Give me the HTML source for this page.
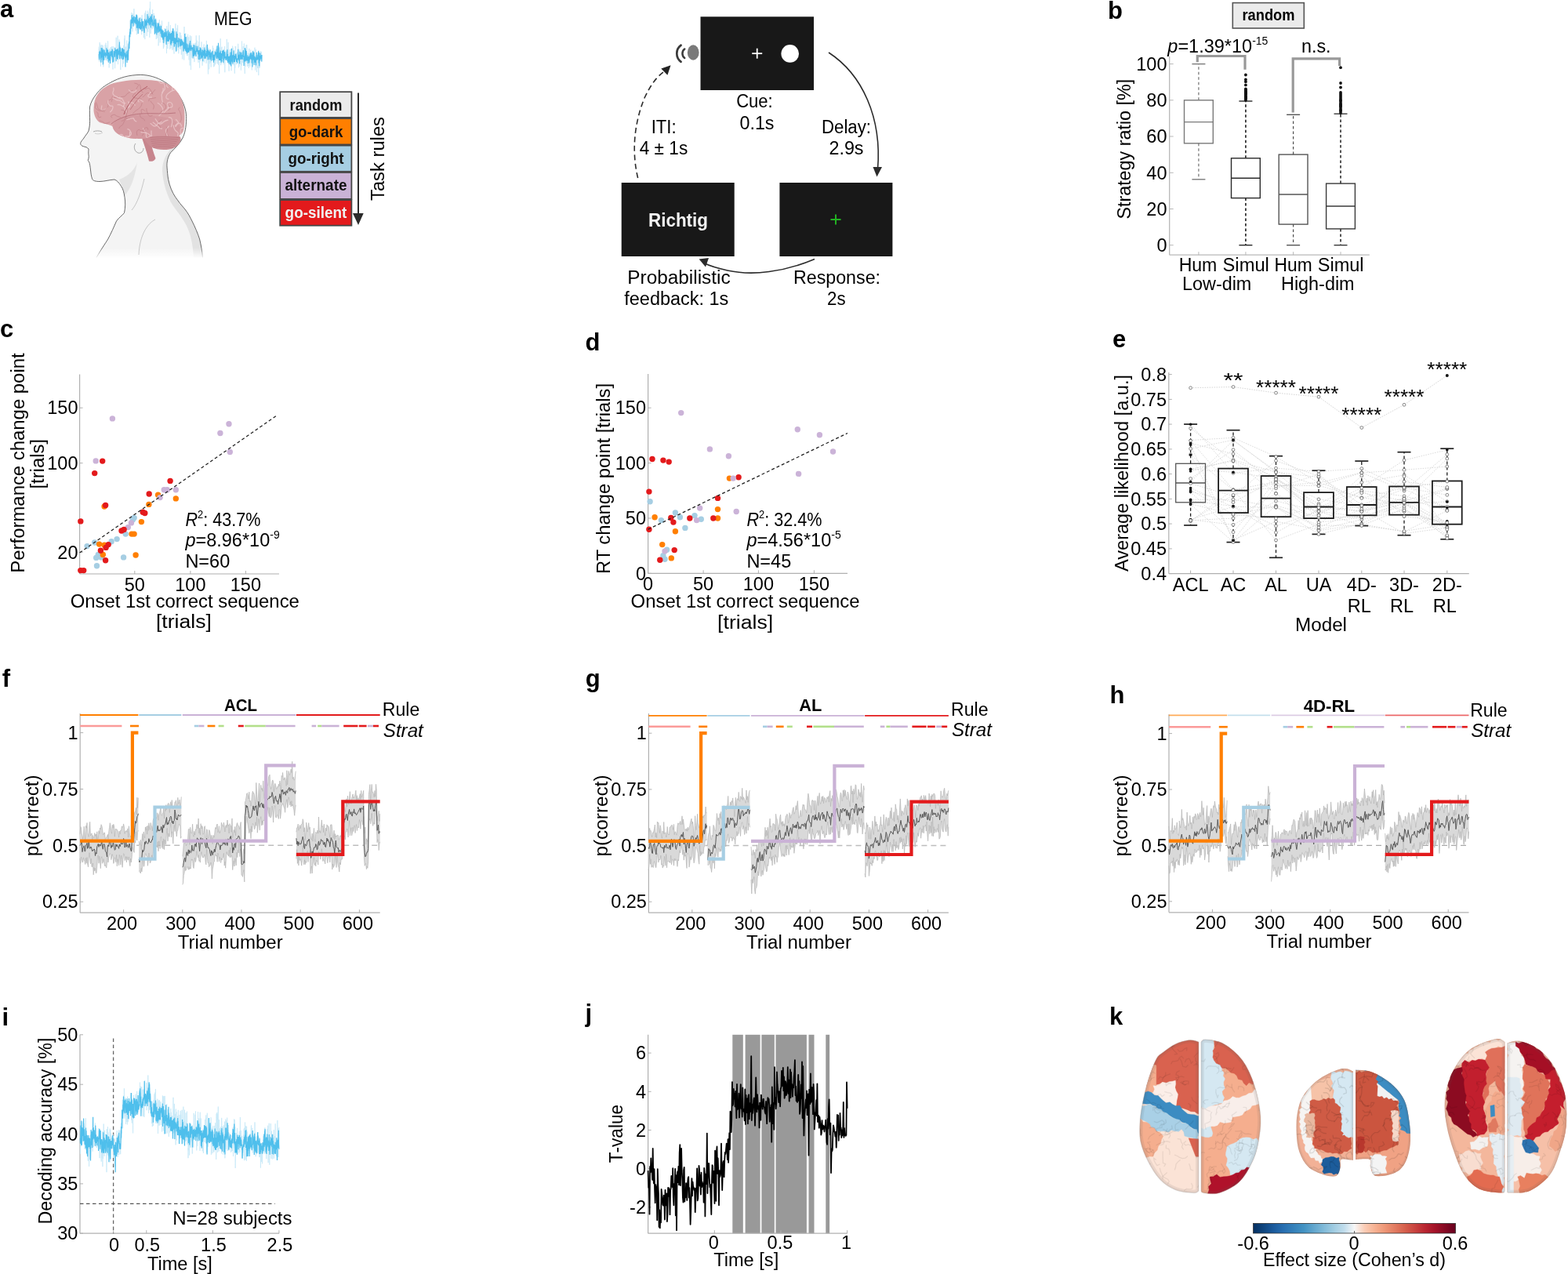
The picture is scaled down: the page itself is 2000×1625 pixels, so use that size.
<!DOCTYPE html>
<html><head><meta charset="utf-8"><title>Figure</title>
<style>html,body{margin:0;padding:0;background:#fff;overflow:hidden;} svg{display:block;} text{font-family:"Liberation Sans", Arial, sans-serif;}</style>
</head><body>
<svg width="2000" height="1625" viewBox="0 0 2000 1625" font-family='"Liberation Sans", Arial, sans-serif'>
<rect width="2000" height="1625" fill="#fff"/>
<polyline points="126.0,59.6 126.2,74.4 126.5,62.0 126.7,76.4 126.9,78.8 127.2,54.0 127.4,68.2 127.6,56.0 127.9,68.9 128.1,77.1 128.3,57.7 128.5,84.6 128.8,66.6 129.0,59.3 129.2,68.6 129.5,76.0 129.7,57.3 129.9,69.1 130.2,57.3 130.4,79.2 130.6,70.3 130.9,65.7 131.1,77.9 131.3,58.2 131.6,66.1 131.8,85.3 132.0,68.6 132.2,81.2 132.5,71.2 132.7,63.7 132.9,67.6 133.2,70.3 133.4,66.1 133.6,62.5 133.9,62.6 134.1,57.0 134.3,70.8 134.6,73.3 134.8,76.3 135.0,54.7 135.3,77.0 135.5,69.8 135.7,57.9 135.9,71.0 136.2,76.8 136.4,74.4 136.6,76.0 136.9,78.0 137.1,77.9 137.3,69.8 137.6,52.4 137.8,63.8 138.0,73.5 138.3,66.4 138.5,76.2 138.7,77.2 139.0,70.8 139.2,86.4 139.4,62.4 139.7,78.3 139.9,66.4 140.1,63.8 140.3,75.5 140.6,64.9 140.8,77.6 141.0,60.2 141.3,70.6 141.5,62.9 141.7,67.8 142.0,66.7 142.2,60.2 142.4,75.3 142.7,59.1 142.9,61.2 143.1,77.0 143.4,77.7 143.6,75.2 143.8,72.2 144.0,88.5 144.3,59.1 144.5,63.0 144.7,60.7 145.0,76.8 145.2,71.6 145.4,78.4 145.7,77.3 145.9,66.6 146.1,61.5 146.4,60.2 146.6,87.2 146.8,76.6 147.1,73.2 147.3,65.3 147.5,66.6 147.7,65.5 148.0,65.6 148.2,47.8 148.4,67.6 148.7,64.6 148.9,70.4 149.1,69.6 149.4,74.8 149.6,67.4 149.8,74.2 150.1,45.7 150.3,57.9 150.5,82.1 150.8,56.9 151.0,64.9 151.2,73.3 151.5,59.7 151.7,73.5 151.9,54.9 152.1,50.5 152.4,55.6 152.6,53.1 152.8,67.0 153.1,64.5 153.3,70.4 153.5,58.5 153.8,89.0 154.0,66.8 154.2,67.4 154.5,71.7 154.7,65.8 154.9,62.6 155.2,68.7 155.4,75.9 155.6,73.7 155.8,76.3 156.1,63.4 156.3,61.4 156.5,85.5 156.8,66.9 157.0,73.0 157.2,75.1 157.5,81.1 157.7,57.8 157.9,65.3 158.2,65.9 158.4,67.1 158.6,49.4 158.9,69.1 159.1,45.3 159.3,72.4 159.5,74.5 159.8,75.5 160.0,60.2 160.2,78.5 160.5,62.7 160.7,59.6 160.9,61.8 161.2,62.6 161.4,71.1 161.6,76.5 161.9,51.5 162.1,64.8 162.3,77.2 162.6,71.1 162.8,73.5 163.0,56.4 163.3,77.0 163.5,55.6 163.7,68.0 163.9,75.2 164.2,76.6 164.4,62.0 164.6,62.4 164.9,46.7 165.1,45.2 165.3,56.5 165.6,43.7 165.8,39.8 166.0,26.1 166.3,38.2 166.5,41.0 166.7,27.0 167.0,27.6 167.2,43.8 167.4,30.3 167.6,24.8 167.9,16.1 168.1,19.8 168.3,23.2 168.6,36.6 168.8,20.1 169.0,40.3 169.3,17.4 169.5,22.5 169.7,32.8 170.0,23.3 170.2,18.5 170.4,24.8 170.7,29.8 170.9,11.1 171.1,23.5 171.3,24.9 171.6,22.4 171.8,32.3 172.0,21.4 172.3,23.1 172.5,26.7 172.7,32.4 173.0,24.3 173.2,39.4 173.4,18.8 173.7,37.6 173.9,19.2 174.1,25.2 174.4,29.6 174.6,44.2 174.8,34.1 175.1,23.0 175.3,37.9 175.5,25.2 175.7,20.6 176.0,31.3 176.2,28.6 176.4,36.0 176.7,23.4 176.9,31.5 177.1,33.9 177.4,31.3 177.6,28.9 177.8,23.3 178.1,37.3 178.3,31.2 178.5,34.4 178.8,27.6 179.0,30.9 179.2,22.1 179.4,31.9 179.7,37.9 179.9,32.5 180.1,39.1 180.4,35.0 180.6,44.2 180.8,31.2 181.1,19.2 181.3,37.2 181.5,32.5 181.8,25.8 182.0,39.8 182.2,36.4 182.5,37.8 182.7,31.0 182.9,35.2 183.1,35.5 183.4,48.1 183.6,27.2 183.8,32.8 184.1,35.6 184.3,17.7 184.5,18.3 184.8,50.1 185.0,16.3 185.2,35.8 185.5,23.7 185.7,24.1 185.9,13.7 186.2,22.5 186.4,36.5 186.6,17.9 186.8,34.2 187.1,32.0 187.3,46.1 187.5,24.7 187.8,39.4 188.0,36.0 188.2,25.6 188.5,13.8 188.7,40.8 188.9,16.1 189.2,23.6 189.4,35.2 189.6,36.9 189.9,20.3 190.1,27.0 190.3,24.8 190.6,36.6 190.8,47.8 191.0,10.7 191.2,34.0 191.5,2.1 191.7,26.0 191.9,16.4 192.2,42.7 192.4,26.8 192.6,19.0 192.9,21.3 193.1,20.4 193.3,26.5 193.6,23.4 193.8,30.2 194.0,37.4 194.3,30.9 194.5,14.8 194.7,12.1 194.9,20.0 195.2,36.0 195.4,24.8 195.6,22.5 195.9,29.8 196.1,17.0 196.3,19.6 196.6,34.0 196.8,27.4 197.0,26.5 197.3,33.4 197.5,25.8 197.7,25.6 198.0,28.0 198.2,37.4 198.4,33.2 198.6,23.0 198.9,31.0 199.1,39.4 199.3,50.0 199.6,24.8 199.8,37.7 200.0,33.0 200.3,42.7 200.5,39.6 200.7,48.6 201.0,40.7 201.2,32.1 201.4,32.4 201.7,40.9 201.9,41.2 202.1,58.4 202.4,52.4 202.6,28.3 202.8,41.7 203.0,27.6 203.3,25.1 203.5,45.8 203.7,44.6 204.0,31.5 204.2,54.4 204.4,32.4 204.7,31.0 204.9,46.6 205.1,43.0 205.4,40.0 205.6,41.3 205.8,44.0 206.1,41.2 206.3,41.2 206.5,26.5 206.7,31.8 207.0,48.5 207.2,37.7 207.4,48.5 207.7,54.5 207.9,41.2 208.1,46.7 208.4,62.1 208.6,50.6 208.8,60.4 209.1,58.0 209.3,51.5 209.5,44.5 209.8,38.4 210.0,36.1 210.2,49.9 210.4,49.6 210.7,44.1 210.9,52.9 211.1,40.9 211.4,55.4 211.6,46.6 211.8,46.0 212.1,46.5 212.3,45.8 212.5,68.1 212.8,33.2 213.0,48.3 213.2,57.4 213.5,53.4 213.7,44.8 213.9,62.1 214.2,38.2 214.4,36.6 214.6,52.7 214.8,35.4 215.1,27.8 215.3,55.6 215.5,54.6 215.8,54.4 216.0,44.1 216.2,49.9 216.5,40.1 216.7,62.9 216.9,54.9 217.2,54.8 217.4,31.9 217.6,55.6 217.9,61.6 218.1,59.3 218.3,55.9 218.5,49.2 218.8,46.1 219.0,54.2 219.2,52.3 219.5,51.2 219.7,46.5 219.9,63.9 220.2,39.9 220.4,49.6 220.6,45.1 220.9,58.9 221.1,62.5 221.3,61.1 221.6,57.0 221.8,38.6 222.0,68.6 222.2,55.2 222.5,50.0 222.7,51.1 222.9,48.0 223.2,54.7 223.4,54.3 223.6,48.6 223.9,30.2 224.1,51.9 224.3,56.5 224.6,56.8 224.8,51.1 225.0,56.4 225.3,61.1 225.5,48.3 225.7,64.8 226.0,35.8 226.2,41.9 226.4,45.1 226.6,32.2 226.9,44.6 227.1,63.7 227.3,63.8 227.6,54.2 227.8,68.3 228.0,55.7 228.3,49.6 228.5,55.8 228.7,52.5 229.0,60.0 229.2,41.1 229.4,62.4 229.7,50.3 229.9,61.7 230.1,41.8 230.3,51.7 230.6,56.1 230.8,63.2 231.0,45.2 231.3,69.7 231.5,59.7 231.7,51.3 232.0,66.1 232.2,56.6 232.4,65.4 232.7,75.4 232.9,62.2 233.1,51.3 233.4,52.2 233.6,61.0 233.8,58.8 234.0,49.4 234.3,50.8 234.5,62.3 234.7,76.5 235.0,34.1 235.2,62.9 235.4,55.0 235.7,63.5 235.9,64.8 236.1,58.0 236.4,49.2 236.6,46.3 236.8,42.4 237.1,68.8 237.3,56.6 237.5,54.1 237.8,56.6 238.0,47.9 238.2,62.1 238.4,70.7 238.7,69.4 238.9,46.3 239.1,71.3 239.4,53.4 239.6,43.7 239.8,49.9 240.1,52.0 240.3,60.1 240.5,51.1 240.8,47.3 241.0,57.8 241.2,76.5 241.5,54.5 241.7,64.7 241.9,61.6 242.1,83.5 242.4,45.0 242.6,70.4 242.8,50.3 243.1,56.3 243.3,60.7 243.5,89.1 243.8,55.7 244.0,46.2 244.2,73.7 244.5,55.5 244.7,60.7 244.9,63.1 245.2,64.7 245.4,62.4 245.6,66.4 245.8,67.6 246.1,71.5 246.3,60.4 246.5,57.8 246.8,55.2 247.0,69.1 247.2,64.0 247.5,69.4 247.7,69.2 247.9,79.1 248.2,66.8 248.4,71.6 248.6,55.3 248.9,56.4 249.1,63.1 249.3,55.6 249.6,71.8 249.8,54.4 250.0,66.6 250.2,45.3 250.5,56.6 250.7,63.4 250.9,64.6 251.2,51.7 251.4,68.0 251.6,75.4 251.9,72.5 252.1,61.6 252.3,62.6 252.6,57.7 252.8,73.0 253.0,79.9 253.3,63.1 253.5,53.2 253.7,69.4 253.9,74.1 254.2,45.1 254.4,69.4 254.6,86.6 254.9,75.2 255.1,73.4 255.3,72.3 255.6,77.6 255.8,60.9 256.0,62.1 256.3,73.0 256.5,64.1 256.7,72.2 257.0,53.4 257.2,75.9 257.4,76.5 257.6,69.8 257.9,71.0 258.1,83.6 258.3,60.6 258.6,62.1 258.8,60.6 259.0,66.3 259.3,61.4 259.5,70.3 259.7,63.9 260.0,57.0 260.2,56.4 260.4,79.4 260.7,68.3 260.9,66.8 261.1,68.7 261.4,67.6 261.6,74.9 261.8,73.5 262.0,64.0 262.3,62.1 262.5,59.6 262.7,58.1 263.0,80.8 263.2,61.2 263.4,51.9 263.7,62.0 263.9,62.7 264.1,72.3 264.4,62.3 264.6,74.3 264.8,73.0 265.1,81.2 265.3,88.7 265.5,94.5 265.7,81.8 266.0,60.7 266.2,67.3 266.4,72.9 266.7,88.3 266.9,76.6 267.1,81.3 267.4,69.9 267.6,76.5 267.8,77.3 268.1,67.2 268.3,77.6 268.5,79.9 268.8,69.4 269.0,79.8 269.2,85.6 269.4,72.2 269.7,71.4 269.9,69.1 270.1,66.3 270.4,73.0 270.6,68.3 270.8,68.9 271.1,65.0 271.3,58.4 271.5,63.5 271.8,74.2 272.0,61.2 272.2,65.8 272.5,85.3 272.7,81.2 272.9,65.7 273.2,76.5 273.4,65.7 273.6,84.5 273.8,65.4 274.1,71.3 274.3,82.4 274.5,63.4 274.8,81.6 275.0,63.6 275.2,72.4 275.5,67.9 275.7,69.6 275.9,71.7 276.2,69.8 276.4,61.5 276.6,77.4 276.9,75.9 277.1,80.7 277.3,81.3 277.5,58.0 277.8,80.5 278.0,81.1 278.2,65.8 278.5,79.4 278.7,82.9 278.9,65.6 279.2,58.6 279.4,67.3 279.6,94.0 279.9,72.5 280.1,60.3 280.3,68.6 280.6,62.4 280.8,67.3 281.0,71.8 281.2,49.2 281.5,74.4 281.7,83.2 281.9,69.8 282.2,68.5 282.4,81.2 282.6,60.9 282.9,61.0 283.1,59.7 283.3,69.9 283.6,74.7 283.8,70.7 284.0,76.3 284.3,79.0 284.5,76.0 284.7,65.0 284.9,69.6 285.2,82.2 285.4,62.6 285.6,69.2 285.9,67.9 286.1,69.8 286.3,61.8 286.6,59.1 286.8,92.2 287.0,78.4 287.3,64.4 287.5,69.9 287.7,75.7 288.0,67.7 288.2,75.9 288.4,65.5 288.7,67.8 288.9,70.1 289.1,66.9 289.3,49.9 289.6,70.9 289.8,73.1 290.0,75.2 290.3,62.8 290.5,74.4 290.7,73.6 291.0,57.2 291.2,53.9 291.4,76.7 291.7,64.4 291.9,81.0 292.1,90.7 292.4,68.0 292.6,66.9 292.8,73.0 293.0,78.6 293.3,63.1 293.5,83.2 293.7,81.0 294.0,78.3 294.2,68.3 294.4,80.5 294.7,80.1 294.9,62.3 295.1,90.2 295.4,69.6 295.6,75.2 295.8,67.4 296.1,75.4 296.3,82.2 296.5,65.7 296.7,58.6 297.0,68.6 297.2,61.2 297.4,65.5 297.7,71.0 297.9,71.6 298.1,83.3 298.4,63.8 298.6,75.3 298.8,68.0 299.1,83.9 299.3,93.7 299.5,75.1 299.8,86.7 300.0,68.0 300.2,59.0 300.5,61.9 300.7,59.0 300.9,64.4 301.1,70.3 301.4,82.4 301.6,78.6 301.8,76.4 302.1,69.1 302.3,66.7 302.5,72.9 302.8,73.6 303.0,74.6 303.2,75.5 303.5,71.3 303.7,55.8 303.9,62.7 304.2,64.8 304.4,86.3 304.6,68.5 304.8,77.9 305.1,84.8 305.3,75.2 305.5,68.8 305.8,69.5 306.0,63.2 306.2,74.6 306.5,82.1 306.7,77.1 306.9,78.7 307.2,78.3 307.4,89.6 307.6,67.4 307.9,74.3 308.1,78.9 308.3,83.6 308.5,52.5 308.8,69.0 309.0,71.6 309.2,64.5 309.5,80.1 309.7,74.5 309.9,69.5 310.2,59.1 310.4,62.0 310.6,64.6 310.9,76.9 311.1,62.7 311.3,55.5 311.6,60.8 311.8,68.0 312.0,87.2 312.3,94.0 312.5,68.7 312.7,80.8 312.9,84.9 313.2,83.7 313.4,71.8 313.6,61.8 313.9,68.8 314.1,57.4 314.3,75.4 314.6,80.0 314.8,57.2 315.0,72.9 315.3,76.0 315.5,84.1 315.7,85.0 316.0,80.3 316.2,67.5 316.4,70.3 316.6,83.8 316.9,68.5 317.1,73.1 317.3,86.9 317.6,74.6 317.8,61.9 318.0,71.1 318.3,78.9 318.5,71.9 318.7,83.5 319.0,84.7 319.2,68.2 319.4,69.7 319.7,73.2 319.9,63.6 320.1,77.0 320.3,72.0 320.6,80.1 320.8,68.6 321.0,66.3 321.3,89.4 321.5,66.2 321.7,68.9 322.0,67.7 322.2,71.6 322.4,66.6 322.7,74.0 322.9,69.0 323.1,71.3 323.4,77.9 323.6,80.7 323.8,78.8 324.1,68.4 324.3,77.9 324.5,73.8 324.7,74.0 325.0,60.7 325.2,81.3 325.4,74.1 325.7,89.6 325.9,80.2 326.1,65.4 326.4,63.2 326.6,84.7 326.8,67.2 327.1,80.3 327.3,72.2 327.5,92.0 327.8,74.8 328.0,87.0 328.2,85.4 328.4,70.0 328.7,71.4 328.9,87.0 329.1,74.4 329.4,66.9 329.6,84.6 329.8,96.1 330.1,74.1 330.3,86.4 330.5,73.2 330.8,86.4 331.0,72.9 331.2,86.3 331.5,79.4 331.7,73.3 331.9,76.6 332.1,70.2 332.4,65.3 332.6,65.8 332.8,74.4 333.1,65.9 333.3,78.5 333.5,79.1 333.8,78.5 334.0,70.4" fill="none" stroke="#c8e9f8" stroke-width="0.8"/>
<polyline points="126.0,69.9 126.2,69.5 126.5,76.4 126.7,65.7 126.9,67.8 127.2,68.5 127.4,69.1 127.6,66.1 127.9,66.7 128.1,74.8 128.3,66.6 128.5,74.4 128.8,79.8 129.0,76.2 129.2,61.1 129.5,73.6 129.7,71.9 129.9,72.3 130.2,61.3 130.4,73.3 130.6,64.0 130.9,76.2 131.1,75.0 131.3,82.4 131.6,68.0 131.8,62.5 132.0,75.4 132.2,74.5 132.5,68.1 132.7,77.0 132.9,73.7 133.2,63.7 133.4,68.3 133.6,67.7 133.9,69.2 134.1,71.1 134.3,66.9 134.6,69.4 134.8,73.4 135.0,70.2 135.3,69.3 135.5,68.9 135.7,70.0 135.9,61.1 136.2,71.2 136.4,65.3 136.6,70.8 136.9,63.1 137.1,75.3 137.3,71.8 137.6,63.8 137.8,72.0 138.0,67.1 138.3,79.8 138.5,73.3 138.7,66.9 139.0,72.0 139.2,70.8 139.4,77.1 139.7,72.7 139.9,73.4 140.1,65.4 140.3,74.9 140.6,81.1 140.8,73.9 141.0,70.4 141.3,71.6 141.5,65.8 141.7,71.2 142.0,64.9 142.2,70.5 142.4,68.3 142.7,66.0 142.9,72.9 143.1,62.5 143.4,69.7 143.6,63.4 143.8,79.0 144.0,79.5 144.3,74.1 144.5,79.3 144.7,72.6 145.0,72.4 145.2,67.5 145.4,65.0 145.7,70.1 145.9,66.3 146.1,66.8 146.4,72.7 146.6,68.2 146.8,61.1 147.1,67.5 147.3,64.8 147.5,67.2 147.7,63.4 148.0,74.8 148.2,78.2 148.4,63.0 148.7,71.6 148.9,71.4 149.1,62.9 149.4,68.5 149.6,75.0 149.8,72.1 150.1,76.0 150.3,61.8 150.5,64.1 150.8,69.2 151.0,69.5 151.2,67.8 151.5,65.7 151.7,65.8 151.9,64.4 152.1,69.4 152.4,53.5 152.6,75.6 152.8,64.9 153.1,60.4 153.3,70.7 153.5,60.7 153.8,69.7 154.0,65.9 154.2,71.0 154.5,72.1 154.7,74.7 154.9,65.8 155.2,66.8 155.4,68.4 155.6,61.3 155.8,71.6 156.1,69.2 156.3,61.6 156.5,74.9 156.8,76.0 157.0,62.7 157.2,72.0 157.5,75.5 157.7,73.7 157.9,64.7 158.2,62.9 158.4,69.3 158.6,67.7 158.9,70.1 159.1,69.7 159.3,72.8 159.5,67.4 159.8,69.8 160.0,85.5 160.2,70.0 160.5,73.9 160.7,71.7 160.9,71.5 161.2,65.5 161.4,72.4 161.6,69.4 161.9,73.7 162.1,79.9 162.3,70.7 162.6,73.4 162.8,64.2 163.0,69.9 163.3,76.8 163.5,68.7 163.7,63.3 163.9,64.8 164.2,59.8 164.4,56.6 164.6,53.1 164.9,61.9 165.1,45.1 165.3,44.7 165.6,40.9 165.8,47.2 166.0,36.8 166.3,43.6 166.5,36.4 166.7,33.7 167.0,24.7 167.2,36.5 167.4,31.6 167.6,29.4 167.9,25.2 168.1,23.1 168.3,19.1 168.6,29.8 168.8,26.7 169.0,23.3 169.3,22.3 169.5,26.2 169.7,25.3 170.0,33.7 170.2,29.6 170.4,23.0 170.7,20.5 170.9,24.6 171.1,21.1 171.3,26.3 171.6,27.9 171.8,29.4 172.0,28.4 172.3,25.4 172.5,29.5 172.7,21.9 173.0,25.9 173.2,30.7 173.4,28.1 173.7,20.4 173.9,20.9 174.1,18.6 174.4,35.7 174.6,19.1 174.8,26.0 175.1,35.8 175.3,32.4 175.5,33.8 175.7,24.9 176.0,31.3 176.2,43.1 176.4,27.8 176.7,30.3 176.9,26.9 177.1,28.6 177.4,31.0 177.6,36.3 177.8,24.9 178.1,22.6 178.3,30.3 178.5,31.4 178.8,37.8 179.0,34.6 179.2,28.0 179.4,34.2 179.7,37.1 179.9,33.3 180.1,30.3 180.4,35.9 180.6,31.0 180.8,23.7 181.1,39.9 181.3,27.2 181.5,32.4 181.8,32.6 182.0,32.8 182.2,32.9 182.5,27.0 182.7,36.6 182.9,33.8 183.1,33.7 183.4,38.6 183.6,38.6 183.8,39.7 184.1,41.9 184.3,34.8 184.5,24.3 184.8,32.9 185.0,31.5 185.2,31.4 185.5,28.1 185.7,26.3 185.9,34.6 186.2,35.1 186.4,24.4 186.6,32.5 186.8,28.4 187.1,27.6 187.3,32.5 187.5,28.6 187.8,26.0 188.0,28.9 188.2,18.1 188.5,25.1 188.7,25.9 188.9,20.8 189.2,28.7 189.4,29.1 189.6,24.5 189.9,26.7 190.1,30.7 190.3,32.4 190.6,22.9 190.8,28.3 191.0,31.5 191.2,26.1 191.5,22.5 191.7,22.1 191.9,24.3 192.2,20.6 192.4,35.5 192.6,22.5 192.9,27.5 193.1,26.2 193.3,28.1 193.6,22.9 193.8,18.1 194.0,32.5 194.3,24.5 194.5,25.8 194.7,26.9 194.9,32.7 195.2,30.9 195.4,33.5 195.6,32.3 195.9,29.4 196.1,30.3 196.3,25.5 196.6,19.9 196.8,28.8 197.0,25.0 197.3,43.7 197.5,38.6 197.7,37.3 198.0,29.2 198.2,42.6 198.4,24.2 198.6,27.1 198.9,29.7 199.1,29.1 199.3,34.7 199.6,35.5 199.8,44.4 200.0,40.2 200.3,41.8 200.5,37.8 200.7,35.4 201.0,32.9 201.2,29.2 201.4,32.6 201.7,35.5 201.9,41.7 202.1,29.6 202.4,31.4 202.6,39.4 202.8,33.5 203.0,40.6 203.3,37.1 203.5,35.7 203.7,33.2 204.0,39.8 204.2,36.8 204.4,37.6 204.7,37.8 204.9,42.0 205.1,41.8 205.4,32.8 205.6,41.1 205.8,44.1 206.1,47.6 206.3,46.6 206.5,43.6 206.7,37.5 207.0,39.5 207.2,48.3 207.4,40.3 207.7,49.2 207.9,50.6 208.1,39.0 208.4,46.7 208.6,44.1 208.8,54.9 209.1,49.2 209.3,42.5 209.5,47.5 209.8,41.0 210.0,44.8 210.2,46.8 210.4,46.3 210.7,47.1 210.9,41.1 211.1,36.8 211.4,44.2 211.6,41.8 211.8,42.8 212.1,57.1 212.3,52.5 212.5,46.0 212.8,39.7 213.0,40.4 213.2,48.7 213.5,52.6 213.7,45.9 213.9,48.0 214.2,48.5 214.4,53.0 214.6,38.4 214.8,48.5 215.1,50.0 215.3,52.8 215.5,50.1 215.8,42.7 216.0,45.3 216.2,40.8 216.5,49.3 216.7,49.1 216.9,50.8 217.2,43.6 217.4,42.8 217.6,56.3 217.9,49.8 218.1,57.7 218.3,51.3 218.5,41.9 218.8,53.0 219.0,55.3 219.2,46.8 219.5,39.5 219.7,52.5 219.9,48.9 220.2,51.2 220.4,36.3 220.6,52.4 220.9,36.3 221.1,46.0 221.3,54.9 221.6,41.5 221.8,41.2 222.0,48.6 222.2,59.1 222.5,59.0 222.7,47.9 222.9,55.9 223.2,54.0 223.4,53.0 223.6,53.4 223.9,48.5 224.1,56.2 224.3,57.8 224.6,65.8 224.8,57.0 225.0,40.3 225.3,46.4 225.5,54.0 225.7,52.7 226.0,43.1 226.2,51.9 226.4,51.0 226.6,52.7 226.9,52.5 227.1,57.6 227.3,60.5 227.6,56.8 227.8,48.1 228.0,49.4 228.3,50.5 228.5,53.4 228.7,51.6 229.0,52.0 229.2,49.2 229.4,58.6 229.7,58.5 229.9,59.2 230.1,54.4 230.3,57.5 230.6,50.8 230.8,50.5 231.0,52.8 231.3,58.4 231.5,54.8 231.7,50.0 232.0,56.2 232.2,57.8 232.4,56.4 232.7,52.3 232.9,55.9 233.1,53.6 233.4,54.1 233.6,55.6 233.8,60.1 234.0,65.6 234.3,64.2 234.5,59.8 234.7,54.6 235.0,54.9 235.2,55.4 235.4,62.5 235.7,43.1 235.9,58.7 236.1,47.6 236.4,57.8 236.6,64.8 236.8,53.8 237.1,47.0 237.3,64.8 237.5,66.2 237.8,61.4 238.0,65.6 238.2,55.5 238.4,65.4 238.7,68.2 238.9,62.8 239.1,61.1 239.4,66.4 239.6,65.6 239.8,56.6 240.1,67.0 240.3,63.9 240.5,60.7 240.8,66.7 241.0,64.7 241.2,63.9 241.5,57.9 241.7,64.9 241.9,55.3 242.1,60.3 242.4,52.7 242.6,52.6 242.8,63.4 243.1,60.9 243.3,62.0 243.5,65.0 243.8,64.0 244.0,57.8 244.2,63.1 244.5,62.3 244.7,60.2 244.9,62.7 245.2,62.0 245.4,60.6 245.6,62.4 245.8,65.5 246.1,74.5 246.3,60.0 246.5,66.8 246.8,57.0 247.0,72.0 247.2,62.8 247.5,65.4 247.7,71.0 247.9,69.7 248.2,57.6 248.4,68.0 248.6,64.4 248.9,68.6 249.1,66.5 249.3,69.6 249.6,67.4 249.8,65.0 250.0,71.9 250.2,58.5 250.5,63.8 250.7,61.5 250.9,66.1 251.2,64.8 251.4,66.3 251.6,64.7 251.9,64.6 252.1,59.0 252.3,67.4 252.6,69.3 252.8,64.7 253.0,64.3 253.3,64.4 253.5,76.0 253.7,68.7 253.9,70.0 254.2,66.7 254.4,65.8 254.6,63.8 254.9,76.0 255.1,60.2 255.3,70.3 255.6,68.4 255.8,67.6 256.0,61.4 256.3,63.4 256.5,74.9 256.7,66.5 257.0,74.0 257.2,72.8 257.4,72.2 257.6,73.3 257.9,63.5 258.1,67.5 258.3,73.2 258.6,63.6 258.8,78.2 259.0,67.1 259.3,69.7 259.5,64.8 259.7,71.2 260.0,65.6 260.2,68.3 260.4,63.4 260.7,74.8 260.9,60.6 261.1,70.7 261.4,69.5 261.6,70.7 261.8,63.6 262.0,74.2 262.3,73.9 262.5,69.7 262.7,70.3 263.0,68.1 263.2,72.2 263.4,65.0 263.7,72.0 263.9,71.4 264.1,62.4 264.4,56.7 264.6,69.2 264.8,68.9 265.1,76.5 265.3,70.6 265.5,67.8 265.7,63.6 266.0,70.1 266.2,67.8 266.4,65.3 266.7,70.2 266.9,76.1 267.1,71.6 267.4,66.2 267.6,73.1 267.8,65.7 268.1,63.2 268.3,73.4 268.5,68.0 268.8,76.3 269.0,72.7 269.2,67.6 269.4,72.7 269.7,77.8 269.9,70.8 270.1,66.2 270.4,68.4 270.6,67.7 270.8,65.7 271.1,65.1 271.3,73.6 271.5,77.0 271.8,69.6 272.0,75.2 272.2,75.8 272.5,79.8 272.7,70.7 272.9,69.9 273.2,73.5 273.4,71.7 273.6,72.2 273.8,76.9 274.1,68.4 274.3,71.8 274.5,65.5 274.8,69.7 275.0,67.2 275.2,66.6 275.5,69.3 275.7,68.1 275.9,72.2 276.2,74.4 276.4,62.7 276.6,75.1 276.9,58.6 277.1,71.0 277.3,73.1 277.5,66.1 277.8,68.5 278.0,66.2 278.2,74.8 278.5,54.7 278.7,65.6 278.9,60.5 279.2,71.2 279.4,76.9 279.6,76.2 279.9,73.8 280.1,71.8 280.3,66.9 280.6,77.0 280.8,73.8 281.0,66.8 281.2,64.6 281.5,68.2 281.7,76.6 281.9,77.7 282.2,79.8 282.4,68.1 282.6,69.8 282.9,78.5 283.1,72.7 283.3,75.1 283.6,64.8 283.8,69.6 284.0,71.5 284.3,70.1 284.5,69.7 284.7,63.7 284.9,80.0 285.2,72.3 285.4,64.2 285.6,76.8 285.9,71.8 286.1,74.9 286.3,70.1 286.6,66.7 286.8,66.8 287.0,72.1 287.3,74.3 287.5,72.9 287.7,73.3 288.0,76.7 288.2,72.1 288.4,75.8 288.7,76.5 288.9,72.4 289.1,70.5 289.3,68.7 289.6,64.8 289.8,63.3 290.0,77.9 290.3,71.4 290.5,68.9 290.7,79.9 291.0,77.3 291.2,73.1 291.4,77.8 291.7,71.7 291.9,74.5 292.1,81.8 292.4,78.4 292.6,71.7 292.8,76.8 293.0,79.1 293.3,72.4 293.5,70.9 293.7,82.3 294.0,71.5 294.2,66.6 294.4,73.8 294.7,84.6 294.9,76.1 295.1,77.6 295.4,61.7 295.6,69.8 295.8,78.4 296.1,70.6 296.3,79.5 296.5,75.5 296.7,75.3 297.0,81.4 297.2,70.4 297.4,70.3 297.7,73.2 297.9,73.9 298.1,64.5 298.4,79.2 298.6,74.1 298.8,72.2 299.1,76.1 299.3,70.9 299.5,79.2 299.8,73.5 300.0,76.8 300.2,68.9 300.5,71.9 300.7,75.0 300.9,68.4 301.1,69.7 301.4,73.0 301.6,78.9 301.8,76.9 302.1,77.9 302.3,75.0 302.5,77.7 302.8,80.7 303.0,73.9 303.2,75.1 303.5,75.8 303.7,62.8 303.9,72.3 304.2,74.6 304.4,76.3 304.6,71.2 304.8,77.6 305.1,69.7 305.3,72.1 305.5,81.2 305.8,65.8 306.0,72.1 306.2,71.9 306.5,72.6 306.7,70.1 306.9,75.9 307.2,67.4 307.4,66.5 307.6,75.7 307.9,67.5 308.1,75.2 308.3,73.5 308.5,70.2 308.8,72.2 309.0,73.3 309.2,75.9 309.5,70.2 309.7,72.0 309.9,66.1 310.2,72.0 310.4,64.0 310.6,73.1 310.9,71.1 311.1,83.9 311.3,79.8 311.6,72.7 311.8,78.1 312.0,74.6 312.3,67.2 312.5,60.9 312.7,78.6 312.9,75.2 313.2,63.2 313.4,76.2 313.6,77.6 313.9,69.7 314.1,77.4 314.3,65.0 314.6,72.5 314.8,73.7 315.0,77.4 315.3,75.7 315.5,74.8 315.7,76.2 316.0,70.4 316.2,80.9 316.4,71.9 316.6,77.7 316.9,73.8 317.1,72.4 317.3,76.7 317.6,75.9 317.8,80.4 318.0,79.1 318.3,70.8 318.5,76.2 318.7,74.3 319.0,69.9 319.2,68.4 319.4,75.3 319.7,71.6 319.9,67.0 320.1,73.5 320.3,74.8 320.6,74.1 320.8,67.8 321.0,71.0 321.3,80.7 321.5,69.9 321.7,72.4 322.0,85.5 322.2,76.0 322.4,72.0 322.7,64.7 322.9,76.6 323.1,68.0 323.4,74.7 323.6,70.5 323.8,66.5 324.1,83.0 324.3,74.0 324.5,79.5 324.7,78.6 325.0,71.7 325.2,76.1 325.4,73.6 325.7,79.9 325.9,77.0 326.1,73.2 326.4,83.2 326.6,77.5 326.8,77.0 327.1,70.6 327.3,76.8 327.5,66.8 327.8,76.4 328.0,69.5 328.2,75.0 328.4,72.6 328.7,75.3 328.9,76.2 329.1,74.0 329.4,73.9 329.6,66.9 329.8,64.7 330.1,80.6 330.3,77.2 330.5,67.0 330.8,84.2 331.0,71.1 331.2,77.2 331.5,76.6 331.7,75.1 331.9,77.3 332.1,67.6 332.4,74.3 332.6,73.2 332.8,74.9 333.1,73.1 333.3,71.1 333.5,70.5 333.8,78.4 334.0,69.9" fill="none" stroke="#4dbdec" stroke-width="1.1"/>
<text x="273.0" y="32.0" font-size="23.5" textLength="48.5" lengthAdjust="spacingAndGlyphs">MEG</text>
<path d="M123,328.5 C129,318 134,311 137.7,305 C142,297 145,290 148.5,282 C152,277 156,275 158.5,271.5 C160,265 160,257 159,251.5 C158,245 157,241 154.6,237.7 C152,233 149,230 146,229 C139,229.5 133,231.5 127,231.5 C122,231.5 118.5,230.5 117.7,228.5 C116,224 116,220 115.4,216 C115,212 114.5,209 113.8,207 C113,205.5 112,205 112.3,204 C113,202 113.5,200 113,197.7 C112.5,195 113,192 113,190 C112,189 111,188.3 110,187.7 C107,187 105,186.5 103.8,185.4 C102.5,184.3 102.5,183 103,181.5 C104.5,179 106,177.5 107,176 C109.5,172 112,169.5 113,167 C114,163 114.6,159 114.6,154.6 C114.6,148 114,142 114.6,136 C116,130 119,125 122.3,120.8 C128,113 134,109 140.8,105.4 C152,99 165,95.5 179.2,95.4 C200,95.5 222,108 232,128 C236,136 238,144 237.7,151.5 C237.5,162 236,170 233,176 C229,184 223,189 217.7,194.6 C214,200 212.5,207 213,213 C213.5,219 213.8,224 214.6,228.5 C216.5,238 219.5,245 223.8,251.5 C227.5,257 231.5,262 236,267 C240,272 242.5,277 245,282 C249,290 252,297 254.6,305 C256.5,313 257.8,320 258.5,328.5 Z" fill="#f4f4f4"/>
<path d="M233,176 C229,184 223,189 217.7,194.6 C214,200 212.5,207 213,213 C213.5,219 213.8,224 214.6,228.5 C216.5,238 219.5,245 223.8,251.5 C227.5,257 231.5,262 236,267 C240,272 242.5,277 245,282 C249,290 252,297 254.6,305 C256.5,313 257.8,320 258.5,328.5 L247,328.5 C246,312 243,298 238,288 C232,276 224,268 218,258 C212,246 208,232 207,218 C207,205 212,196 220,188 Z" fill="#e2e2e2"/>
<path d="M175,207 C172,216 165,224 152,229 C155,236 157,242 159,250 C168,238 172,226 175,207 Z" fill="#e4e4e4"/>
<path d="M123,328.5 C129,318 134,311 137.7,305 C142,297 145,290 148.5,282 C152,277 156,275 158.5,271.5 C160,265 160,257 159,251.5 C158,245 157,241 154.6,237.7 C152,233 149,230 146,229 C139,229.5 133,231.5 127,231.5 C122,231.5 118.5,230.5 117.7,228.5 C116,224 116,220 115.4,216 C115,212 114.5,209 113.8,207 C113,205.5 112,205 112.3,204 C113,202 113.5,200 113,197.7 C112.5,195 113,192 113,190 C112,189 111,188.3 110,187.7 C107,187 105,186.5 103.8,185.4 C102.5,184.3 102.5,183 103,181.5 C104.5,179 106,177.5 107,176 C109.5,172 112,169.5 113,167 C114,163 114.6,159 114.6,154.6 C114.6,148 114,142 114.6,136 C116,130 119,125 122.3,120.8 C128,113 134,109 140.8,105.4 C152,99 165,95.5 179.2,95.4 C200,95.5 222,108 232,128 C236,136 238,144 237.7,151.5 C237.5,162 236,170 233,176 C229,184 223,189 217.7,194.6 C214,200 212.5,207 213,213 C213.5,219 213.8,224 214.6,228.5 C216.5,238 219.5,245 223.8,251.5 C227.5,257 231.5,262 236,267 C240,272 242.5,277 245,282 C249,290 252,297 254.6,305 C256.5,313 257.8,320 258.5,328.5" fill="none" stroke="#5a5a5a" stroke-width="0.9"/>
<defs><linearGradient id="fadeb" x1="0" x2="0" y1="0" y2="1"><stop offset="0" stop-color="#fff" stop-opacity="0"/><stop offset="1" stop-color="#fff" stop-opacity="1"/></linearGradient></defs>
<rect x="115.0" y="316.0" width="150.0" height="14.0" fill="url(#fadeb)"/>
<path d="M173,183 C170,186 171,193 176,195 C180,196 183,193 183,189" fill="none" stroke="#777" stroke-width="0.6"/>
<path d="M119,168 C122,166.5 127,166.5 130,168" fill="none" stroke="#888" stroke-width="0.7"/>
<path d="M121,170 C124,171.5 128,171 131,169" fill="none" stroke="#aaa" stroke-width="0.5"/>
<path d="M184,228 C180,245 175,260 168,268" fill="none" stroke="#999" stroke-width="0.5"/>
<path d="M198,280 C188,285 178,300 177,325" fill="none" stroke="#999" stroke-width="0.5"/>
<path d="M181,176 L191,176 C193,186 196,195 198.5,202 C197,205.5 193,206.5 190,205.5 C188,197 185,188 181,176 Z" fill="#c7858d"/>
<path d="M183,175 C188,170 205,169 218,170.5 C226,171.5 231,173 230.5,178 C229.5,184 224,189 216,190.5 C207,192 199,190.5 194,188 C189,185 185,180 183,175 Z" fill="#cb8c93"/>
<path d="M191.0,175.5 C201,174.3 214,174.0 229.0,175.8" fill="none" stroke="#b57079" stroke-width="0.55"/>
<path d="M191.8,178.0 C201,176.8 214,176.5 227.4,178.3" fill="none" stroke="#b57079" stroke-width="0.55"/>
<path d="M192.6,180.5 C201,179.3 214,179.0 225.8,180.8" fill="none" stroke="#b57079" stroke-width="0.55"/>
<path d="M193.4,183.0 C201,181.8 214,181.5 224.2,183.3" fill="none" stroke="#b57079" stroke-width="0.55"/>
<path d="M194.2,185.5 C201,184.3 214,184.0 222.6,185.8" fill="none" stroke="#b57079" stroke-width="0.55"/>
<path d="M195.0,188.0 C201,186.8 214,186.5 221.0,188.3" fill="none" stroke="#b57079" stroke-width="0.55"/>
<path d="M122,125 C128,112 140,106 155,104 C170,101 190,101 205,104 C218,107 228,116 232,128 C236,138 236,150 235,160 C234.5,168 232,172 226,174 C215,174 200,172 190,175 C184,177 180,177 176,177 C170,177 162,176 156,173.5 C149,171 145,167 143.5,161 C140,159 134,158 128,156.5 C123,154 120,148 119.5,141 C119.5,135 120,130 122,125 Z" fill="#d9a2a6"/>
<path d="M143.5,161 C146,152 156,148 170,147 C185,146 200,148 212,150 C222,152 229,158 231,166 C231,170 229,173 226,174 C215,174 200,172 190,175 C184,177 180,177 176,177 C170,177 162,176 156,173.5 C149,171 145,167 143.5,161 Z" fill="#d49aa0"/>
<defs><clipPath id="brainclip"><path d="M122,125 C128,112 140,106 155,104 C170,101 190,101 205,104 C218,107 228,116 232,128 C236,138 236,150 235,160 C234.5,168 232,172 226,174 C215,174 200,172 190,175 C184,177 180,177 176,177 C170,177 162,176 156,173.5 C149,171 145,167 143.5,161 C140,159 134,158 128,156.5 C123,154 120,148 119.5,141 C119.5,135 120,130 122,125 Z"/></clipPath></defs>
<g clip-path="url(#brainclip)">
<path d="M191.8,180.9 Q191.2,177.9 189.9,177.1 Q188.6,176.3 187.4,175.4 Q186.2,174.5 186.4,173.0 Q186.6,171.6 186.2,170.1 Q185.8,168.7 184.7,167.6 Q183.7,166.5 183.2,165.1 L182.6,163.7" fill="none" stroke="#ebc8cb" stroke-width="1.3" stroke-linecap="round" opacity="0.75"/>
<path d="M150.9,123.7 Q148.1,124.8 146.6,124.5 Q145.1,124.2 144.2,125.4 Q143.2,126.5 142.7,128.0 L142.3,129.4" fill="none" stroke="#bf7a82" stroke-width="0.7" stroke-linecap="round" opacity="0.8"/>
<path d="M191.4,189.0 Q194.2,190.0 195.5,190.8 Q196.8,191.6 198.0,192.5 Q199.1,193.5 200.4,194.2 Q201.7,195.0 201.8,193.5 Q202.0,192.0 201.5,190.6 Q201.0,189.2 200.4,187.8 L199.9,186.4" fill="none" stroke="#ebc8cb" stroke-width="1.3" stroke-linecap="round" opacity="0.75"/>
<path d="M178.7,145.2 Q178.4,148.2 179.3,149.4 Q180.2,150.5 181.7,150.9 Q183.2,151.3 183.9,152.6 L184.5,153.9" fill="none" stroke="#bf7a82" stroke-width="0.7" stroke-linecap="round" opacity="0.8"/>
<path d="M161.6,101.3 Q162.8,98.6 163.5,97.3 Q164.3,96.0 165.0,94.7 Q165.8,93.4 165.2,92.0 Q164.6,90.7 164.1,89.3 Q163.5,87.9 164.5,86.7 L165.5,85.6" fill="none" stroke="#ebc8cb" stroke-width="1.3" stroke-linecap="round" opacity="0.75"/>
<path d="M128.8,149.2 Q126.1,150.5 125.5,149.1 Q124.9,147.8 125.1,146.3 Q125.4,144.8 124.3,143.8 L123.3,142.7" fill="none" stroke="#bf7a82" stroke-width="0.7" stroke-linecap="round" opacity="0.8"/>
<path d="M163.7,129.8 Q165.6,132.1 165.8,133.6 Q166.1,135.1 164.8,135.9 Q163.5,136.7 162.9,138.0 Q162.2,139.3 161.3,140.6 L160.4,141.8" fill="none" stroke="#ebc8cb" stroke-width="1.3" stroke-linecap="round" opacity="0.75"/>
<path d="M197.8,114.4 Q195.8,116.7 195.0,117.9 Q194.2,119.2 192.7,119.6 Q191.3,120.0 190.1,119.1 Q188.9,118.2 187.5,118.8 Q186.1,119.4 185.4,120.7 Q184.7,122.0 183.4,122.8 L182.1,123.6" fill="none" stroke="#bf7a82" stroke-width="0.7" stroke-linecap="round" opacity="0.8"/>
<path d="M221.1,159.9 Q221.7,162.9 222.4,164.2 Q223.0,165.6 224.1,166.7 Q225.1,167.8 226.3,168.6 Q227.5,169.5 227.1,171.0 Q226.7,172.4 226.8,173.9 Q226.9,175.4 227.4,176.8 L227.9,178.3" fill="none" stroke="#ebc8cb" stroke-width="1.3" stroke-linecap="round" opacity="0.75"/>
<path d="M139.3,179.7 Q136.3,179.7 134.8,179.7 Q133.3,179.7 131.9,180.3 Q130.5,180.8 129.2,180.0 Q128.0,179.2 127.3,177.9 Q126.6,176.5 125.9,175.2 Q125.1,173.9 125.2,172.4 L125.2,170.9" fill="none" stroke="#bf7a82" stroke-width="0.7" stroke-linecap="round" opacity="0.8"/>
<path d="M182.6,129.7 Q180.1,128.1 179.0,127.0 Q178.0,125.9 176.7,126.7 Q175.4,127.4 176.3,128.7 L177.1,129.9" fill="none" stroke="#ebc8cb" stroke-width="1.3" stroke-linecap="round" opacity="0.75"/>
<path d="M195.6,139.1 Q196.7,136.3 196.3,134.9 Q195.9,133.4 194.8,132.4 Q193.7,131.3 192.8,130.1 L192.0,128.9" fill="none" stroke="#bf7a82" stroke-width="0.7" stroke-linecap="round" opacity="0.8"/>
<path d="M159.9,147.2 Q161.4,144.6 160.9,143.2 Q160.5,141.7 159.9,140.3 Q159.4,138.9 158.9,137.5 Q158.3,136.1 156.9,135.6 Q155.6,135.0 154.3,134.2 Q153.0,133.4 151.6,133.5 L150.1,133.7" fill="none" stroke="#ebc8cb" stroke-width="1.3" stroke-linecap="round" opacity="0.75"/>
<path d="M214.2,102.3 Q211.4,101.3 209.9,100.9 Q208.5,100.6 208.1,102.0 Q207.8,103.5 208.8,104.7 Q209.7,105.8 210.3,107.2 Q210.9,108.6 212.2,107.8 Q213.5,107.0 215.0,107.3 L216.5,107.5" fill="none" stroke="#bf7a82" stroke-width="0.7" stroke-linecap="round" opacity="0.8"/>
<path d="M158.8,185.4 Q156.3,183.8 155.1,184.7 Q153.9,185.6 152.5,185.1 Q151.1,184.6 151.0,183.1 Q150.9,181.6 150.7,180.2 Q150.5,178.7 149.9,177.3 Q149.4,175.9 148.7,174.5 L148.0,173.2" fill="none" stroke="#ebc8cb" stroke-width="1.3" stroke-linecap="round" opacity="0.75"/>
<path d="M205.6,152.7 Q203.0,154.1 202.4,155.5 Q201.8,156.8 201.9,158.3 Q202.0,159.8 203.3,160.5 Q204.6,161.2 204.7,162.7 L204.9,164.2" fill="none" stroke="#bf7a82" stroke-width="0.7" stroke-linecap="round" opacity="0.8"/>
<path d="M179.3,185.6 Q180.1,188.5 181.0,189.7 Q182.0,190.8 183.0,192.0 Q183.9,193.1 185.2,193.9 Q186.4,194.8 187.9,195.2 Q189.3,195.7 190.4,194.7 Q191.4,193.6 191.7,192.2 L191.9,190.7" fill="none" stroke="#ebc8cb" stroke-width="1.3" stroke-linecap="round" opacity="0.75"/>
<path d="M143.1,182.5 Q145.3,180.5 146.7,181.0 Q148.1,181.6 149.2,180.6 Q150.3,179.5 151.2,178.3 Q152.0,177.1 152.2,175.6 Q152.4,174.1 151.0,173.7 Q149.5,173.3 148.6,172.1 L147.6,171.0" fill="none" stroke="#bf7a82" stroke-width="0.7" stroke-linecap="round" opacity="0.8"/>
<path d="M192.1,157.5 Q194.4,159.5 195.6,160.4 Q196.8,161.2 198.3,160.8 Q199.7,160.4 200.2,159.0 Q200.7,157.6 202.1,157.3 Q203.6,157.0 204.9,156.2 L206.1,155.4" fill="none" stroke="#ebc8cb" stroke-width="1.3" stroke-linecap="round" opacity="0.75"/>
<path d="M212.6,179.1 Q209.7,179.9 208.3,179.5 Q206.8,179.2 205.3,179.2 Q203.8,179.2 202.3,179.3 L200.9,179.5" fill="none" stroke="#bf7a82" stroke-width="0.7" stroke-linecap="round" opacity="0.8"/>
<path d="M147.8,123.1 Q150.1,125.1 151.5,124.6 Q152.9,124.0 154.2,124.6 Q155.6,125.1 156.2,126.5 Q156.9,127.9 157.6,129.2 Q158.4,130.5 158.5,132.0 Q158.7,133.4 157.9,134.7 L157.1,136.0" fill="none" stroke="#ebc8cb" stroke-width="1.3" stroke-linecap="round" opacity="0.75"/>
<path d="M181.5,173.2 Q183.3,170.8 182.8,169.4 Q182.2,168.0 182.7,166.6 Q183.2,165.2 184.2,164.0 Q185.2,162.9 186.7,162.7 Q188.2,162.5 188.5,163.9 L188.8,165.4" fill="none" stroke="#bf7a82" stroke-width="0.7" stroke-linecap="round" opacity="0.8"/>
<path d="M218.8,105.5 Q219.5,108.4 219.9,109.9 Q220.3,111.3 219.7,112.7 Q219.1,114.1 220.3,115.0 Q221.5,115.9 222.3,114.6 Q223.0,113.3 224.1,112.3 Q225.1,111.2 226.2,110.1 L227.2,109.0" fill="none" stroke="#ebc8cb" stroke-width="1.3" stroke-linecap="round" opacity="0.75"/>
<path d="M208.5,179.6 Q211.5,179.6 213.0,179.5 Q214.5,179.3 215.4,178.2 Q216.4,177.0 215.5,175.8 Q214.6,174.6 214.3,173.1 L214.0,171.7" fill="none" stroke="#bf7a82" stroke-width="0.7" stroke-linecap="round" opacity="0.8"/>
<path d="M192.6,174.3 Q191.2,171.6 189.8,171.1 Q188.5,170.5 187.2,169.7 Q185.9,168.9 184.4,169.0 Q182.9,169.1 181.5,168.8 L180.0,168.5" fill="none" stroke="#ebc8cb" stroke-width="1.3" stroke-linecap="round" opacity="0.75"/>
<path d="M194.8,120.1 Q193.5,117.4 192.7,116.1 Q191.9,114.8 191.2,113.5 Q190.4,112.3 188.9,112.5 Q187.4,112.7 186.1,113.4 L184.8,114.1" fill="none" stroke="#bf7a82" stroke-width="0.7" stroke-linecap="round" opacity="0.8"/>
<path d="M129.9,134.9 Q129.4,137.8 129.1,139.3 Q128.8,140.8 130.3,140.7 Q131.8,140.7 133.1,139.9 L134.4,139.1" fill="none" stroke="#ebc8cb" stroke-width="1.3" stroke-linecap="round" opacity="0.75"/>
<path d="M143.4,123.0 Q143.1,126.0 141.8,126.6 Q140.4,127.3 139.0,127.8 Q137.6,128.4 137.3,129.8 Q136.9,131.3 137.6,132.6 Q138.4,133.9 137.8,135.3 L137.2,136.7" fill="none" stroke="#bf7a82" stroke-width="0.7" stroke-linecap="round" opacity="0.8"/>
<path d="M208.1,112.7 Q208.3,115.7 207.8,117.1 Q207.3,118.5 206.5,119.8 Q205.8,121.1 206.2,122.5 Q206.7,123.9 206.5,125.4 Q206.4,126.9 207.0,128.3 Q207.7,129.6 207.1,131.0 L206.5,132.3" fill="none" stroke="#ebc8cb" stroke-width="1.3" stroke-linecap="round" opacity="0.75"/>
<path d="M169.3,179.7 Q170.1,182.6 168.8,183.2 Q167.4,183.9 166.3,182.9 Q165.1,182.0 163.7,181.5 L162.3,181.0" fill="none" stroke="#bf7a82" stroke-width="0.7" stroke-linecap="round" opacity="0.8"/>
<path d="M215.4,161.0 Q213.5,163.3 212.4,164.4 Q211.4,165.4 211.5,166.9 Q211.6,168.4 212.1,169.8 Q212.5,171.3 213.2,172.6 Q213.8,174.0 213.1,175.3 L212.4,176.6" fill="none" stroke="#ebc8cb" stroke-width="1.3" stroke-linecap="round" opacity="0.75"/>
<path d="M223.8,112.2 Q226.1,114.2 227.4,114.7 Q228.8,115.3 229.6,114.0 Q230.3,112.7 231.8,113.0 L233.3,113.3" fill="none" stroke="#bf7a82" stroke-width="0.7" stroke-linecap="round" opacity="0.8"/>
<path d="M228.8,176.0 Q229.8,173.2 230.0,171.7 Q230.3,170.2 230.2,168.7 Q230.2,167.2 230.2,165.7 Q230.3,164.2 231.7,163.7 Q233.1,163.2 234.6,163.4 L236.1,163.5" fill="none" stroke="#ebc8cb" stroke-width="1.3" stroke-linecap="round" opacity="0.75"/>
<path d="M162.6,138.4 Q162.9,141.4 162.4,142.8 Q161.9,144.2 161.3,145.6 Q160.8,147.0 160.6,148.5 Q160.5,150.0 161.5,151.0 L162.6,152.1" fill="none" stroke="#bf7a82" stroke-width="0.7" stroke-linecap="round" opacity="0.8"/>
<path d="M163.0,174.9 Q165.3,173.0 166.6,172.2 Q167.8,171.4 167.4,169.9 Q166.9,168.5 166.2,167.2 Q165.5,165.8 164.2,165.2 L162.8,164.7" fill="none" stroke="#ebc8cb" stroke-width="1.3" stroke-linecap="round" opacity="0.75"/>
<path d="M215.4,182.9 Q218.2,182.0 219.2,183.1 Q220.1,184.3 221.3,185.2 Q222.5,186.1 224.0,186.4 Q225.5,186.6 226.9,187.1 L228.3,187.5" fill="none" stroke="#bf7a82" stroke-width="0.7" stroke-linecap="round" opacity="0.8"/>
<path d="M206.5,118.0 Q208.8,115.9 209.7,114.7 Q210.6,113.6 210.3,112.1 Q210.1,110.6 210.2,109.1 Q210.3,107.6 209.2,106.7 Q208.0,105.8 206.5,106.1 Q205.0,106.5 204.0,105.4 L202.9,104.3" fill="none" stroke="#ebc8cb" stroke-width="1.3" stroke-linecap="round" opacity="0.75"/>
<path d="M171.7,106.1 Q174.6,106.6 175.9,107.5 Q177.1,108.3 176.2,109.6 Q175.4,110.8 174.7,112.1 L174.0,113.5" fill="none" stroke="#bf7a82" stroke-width="0.7" stroke-linecap="round" opacity="0.8"/>
<path d="M144.8,112.1 Q145.3,115.1 144.5,116.3 Q143.7,117.6 143.9,119.0 Q144.2,120.5 145.3,121.5 Q146.4,122.5 147.9,123.0 Q149.3,123.4 150.6,124.2 Q151.8,125.0 153.2,125.6 L154.6,126.1" fill="none" stroke="#ebc8cb" stroke-width="1.3" stroke-linecap="round" opacity="0.75"/>
<path d="M180.2,126.2 Q177.2,126.0 175.7,125.6 Q174.3,125.3 172.8,125.0 Q171.3,124.8 170.0,124.0 Q168.8,123.2 169.5,121.8 Q170.2,120.5 171.5,119.7 L172.7,118.8" fill="none" stroke="#bf7a82" stroke-width="0.7" stroke-linecap="round" opacity="0.8"/>
<path d="M134.1,111.1 Q135.0,108.2 136.3,107.4 Q137.5,106.6 139.0,106.6 Q140.5,106.6 142.0,106.4 Q143.5,106.2 143.6,104.7 Q143.7,103.2 143.4,101.7 Q143.1,100.3 142.0,99.2 L141.0,98.1" fill="none" stroke="#ebc8cb" stroke-width="1.3" stroke-linecap="round" opacity="0.75"/>
<path d="M155.2,154.4 Q158.1,153.8 158.8,152.4 Q159.4,151.1 160.0,149.7 Q160.5,148.3 160.9,146.8 Q161.2,145.4 160.3,144.2 Q159.3,143.0 158.5,141.8 Q157.7,140.5 156.2,140.4 L154.7,140.3" fill="none" stroke="#bf7a82" stroke-width="0.7" stroke-linecap="round" opacity="0.8"/>
<path d="M218.3,161.7 Q219.2,158.8 219.5,157.3 Q219.9,155.9 219.7,154.4 Q219.6,152.9 219.0,151.5 Q218.5,150.1 217.0,149.8 L215.5,149.6" fill="none" stroke="#ebc8cb" stroke-width="1.3" stroke-linecap="round" opacity="0.75"/>
<path d="M156.9,184.4 Q158.1,187.1 157.6,188.5 Q157.0,189.9 158.3,190.7 Q159.5,191.5 161.0,191.4 Q162.5,191.3 164.0,191.4 L165.5,191.5" fill="none" stroke="#bf7a82" stroke-width="0.7" stroke-linecap="round" opacity="0.8"/>
<path d="M151.3,172.4 Q148.4,171.5 147.0,172.1 Q145.7,172.7 144.2,172.4 Q142.8,172.1 141.5,171.3 Q140.2,170.5 139.4,171.7 Q138.5,172.9 137.0,172.7 Q135.5,172.5 134.3,171.7 L133.0,170.8" fill="none" stroke="#ebc8cb" stroke-width="1.3" stroke-linecap="round" opacity="0.75"/>
<path d="M142.7,150.1 Q140.6,148.0 142.0,147.5 Q143.4,147.0 144.7,146.4 Q146.1,145.7 147.1,146.8 Q148.2,147.9 149.6,148.3 Q151.0,148.7 152.4,149.3 L153.8,149.9" fill="none" stroke="#bf7a82" stroke-width="0.7" stroke-linecap="round" opacity="0.8"/>
<path d="M203.0,147.6 Q205.0,145.4 206.3,144.6 Q207.6,143.8 207.8,142.3 Q208.1,140.8 207.7,139.3 Q207.4,137.9 206.6,136.6 Q205.7,135.4 204.8,134.2 Q203.9,133.0 202.6,132.3 L201.3,131.5" fill="none" stroke="#ebc8cb" stroke-width="1.3" stroke-linecap="round" opacity="0.75"/>
<path d="M126.8,153.8 Q129.6,154.9 131.0,155.3 Q132.4,155.8 133.2,157.1 Q133.9,158.4 135.4,158.1 L136.9,157.8" fill="none" stroke="#bf7a82" stroke-width="0.7" stroke-linecap="round" opacity="0.8"/>
<path d="M206.5,164.0 Q203.5,164.2 202.9,162.8 Q202.2,161.5 200.9,160.8 Q199.6,160.1 198.6,159.0 Q197.5,157.9 196.3,157.0 L195.1,156.1" fill="none" stroke="#ebc8cb" stroke-width="1.3" stroke-linecap="round" opacity="0.75"/>
<path d="M165.9,150.7 Q163.0,151.2 161.5,151.5 Q160.0,151.8 159.3,153.1 Q158.6,154.5 158.0,155.8 Q157.4,157.2 156.7,158.6 Q156.1,159.9 154.7,160.4 Q153.3,160.9 152.6,162.3 L151.8,163.6" fill="none" stroke="#bf7a82" stroke-width="0.7" stroke-linecap="round" opacity="0.8"/>
<path d="M163.0,176.2 Q160.1,175.2 158.7,174.7 Q157.3,174.3 156.7,172.9 Q156.1,171.5 154.6,171.5 Q153.1,171.6 152.2,172.8 Q151.3,174.0 151.2,175.5 Q151.1,177.0 152.2,178.0 L153.3,179.0" fill="none" stroke="#ebc8cb" stroke-width="1.3" stroke-linecap="round" opacity="0.75"/>
<path d="M186.9,138.4 Q186.7,141.4 187.5,142.7 Q188.3,144.0 188.6,145.4 Q188.9,146.9 190.2,147.7 Q191.4,148.6 192.8,148.0 L194.2,147.4" fill="none" stroke="#bf7a82" stroke-width="0.7" stroke-linecap="round" opacity="0.8"/>
<path d="M161.9,152.7 Q164.7,151.7 166.1,151.4 Q167.6,151.0 169.1,150.8 Q170.5,150.5 170.9,152.0 Q171.2,153.4 172.5,154.2 L173.8,154.9" fill="none" stroke="#ebc8cb" stroke-width="1.3" stroke-linecap="round" opacity="0.75"/>
<path d="M126.6,178.1 Q127.9,180.9 129.3,181.0 Q130.8,181.1 132.0,182.1 Q133.2,183.0 133.5,184.5 Q133.8,186.0 135.1,186.8 Q136.4,187.6 137.6,186.8 Q138.9,186.1 140.0,185.0 L141.0,183.9" fill="none" stroke="#bf7a82" stroke-width="0.7" stroke-linecap="round" opacity="0.8"/>
<path d="M172.1,134.2 Q170.7,131.5 169.3,131.1 Q167.8,130.8 166.3,130.7 Q164.8,130.7 164.3,132.1 Q163.7,133.4 164.3,134.8 L164.8,136.2" fill="none" stroke="#ebc8cb" stroke-width="1.3" stroke-linecap="round" opacity="0.75"/>
<path d="M214.5,140.6 Q217.3,139.7 217.0,138.3 Q216.6,136.8 215.8,135.5 Q215.0,134.3 214.2,133.0 L213.3,131.8" fill="none" stroke="#bf7a82" stroke-width="0.7" stroke-linecap="round" opacity="0.8"/>
<path d="M193.2,124.0 Q190.2,124.5 189.2,123.4 Q188.3,122.2 189.3,121.2 Q190.4,120.1 191.3,118.9 L192.2,117.7" fill="none" stroke="#ebc8cb" stroke-width="1.3" stroke-linecap="round" opacity="0.75"/>
<path d="M154.1,123.8 Q157.1,123.3 158.5,123.0 Q160.0,122.7 160.7,121.4 Q161.5,120.1 162.8,119.2 Q164.0,118.4 165.2,117.5 Q166.4,116.6 167.8,116.0 L169.1,115.3" fill="none" stroke="#bf7a82" stroke-width="0.7" stroke-linecap="round" opacity="0.8"/>
<path d="M208.7,144.4 Q210.5,142.0 211.6,141.0 Q212.7,140.0 213.8,139.0 Q214.9,138.0 214.5,136.6 Q214.2,135.1 213.8,133.6 L213.5,132.2" fill="none" stroke="#ebc8cb" stroke-width="1.3" stroke-linecap="round" opacity="0.75"/>
<path d="M169.6,144.5 Q171.8,142.5 172.9,141.5 Q174.1,140.5 175.4,139.7 Q176.6,138.9 177.8,137.9 Q178.9,137.0 179.7,135.7 Q180.4,134.4 180.8,132.9 L181.1,131.4" fill="none" stroke="#bf7a82" stroke-width="0.7" stroke-linecap="round" opacity="0.8"/>
<path d="M231.5,103.3 Q234.4,103.9 235.8,104.4 Q237.2,105.0 238.5,105.7 Q239.9,106.4 241.2,107.0 Q242.6,107.5 244.1,107.6 L245.6,107.6" fill="none" stroke="#ebc8cb" stroke-width="1.3" stroke-linecap="round" opacity="0.75"/>
<path d="M139.7,155.9 Q137.0,157.1 135.5,157.3 Q134.0,157.6 132.5,157.4 Q131.0,157.2 129.6,157.7 L128.2,158.3" fill="none" stroke="#bf7a82" stroke-width="0.7" stroke-linecap="round" opacity="0.8"/>
<path d="M223.4,160.5 Q225.3,158.1 226.6,157.4 Q228.0,156.8 229.3,157.4 Q230.7,158.1 231.1,159.5 L231.5,161.0" fill="none" stroke="#ebc8cb" stroke-width="1.3" stroke-linecap="round" opacity="0.75"/>
<path d="M222.6,111.2 Q221.7,114.1 223.2,113.8 Q224.7,113.6 226.2,113.8 Q227.6,114.0 228.4,112.7 Q229.1,111.4 228.4,110.1 Q227.6,108.8 226.3,108.0 L225.1,107.2" fill="none" stroke="#bf7a82" stroke-width="0.7" stroke-linecap="round" opacity="0.8"/>
<path d="M198.1,151.7 Q199.7,154.2 200.7,155.4 Q201.6,156.6 202.8,157.5 Q203.9,158.5 205.3,158.0 Q206.8,157.6 207.7,156.4 Q208.7,155.3 210.0,154.6 Q211.3,153.8 212.8,153.5 L214.2,153.2" fill="none" stroke="#ebc8cb" stroke-width="1.3" stroke-linecap="round" opacity="0.75"/>
<path d="M207.2,131.0 Q209.9,132.2 210.6,133.5 Q211.4,134.8 211.5,136.3 Q211.6,137.8 210.6,138.9 Q209.5,139.9 208.2,140.6 Q206.9,141.3 205.7,142.3 L204.6,143.3" fill="none" stroke="#bf7a82" stroke-width="0.7" stroke-linecap="round" opacity="0.8"/>
<path d="M224.0,161.6 Q225.7,159.1 226.9,158.1 Q228.0,157.1 227.3,155.8 Q226.5,154.5 225.5,153.4 L224.4,152.4" fill="none" stroke="#ebc8cb" stroke-width="1.3" stroke-linecap="round" opacity="0.75"/>
<path d="M212.3,162.1 Q213.8,164.7 213.5,166.2 Q213.2,167.6 212.4,168.9 Q211.7,170.2 211.6,171.7 Q211.6,173.2 211.5,174.7 L211.5,176.2" fill="none" stroke="#bf7a82" stroke-width="0.7" stroke-linecap="round" opacity="0.8"/>
<path d="M214.2,111.5 Q211.8,109.7 212.4,108.3 Q213.0,106.9 214.5,106.6 Q216.0,106.3 217.5,106.3 Q219.0,106.3 220.4,106.7 L221.9,107.1" fill="none" stroke="#ebc8cb" stroke-width="1.3" stroke-linecap="round" opacity="0.75"/>
<path d="M189.8,128.8 Q189.6,125.8 191.1,125.8 Q192.6,125.7 194.1,125.5 Q195.6,125.2 197.1,124.9 L198.5,124.6" fill="none" stroke="#bf7a82" stroke-width="0.7" stroke-linecap="round" opacity="0.8"/>
<path d="M193.0,166.9 Q192.9,169.9 193.1,171.4 Q193.3,172.9 193.7,174.3 Q194.1,175.8 193.6,177.2 Q193.0,178.6 191.6,179.1 L190.2,179.7" fill="none" stroke="#ebc8cb" stroke-width="1.3" stroke-linecap="round" opacity="0.75"/>
<path d="M142.2,166.0 Q143.2,168.9 144.7,168.9 Q146.2,168.9 147.2,170.0 Q148.2,171.1 148.7,172.5 Q149.2,173.9 149.1,175.4 Q149.0,176.9 149.5,178.4 L150.0,179.8" fill="none" stroke="#bf7a82" stroke-width="0.7" stroke-linecap="round" opacity="0.8"/>
<path d="M143.9,125.1 Q146.7,126.3 147.9,127.1 Q149.2,127.9 150.7,127.9 Q152.2,127.9 153.5,128.7 Q154.8,129.5 155.8,130.5 Q156.9,131.5 158.4,131.6 L159.9,131.6" fill="none" stroke="#ebc8cb" stroke-width="1.3" stroke-linecap="round" opacity="0.75"/>
<path d="M177.8,107.7 Q179.5,110.1 179.3,111.6 Q179.2,113.1 179.7,114.5 Q180.3,115.9 181.3,117.0 L182.3,118.1" fill="none" stroke="#bf7a82" stroke-width="0.7" stroke-linecap="round" opacity="0.8"/>
<path d="M188.2,178.0 Q190.6,176.2 191.8,177.0 Q193.1,177.8 194.4,178.5 Q195.8,179.1 197.2,178.7 L198.6,178.2" fill="none" stroke="#ebc8cb" stroke-width="1.3" stroke-linecap="round" opacity="0.75"/>
<path d="M149.3,173.3 Q149.1,176.3 150.4,177.0 Q151.7,177.7 152.5,179.0 Q153.3,180.3 154.7,180.9 L156.1,181.5" fill="none" stroke="#bf7a82" stroke-width="0.7" stroke-linecap="round" opacity="0.8"/>
<path d="M164.3,114.7 Q166.1,117.0 167.6,117.3 Q169.1,117.6 170.5,117.5 Q172.0,117.4 173.0,116.2 L173.9,115.0" fill="none" stroke="#ebc8cb" stroke-width="1.3" stroke-linecap="round" opacity="0.75"/>
<path d="M185.4,167.9 Q182.5,167.1 181.0,167.0 Q179.5,166.8 178.3,165.9 Q177.2,165.0 175.9,165.8 Q174.7,166.7 174.5,168.2 Q174.3,169.7 174.6,171.2 L174.9,172.6" fill="none" stroke="#bf7a82" stroke-width="0.7" stroke-linecap="round" opacity="0.8"/>
<path d="M191.1,173.7 Q188.7,175.5 187.7,176.6 Q186.7,177.7 186.0,179.1 Q185.4,180.4 183.9,180.7 Q182.4,180.9 180.9,180.6 Q179.5,180.2 178.4,179.2 Q177.3,178.1 175.9,177.6 L174.5,177.0" fill="none" stroke="#ebc8cb" stroke-width="1.3" stroke-linecap="round" opacity="0.75"/>
<path d="M130.6,173.8 Q133.6,174.0 133.6,172.5 Q133.7,171.0 134.4,169.7 Q135.2,168.4 135.7,167.0 Q136.3,165.6 137.3,164.5 Q138.3,163.4 139.7,162.9 L141.1,162.5" fill="none" stroke="#bf7a82" stroke-width="0.7" stroke-linecap="round" opacity="0.8"/>
<path d="M140.7,142.8 Q142.9,140.7 143.4,139.3 Q143.9,137.9 144.0,136.4 Q144.0,134.9 142.6,135.2 Q141.1,135.5 140.0,134.5 Q138.9,133.5 138.1,132.3 Q137.2,131.0 137.6,129.6 L138.0,128.2" fill="none" stroke="#ebc8cb" stroke-width="1.3" stroke-linecap="round" opacity="0.75"/>
<path d="M233.9,167.8 Q236.9,167.9 237.8,166.6 Q238.6,165.4 239.0,164.0 Q239.3,162.5 239.7,161.1 L240.1,159.6" fill="none" stroke="#bf7a82" stroke-width="0.7" stroke-linecap="round" opacity="0.8"/>
<path d="M220.8,115.4 Q218.0,116.5 216.8,117.4 Q215.6,118.3 214.4,119.2 Q213.2,120.1 212.5,121.5 Q211.9,122.8 211.9,124.3 Q212.0,125.8 213.4,126.1 L214.9,126.4" fill="none" stroke="#ebc8cb" stroke-width="1.3" stroke-linecap="round" opacity="0.75"/>
<path d="M133.4,142.4 Q130.4,141.9 129.3,140.9 Q128.1,139.9 126.7,139.7 Q125.2,139.4 124.8,137.9 Q124.5,136.5 124.1,135.0 Q123.6,133.6 123.1,132.2 L122.6,130.8" fill="none" stroke="#bf7a82" stroke-width="0.7" stroke-linecap="round" opacity="0.8"/>
<path d="M165.7,168.2 Q165.4,171.2 165.7,172.6 Q165.9,174.1 164.4,174.0 Q162.9,173.9 161.4,173.9 L159.9,173.9" fill="none" stroke="#ebc8cb" stroke-width="1.3" stroke-linecap="round" opacity="0.75"/>
<path d="M134.5,140.0 Q131.6,140.7 130.2,141.3 Q128.8,141.9 127.4,141.4 Q126.0,141.0 124.7,140.2 Q123.4,139.4 122.2,138.5 Q121.0,137.6 121.4,136.2 Q121.9,134.8 121.5,133.3 L121.2,131.9" fill="none" stroke="#bf7a82" stroke-width="0.7" stroke-linecap="round" opacity="0.8"/>
<path d="M133.2,181.6 Q136.2,181.9 137.6,181.5 Q139.0,181.0 140.5,181.4 Q142.0,181.7 143.1,182.6 Q144.3,183.6 143.9,185.1 Q143.5,186.5 144.8,187.3 L146.1,188.1" fill="none" stroke="#ebc8cb" stroke-width="1.3" stroke-linecap="round" opacity="0.75"/>
<path d="M185.1,141.8 Q183.1,139.6 181.6,139.5 Q180.1,139.3 180.1,140.8 Q180.1,142.3 180.5,143.8 L180.9,145.2" fill="none" stroke="#bf7a82" stroke-width="0.7" stroke-linecap="round" opacity="0.8"/>
<path d="M213.9,137.6 Q216.9,137.3 218.4,136.9 Q219.8,136.6 219.9,135.1 Q220.1,133.6 219.4,132.3 Q218.6,131.0 217.2,130.5 Q215.8,130.0 214.6,130.9 L213.4,131.8" fill="none" stroke="#ebc8cb" stroke-width="1.3" stroke-linecap="round" opacity="0.75"/>
<path d="M228.9,137.1 Q226.9,139.3 228.0,140.3 Q229.1,141.3 229.6,142.8 Q230.0,144.2 230.5,145.6 Q231.1,147.0 231.2,148.5 Q231.3,150.0 231.3,151.5 Q231.3,153.0 230.6,154.3 L229.9,155.6" fill="none" stroke="#bf7a82" stroke-width="0.7" stroke-linecap="round" opacity="0.8"/>
</g>
<path d="M142,158 C150,151 165,146 180,145 C195,144 210,146 224,144" fill="none" stroke="#b8707a" stroke-width="0.9"/>
<path d="M158,146 C162,135 170,124 178,117 C183,113 186,112 188,110" fill="none" stroke="#a8505a" stroke-width="0.9"/>
<path d="M166,140 C171,132 177,125 182,120" fill="none" stroke="#b06068" stroke-width="0.6"/>
<rect x="357.2" y="117.2" width="91.2" height="32.7" fill="#ebebeb" stroke="#454545" stroke-width="1.8"/>
<rect x="357.2" y="151.1" width="91.2" height="33.3" fill="#ff7f00" stroke="#454545" stroke-width="1.8"/>
<rect x="357.2" y="185.6" width="91.2" height="33.2" fill="#a6cee3" stroke="#454545" stroke-width="1.8"/>
<rect x="357.2" y="220.0" width="91.2" height="33.9" fill="#cab2d6" stroke="#454545" stroke-width="1.8"/>
<rect x="357.2" y="255.1" width="91.2" height="32.6" fill="#e31a1c" stroke="#454545" stroke-width="1.8"/>
<text x="403.0" y="141.0" font-size="20" text-anchor="middle" font-weight="bold" fill="#111" textLength="66.8" lengthAdjust="spacingAndGlyphs">random</text>
<text x="403.0" y="174.5" font-size="20" text-anchor="middle" font-weight="bold" fill="#111" textLength="68.7" lengthAdjust="spacingAndGlyphs">go-dark</text>
<text x="403.0" y="208.8" font-size="20" text-anchor="middle" font-weight="bold" fill="#111" textLength="71.1" lengthAdjust="spacingAndGlyphs">go-right</text>
<text x="403.0" y="243.0" font-size="20" text-anchor="middle" font-weight="bold" fill="#111" textLength="79" lengthAdjust="spacingAndGlyphs">alternate</text>
<text x="403.0" y="277.5" font-size="20" text-anchor="middle" font-weight="bold" fill="#f0f0f0" textLength="78.8" lengthAdjust="spacingAndGlyphs">go-silent</text>
<line x1="457.0" y1="118.5" x2="457.0" y2="275.0" stroke="#2b2b2b" stroke-width="2"/>
<path d="M450,272 L463.7,272 L457,287 Z" fill="#2b2b2b"/>
<text x="490.0" y="202.5" font-size="23.5" text-anchor="middle" transform="rotate(-90 490.0 202.5)" textLength="107" lengthAdjust="spacingAndGlyphs">Task rules</text>
<rect x="893.5" y="21.3" width="144.5" height="93.7" fill="#181818"/>
<rect x="792.7" y="233.0" width="144.0" height="94.0" fill="#181818"/>
<rect x="994.4" y="233.0" width="144.0" height="94.0" fill="#181818"/>
<line x1="959.2" y1="68.2" x2="972.2" y2="68.2" stroke="#fff" stroke-width="1.8"/>
<line x1="965.7" y1="61.7" x2="965.7" y2="74.7" stroke="#fff" stroke-width="1.8"/>
<circle cx="1007.7" cy="68.4" r="11.3" fill="#fff"/>
<line x1="1059.5" y1="280.0" x2="1072.5" y2="280.0" stroke="#22b022" stroke-width="2"/>
<line x1="1066.0" y1="273.5" x2="1066.0" y2="286.5" stroke="#22b022" stroke-width="2"/>
<text x="865.0" y="288.5" font-size="23" text-anchor="middle" font-weight="bold" fill="#f2f2f2" textLength="76" lengthAdjust="spacingAndGlyphs">Richtig</text>
<ellipse cx="884.2" cy="67" rx="7.4" ry="9.7" fill="#7a7a7a"/>
<path d="M873.2,62.5 C869.5,65 869.5,71.5 873.2,74" fill="none" stroke="#3a3a3a" stroke-width="2.5" stroke-linecap="round"/>
<path d="M868.6,57.7 C861.5,63 861.5,73.5 868.6,78.8" fill="none" stroke="#3a3a3a" stroke-width="2.7" stroke-linecap="round"/>
<path d="M1057,67 C1100,95 1125,150 1119.5,216" fill="none" stroke="#2b2b2b" stroke-width="1.6"/>
<path d="M1113.5,213 L1125,213 L1118.5,225.5 Z" fill="#2b2b2b"/>
<path d="M1039,330.5 C1000,347 960,352 928,345 C915,342 905,339 899,336" fill="none" stroke="#2b2b2b" stroke-width="1.6"/>
<path d="M891.6,330.5 L904,329 L900,340.5 Z" fill="#2b2b2b"/>
<path d="M813.6,227 C806,195 808,160 822,125 C830,108 837,99 846,92" fill="none" stroke="#2b2b2b" stroke-width="1.6" stroke-dasharray="7,4.5"/>
<path d="M855.5,83.2 L843.3,87.6 L851.4,95.8 Z" fill="#222"/>
<text x="962.4" y="137.0" font-size="23.5" text-anchor="middle" textLength="46.5" lengthAdjust="spacingAndGlyphs">Cue:</text>
<text x="965.5" y="164.8" font-size="23.5" text-anchor="middle" textLength="44" lengthAdjust="spacingAndGlyphs">0.1s</text>
<text x="846.7" y="169.6" font-size="23.5" text-anchor="middle" textLength="32" lengthAdjust="spacingAndGlyphs">ITI:</text>
<text x="846.5" y="196.7" font-size="23.5" text-anchor="middle" textLength="61.5" lengthAdjust="spacingAndGlyphs">4 ± 1s</text>
<text x="1079.5" y="169.6" font-size="23.5" text-anchor="middle" textLength="63" lengthAdjust="spacingAndGlyphs">Delay:</text>
<text x="1079.5" y="196.7" font-size="23.5" text-anchor="middle" textLength="44" lengthAdjust="spacingAndGlyphs">2.9s</text>
<text x="866.0" y="362.4" font-size="23.5" text-anchor="middle" textLength="131.3" lengthAdjust="spacingAndGlyphs">Probabilistic</text>
<text x="862.8" y="389.3" font-size="23.5" text-anchor="middle" textLength="133" lengthAdjust="spacingAndGlyphs">feedback: 1s</text>
<text x="1067.5" y="362.4" font-size="23.5" text-anchor="middle" textLength="111" lengthAdjust="spacingAndGlyphs">Response:</text>
<text x="1066.8" y="389.3" font-size="23.5" text-anchor="middle" textLength="23.5" lengthAdjust="spacingAndGlyphs">2s</text>
<line x1="1491.7" y1="72.0" x2="1491.7" y2="325.2" stroke="#b8b8b8" stroke-width="1.3"/>
<line x1="1491.7" y1="325.2" x2="1746.8" y2="325.2" stroke="#b8b8b8" stroke-width="1.3"/>
<line x1="1491.7" y1="312.7" x2="1496.7" y2="312.7" stroke="#b8b8b8" stroke-width="1"/>
<text x="1488.5" y="320.9" font-size="23.5" text-anchor="end">0</text>
<line x1="1491.7" y1="266.5" x2="1496.7" y2="266.5" stroke="#b8b8b8" stroke-width="1"/>
<text x="1488.5" y="274.7" font-size="23.5" text-anchor="end">20</text>
<line x1="1491.7" y1="220.3" x2="1496.7" y2="220.3" stroke="#b8b8b8" stroke-width="1"/>
<text x="1488.5" y="228.5" font-size="23.5" text-anchor="end">40</text>
<line x1="1491.7" y1="174.0" x2="1496.7" y2="174.0" stroke="#b8b8b8" stroke-width="1"/>
<text x="1488.5" y="182.2" font-size="23.5" text-anchor="end">60</text>
<line x1="1491.7" y1="127.8" x2="1496.7" y2="127.8" stroke="#b8b8b8" stroke-width="1"/>
<text x="1488.5" y="136.0" font-size="23.5" text-anchor="end">80</text>
<line x1="1491.7" y1="81.6" x2="1496.7" y2="81.6" stroke="#b8b8b8" stroke-width="1"/>
<text x="1488.5" y="89.8" font-size="23.5" text-anchor="end">100</text>
<line x1="1528.9" y1="325.2" x2="1528.9" y2="321.2" stroke="#b8b8b8" stroke-width="1"/>
<line x1="1588.9" y1="325.2" x2="1588.9" y2="321.2" stroke="#b8b8b8" stroke-width="1"/>
<line x1="1649.6" y1="325.2" x2="1649.6" y2="321.2" stroke="#b8b8b8" stroke-width="1"/>
<line x1="1710.0" y1="325.2" x2="1710.0" y2="321.2" stroke="#b8b8b8" stroke-width="1"/>
<rect x="1510.5" y="127.8" width="36.8" height="55.0" fill="none" stroke="#7a7a7a" stroke-width="1.4"/>
<line x1="1510.5" y1="155.6" x2="1547.3" y2="155.6" stroke="#7a7a7a" stroke-width="1.4"/>
<line x1="1528.9" y1="127.8" x2="1528.9" y2="81.6" stroke="#7a7a7a" stroke-width="1.3" stroke-dasharray="3.5,3"/>
<line x1="1528.9" y1="182.8" x2="1528.9" y2="228.8" stroke="#7a7a7a" stroke-width="1.3" stroke-dasharray="3.5,3"/>
<line x1="1520.4" y1="81.6" x2="1537.4" y2="81.6" stroke="#7a7a7a" stroke-width="1.4"/>
<line x1="1520.4" y1="228.8" x2="1537.4" y2="228.8" stroke="#7a7a7a" stroke-width="1.4"/>
<rect x="1570.5" y="201.8" width="36.8" height="50.8" fill="none" stroke="#2a2a2a" stroke-width="1.4"/>
<line x1="1570.5" y1="227.2" x2="1607.3" y2="227.2" stroke="#2a2a2a" stroke-width="1.4"/>
<line x1="1588.9" y1="201.8" x2="1588.9" y2="129.0" stroke="#2a2a2a" stroke-width="1.7" stroke-dasharray="3.5,3"/>
<line x1="1588.9" y1="252.6" x2="1588.9" y2="312.7" stroke="#2a2a2a" stroke-width="1.7" stroke-dasharray="3.5,3"/>
<line x1="1580.4" y1="129.0" x2="1597.4" y2="129.0" stroke="#2a2a2a" stroke-width="1.4"/>
<line x1="1580.4" y1="312.7" x2="1597.4" y2="312.7" stroke="#2a2a2a" stroke-width="1.4"/>
<circle cx="1588.9" cy="127.8" r="1.9" fill="#111"/>
<circle cx="1588.9" cy="126.7" r="1.9" fill="#111"/>
<circle cx="1588.9" cy="125.6" r="1.9" fill="#111"/>
<circle cx="1588.9" cy="124.5" r="1.9" fill="#111"/>
<circle cx="1588.9" cy="123.3" r="1.9" fill="#111"/>
<circle cx="1588.9" cy="122.2" r="1.9" fill="#111"/>
<circle cx="1588.9" cy="121.1" r="1.9" fill="#111"/>
<circle cx="1588.9" cy="120.0" r="1.9" fill="#111"/>
<circle cx="1588.9" cy="118.9" r="1.9" fill="#111"/>
<circle cx="1588.9" cy="117.7" r="1.9" fill="#111"/>
<circle cx="1588.9" cy="116.6" r="1.9" fill="#111"/>
<circle cx="1588.9" cy="115.5" r="1.9" fill="#111"/>
<circle cx="1588.9" cy="114.4" r="1.9" fill="#111"/>
<circle cx="1588.9" cy="113.3" r="1.9" fill="#111"/>
<circle cx="1588.9" cy="119.4" r="1.9" fill="#111"/>
<circle cx="1588.9" cy="118.2" r="1.9" fill="#111"/>
<circle cx="1588.9" cy="101.5" r="1.9" fill="#111"/>
<circle cx="1588.9" cy="124.8" r="1.9" fill="#111"/>
<circle cx="1588.9" cy="108.4" r="1.9" fill="#111"/>
<circle cx="1588.9" cy="104.2" r="1.9" fill="#111"/>
<circle cx="1588.9" cy="95.5" r="1.9" fill="#111"/>
<rect x="1631.2" y="197.1" width="36.8" height="89.0" fill="none" stroke="#555555" stroke-width="1.4"/>
<line x1="1631.2" y1="248.0" x2="1668.0" y2="248.0" stroke="#555555" stroke-width="1.4"/>
<line x1="1649.6" y1="197.1" x2="1649.6" y2="146.3" stroke="#555555" stroke-width="1.3" stroke-dasharray="3.5,3"/>
<line x1="1649.6" y1="286.1" x2="1649.6" y2="312.7" stroke="#555555" stroke-width="1.3" stroke-dasharray="3.5,3"/>
<line x1="1641.1" y1="146.3" x2="1658.1" y2="146.3" stroke="#555555" stroke-width="1.4"/>
<line x1="1641.1" y1="312.7" x2="1658.1" y2="312.7" stroke="#555555" stroke-width="1.4"/>
<rect x="1691.6" y="234.1" width="36.8" height="57.8" fill="none" stroke="#3a3a3a" stroke-width="1.4"/>
<line x1="1691.6" y1="263.0" x2="1728.4" y2="263.0" stroke="#3a3a3a" stroke-width="1.4"/>
<line x1="1710.0" y1="234.1" x2="1710.0" y2="145.2" stroke="#3a3a3a" stroke-width="1.7" stroke-dasharray="3.5,3"/>
<line x1="1710.0" y1="291.9" x2="1710.0" y2="312.7" stroke="#3a3a3a" stroke-width="1.7" stroke-dasharray="3.5,3"/>
<line x1="1701.5" y1="145.2" x2="1718.5" y2="145.2" stroke="#3a3a3a" stroke-width="1.4"/>
<line x1="1701.5" y1="312.7" x2="1718.5" y2="312.7" stroke="#3a3a3a" stroke-width="1.4"/>
<circle cx="1710.0" cy="144.0" r="1.9" fill="#111"/>
<circle cx="1710.0" cy="142.0" r="1.9" fill="#111"/>
<circle cx="1710.0" cy="140.0" r="1.9" fill="#111"/>
<circle cx="1710.0" cy="138.0" r="1.9" fill="#111"/>
<circle cx="1710.0" cy="136.0" r="1.9" fill="#111"/>
<circle cx="1710.0" cy="134.0" r="1.9" fill="#111"/>
<circle cx="1710.0" cy="132.0" r="1.9" fill="#111"/>
<circle cx="1710.0" cy="130.0" r="1.9" fill="#111"/>
<circle cx="1710.0" cy="128.0" r="1.9" fill="#111"/>
<circle cx="1710.0" cy="126.0" r="1.9" fill="#111"/>
<circle cx="1710.0" cy="124.0" r="1.9" fill="#111"/>
<circle cx="1710.0" cy="122.0" r="1.9" fill="#111"/>
<circle cx="1710.0" cy="120.0" r="1.9" fill="#111"/>
<circle cx="1710.0" cy="118.0" r="1.9" fill="#111"/>
<circle cx="1710.0" cy="133.1" r="1.9" fill="#111"/>
<circle cx="1710.0" cy="140.8" r="1.9" fill="#111"/>
<circle cx="1710.0" cy="128.1" r="1.9" fill="#111"/>
<circle cx="1710.0" cy="106.0" r="1.9" fill="#111"/>
<circle cx="1710.0" cy="111.5" r="1.9" fill="#111"/>
<circle cx="1710.0" cy="135.3" r="1.9" fill="#111"/>
<circle cx="1710.0" cy="86.2" r="1.9" fill="#111"/>
<path d="M1527.3,79.2 L1527.3,71.5 L1588,71.5 L1588,88.8" fill="none" stroke="#999" stroke-width="3.2"/>
<path d="M1649.2,143.5 L1649.2,74.9 L1708.6,74.9 L1708.6,84" fill="none" stroke="#999" stroke-width="3.2"/>
<text x="1489.3" y="66.8" font-size="23.5"><tspan font-style="italic">p</tspan>=1.39*10<tspan font-size="14" dy="-10">-15</tspan></text>
<text x="1678.8" y="66.8" font-size="23.5" text-anchor="middle" textLength="37.6" lengthAdjust="spacingAndGlyphs">n.s.</text>
<rect x="1572.3" y="3.6" width="91.0" height="32.4" fill="#ebebeb" stroke="#555" stroke-width="1.6"/>
<text x="1618.0" y="26.4" font-size="19.5" text-anchor="middle" font-weight="bold" textLength="67" lengthAdjust="spacingAndGlyphs">random</text>
<text x="1528.0" y="345.6" font-size="23.5" text-anchor="middle" textLength="48.7" lengthAdjust="spacingAndGlyphs">Hum</text>
<text x="1589.2" y="345.6" font-size="23.5" text-anchor="middle" textLength="59.3" lengthAdjust="spacingAndGlyphs">Simul</text>
<text x="1649.6" y="345.6" font-size="23.5" text-anchor="middle" textLength="48" lengthAdjust="spacingAndGlyphs">Hum</text>
<text x="1710.2" y="345.6" font-size="23.5" text-anchor="middle" textLength="58.8" lengthAdjust="spacingAndGlyphs">Simul</text>
<text x="1552.2" y="369.6" font-size="23.5" text-anchor="middle" textLength="88.3" lengthAdjust="spacingAndGlyphs">Low-dim</text>
<text x="1680.8" y="369.6" font-size="23.5" text-anchor="middle" textLength="93.6" lengthAdjust="spacingAndGlyphs">High-dim</text>
<text x="1442.0" y="190.2" font-size="23.5" text-anchor="middle" transform="rotate(-90 1442.0 190.2)" textLength="178.8" lengthAdjust="spacingAndGlyphs">Strategy ratio [%]</text>
<line x1="101.6" y1="477.5" x2="101.6" y2="732.0" stroke="#b0b0b0" stroke-width="1.2"/>
<line x1="101.6" y1="732.0" x2="356.0" y2="732.0" stroke="#b0b0b0" stroke-width="1.2"/>
<line x1="101.6" y1="520.2" x2="105.6" y2="520.2" stroke="#b0b0b0" stroke-width="1"/>
<text x="99.5" y="528.4" font-size="23.5" text-anchor="end">150</text>
<line x1="101.6" y1="590.7" x2="105.6" y2="590.7" stroke="#b0b0b0" stroke-width="1"/>
<text x="99.5" y="598.9" font-size="23.5" text-anchor="end">100</text>
<line x1="101.6" y1="704.4" x2="105.6" y2="704.4" stroke="#b0b0b0" stroke-width="1"/>
<text x="99.5" y="712.6" font-size="23.5" text-anchor="end">20</text>
<line x1="171.8" y1="732.0" x2="171.8" y2="728.0" stroke="#b0b0b0" stroke-width="1"/>
<text x="171.8" y="754.0" font-size="23.5" text-anchor="middle">50</text>
<line x1="242.9" y1="732.0" x2="242.9" y2="728.0" stroke="#b0b0b0" stroke-width="1"/>
<text x="242.9" y="754.0" font-size="23.5" text-anchor="middle">100</text>
<line x1="313.4" y1="732.0" x2="313.4" y2="728.0" stroke="#b0b0b0" stroke-width="1"/>
<text x="313.4" y="754.0" font-size="23.5" text-anchor="middle">150</text>
<circle cx="111.1" cy="696.6" r="3.7" fill="#a6cee3"/>
<circle cx="120.7" cy="692.0" r="3.7" fill="#a6cee3"/>
<circle cx="142.1" cy="690.7" r="3.7" fill="#a6cee3"/>
<circle cx="149.1" cy="687.6" r="3.7" fill="#a6cee3"/>
<circle cx="160.2" cy="681.1" r="3.7" fill="#a6cee3"/>
<circle cx="171.1" cy="660.5" r="3.7" fill="#a6cee3"/>
<circle cx="169.3" cy="663.0" r="3.7" fill="#a6cee3"/>
<circle cx="157.6" cy="710.9" r="3.7" fill="#a6cee3"/>
<circle cx="122.7" cy="711.4" r="3.7" fill="#a6cee3"/>
<circle cx="126.6" cy="709.6" r="3.7" fill="#a6cee3"/>
<circle cx="129.2" cy="710.9" r="3.7" fill="#a6cee3"/>
<circle cx="123.5" cy="721.7" r="3.7" fill="#a6cee3"/>
<circle cx="125.3" cy="707.5" r="3.7" fill="#a6cee3"/>
<circle cx="133.1" cy="646.0" r="3.7" fill="#ff7f00"/>
<circle cx="201.6" cy="631.3" r="3.7" fill="#ff7f00"/>
<circle cx="224.3" cy="635.9" r="3.7" fill="#ff7f00"/>
<circle cx="189.9" cy="643.4" r="3.7" fill="#ff7f00"/>
<circle cx="180.4" cy="665.6" r="3.7" fill="#ff7f00"/>
<circle cx="168.0" cy="681.1" r="3.7" fill="#ff7f00"/>
<circle cx="171.1" cy="681.1" r="3.7" fill="#ff7f00"/>
<circle cx="126.6" cy="694.1" r="3.7" fill="#ff7f00"/>
<circle cx="133.1" cy="695.3" r="3.7" fill="#ff7f00"/>
<circle cx="131.3" cy="707.5" r="3.7" fill="#ff7f00"/>
<circle cx="173.1" cy="708.0" r="3.7" fill="#ff7f00"/>
<circle cx="143.4" cy="533.9" r="3.7" fill="#cbb3d8"/>
<circle cx="292.0" cy="540.8" r="3.7" fill="#cbb3d8"/>
<circle cx="280.9" cy="552.5" r="3.7" fill="#cbb3d8"/>
<circle cx="293.3" cy="576.5" r="3.7" fill="#cbb3d8"/>
<circle cx="122.2" cy="587.9" r="3.7" fill="#cbb3d8"/>
<circle cx="209.3" cy="624.8" r="3.7" fill="#cbb3d8"/>
<circle cx="213.2" cy="624.8" r="3.7" fill="#cbb3d8"/>
<circle cx="224.3" cy="624.8" r="3.7" fill="#cbb3d8"/>
<circle cx="204.1" cy="634.6" r="3.7" fill="#cbb3d8"/>
<circle cx="167.4" cy="666.9" r="3.7" fill="#cbb3d8"/>
<circle cx="163.3" cy="672.6" r="3.7" fill="#cbb3d8"/>
<circle cx="130.7" cy="588.1" r="3.7" fill="#e31a1c"/>
<circle cx="120.7" cy="603.6" r="3.7" fill="#e31a1c"/>
<circle cx="217.1" cy="613.4" r="3.7" fill="#e31a1c"/>
<circle cx="190.2" cy="630.0" r="3.7" fill="#e31a1c"/>
<circle cx="134.6" cy="644.4" r="3.7" fill="#e31a1c"/>
<circle cx="102.8" cy="664.9" r="3.7" fill="#e31a1c"/>
<circle cx="182.2" cy="653.2" r="3.7" fill="#e31a1c"/>
<circle cx="184.8" cy="654.5" r="3.7" fill="#e31a1c"/>
<circle cx="155.0" cy="677.0" r="3.7" fill="#e31a1c"/>
<circle cx="158.1" cy="675.5" r="3.7" fill="#e31a1c"/>
<circle cx="138.2" cy="694.6" r="3.7" fill="#e31a1c"/>
<circle cx="135.1" cy="698.4" r="3.7" fill="#e31a1c"/>
<circle cx="128.4" cy="702.3" r="3.7" fill="#e31a1c"/>
<circle cx="134.6" cy="714.7" r="3.7" fill="#e31a1c"/>
<circle cx="102.8" cy="727.6" r="3.7" fill="#e31a1c"/>
<circle cx="106.7" cy="727.6" r="3.7" fill="#e31a1c"/>
<line x1="101.6" y1="705.0" x2="354.0" y2="529.2" stroke="#222" stroke-width="1.3" stroke-dasharray="4,3"/>
<text x="236.4" y="671.3" font-size="23.5" textLength="96" lengthAdjust="spacingAndGlyphs"><tspan font-style="italic">R</tspan><tspan font-size="14" dy="-10">2</tspan><tspan dy="10">: 43.7%</tspan></text>
<text x="236.4" y="697.2" font-size="23.5"><tspan font-style="italic">p</tspan>=8.96*10<tspan font-size="14" dy="-10">-9</tspan></text>
<text x="236.4" y="723.5" font-size="23.5">N=60</text>
<text x="235.8" y="774.8" font-size="23.5" text-anchor="middle" textLength="292.2" lengthAdjust="spacingAndGlyphs">Onset 1st correct sequence</text>
<text x="234.4" y="801.2" font-size="23.5" text-anchor="middle" textLength="71" lengthAdjust="spacingAndGlyphs">[trials]</text>
<text x="31.0" y="590.5" font-size="23.5" text-anchor="middle" transform="rotate(-90 31.0 590.5)" textLength="280.3" lengthAdjust="spacingAndGlyphs">Performance change point</text>
<text x="56.5" y="591.8" font-size="23.5" text-anchor="middle" transform="rotate(-90 56.5 591.8)" textLength="63.5" lengthAdjust="spacingAndGlyphs">[trials]</text>
<line x1="826.6" y1="477.0" x2="826.6" y2="731.3" stroke="#b0b0b0" stroke-width="1.2"/>
<line x1="826.6" y1="731.3" x2="1081.0" y2="731.3" stroke="#b0b0b0" stroke-width="1.2"/>
<line x1="826.6" y1="520.2" x2="830.6" y2="520.2" stroke="#b0b0b0" stroke-width="1"/>
<text x="824.0" y="528.4" font-size="23.5" text-anchor="end">150</text>
<line x1="826.6" y1="590.7" x2="830.6" y2="590.7" stroke="#b0b0b0" stroke-width="1"/>
<text x="824.0" y="598.9" font-size="23.5" text-anchor="end">100</text>
<line x1="826.6" y1="661.0" x2="830.6" y2="661.0" stroke="#b0b0b0" stroke-width="1"/>
<text x="824.0" y="669.2" font-size="23.5" text-anchor="end">50</text>
<line x1="826.6" y1="731.3" x2="830.6" y2="731.3" stroke="#b0b0b0" stroke-width="1"/>
<text x="824.0" y="739.5" font-size="23.5" text-anchor="end">0</text>
<line x1="826.6" y1="731.3" x2="826.6" y2="727.3" stroke="#b0b0b0" stroke-width="1"/>
<text x="826.6" y="752.7" font-size="23.5" text-anchor="middle">0</text>
<line x1="897.1" y1="731.3" x2="897.1" y2="727.3" stroke="#b0b0b0" stroke-width="1"/>
<text x="897.1" y="752.7" font-size="23.5" text-anchor="middle">50</text>
<line x1="967.4" y1="731.3" x2="967.4" y2="727.3" stroke="#b0b0b0" stroke-width="1"/>
<text x="967.4" y="752.7" font-size="23.5" text-anchor="middle">100</text>
<line x1="1038.4" y1="731.3" x2="1038.4" y2="727.3" stroke="#b0b0b0" stroke-width="1"/>
<text x="1038.4" y="752.7" font-size="23.5" text-anchor="middle">150</text>
<circle cx="829.1" cy="639.8" r="3.7" fill="#a6cee3"/>
<circle cx="861.4" cy="654.0" r="3.7" fill="#a6cee3"/>
<circle cx="867.4" cy="659.7" r="3.7" fill="#a6cee3"/>
<circle cx="843.4" cy="663.6" r="3.7" fill="#a6cee3"/>
<circle cx="886.0" cy="657.6" r="3.7" fill="#a6cee3"/>
<circle cx="894.3" cy="662.3" r="3.7" fill="#a6cee3"/>
<circle cx="873.9" cy="673.4" r="3.7" fill="#a6cee3"/>
<circle cx="850.6" cy="701.3" r="3.7" fill="#a6cee3"/>
<circle cx="845.9" cy="708.8" r="3.7" fill="#a6cee3"/>
<circle cx="848.0" cy="713.2" r="3.7" fill="#a6cee3"/>
<circle cx="930.4" cy="610.1" r="3.7" fill="#ff7f00"/>
<circle cx="915.5" cy="649.6" r="3.7" fill="#ff7f00"/>
<circle cx="915.5" cy="661.0" r="3.7" fill="#ff7f00"/>
<circle cx="835.1" cy="659.7" r="3.7" fill="#ff7f00"/>
<circle cx="861.4" cy="677.8" r="3.7" fill="#ff7f00"/>
<circle cx="844.7" cy="694.6" r="3.7" fill="#ff7f00"/>
<circle cx="856.3" cy="711.9" r="3.7" fill="#ff7f00"/>
<circle cx="832.0" cy="585.5" r="3.7" fill="#e31a1c"/>
<circle cx="845.9" cy="587.1" r="3.7" fill="#e31a1c"/>
<circle cx="853.2" cy="589.1" r="3.7" fill="#e31a1c"/>
<circle cx="827.9" cy="627.1" r="3.7" fill="#e31a1c"/>
<circle cx="942.1" cy="608.8" r="3.7" fill="#e31a1c"/>
<circle cx="915.5" cy="635.4" r="3.7" fill="#e31a1c"/>
<circle cx="855.8" cy="660.5" r="3.7" fill="#e31a1c"/>
<circle cx="858.9" cy="666.1" r="3.7" fill="#e31a1c"/>
<circle cx="879.8" cy="661.0" r="3.7" fill="#e31a1c"/>
<circle cx="909.8" cy="661.0" r="3.7" fill="#e31a1c"/>
<circle cx="827.9" cy="675.2" r="3.7" fill="#e31a1c"/>
<circle cx="860.2" cy="701.6" r="3.7" fill="#e31a1c"/>
<circle cx="841.8" cy="714.2" r="3.7" fill="#e31a1c"/>
<circle cx="868.7" cy="526.6" r="3.7" fill="#cbb3d8"/>
<circle cx="1017.3" cy="547.8" r="3.7" fill="#cbb3d8"/>
<circle cx="1045.4" cy="554.8" r="3.7" fill="#cbb3d8"/>
<circle cx="905.4" cy="572.9" r="3.7" fill="#cbb3d8"/>
<circle cx="929.4" cy="581.7" r="3.7" fill="#cbb3d8"/>
<circle cx="1062.5" cy="576.0" r="3.7" fill="#cbb3d8"/>
<circle cx="1018.6" cy="604.4" r="3.7" fill="#cbb3d8"/>
<circle cx="935.1" cy="610.1" r="3.7" fill="#cbb3d8"/>
<circle cx="892.7" cy="648.1" r="3.7" fill="#cbb3d8"/>
<circle cx="939.2" cy="652.5" r="3.7" fill="#cbb3d8"/>
<circle cx="888.6" cy="663.6" r="3.7" fill="#cbb3d8"/>
<circle cx="848.0" cy="703.1" r="3.7" fill="#cbb3d8"/>
<line x1="826.6" y1="675.2" x2="1081.0" y2="552.5" stroke="#222" stroke-width="1.3" stroke-dasharray="4,3"/>
<text x="952.4" y="671.3" font-size="23.5" textLength="96" lengthAdjust="spacingAndGlyphs"><tspan font-style="italic">R</tspan><tspan font-size="14" dy="-10">2</tspan><tspan dy="10">: 32.4%</tspan></text>
<text x="952.4" y="697.2" font-size="23.5"><tspan font-style="italic">p</tspan>=4.56*10<tspan font-size="14" dy="-10">-5</tspan></text>
<text x="952.4" y="724.3" font-size="23.5">N=45</text>
<text x="950.6" y="774.8" font-size="23.5" text-anchor="middle" textLength="292" lengthAdjust="spacingAndGlyphs">Onset 1st correct sequence</text>
<text x="950.6" y="801.8" font-size="23.5" text-anchor="middle" textLength="71" lengthAdjust="spacingAndGlyphs">[trials]</text>
<text x="777.5" y="610.5" font-size="23.5" text-anchor="middle" transform="rotate(-90 777.5 610.5)" textLength="243" lengthAdjust="spacingAndGlyphs">RT change point [trials]</text>
<line x1="1490.8" y1="475.0" x2="1490.8" y2="731.6" stroke="#b0b0b0" stroke-width="1.2"/>
<line x1="1490.8" y1="731.6" x2="1873.8" y2="731.6" stroke="#b0b0b0" stroke-width="1.2"/>
<line x1="1490.8" y1="731.6" x2="1494.8" y2="731.6" stroke="#b0b0b0" stroke-width="1"/>
<text x="1488.0" y="739.8" font-size="23.5" text-anchor="end">0.4</text>
<line x1="1490.8" y1="699.9" x2="1494.8" y2="699.9" stroke="#b0b0b0" stroke-width="1"/>
<text x="1488.0" y="708.1" font-size="23.5" text-anchor="end">0.45</text>
<line x1="1490.8" y1="668.1" x2="1494.8" y2="668.1" stroke="#b0b0b0" stroke-width="1"/>
<text x="1488.0" y="676.3" font-size="23.5" text-anchor="end">0.5</text>
<line x1="1490.8" y1="636.4" x2="1494.8" y2="636.4" stroke="#b0b0b0" stroke-width="1"/>
<text x="1488.0" y="644.6" font-size="23.5" text-anchor="end">0.55</text>
<line x1="1490.8" y1="604.6" x2="1494.8" y2="604.6" stroke="#b0b0b0" stroke-width="1"/>
<text x="1488.0" y="612.8" font-size="23.5" text-anchor="end">0.6</text>
<line x1="1490.8" y1="572.9" x2="1494.8" y2="572.9" stroke="#b0b0b0" stroke-width="1"/>
<text x="1488.0" y="581.1" font-size="23.5" text-anchor="end">0.65</text>
<line x1="1490.8" y1="541.1" x2="1494.8" y2="541.1" stroke="#b0b0b0" stroke-width="1"/>
<text x="1488.0" y="549.3" font-size="23.5" text-anchor="end">0.7</text>
<line x1="1490.8" y1="509.4" x2="1494.8" y2="509.4" stroke="#b0b0b0" stroke-width="1"/>
<text x="1488.0" y="517.6" font-size="23.5" text-anchor="end">0.75</text>
<line x1="1490.8" y1="477.6" x2="1494.8" y2="477.6" stroke="#b0b0b0" stroke-width="1"/>
<text x="1488.0" y="485.8" font-size="23.5" text-anchor="end">0.8</text>
<line x1="1518.6" y1="731.6" x2="1518.6" y2="727.6" stroke="#b0b0b0" stroke-width="1"/>
<text x="1518.6" y="753.6" font-size="23.5" text-anchor="middle">ACL</text>
<line x1="1573.0" y1="731.6" x2="1573.0" y2="727.6" stroke="#b0b0b0" stroke-width="1"/>
<text x="1573.0" y="753.6" font-size="23.5" text-anchor="middle">AC</text>
<line x1="1627.5" y1="731.6" x2="1627.5" y2="727.6" stroke="#b0b0b0" stroke-width="1"/>
<text x="1627.5" y="753.6" font-size="23.5" text-anchor="middle">AL</text>
<line x1="1682.0" y1="731.6" x2="1682.0" y2="727.6" stroke="#b0b0b0" stroke-width="1"/>
<text x="1682.0" y="753.6" font-size="23.5" text-anchor="middle">UA</text>
<line x1="1736.8" y1="731.6" x2="1736.8" y2="727.6" stroke="#b0b0b0" stroke-width="1"/>
<text x="1736.8" y="753.6" font-size="23.5" text-anchor="middle">4D-</text>
<line x1="1791.0" y1="731.6" x2="1791.0" y2="727.6" stroke="#b0b0b0" stroke-width="1"/>
<text x="1791.0" y="753.6" font-size="23.5" text-anchor="middle">3D-</text>
<line x1="1845.8" y1="731.6" x2="1845.8" y2="727.6" stroke="#b0b0b0" stroke-width="1"/>
<text x="1845.8" y="753.6" font-size="23.5" text-anchor="middle">2D-</text>
<text x="1733.8" y="780.8" font-size="23.5" text-anchor="middle">RL</text>
<text x="1788.0" y="780.8" font-size="23.5" text-anchor="middle">RL</text>
<text x="1842.8" y="780.8" font-size="23.5" text-anchor="middle">RL</text>
<text x="1685.0" y="804.8" font-size="23.5" text-anchor="middle" textLength="66" lengthAdjust="spacingAndGlyphs">Model</text>
<polyline points="1518.6,622.5 1573.0,646.5 1627.5,679.4 1682.0,649.6 1736.8,626.5 1791.0,652.5 1845.8,668.9" fill="none" stroke="#cfcfcf" stroke-width="0.8" stroke-dasharray="1.5,1.5"/>
<polyline points="1518.6,561.6 1573.0,558.3 1627.5,582.6 1682.0,616.0 1736.8,602.7 1791.0,626.1 1845.8,579.6" fill="none" stroke="#cfcfcf" stroke-width="0.8" stroke-dasharray="1.5,1.5"/>
<polyline points="1518.6,546.3 1573.0,587.9 1627.5,608.1 1682.0,656.6 1736.8,625.9 1791.0,632.8 1845.8,646.3" fill="none" stroke="#cfcfcf" stroke-width="0.8" stroke-dasharray="1.5,1.5"/>
<polyline points="1518.6,600.9 1573.0,586.6 1627.5,602.2 1682.0,608.7 1736.8,651.1 1791.0,635.7 1845.8,650.7" fill="none" stroke="#cfcfcf" stroke-width="0.8" stroke-dasharray="1.5,1.5"/>
<polyline points="1518.6,565.2 1573.0,579.0 1627.5,611.3 1682.0,642.6 1736.8,615.3 1791.0,605.9 1845.8,639.6" fill="none" stroke="#cfcfcf" stroke-width="0.8" stroke-dasharray="1.5,1.5"/>
<polyline points="1518.6,616.7 1573.0,632.8 1627.5,587.7 1682.0,607.4 1736.8,643.8 1791.0,624.0 1845.8,647.5" fill="none" stroke="#cfcfcf" stroke-width="0.8" stroke-dasharray="1.5,1.5"/>
<polyline points="1518.6,627.6 1573.0,678.7 1627.5,613.7 1682.0,660.6 1736.8,659.1 1791.0,646.1 1845.8,623.7" fill="none" stroke="#cfcfcf" stroke-width="0.8" stroke-dasharray="1.5,1.5"/>
<polyline points="1518.6,662.5 1573.0,646.2 1627.5,647.3 1682.0,670.1 1736.8,670.3 1791.0,648.7 1845.8,684.2" fill="none" stroke="#cfcfcf" stroke-width="0.8" stroke-dasharray="1.5,1.5"/>
<polyline points="1518.6,579.6 1573.0,688.8 1627.5,665.1 1682.0,675.5 1736.8,662.7 1791.0,650.9 1845.8,668.8" fill="none" stroke="#cfcfcf" stroke-width="0.8" stroke-dasharray="1.5,1.5"/>
<polyline points="1518.6,643.4 1573.0,691.4 1627.5,645.0 1682.0,659.4 1736.8,659.8 1791.0,641.3 1845.8,667.7" fill="none" stroke="#cfcfcf" stroke-width="0.8" stroke-dasharray="1.5,1.5"/>
<polyline points="1518.6,567.2 1573.0,689.4 1627.5,619.6 1682.0,619.3 1736.8,634.7 1791.0,642.2 1845.8,640.0" fill="none" stroke="#cfcfcf" stroke-width="0.8" stroke-dasharray="1.5,1.5"/>
<polyline points="1518.6,562.1 1573.0,624.8 1627.5,614.7 1682.0,647.0 1736.8,652.4 1791.0,638.8 1845.8,623.0" fill="none" stroke="#cfcfcf" stroke-width="0.8" stroke-dasharray="1.5,1.5"/>
<polyline points="1518.6,642.6 1573.0,656.3 1627.5,661.3 1682.0,644.5 1736.8,652.0 1791.0,640.4 1845.8,682.8" fill="none" stroke="#cfcfcf" stroke-width="0.8" stroke-dasharray="1.5,1.5"/>
<polyline points="1518.6,541.3 1573.0,603.4 1627.5,597.2 1682.0,601.4 1736.8,597.6 1791.0,622.5 1845.8,614.0" fill="none" stroke="#cfcfcf" stroke-width="0.8" stroke-dasharray="1.5,1.5"/>
<polyline points="1518.6,664.3 1573.0,631.4 1627.5,615.8 1682.0,651.2 1736.8,646.4 1791.0,638.0 1845.8,585.0" fill="none" stroke="#cfcfcf" stroke-width="0.8" stroke-dasharray="1.5,1.5"/>
<polyline points="1518.6,598.5 1573.0,602.4 1627.5,610.1 1682.0,657.2 1736.8,606.7 1791.0,658.7 1845.8,664.8" fill="none" stroke="#cfcfcf" stroke-width="0.8" stroke-dasharray="1.5,1.5"/>
<polyline points="1518.6,625.1 1573.0,656.2 1627.5,646.0 1682.0,672.8 1736.8,649.4 1791.0,680.6 1845.8,673.1" fill="none" stroke="#cfcfcf" stroke-width="0.8" stroke-dasharray="1.5,1.5"/>
<polyline points="1518.6,664.7 1573.0,624.8 1627.5,689.0 1682.0,668.7 1736.8,628.7 1791.0,638.4 1845.8,672.4" fill="none" stroke="#cfcfcf" stroke-width="0.8" stroke-dasharray="1.5,1.5"/>
<polyline points="1518.6,614.5 1573.0,561.8 1627.5,601.2 1682.0,619.9 1736.8,603.1 1791.0,599.3 1845.8,595.1" fill="none" stroke="#cfcfcf" stroke-width="0.8" stroke-dasharray="1.5,1.5"/>
<polyline points="1518.6,598.3 1573.0,588.0 1627.5,629.3 1682.0,666.2 1736.8,660.2 1791.0,607.5 1845.8,673.2" fill="none" stroke="#cfcfcf" stroke-width="0.8" stroke-dasharray="1.5,1.5"/>
<polyline points="1518.6,572.4 1573.0,561.2 1627.5,602.3 1682.0,647.7 1736.8,622.3 1791.0,587.0 1845.8,573.8" fill="none" stroke="#cfcfcf" stroke-width="0.8" stroke-dasharray="1.5,1.5"/>
<polyline points="1518.6,662.9 1573.0,669.3 1627.5,639.1 1682.0,652.2 1736.8,659.2 1791.0,641.4 1845.8,675.3" fill="none" stroke="#cfcfcf" stroke-width="0.8" stroke-dasharray="1.5,1.5"/>
<polyline points="1518.6,637.2 1573.0,637.1 1627.5,646.9 1682.0,681.4 1736.8,668.0 1791.0,641.2 1845.8,686.5" fill="none" stroke="#cfcfcf" stroke-width="0.8" stroke-dasharray="1.5,1.5"/>
<polyline points="1518.6,663.7 1573.0,661.1 1627.5,629.6 1682.0,676.8 1736.8,668.6 1791.0,678.2 1845.8,651.5" fill="none" stroke="#cfcfcf" stroke-width="0.8" stroke-dasharray="1.5,1.5"/>
<polyline points="1518.6,580.2 1573.0,625.2 1627.5,622.9 1682.0,604.8 1736.8,652.6 1791.0,614.3 1845.8,621.5" fill="none" stroke="#cfcfcf" stroke-width="0.8" stroke-dasharray="1.5,1.5"/>
<polyline points="1518.6,638.7 1573.0,645.6 1627.5,670.9 1682.0,652.1 1736.8,670.5 1791.0,677.5 1845.8,669.0" fill="none" stroke="#cfcfcf" stroke-width="0.8" stroke-dasharray="1.5,1.5"/>
<polyline points="1518.6,610.5 1573.0,573.7 1627.5,620.2 1682.0,615.3 1736.8,635.4 1791.0,622.1 1845.8,631.3" fill="none" stroke="#cfcfcf" stroke-width="0.8" stroke-dasharray="1.5,1.5"/>
<polyline points="1518.6,626.7 1573.0,640.7 1627.5,611.4 1682.0,636.8 1736.8,645.0 1791.0,636.2 1845.8,666.6" fill="none" stroke="#cfcfcf" stroke-width="0.8" stroke-dasharray="1.5,1.5"/>
<polyline points="1518.6,494.7 1573.0,493.5 1627.5,501.1 1682.0,506.2 1736.8,545.5 1791.0,516.3 1845.8,478.9" fill="none" stroke="#c8c8c8" stroke-width="0.8" stroke-dasharray="1.5,1.5"/>
<rect x="1499.7" y="591.3" width="37.8" height="49.5" fill="none" stroke="#555" stroke-width="1.3"/>
<line x1="1499.7" y1="616.0" x2="1537.5" y2="616.0" stroke="#555" stroke-width="1.3"/>
<line x1="1518.6" y1="591.3" x2="1518.6" y2="541.1" stroke="#1c1c1c" stroke-width="1.3" stroke-dasharray="4,3"/>
<line x1="1518.6" y1="640.8" x2="1518.6" y2="670.0" stroke="#1c1c1c" stroke-width="1.3" stroke-dasharray="4,3"/>
<line x1="1510.1" y1="541.1" x2="1527.1" y2="541.1" stroke="#222" stroke-width="1.7"/>
<line x1="1510.1" y1="670.0" x2="1527.1" y2="670.0" stroke="#222" stroke-width="1.7"/>
<circle cx="1518.6" cy="622.5" r="1.8" fill="#111"/>
<circle cx="1518.6" cy="561.6" r="1.8" fill="#111"/>
<circle cx="1518.6" cy="546.3" r="1.9" fill="#fff" stroke="#555" stroke-width="0.7"/>
<circle cx="1518.6" cy="600.9" r="1.8" fill="#111"/>
<circle cx="1518.6" cy="565.2" r="1.8" fill="#111"/>
<circle cx="1518.6" cy="616.7" r="1.9" fill="#fff" stroke="#555" stroke-width="0.7"/>
<circle cx="1518.6" cy="627.6" r="1.8" fill="#111"/>
<circle cx="1518.6" cy="662.5" r="1.8" fill="#111"/>
<circle cx="1518.6" cy="579.6" r="1.9" fill="#fff" stroke="#555" stroke-width="0.7"/>
<circle cx="1518.6" cy="643.4" r="1.8" fill="#111"/>
<circle cx="1518.6" cy="567.2" r="1.8" fill="#111"/>
<circle cx="1518.6" cy="562.1" r="1.9" fill="#fff" stroke="#555" stroke-width="0.7"/>
<circle cx="1518.6" cy="642.6" r="1.8" fill="#111"/>
<circle cx="1518.6" cy="541.3" r="1.8" fill="#111"/>
<circle cx="1518.6" cy="664.3" r="1.9" fill="#fff" stroke="#555" stroke-width="0.7"/>
<circle cx="1518.6" cy="598.5" r="1.8" fill="#111"/>
<circle cx="1518.6" cy="625.1" r="1.8" fill="#111"/>
<circle cx="1518.6" cy="664.7" r="1.9" fill="#fff" stroke="#555" stroke-width="0.7"/>
<circle cx="1518.6" cy="614.5" r="1.8" fill="#111"/>
<circle cx="1518.6" cy="598.3" r="1.8" fill="#111"/>
<circle cx="1518.6" cy="572.4" r="1.9" fill="#fff" stroke="#555" stroke-width="0.7"/>
<circle cx="1518.6" cy="662.9" r="1.8" fill="#111"/>
<circle cx="1518.6" cy="637.2" r="1.8" fill="#111"/>
<circle cx="1518.6" cy="663.7" r="1.9" fill="#fff" stroke="#555" stroke-width="0.7"/>
<circle cx="1518.6" cy="580.2" r="1.8" fill="#111"/>
<circle cx="1518.6" cy="638.7" r="1.8" fill="#111"/>
<circle cx="1518.6" cy="610.5" r="1.9" fill="#fff" stroke="#555" stroke-width="0.7"/>
<circle cx="1518.6" cy="626.7" r="1.8" fill="#111"/>
<circle cx="1518.6" cy="494.7" r="1.9" fill="#fff" stroke="#555" stroke-width="0.7"/>
<rect x="1554.1" y="597.6" width="37.8" height="56.5" fill="none" stroke="#1c1c1c" stroke-width="1.8"/>
<line x1="1554.1" y1="625.6" x2="1591.9" y2="625.6" stroke="#1c1c1c" stroke-width="1.8"/>
<line x1="1573.0" y1="597.6" x2="1573.0" y2="548.7" stroke="#1c1c1c" stroke-width="1.3" stroke-dasharray="4,3"/>
<line x1="1573.0" y1="654.1" x2="1573.0" y2="691.6" stroke="#1c1c1c" stroke-width="1.3" stroke-dasharray="4,3"/>
<line x1="1564.5" y1="548.7" x2="1581.5" y2="548.7" stroke="#222" stroke-width="1.7"/>
<line x1="1564.5" y1="691.6" x2="1581.5" y2="691.6" stroke="#222" stroke-width="1.7"/>
<circle cx="1573.0" cy="646.5" r="1.8" fill="#111"/>
<circle cx="1573.0" cy="558.3" r="1.9" fill="#fff" stroke="#555" stroke-width="0.7"/>
<circle cx="1573.0" cy="587.9" r="1.9" fill="#fff" stroke="#555" stroke-width="0.7"/>
<circle cx="1573.0" cy="586.6" r="1.9" fill="#fff" stroke="#555" stroke-width="0.7"/>
<circle cx="1573.0" cy="579.0" r="1.9" fill="#fff" stroke="#555" stroke-width="0.7"/>
<circle cx="1573.0" cy="632.8" r="1.8" fill="#111"/>
<circle cx="1573.0" cy="678.7" r="1.9" fill="#fff" stroke="#555" stroke-width="0.7"/>
<circle cx="1573.0" cy="646.2" r="1.9" fill="#fff" stroke="#555" stroke-width="0.7"/>
<circle cx="1573.0" cy="688.8" r="1.9" fill="#fff" stroke="#555" stroke-width="0.7"/>
<circle cx="1573.0" cy="691.4" r="1.9" fill="#fff" stroke="#555" stroke-width="0.7"/>
<circle cx="1573.0" cy="689.4" r="1.8" fill="#111"/>
<circle cx="1573.0" cy="624.8" r="1.9" fill="#fff" stroke="#555" stroke-width="0.7"/>
<circle cx="1573.0" cy="656.3" r="1.9" fill="#fff" stroke="#555" stroke-width="0.7"/>
<circle cx="1573.0" cy="603.4" r="1.9" fill="#fff" stroke="#555" stroke-width="0.7"/>
<circle cx="1573.0" cy="631.4" r="1.9" fill="#fff" stroke="#555" stroke-width="0.7"/>
<circle cx="1573.0" cy="602.4" r="1.8" fill="#111"/>
<circle cx="1573.0" cy="656.2" r="1.9" fill="#fff" stroke="#555" stroke-width="0.7"/>
<circle cx="1573.0" cy="624.8" r="1.9" fill="#fff" stroke="#555" stroke-width="0.7"/>
<circle cx="1573.0" cy="561.8" r="1.9" fill="#fff" stroke="#555" stroke-width="0.7"/>
<circle cx="1573.0" cy="588.0" r="1.9" fill="#fff" stroke="#555" stroke-width="0.7"/>
<circle cx="1573.0" cy="561.2" r="1.8" fill="#111"/>
<circle cx="1573.0" cy="669.3" r="1.9" fill="#fff" stroke="#555" stroke-width="0.7"/>
<circle cx="1573.0" cy="637.1" r="1.9" fill="#fff" stroke="#555" stroke-width="0.7"/>
<circle cx="1573.0" cy="661.1" r="1.9" fill="#fff" stroke="#555" stroke-width="0.7"/>
<circle cx="1573.0" cy="625.2" r="1.9" fill="#fff" stroke="#555" stroke-width="0.7"/>
<circle cx="1573.0" cy="645.6" r="1.8" fill="#111"/>
<circle cx="1573.0" cy="573.7" r="1.9" fill="#fff" stroke="#555" stroke-width="0.7"/>
<circle cx="1573.0" cy="640.7" r="1.9" fill="#fff" stroke="#555" stroke-width="0.7"/>
<circle cx="1573.0" cy="493.5" r="1.9" fill="#fff" stroke="#555" stroke-width="0.7"/>
<rect x="1608.6" y="607.1" width="37.8" height="52.1" fill="none" stroke="#1c1c1c" stroke-width="1.8"/>
<line x1="1608.6" y1="635.7" x2="1646.4" y2="635.7" stroke="#1c1c1c" stroke-width="1.8"/>
<line x1="1627.5" y1="607.1" x2="1627.5" y2="581.7" stroke="#1c1c1c" stroke-width="1.3" stroke-dasharray="4,3"/>
<line x1="1627.5" y1="659.2" x2="1627.5" y2="711.3" stroke="#1c1c1c" stroke-width="1.3" stroke-dasharray="4,3"/>
<line x1="1619.0" y1="581.7" x2="1636.0" y2="581.7" stroke="#222" stroke-width="1.7"/>
<line x1="1619.0" y1="711.3" x2="1636.0" y2="711.3" stroke="#222" stroke-width="1.7"/>
<circle cx="1627.5" cy="679.4" r="1.9" fill="#fff" stroke="#555" stroke-width="0.7"/>
<circle cx="1627.5" cy="582.6" r="1.9" fill="#fff" stroke="#555" stroke-width="0.7"/>
<circle cx="1627.5" cy="608.1" r="1.9" fill="#fff" stroke="#555" stroke-width="0.7"/>
<circle cx="1627.5" cy="602.2" r="1.9" fill="#fff" stroke="#555" stroke-width="0.7"/>
<circle cx="1627.5" cy="611.3" r="1.9" fill="#fff" stroke="#555" stroke-width="0.7"/>
<circle cx="1627.5" cy="587.7" r="1.9" fill="#fff" stroke="#555" stroke-width="0.7"/>
<circle cx="1627.5" cy="613.7" r="1.9" fill="#fff" stroke="#555" stroke-width="0.7"/>
<circle cx="1627.5" cy="647.3" r="1.9" fill="#fff" stroke="#555" stroke-width="0.7"/>
<circle cx="1627.5" cy="665.1" r="1.9" fill="#fff" stroke="#555" stroke-width="0.7"/>
<circle cx="1627.5" cy="645.0" r="1.9" fill="#fff" stroke="#555" stroke-width="0.7"/>
<circle cx="1627.5" cy="619.6" r="1.9" fill="#fff" stroke="#555" stroke-width="0.7"/>
<circle cx="1627.5" cy="614.7" r="1.9" fill="#fff" stroke="#555" stroke-width="0.7"/>
<circle cx="1627.5" cy="661.3" r="1.9" fill="#fff" stroke="#555" stroke-width="0.7"/>
<circle cx="1627.5" cy="597.2" r="1.9" fill="#fff" stroke="#555" stroke-width="0.7"/>
<circle cx="1627.5" cy="615.8" r="1.9" fill="#fff" stroke="#555" stroke-width="0.7"/>
<circle cx="1627.5" cy="610.1" r="1.9" fill="#fff" stroke="#555" stroke-width="0.7"/>
<circle cx="1627.5" cy="646.0" r="1.9" fill="#fff" stroke="#555" stroke-width="0.7"/>
<circle cx="1627.5" cy="689.0" r="1.9" fill="#fff" stroke="#555" stroke-width="0.7"/>
<circle cx="1627.5" cy="601.2" r="1.9" fill="#fff" stroke="#555" stroke-width="0.7"/>
<circle cx="1627.5" cy="629.3" r="1.9" fill="#fff" stroke="#555" stroke-width="0.7"/>
<circle cx="1627.5" cy="602.3" r="1.9" fill="#fff" stroke="#555" stroke-width="0.7"/>
<circle cx="1627.5" cy="639.1" r="1.9" fill="#fff" stroke="#555" stroke-width="0.7"/>
<circle cx="1627.5" cy="646.9" r="1.9" fill="#fff" stroke="#555" stroke-width="0.7"/>
<circle cx="1627.5" cy="629.6" r="1.9" fill="#fff" stroke="#555" stroke-width="0.7"/>
<circle cx="1627.5" cy="622.9" r="1.9" fill="#fff" stroke="#555" stroke-width="0.7"/>
<circle cx="1627.5" cy="670.9" r="1.9" fill="#fff" stroke="#555" stroke-width="0.7"/>
<circle cx="1627.5" cy="620.2" r="1.9" fill="#fff" stroke="#555" stroke-width="0.7"/>
<circle cx="1627.5" cy="611.4" r="1.9" fill="#fff" stroke="#555" stroke-width="0.7"/>
<circle cx="1627.5" cy="501.1" r="1.9" fill="#fff" stroke="#555" stroke-width="0.7"/>
<rect x="1663.1" y="628.1" width="37.8" height="33.0" fill="none" stroke="#1c1c1c" stroke-width="1.8"/>
<line x1="1663.1" y1="646.5" x2="1700.9" y2="646.5" stroke="#1c1c1c" stroke-width="1.8"/>
<line x1="1682.0" y1="628.1" x2="1682.0" y2="600.2" stroke="#1c1c1c" stroke-width="1.3" stroke-dasharray="4,3"/>
<line x1="1682.0" y1="661.1" x2="1682.0" y2="681.4" stroke="#1c1c1c" stroke-width="1.3" stroke-dasharray="4,3"/>
<line x1="1673.5" y1="600.2" x2="1690.5" y2="600.2" stroke="#222" stroke-width="1.7"/>
<line x1="1673.5" y1="681.4" x2="1690.5" y2="681.4" stroke="#222" stroke-width="1.7"/>
<circle cx="1682.0" cy="649.6" r="1.9" fill="#fff" stroke="#555" stroke-width="0.7"/>
<circle cx="1682.0" cy="616.0" r="1.9" fill="#fff" stroke="#555" stroke-width="0.7"/>
<circle cx="1682.0" cy="656.6" r="1.9" fill="#fff" stroke="#555" stroke-width="0.7"/>
<circle cx="1682.0" cy="608.7" r="1.9" fill="#fff" stroke="#555" stroke-width="0.7"/>
<circle cx="1682.0" cy="642.6" r="1.9" fill="#fff" stroke="#555" stroke-width="0.7"/>
<circle cx="1682.0" cy="607.4" r="1.9" fill="#fff" stroke="#555" stroke-width="0.7"/>
<circle cx="1682.0" cy="660.6" r="1.9" fill="#fff" stroke="#555" stroke-width="0.7"/>
<circle cx="1682.0" cy="670.1" r="1.9" fill="#fff" stroke="#555" stroke-width="0.7"/>
<circle cx="1682.0" cy="675.5" r="1.9" fill="#fff" stroke="#555" stroke-width="0.7"/>
<circle cx="1682.0" cy="659.4" r="1.9" fill="#fff" stroke="#555" stroke-width="0.7"/>
<circle cx="1682.0" cy="619.3" r="1.9" fill="#fff" stroke="#555" stroke-width="0.7"/>
<circle cx="1682.0" cy="647.0" r="1.9" fill="#fff" stroke="#555" stroke-width="0.7"/>
<circle cx="1682.0" cy="644.5" r="1.9" fill="#fff" stroke="#555" stroke-width="0.7"/>
<circle cx="1682.0" cy="601.4" r="1.9" fill="#fff" stroke="#555" stroke-width="0.7"/>
<circle cx="1682.0" cy="651.2" r="1.9" fill="#fff" stroke="#555" stroke-width="0.7"/>
<circle cx="1682.0" cy="657.2" r="1.9" fill="#fff" stroke="#555" stroke-width="0.7"/>
<circle cx="1682.0" cy="672.8" r="1.9" fill="#fff" stroke="#555" stroke-width="0.7"/>
<circle cx="1682.0" cy="668.7" r="1.9" fill="#fff" stroke="#555" stroke-width="0.7"/>
<circle cx="1682.0" cy="619.9" r="1.9" fill="#fff" stroke="#555" stroke-width="0.7"/>
<circle cx="1682.0" cy="666.2" r="1.9" fill="#fff" stroke="#555" stroke-width="0.7"/>
<circle cx="1682.0" cy="647.7" r="1.9" fill="#fff" stroke="#555" stroke-width="0.7"/>
<circle cx="1682.0" cy="652.2" r="1.9" fill="#fff" stroke="#555" stroke-width="0.7"/>
<circle cx="1682.0" cy="681.4" r="1.9" fill="#fff" stroke="#555" stroke-width="0.7"/>
<circle cx="1682.0" cy="676.8" r="1.9" fill="#fff" stroke="#555" stroke-width="0.7"/>
<circle cx="1682.0" cy="604.8" r="1.9" fill="#fff" stroke="#555" stroke-width="0.7"/>
<circle cx="1682.0" cy="652.1" r="1.9" fill="#fff" stroke="#555" stroke-width="0.7"/>
<circle cx="1682.0" cy="615.3" r="1.9" fill="#fff" stroke="#555" stroke-width="0.7"/>
<circle cx="1682.0" cy="636.8" r="1.9" fill="#fff" stroke="#555" stroke-width="0.7"/>
<circle cx="1682.0" cy="506.2" r="1.9" fill="#fff" stroke="#555" stroke-width="0.7"/>
<rect x="1717.9" y="621.1" width="37.8" height="36.2" fill="none" stroke="#1c1c1c" stroke-width="1.8"/>
<line x1="1717.9" y1="644.0" x2="1755.7" y2="644.0" stroke="#1c1c1c" stroke-width="1.8"/>
<line x1="1736.8" y1="621.1" x2="1736.8" y2="588.1" stroke="#1c1c1c" stroke-width="1.3" stroke-dasharray="4,3"/>
<line x1="1736.8" y1="657.3" x2="1736.8" y2="670.6" stroke="#1c1c1c" stroke-width="1.3" stroke-dasharray="4,3"/>
<line x1="1728.3" y1="588.1" x2="1745.3" y2="588.1" stroke="#222" stroke-width="1.7"/>
<line x1="1728.3" y1="670.6" x2="1745.3" y2="670.6" stroke="#222" stroke-width="1.7"/>
<circle cx="1736.8" cy="626.5" r="1.9" fill="#fff" stroke="#555" stroke-width="0.7"/>
<circle cx="1736.8" cy="602.7" r="1.9" fill="#fff" stroke="#555" stroke-width="0.7"/>
<circle cx="1736.8" cy="625.9" r="1.9" fill="#fff" stroke="#555" stroke-width="0.7"/>
<circle cx="1736.8" cy="651.1" r="1.9" fill="#fff" stroke="#555" stroke-width="0.7"/>
<circle cx="1736.8" cy="615.3" r="1.9" fill="#fff" stroke="#555" stroke-width="0.7"/>
<circle cx="1736.8" cy="643.8" r="1.9" fill="#fff" stroke="#555" stroke-width="0.7"/>
<circle cx="1736.8" cy="659.1" r="1.9" fill="#fff" stroke="#555" stroke-width="0.7"/>
<circle cx="1736.8" cy="670.3" r="1.9" fill="#fff" stroke="#555" stroke-width="0.7"/>
<circle cx="1736.8" cy="662.7" r="1.9" fill="#fff" stroke="#555" stroke-width="0.7"/>
<circle cx="1736.8" cy="659.8" r="1.9" fill="#fff" stroke="#555" stroke-width="0.7"/>
<circle cx="1736.8" cy="634.7" r="1.9" fill="#fff" stroke="#555" stroke-width="0.7"/>
<circle cx="1736.8" cy="652.4" r="1.9" fill="#fff" stroke="#555" stroke-width="0.7"/>
<circle cx="1736.8" cy="652.0" r="1.9" fill="#fff" stroke="#555" stroke-width="0.7"/>
<circle cx="1736.8" cy="597.6" r="1.9" fill="#fff" stroke="#555" stroke-width="0.7"/>
<circle cx="1736.8" cy="646.4" r="1.9" fill="#fff" stroke="#555" stroke-width="0.7"/>
<circle cx="1736.8" cy="606.7" r="1.9" fill="#fff" stroke="#555" stroke-width="0.7"/>
<circle cx="1736.8" cy="649.4" r="1.9" fill="#fff" stroke="#555" stroke-width="0.7"/>
<circle cx="1736.8" cy="628.7" r="1.9" fill="#fff" stroke="#555" stroke-width="0.7"/>
<circle cx="1736.8" cy="603.1" r="1.9" fill="#fff" stroke="#555" stroke-width="0.7"/>
<circle cx="1736.8" cy="660.2" r="1.9" fill="#fff" stroke="#555" stroke-width="0.7"/>
<circle cx="1736.8" cy="622.3" r="1.9" fill="#fff" stroke="#555" stroke-width="0.7"/>
<circle cx="1736.8" cy="659.2" r="1.9" fill="#fff" stroke="#555" stroke-width="0.7"/>
<circle cx="1736.8" cy="668.0" r="1.9" fill="#fff" stroke="#555" stroke-width="0.7"/>
<circle cx="1736.8" cy="668.6" r="1.9" fill="#fff" stroke="#555" stroke-width="0.7"/>
<circle cx="1736.8" cy="652.6" r="1.9" fill="#fff" stroke="#555" stroke-width="0.7"/>
<circle cx="1736.8" cy="670.5" r="1.9" fill="#fff" stroke="#555" stroke-width="0.7"/>
<circle cx="1736.8" cy="635.4" r="1.9" fill="#fff" stroke="#555" stroke-width="0.7"/>
<circle cx="1736.8" cy="645.0" r="1.9" fill="#fff" stroke="#555" stroke-width="0.7"/>
<circle cx="1736.8" cy="545.5" r="1.9" fill="#fff" stroke="#555" stroke-width="0.7"/>
<rect x="1772.1" y="620.5" width="37.8" height="36.2" fill="none" stroke="#1c1c1c" stroke-width="1.8"/>
<line x1="1772.1" y1="640.8" x2="1809.9" y2="640.8" stroke="#1c1c1c" stroke-width="1.8"/>
<line x1="1791.0" y1="620.5" x2="1791.0" y2="576.7" stroke="#1c1c1c" stroke-width="1.3" stroke-dasharray="4,3"/>
<line x1="1791.0" y1="656.7" x2="1791.0" y2="682.7" stroke="#1c1c1c" stroke-width="1.3" stroke-dasharray="4,3"/>
<line x1="1782.5" y1="576.7" x2="1799.5" y2="576.7" stroke="#222" stroke-width="1.7"/>
<line x1="1782.5" y1="682.7" x2="1799.5" y2="682.7" stroke="#222" stroke-width="1.7"/>
<circle cx="1791.0" cy="652.5" r="1.9" fill="#fff" stroke="#555" stroke-width="0.7"/>
<circle cx="1791.0" cy="626.1" r="1.9" fill="#fff" stroke="#555" stroke-width="0.7"/>
<circle cx="1791.0" cy="632.8" r="1.9" fill="#fff" stroke="#555" stroke-width="0.7"/>
<circle cx="1791.0" cy="635.7" r="1.9" fill="#fff" stroke="#555" stroke-width="0.7"/>
<circle cx="1791.0" cy="605.9" r="1.9" fill="#fff" stroke="#555" stroke-width="0.7"/>
<circle cx="1791.0" cy="624.0" r="1.9" fill="#fff" stroke="#555" stroke-width="0.7"/>
<circle cx="1791.0" cy="646.1" r="1.9" fill="#fff" stroke="#555" stroke-width="0.7"/>
<circle cx="1791.0" cy="648.7" r="1.9" fill="#fff" stroke="#555" stroke-width="0.7"/>
<circle cx="1791.0" cy="650.9" r="1.9" fill="#fff" stroke="#555" stroke-width="0.7"/>
<circle cx="1791.0" cy="641.3" r="1.9" fill="#fff" stroke="#555" stroke-width="0.7"/>
<circle cx="1791.0" cy="642.2" r="1.9" fill="#fff" stroke="#555" stroke-width="0.7"/>
<circle cx="1791.0" cy="638.8" r="1.9" fill="#fff" stroke="#555" stroke-width="0.7"/>
<circle cx="1791.0" cy="640.4" r="1.9" fill="#fff" stroke="#555" stroke-width="0.7"/>
<circle cx="1791.0" cy="622.5" r="1.9" fill="#fff" stroke="#555" stroke-width="0.7"/>
<circle cx="1791.0" cy="638.0" r="1.9" fill="#fff" stroke="#555" stroke-width="0.7"/>
<circle cx="1791.0" cy="658.7" r="1.9" fill="#fff" stroke="#555" stroke-width="0.7"/>
<circle cx="1791.0" cy="680.6" r="1.9" fill="#fff" stroke="#555" stroke-width="0.7"/>
<circle cx="1791.0" cy="638.4" r="1.9" fill="#fff" stroke="#555" stroke-width="0.7"/>
<circle cx="1791.0" cy="599.3" r="1.9" fill="#fff" stroke="#555" stroke-width="0.7"/>
<circle cx="1791.0" cy="607.5" r="1.9" fill="#fff" stroke="#555" stroke-width="0.7"/>
<circle cx="1791.0" cy="587.0" r="1.9" fill="#fff" stroke="#555" stroke-width="0.7"/>
<circle cx="1791.0" cy="641.4" r="1.9" fill="#fff" stroke="#555" stroke-width="0.7"/>
<circle cx="1791.0" cy="641.2" r="1.9" fill="#fff" stroke="#555" stroke-width="0.7"/>
<circle cx="1791.0" cy="678.2" r="1.9" fill="#fff" stroke="#555" stroke-width="0.7"/>
<circle cx="1791.0" cy="614.3" r="1.9" fill="#fff" stroke="#555" stroke-width="0.7"/>
<circle cx="1791.0" cy="677.5" r="1.9" fill="#fff" stroke="#555" stroke-width="0.7"/>
<circle cx="1791.0" cy="622.1" r="1.9" fill="#fff" stroke="#555" stroke-width="0.7"/>
<circle cx="1791.0" cy="636.2" r="1.9" fill="#fff" stroke="#555" stroke-width="0.7"/>
<circle cx="1791.0" cy="516.3" r="1.9" fill="#fff" stroke="#555" stroke-width="0.7"/>
<rect x="1826.9" y="613.5" width="37.8" height="55.2" fill="none" stroke="#1c1c1c" stroke-width="1.8"/>
<line x1="1826.9" y1="646.5" x2="1864.7" y2="646.5" stroke="#1c1c1c" stroke-width="1.8"/>
<line x1="1845.8" y1="613.5" x2="1845.8" y2="572.2" stroke="#1c1c1c" stroke-width="1.3" stroke-dasharray="4,3"/>
<line x1="1845.8" y1="668.7" x2="1845.8" y2="687.8" stroke="#1c1c1c" stroke-width="1.3" stroke-dasharray="4,3"/>
<line x1="1837.3" y1="572.2" x2="1854.3" y2="572.2" stroke="#222" stroke-width="1.7"/>
<line x1="1837.3" y1="687.8" x2="1854.3" y2="687.8" stroke="#222" stroke-width="1.7"/>
<circle cx="1845.8" cy="668.9" r="1.8" fill="#111"/>
<circle cx="1845.8" cy="579.6" r="1.9" fill="#fff" stroke="#555" stroke-width="0.7"/>
<circle cx="1845.8" cy="646.3" r="1.9" fill="#fff" stroke="#555" stroke-width="0.7"/>
<circle cx="1845.8" cy="650.7" r="1.9" fill="#fff" stroke="#555" stroke-width="0.7"/>
<circle cx="1845.8" cy="639.6" r="1.9" fill="#fff" stroke="#555" stroke-width="0.7"/>
<circle cx="1845.8" cy="647.5" r="1.8" fill="#111"/>
<circle cx="1845.8" cy="623.7" r="1.9" fill="#fff" stroke="#555" stroke-width="0.7"/>
<circle cx="1845.8" cy="684.2" r="1.9" fill="#fff" stroke="#555" stroke-width="0.7"/>
<circle cx="1845.8" cy="668.8" r="1.9" fill="#fff" stroke="#555" stroke-width="0.7"/>
<circle cx="1845.8" cy="667.7" r="1.9" fill="#fff" stroke="#555" stroke-width="0.7"/>
<circle cx="1845.8" cy="640.0" r="1.8" fill="#111"/>
<circle cx="1845.8" cy="623.0" r="1.9" fill="#fff" stroke="#555" stroke-width="0.7"/>
<circle cx="1845.8" cy="682.8" r="1.9" fill="#fff" stroke="#555" stroke-width="0.7"/>
<circle cx="1845.8" cy="614.0" r="1.9" fill="#fff" stroke="#555" stroke-width="0.7"/>
<circle cx="1845.8" cy="585.0" r="1.9" fill="#fff" stroke="#555" stroke-width="0.7"/>
<circle cx="1845.8" cy="664.8" r="1.8" fill="#111"/>
<circle cx="1845.8" cy="673.1" r="1.9" fill="#fff" stroke="#555" stroke-width="0.7"/>
<circle cx="1845.8" cy="672.4" r="1.9" fill="#fff" stroke="#555" stroke-width="0.7"/>
<circle cx="1845.8" cy="595.1" r="1.9" fill="#fff" stroke="#555" stroke-width="0.7"/>
<circle cx="1845.8" cy="673.2" r="1.9" fill="#fff" stroke="#555" stroke-width="0.7"/>
<circle cx="1845.8" cy="573.8" r="1.8" fill="#111"/>
<circle cx="1845.8" cy="675.3" r="1.9" fill="#fff" stroke="#555" stroke-width="0.7"/>
<circle cx="1845.8" cy="686.5" r="1.9" fill="#fff" stroke="#555" stroke-width="0.7"/>
<circle cx="1845.8" cy="651.5" r="1.9" fill="#fff" stroke="#555" stroke-width="0.7"/>
<circle cx="1845.8" cy="621.5" r="1.9" fill="#fff" stroke="#555" stroke-width="0.7"/>
<circle cx="1845.8" cy="669.0" r="1.8" fill="#111"/>
<circle cx="1845.8" cy="631.3" r="1.9" fill="#fff" stroke="#555" stroke-width="0.7"/>
<circle cx="1845.8" cy="666.6" r="1.9" fill="#fff" stroke="#555" stroke-width="0.7"/>
<circle cx="1845.8" cy="478.9" r="2.0" fill="#111"/>
<text x="1573.0" y="493.5" font-size="25" text-anchor="middle" textLength="25" lengthAdjust="spacingAndGlyphs">**</text>
<text x="1627.5" y="502.5" font-size="25" text-anchor="middle" textLength="51" lengthAdjust="spacingAndGlyphs">*****</text>
<text x="1682.0" y="511.0" font-size="25" text-anchor="middle" textLength="51" lengthAdjust="spacingAndGlyphs">*****</text>
<text x="1736.8" y="537.5" font-size="25" text-anchor="middle" textLength="51" lengthAdjust="spacingAndGlyphs">*****</text>
<text x="1791.0" y="514.5" font-size="25" text-anchor="middle" textLength="51" lengthAdjust="spacingAndGlyphs">*****</text>
<text x="1845.8" y="479.5" font-size="25" text-anchor="middle" textLength="51" lengthAdjust="spacingAndGlyphs">*****</text>
<text x="1439.0" y="603.5" font-size="23.5" text-anchor="middle" transform="rotate(-90 1439.0 603.5)" textLength="251" lengthAdjust="spacingAndGlyphs">Average likelihood [a.u.]</text>
<line x1="102.2" y1="910.0" x2="102.2" y2="1164.2" stroke="#b0b0b0" stroke-width="1.2"/>
<line x1="102.2" y1="1164.2" x2="484.7" y2="1164.2" stroke="#b0b0b0" stroke-width="1.2"/>
<line x1="102.2" y1="934.6" x2="106.2" y2="934.6" stroke="#b0b0b0" stroke-width="1"/>
<text x="99.7" y="942.8" font-size="23.5" text-anchor="end">1</text>
<line x1="102.2" y1="1006.5" x2="106.2" y2="1006.5" stroke="#b0b0b0" stroke-width="1"/>
<text x="99.7" y="1014.7" font-size="23.5" text-anchor="end">0.75</text>
<line x1="102.2" y1="1078.3" x2="106.2" y2="1078.3" stroke="#b0b0b0" stroke-width="1"/>
<text x="99.7" y="1086.5" font-size="23.5" text-anchor="end">0.5</text>
<line x1="102.2" y1="1150.2" x2="106.2" y2="1150.2" stroke="#b0b0b0" stroke-width="1"/>
<text x="99.7" y="1158.4" font-size="23.5" text-anchor="end">0.25</text>
<line x1="157.6" y1="1164.2" x2="157.6" y2="1160.2" stroke="#b0b0b0" stroke-width="1"/>
<text x="155.6" y="1185.7" font-size="23.5" text-anchor="middle">200</text>
<line x1="232.8" y1="1164.2" x2="232.8" y2="1160.2" stroke="#b0b0b0" stroke-width="1"/>
<text x="230.8" y="1185.7" font-size="23.5" text-anchor="middle">300</text>
<line x1="308.0" y1="1164.2" x2="308.0" y2="1160.2" stroke="#b0b0b0" stroke-width="1"/>
<text x="306.0" y="1185.7" font-size="23.5" text-anchor="middle">400</text>
<line x1="383.2" y1="1164.2" x2="383.2" y2="1160.2" stroke="#b0b0b0" stroke-width="1"/>
<text x="381.2" y="1185.7" font-size="23.5" text-anchor="middle">500</text>
<line x1="458.4" y1="1164.2" x2="458.4" y2="1160.2" stroke="#b0b0b0" stroke-width="1"/>
<text x="456.4" y="1185.7" font-size="23.5" text-anchor="middle">600</text>
<text x="293.7" y="1209.7" font-size="23.5" text-anchor="middle" textLength="134" lengthAdjust="spacingAndGlyphs">Trial number</text>
<text x="49.5" y="1040.3" font-size="23.5" text-anchor="middle" transform="rotate(-90 49.5 1040.3)" textLength="104" lengthAdjust="spacingAndGlyphs">p(correct)</text>
<line x1="102.2" y1="1078.3" x2="484.7" y2="1078.3" stroke="#bdbdbd" stroke-width="1.4" stroke-dasharray="7,5"/>
<polygon points="102.0,1064.1 102.7,1054.2 103.5,1055.7 104.2,1063.1 105.0,1066.1 105.7,1070.3 106.5,1064.0 107.2,1054.2 108.0,1063.9 108.7,1071.9 109.5,1053.4 110.2,1056.2 111.0,1049.5 111.7,1061.8 112.5,1065.2 113.2,1067.4 114.0,1052.2 114.7,1048.3 115.5,1066.0 116.2,1064.8 117.0,1062.9 117.7,1071.8 118.5,1065.5 119.2,1068.2 120.0,1069.3 120.8,1062.5 121.5,1066.3 122.3,1063.9 123.0,1070.4 123.8,1060.8 124.5,1070.2 125.3,1069.6 126.0,1059.6 126.8,1063.5 127.5,1056.1 128.3,1057.7 129.0,1051.7 129.8,1053.4 130.5,1056.5 131.3,1064.3 132.0,1064.8 132.8,1062.1 133.5,1062.0 134.3,1070.5 135.0,1069.5 135.8,1068.1 136.5,1066.5 137.3,1064.4 138.0,1070.4 138.8,1060.8 139.6,1055.4 140.3,1049.7 141.1,1054.1 141.8,1060.6 142.6,1063.2 143.3,1052.3 144.1,1056.2 144.8,1051.3 145.6,1053.9 146.3,1067.2 147.1,1057.8 147.8,1057.0 148.6,1058.0 149.3,1058.1 150.1,1060.0 150.8,1061.0 151.6,1068.1 152.3,1060.1 153.1,1063.9 153.8,1059.0 154.6,1059.4 155.3,1053.9 156.1,1054.8 156.8,1055.1 157.6,1050.9 158.4,1054.7 159.1,1063.4 159.9,1060.1 160.6,1060.1 161.4,1059.4 162.1,1061.5 162.9,1056.8 163.6,1068.1 164.4,1053.7 165.1,1061.6 165.9,1067.4 166.6,1066.6 167.4,1067.2 168.1,1054.0 168.9,1047.9 169.6,1049.4 170.4,1054.2 171.1,1039.8 171.9,1035.7 172.6,1035.6 173.4,1030.3 174.1,1038.9 174.9,1017.2 175.6,1030.6 176.4,1017.6 176.4,1059.4 175.6,1061.2 174.9,1072.0 174.1,1070.8 173.4,1060.8 172.6,1075.1 171.9,1071.9 171.1,1087.4 170.4,1085.8 169.6,1083.8 168.9,1080.5 168.1,1094.4 167.4,1099.9 166.6,1095.1 165.9,1104.6 165.1,1100.5 164.4,1092.9 163.6,1097.1 162.9,1096.4 162.1,1092.8 161.4,1099.9 160.6,1092.5 159.9,1096.4 159.1,1097.6 158.4,1089.3 157.6,1088.6 156.8,1097.7 156.1,1106.3 155.3,1096.7 154.6,1091.2 153.8,1103.1 153.1,1095.6 152.3,1090.3 151.6,1103.8 150.8,1099.4 150.1,1095.8 149.3,1104.8 148.6,1090.3 147.8,1099.7 147.1,1095.3 146.3,1093.8 145.6,1099.2 144.8,1101.4 144.1,1093.3 143.3,1089.6 142.6,1093.0 141.8,1096.6 141.1,1089.1 140.3,1089.0 139.6,1089.1 138.8,1094.2 138.0,1100.0 137.3,1091.1 136.5,1100.1 135.8,1106.9 135.0,1105.2 134.3,1103.2 133.5,1104.5 132.8,1100.1 132.0,1095.6 131.3,1099.6 130.5,1101.3 129.8,1092.7 129.0,1095.2 128.3,1107.7 127.5,1097.9 126.8,1092.1 126.0,1101.2 125.3,1090.9 124.5,1092.2 123.8,1104.8 123.0,1113.5 122.3,1113.6 121.5,1107.4 120.8,1110.9 120.0,1106.6 119.2,1115.8 118.5,1101.0 117.7,1105.5 117.0,1105.7 116.2,1095.2 115.5,1101.8 114.7,1094.0 114.0,1087.7 113.2,1095.4 112.5,1105.8 111.7,1102.1 111.0,1093.7 110.2,1101.2 109.5,1094.5 108.7,1102.5 108.0,1098.6 107.2,1097.0 106.5,1093.9 105.7,1099.6 105.0,1099.9 104.2,1094.8 103.5,1093.1 102.7,1101.1 102.0,1094.8" fill="#d9d9d9"/>
<polyline points="102.0,1064.1 102.7,1054.2 103.5,1055.7 104.2,1063.1 105.0,1066.1 105.7,1070.3 106.5,1064.0 107.2,1054.2 108.0,1063.9 108.7,1071.9 109.5,1053.4 110.2,1056.2 111.0,1049.5 111.7,1061.8 112.5,1065.2 113.2,1067.4 114.0,1052.2 114.7,1048.3 115.5,1066.0 116.2,1064.8 117.0,1062.9 117.7,1071.8 118.5,1065.5 119.2,1068.2 120.0,1069.3 120.8,1062.5 121.5,1066.3 122.3,1063.9 123.0,1070.4 123.8,1060.8 124.5,1070.2 125.3,1069.6 126.0,1059.6 126.8,1063.5 127.5,1056.1 128.3,1057.7 129.0,1051.7 129.8,1053.4 130.5,1056.5 131.3,1064.3 132.0,1064.8 132.8,1062.1 133.5,1062.0 134.3,1070.5 135.0,1069.5 135.8,1068.1 136.5,1066.5 137.3,1064.4 138.0,1070.4 138.8,1060.8 139.6,1055.4 140.3,1049.7 141.1,1054.1 141.8,1060.6 142.6,1063.2 143.3,1052.3 144.1,1056.2 144.8,1051.3 145.6,1053.9 146.3,1067.2 147.1,1057.8 147.8,1057.0 148.6,1058.0 149.3,1058.1 150.1,1060.0 150.8,1061.0 151.6,1068.1 152.3,1060.1 153.1,1063.9 153.8,1059.0 154.6,1059.4 155.3,1053.9 156.1,1054.8 156.8,1055.1 157.6,1050.9 158.4,1054.7 159.1,1063.4 159.9,1060.1 160.6,1060.1 161.4,1059.4 162.1,1061.5 162.9,1056.8 163.6,1068.1 164.4,1053.7 165.1,1061.6 165.9,1067.4 166.6,1066.6 167.4,1067.2 168.1,1054.0 168.9,1047.9 169.6,1049.4 170.4,1054.2 171.1,1039.8 171.9,1035.7 172.6,1035.6 173.4,1030.3 174.1,1038.9 174.9,1017.2 175.6,1030.6 176.4,1017.6" fill="none" stroke="#b5b5b5" stroke-width="0.7"/>
<polyline points="102.0,1094.8 102.7,1101.1 103.5,1093.1 104.2,1094.8 105.0,1099.9 105.7,1099.6 106.5,1093.9 107.2,1097.0 108.0,1098.6 108.7,1102.5 109.5,1094.5 110.2,1101.2 111.0,1093.7 111.7,1102.1 112.5,1105.8 113.2,1095.4 114.0,1087.7 114.7,1094.0 115.5,1101.8 116.2,1095.2 117.0,1105.7 117.7,1105.5 118.5,1101.0 119.2,1115.8 120.0,1106.6 120.8,1110.9 121.5,1107.4 122.3,1113.6 123.0,1113.5 123.8,1104.8 124.5,1092.2 125.3,1090.9 126.0,1101.2 126.8,1092.1 127.5,1097.9 128.3,1107.7 129.0,1095.2 129.8,1092.7 130.5,1101.3 131.3,1099.6 132.0,1095.6 132.8,1100.1 133.5,1104.5 134.3,1103.2 135.0,1105.2 135.8,1106.9 136.5,1100.1 137.3,1091.1 138.0,1100.0 138.8,1094.2 139.6,1089.1 140.3,1089.0 141.1,1089.1 141.8,1096.6 142.6,1093.0 143.3,1089.6 144.1,1093.3 144.8,1101.4 145.6,1099.2 146.3,1093.8 147.1,1095.3 147.8,1099.7 148.6,1090.3 149.3,1104.8 150.1,1095.8 150.8,1099.4 151.6,1103.8 152.3,1090.3 153.1,1095.6 153.8,1103.1 154.6,1091.2 155.3,1096.7 156.1,1106.3 156.8,1097.7 157.6,1088.6 158.4,1089.3 159.1,1097.6 159.9,1096.4 160.6,1092.5 161.4,1099.9 162.1,1092.8 162.9,1096.4 163.6,1097.1 164.4,1092.9 165.1,1100.5 165.9,1104.6 166.6,1095.1 167.4,1099.9 168.1,1094.4 168.9,1080.5 169.6,1083.8 170.4,1085.8 171.1,1087.4 171.9,1071.9 172.6,1075.1 173.4,1060.8 174.1,1070.8 174.9,1072.0 175.6,1061.2 176.4,1059.4" fill="none" stroke="#b5b5b5" stroke-width="0.7"/>
<polyline points="102.0,1078.6 102.7,1077.5 103.5,1075.0 104.2,1072.9 105.0,1086.6 105.7,1081.5 106.5,1080.9 107.2,1078.7 108.0,1085.8 108.7,1085.8 109.5,1078.0 110.2,1077.7 111.0,1075.3 111.7,1082.4 112.5,1081.1 113.2,1071.9 114.0,1079.5 114.7,1082.4 115.5,1080.5 116.2,1080.2 117.0,1082.8 117.7,1085.8 118.5,1084.5 119.2,1084.6 120.0,1082.9 120.8,1083.9 121.5,1091.5 122.3,1087.6 123.0,1089.0 123.8,1079.8 124.5,1078.2 125.3,1076.4 126.0,1080.3 126.8,1077.0 127.5,1077.4 128.3,1079.2 129.0,1076.5 129.8,1073.3 130.5,1079.2 131.3,1083.2 132.0,1076.9 132.8,1076.5 133.5,1078.3 134.3,1085.2 135.0,1086.7 135.8,1087.8 136.5,1092.9 137.3,1079.0 138.0,1077.8 138.8,1079.6 139.6,1072.9 140.3,1073.0 141.1,1074.9 141.8,1081.6 142.6,1078.6 143.3,1080.1 144.1,1075.1 144.8,1075.3 145.6,1080.3 146.3,1084.3 147.1,1083.5 147.8,1076.8 148.6,1079.5 149.3,1077.4 150.1,1080.0 150.8,1080.1 151.6,1082.4 152.3,1076.9 153.1,1079.7 153.8,1077.6 154.6,1074.6 155.3,1076.1 156.1,1077.0 156.8,1075.4 157.6,1069.5 158.4,1072.7 159.1,1081.0 159.9,1079.3 160.6,1072.2 161.4,1080.3 162.1,1078.0 162.9,1077.6 163.6,1081.3 164.4,1078.7 165.1,1076.0 165.9,1081.7 166.6,1082.9 167.4,1085.9 168.1,1075.6 168.9,1063.8 169.6,1058.9 170.4,1073.9 171.1,1064.3 171.9,1055.8 172.6,1047.3 173.4,1050.1 174.1,1048.6 174.9,1041.5 175.6,1040.6 176.4,1037.8" fill="none" stroke="#595959" stroke-width="1.0"/>
<polygon points="177.2,1072.8 177.9,1077.7 178.7,1076.2 179.4,1071.3 180.2,1083.6 180.9,1072.3 181.7,1063.5 182.4,1072.3 183.2,1060.9 183.9,1066.4 184.7,1068.8 185.4,1055.1 186.2,1059.1 186.9,1053.9 187.7,1064.1 188.4,1053.2 189.2,1059.4 189.9,1049.8 190.7,1056.8 191.4,1058.3 192.2,1049.5 192.9,1053.1 193.7,1054.6 194.4,1059.9 195.2,1046.7 196.0,1044.0 196.7,1049.5 197.5,1047.2 198.2,1045.5 199.0,1042.1 199.7,1044.4 200.5,1036.8 201.2,1038.7 202.0,1046.2 202.7,1038.5 203.5,1036.7 204.2,1033.8 205.0,1028.8 205.7,1039.5 206.5,1040.4 207.2,1038.1 208.0,1036.3 208.7,1029.8 209.5,1044.1 210.2,1028.9 211.0,1034.5 211.7,1026.6 212.5,1032.8 213.2,1027.8 214.0,1025.7 214.8,1024.3 215.5,1025.7 216.3,1036.5 217.0,1026.6 217.8,1022.7 218.5,1029.0 219.3,1020.5 220.0,1027.2 220.8,1031.5 221.5,1028.1 222.3,1030.1 223.0,1022.9 223.8,1023.2 224.5,1020.7 225.3,1026.9 226.0,1028.1 226.8,1017.3 227.5,1025.3 228.3,1024.7 229.0,1019.9 229.8,1028.7 230.5,1027.4 231.3,1016.3 231.3,1067.1 230.5,1069.2 229.8,1054.4 229.0,1051.4 228.3,1051.3 227.5,1054.0 226.8,1059.0 226.0,1060.7 225.3,1066.9 224.5,1060.4 223.8,1047.0 223.0,1060.5 222.3,1052.4 221.5,1059.6 220.8,1076.1 220.0,1063.7 219.3,1060.7 218.5,1067.9 217.8,1049.2 217.0,1056.8 216.3,1067.5 215.5,1066.8 214.8,1062.9 214.0,1072.8 213.2,1056.4 212.5,1061.0 211.7,1076.7 211.0,1077.1 210.2,1071.2 209.5,1083.6 208.7,1069.9 208.0,1082.8 207.2,1072.8 206.5,1081.3 205.7,1067.3 205.0,1067.5 204.2,1082.5 203.5,1075.2 202.7,1072.8 202.0,1085.7 201.2,1073.6 200.5,1081.0 199.7,1078.8 199.0,1080.0 198.2,1076.1 197.5,1079.2 196.7,1085.9 196.0,1076.4 195.2,1088.8 194.4,1096.1 193.7,1090.8 192.9,1096.3 192.2,1099.3 191.4,1101.0 190.7,1095.9 189.9,1088.1 189.2,1097.4 188.4,1104.3 187.7,1092.5 186.9,1092.1 186.2,1088.9 185.4,1088.8 184.7,1095.4 183.9,1104.7 183.2,1105.3 182.4,1096.3 181.7,1104.6 180.9,1112.0 180.2,1107.4 179.4,1113.9 178.7,1113.0 177.9,1110.6 177.2,1111.4" fill="#d9d9d9"/>
<polyline points="177.2,1072.8 177.9,1077.7 178.7,1076.2 179.4,1071.3 180.2,1083.6 180.9,1072.3 181.7,1063.5 182.4,1072.3 183.2,1060.9 183.9,1066.4 184.7,1068.8 185.4,1055.1 186.2,1059.1 186.9,1053.9 187.7,1064.1 188.4,1053.2 189.2,1059.4 189.9,1049.8 190.7,1056.8 191.4,1058.3 192.2,1049.5 192.9,1053.1 193.7,1054.6 194.4,1059.9 195.2,1046.7 196.0,1044.0 196.7,1049.5 197.5,1047.2 198.2,1045.5 199.0,1042.1 199.7,1044.4 200.5,1036.8 201.2,1038.7 202.0,1046.2 202.7,1038.5 203.5,1036.7 204.2,1033.8 205.0,1028.8 205.7,1039.5 206.5,1040.4 207.2,1038.1 208.0,1036.3 208.7,1029.8 209.5,1044.1 210.2,1028.9 211.0,1034.5 211.7,1026.6 212.5,1032.8 213.2,1027.8 214.0,1025.7 214.8,1024.3 215.5,1025.7 216.3,1036.5 217.0,1026.6 217.8,1022.7 218.5,1029.0 219.3,1020.5 220.0,1027.2 220.8,1031.5 221.5,1028.1 222.3,1030.1 223.0,1022.9 223.8,1023.2 224.5,1020.7 225.3,1026.9 226.0,1028.1 226.8,1017.3 227.5,1025.3 228.3,1024.7 229.0,1019.9 229.8,1028.7 230.5,1027.4 231.3,1016.3" fill="none" stroke="#b5b5b5" stroke-width="0.7"/>
<polyline points="177.2,1111.4 177.9,1110.6 178.7,1113.0 179.4,1113.9 180.2,1107.4 180.9,1112.0 181.7,1104.6 182.4,1096.3 183.2,1105.3 183.9,1104.7 184.7,1095.4 185.4,1088.8 186.2,1088.9 186.9,1092.1 187.7,1092.5 188.4,1104.3 189.2,1097.4 189.9,1088.1 190.7,1095.9 191.4,1101.0 192.2,1099.3 192.9,1096.3 193.7,1090.8 194.4,1096.1 195.2,1088.8 196.0,1076.4 196.7,1085.9 197.5,1079.2 198.2,1076.1 199.0,1080.0 199.7,1078.8 200.5,1081.0 201.2,1073.6 202.0,1085.7 202.7,1072.8 203.5,1075.2 204.2,1082.5 205.0,1067.5 205.7,1067.3 206.5,1081.3 207.2,1072.8 208.0,1082.8 208.7,1069.9 209.5,1083.6 210.2,1071.2 211.0,1077.1 211.7,1076.7 212.5,1061.0 213.2,1056.4 214.0,1072.8 214.8,1062.9 215.5,1066.8 216.3,1067.5 217.0,1056.8 217.8,1049.2 218.5,1067.9 219.3,1060.7 220.0,1063.7 220.8,1076.1 221.5,1059.6 222.3,1052.4 223.0,1060.5 223.8,1047.0 224.5,1060.4 225.3,1066.9 226.0,1060.7 226.8,1059.0 227.5,1054.0 228.3,1051.3 229.0,1051.4 229.8,1054.4 230.5,1069.2 231.3,1067.1" fill="none" stroke="#b5b5b5" stroke-width="0.7"/>
<polyline points="177.2,1095.9 177.9,1099.6 178.7,1094.2 179.4,1096.6 180.2,1094.7 180.9,1094.4 181.7,1083.9 182.4,1086.9 183.2,1085.0 183.9,1083.3 184.7,1073.9 185.4,1076.5 186.2,1072.8 186.9,1074.7 187.7,1075.5 188.4,1076.3 189.2,1075.3 189.9,1069.7 190.7,1073.2 191.4,1074.3 192.2,1074.6 192.9,1074.4 193.7,1071.3 194.4,1071.3 195.2,1066.1 196.0,1067.6 196.7,1065.8 197.5,1063.7 198.2,1063.7 199.0,1059.5 199.7,1061.5 200.5,1057.5 201.2,1053.3 202.0,1060.1 202.7,1058.2 203.5,1060.0 204.2,1059.0 205.0,1058.2 205.7,1054.4 206.5,1058.1 207.2,1062.2 208.0,1052.3 208.7,1056.1 209.5,1053.7 210.2,1051.7 211.0,1050.9 211.7,1047.0 212.5,1042.5 213.2,1052.1 214.0,1049.0 214.8,1051.3 215.5,1046.8 216.3,1046.9 217.0,1042.3 217.8,1041.1 218.5,1042.3 219.3,1049.3 220.0,1047.4 220.8,1051.0 221.5,1047.7 222.3,1046.7 223.0,1033.0 223.8,1038.0 224.5,1044.6 225.3,1044.1 226.0,1046.0 226.8,1041.9 227.5,1039.0 228.3,1040.4 229.0,1041.0 229.8,1041.1 230.5,1039.7 231.3,1039.4" fill="none" stroke="#595959" stroke-width="1.0"/>
<polygon points="232.8,1092.3 233.6,1085.5 234.3,1075.5 235.1,1075.7 235.8,1075.7 236.6,1071.4 237.3,1078.6 238.1,1078.0 238.8,1071.4 239.6,1070.6 240.3,1058.4 241.1,1057.0 241.8,1077.5 242.6,1055.2 243.3,1060.3 244.1,1062.8 244.8,1061.7 245.6,1051.2 246.3,1064.8 247.1,1067.2 247.8,1060.3 248.6,1065.0 249.3,1057.8 250.1,1058.7 250.8,1051.6 251.6,1051.9 252.4,1056.9 253.1,1044.0 253.9,1062.8 254.6,1056.3 255.4,1064.8 256.1,1050.6 256.9,1057.0 257.6,1053.3 258.4,1054.7 259.1,1064.3 259.9,1062.6 260.6,1054.9 261.4,1053.6 262.1,1068.8 262.9,1069.6 263.6,1057.7 264.4,1058.5 265.1,1068.5 265.9,1068.8 266.6,1058.5 267.4,1059.5 268.1,1063.8 268.9,1072.9 269.6,1065.3 270.4,1068.3 271.2,1076.6 271.9,1065.2 272.7,1068.2 273.4,1067.8 274.2,1058.8 274.9,1055.4 275.7,1057.1 276.4,1052.2 277.2,1051.0 277.9,1061.7 278.7,1059.2 279.4,1053.6 280.2,1062.8 280.9,1060.2 281.7,1058.6 282.4,1049.2 283.2,1051.6 283.9,1053.6 284.7,1054.3 285.4,1049.1 286.2,1054.0 286.9,1061.0 287.7,1054.0 288.4,1052.4 289.2,1055.6 290.0,1046.0 290.7,1053.3 291.5,1051.9 292.2,1062.9 293.0,1050.6 293.7,1053.1 294.5,1053.4 295.2,1061.3 296.0,1043.9 296.7,1068.5 297.5,1064.6 298.2,1058.4 299.0,1062.0 299.7,1054.4 300.5,1065.7 301.2,1055.4 302.0,1050.9 302.7,1049.5 303.5,1052.9 304.2,1053.2 305.0,1054.8 305.7,1057.7 306.5,1051.9 307.2,1048.5 308.0,1079.0 308.8,1093.5 309.5,1099.6 310.3,1085.3 311.0,1082.8 311.8,1088.8 312.5,1023.1 313.3,1021.4 314.0,1017.2 314.8,1012.1 315.5,1011.5 316.3,1015.0 317.0,1019.0 317.8,1010.2 318.5,1022.4 319.3,1021.3 320.0,1028.3 320.8,1022.1 321.5,1013.6 322.3,1009.3 323.0,1011.5 323.8,1011.4 324.5,1014.7 325.3,1022.4 326.0,1027.2 326.8,998.4 327.6,1013.2 328.3,1022.9 329.1,1022.8 329.8,1010.8 330.6,999.0 331.3,1023.1 332.1,1008.2 332.8,1001.3 333.6,1006.9 334.3,1005.6 335.1,1009.3 335.8,995.9 336.6,1016.4 337.3,1018.7 338.1,1005.3 338.8,994.8 339.6,1002.1 340.3,997.0 341.1,1001.7 341.8,1001.8 342.6,990.9 343.3,989.4 344.1,988.1 344.8,1002.2 345.6,1006.6 346.4,1002.5 347.1,996.2 347.9,994.9 348.6,997.3 349.4,1009.9 350.1,1001.9 350.9,999.3 351.6,1001.6 352.4,1006.1 353.1,1006.5 353.9,1003.4 354.6,1004.0 355.4,1000.2 356.1,1002.8 356.9,996.0 357.6,1000.5 358.4,1008.5 359.1,989.6 359.9,990.6 360.6,985.4 361.4,994.0 362.1,995.0 362.9,991.9 363.6,991.9 364.4,995.7 365.2,1002.4 365.9,982.8 366.7,1000.8 367.4,991.3 368.2,983.5 368.9,988.1 369.7,988.3 370.4,984.8 371.2,981.0 371.9,985.7 372.7,971.3 373.4,993.4 374.2,991.2 374.9,995.0 375.7,994.8 376.4,989.7 377.2,983.6 377.2,1026.8 376.4,1032.9 375.7,1040.3 374.9,1033.0 374.2,1030.4 373.4,1026.3 372.7,1028.0 371.9,1021.6 371.2,1029.0 370.4,1022.5 369.7,1026.9 368.9,1020.1 368.2,1016.8 367.4,1027.2 366.7,1030.3 365.9,1019.5 365.2,1023.3 364.4,1027.7 363.6,1036.3 362.9,1031.0 362.1,1029.2 361.4,1026.4 360.6,1024.9 359.9,1026.7 359.1,1028.1 358.4,1036.9 357.6,1044.2 356.9,1032.3 356.1,1032.8 355.4,1044.5 354.6,1041.9 353.9,1039.3 353.1,1040.2 352.4,1043.0 351.6,1042.4 350.9,1027.5 350.1,1029.6 349.4,1036.0 348.6,1049.0 347.9,1036.1 347.1,1028.1 346.4,1039.6 345.6,1042.7 344.8,1043.1 344.1,1030.3 343.3,1041.6 342.6,1037.1 341.8,1029.5 341.1,1034.6 340.3,1042.1 339.6,1034.7 338.8,1043.3 338.1,1041.9 337.3,1046.5 336.6,1046.7 335.8,1045.9 335.1,1052.3 334.3,1046.9 333.6,1052.9 332.8,1041.6 332.1,1045.3 331.3,1058.8 330.6,1048.9 329.8,1044.4 329.1,1054.6 328.3,1062.2 327.6,1042.1 326.8,1053.3 326.0,1048.8 325.3,1056.0 324.5,1057.8 323.8,1052.7 323.0,1051.4 322.3,1050.4 321.5,1061.2 320.8,1053.8 320.0,1069.6 319.3,1057.3 318.5,1059.9 317.8,1062.7 317.0,1057.8 316.3,1052.2 315.5,1047.7 314.8,1041.0 314.0,1050.5 313.3,1071.8 312.5,1068.8 311.8,1124.9 311.0,1109.5 310.3,1112.2 309.5,1118.4 308.8,1116.3 308.0,1116.2 307.2,1085.3 306.5,1083.1 305.7,1092.6 305.0,1073.8 304.2,1087.9 303.5,1084.4 302.7,1093.6 302.0,1087.2 301.2,1103.9 300.5,1098.0 299.7,1094.9 299.0,1105.0 298.2,1097.8 297.5,1102.2 296.7,1109.6 296.0,1091.6 295.2,1091.2 294.5,1093.6 293.7,1081.1 293.0,1093.6 292.2,1084.3 291.5,1092.1 290.7,1090.0 290.0,1089.9 289.2,1086.5 288.4,1094.9 287.7,1107.2 286.9,1099.1 286.2,1104.1 285.4,1088.4 284.7,1093.0 283.9,1094.5 283.2,1097.1 282.4,1094.8 281.7,1100.5 280.9,1095.7 280.2,1093.2 279.4,1099.0 278.7,1091.5 277.9,1088.2 277.2,1099.3 276.4,1091.0 275.7,1092.0 274.9,1089.5 274.2,1090.7 273.4,1099.0 272.7,1099.5 271.9,1105.4 271.2,1108.0 270.4,1120.9 269.6,1102.8 268.9,1100.2 268.1,1103.8 267.4,1103.6 266.6,1105.8 265.9,1100.4 265.1,1100.6 264.4,1093.4 263.6,1083.3 262.9,1102.9 262.1,1099.4 261.4,1090.0 260.6,1090.2 259.9,1093.7 259.1,1093.7 258.4,1093.5 257.6,1090.8 256.9,1086.6 256.1,1090.9 255.4,1100.1 254.6,1097.4 253.9,1098.4 253.1,1090.5 252.4,1093.9 251.6,1089.7 250.8,1085.7 250.1,1096.5 249.3,1099.5 248.6,1094.1 247.8,1100.0 247.1,1107.5 246.3,1105.8 245.6,1096.3 244.8,1097.4 244.1,1095.8 243.3,1108.0 242.6,1106.7 241.8,1109.0 241.1,1105.5 240.3,1109.3 239.6,1107.5 238.8,1105.5 238.1,1106.3 237.3,1110.0 236.6,1110.7 235.8,1104.6 235.1,1113.3 234.3,1116.5 233.6,1126.3 232.8,1128.4" fill="#d9d9d9"/>
<polyline points="232.8,1092.3 233.6,1085.5 234.3,1075.5 235.1,1075.7 235.8,1075.7 236.6,1071.4 237.3,1078.6 238.1,1078.0 238.8,1071.4 239.6,1070.6 240.3,1058.4 241.1,1057.0 241.8,1077.5 242.6,1055.2 243.3,1060.3 244.1,1062.8 244.8,1061.7 245.6,1051.2 246.3,1064.8 247.1,1067.2 247.8,1060.3 248.6,1065.0 249.3,1057.8 250.1,1058.7 250.8,1051.6 251.6,1051.9 252.4,1056.9 253.1,1044.0 253.9,1062.8 254.6,1056.3 255.4,1064.8 256.1,1050.6 256.9,1057.0 257.6,1053.3 258.4,1054.7 259.1,1064.3 259.9,1062.6 260.6,1054.9 261.4,1053.6 262.1,1068.8 262.9,1069.6 263.6,1057.7 264.4,1058.5 265.1,1068.5 265.9,1068.8 266.6,1058.5 267.4,1059.5 268.1,1063.8 268.9,1072.9 269.6,1065.3 270.4,1068.3 271.2,1076.6 271.9,1065.2 272.7,1068.2 273.4,1067.8 274.2,1058.8 274.9,1055.4 275.7,1057.1 276.4,1052.2 277.2,1051.0 277.9,1061.7 278.7,1059.2 279.4,1053.6 280.2,1062.8 280.9,1060.2 281.7,1058.6 282.4,1049.2 283.2,1051.6 283.9,1053.6 284.7,1054.3 285.4,1049.1 286.2,1054.0 286.9,1061.0 287.7,1054.0 288.4,1052.4 289.2,1055.6 290.0,1046.0 290.7,1053.3 291.5,1051.9 292.2,1062.9 293.0,1050.6 293.7,1053.1 294.5,1053.4 295.2,1061.3 296.0,1043.9 296.7,1068.5 297.5,1064.6 298.2,1058.4 299.0,1062.0 299.7,1054.4 300.5,1065.7 301.2,1055.4 302.0,1050.9 302.7,1049.5 303.5,1052.9 304.2,1053.2 305.0,1054.8 305.7,1057.7 306.5,1051.9 307.2,1048.5 308.0,1079.0 308.8,1093.5 309.5,1099.6 310.3,1085.3 311.0,1082.8 311.8,1088.8 312.5,1023.1 313.3,1021.4 314.0,1017.2 314.8,1012.1 315.5,1011.5 316.3,1015.0 317.0,1019.0 317.8,1010.2 318.5,1022.4 319.3,1021.3 320.0,1028.3 320.8,1022.1 321.5,1013.6 322.3,1009.3 323.0,1011.5 323.8,1011.4 324.5,1014.7 325.3,1022.4 326.0,1027.2 326.8,998.4 327.6,1013.2 328.3,1022.9 329.1,1022.8 329.8,1010.8 330.6,999.0 331.3,1023.1 332.1,1008.2 332.8,1001.3 333.6,1006.9 334.3,1005.6 335.1,1009.3 335.8,995.9 336.6,1016.4 337.3,1018.7 338.1,1005.3 338.8,994.8 339.6,1002.1 340.3,997.0 341.1,1001.7 341.8,1001.8 342.6,990.9 343.3,989.4 344.1,988.1 344.8,1002.2 345.6,1006.6 346.4,1002.5 347.1,996.2 347.9,994.9 348.6,997.3 349.4,1009.9 350.1,1001.9 350.9,999.3 351.6,1001.6 352.4,1006.1 353.1,1006.5 353.9,1003.4 354.6,1004.0 355.4,1000.2 356.1,1002.8 356.9,996.0 357.6,1000.5 358.4,1008.5 359.1,989.6 359.9,990.6 360.6,985.4 361.4,994.0 362.1,995.0 362.9,991.9 363.6,991.9 364.4,995.7 365.2,1002.4 365.9,982.8 366.7,1000.8 367.4,991.3 368.2,983.5 368.9,988.1 369.7,988.3 370.4,984.8 371.2,981.0 371.9,985.7 372.7,971.3 373.4,993.4 374.2,991.2 374.9,995.0 375.7,994.8 376.4,989.7 377.2,983.6" fill="none" stroke="#b5b5b5" stroke-width="0.7"/>
<polyline points="232.8,1128.4 233.6,1126.3 234.3,1116.5 235.1,1113.3 235.8,1104.6 236.6,1110.7 237.3,1110.0 238.1,1106.3 238.8,1105.5 239.6,1107.5 240.3,1109.3 241.1,1105.5 241.8,1109.0 242.6,1106.7 243.3,1108.0 244.1,1095.8 244.8,1097.4 245.6,1096.3 246.3,1105.8 247.1,1107.5 247.8,1100.0 248.6,1094.1 249.3,1099.5 250.1,1096.5 250.8,1085.7 251.6,1089.7 252.4,1093.9 253.1,1090.5 253.9,1098.4 254.6,1097.4 255.4,1100.1 256.1,1090.9 256.9,1086.6 257.6,1090.8 258.4,1093.5 259.1,1093.7 259.9,1093.7 260.6,1090.2 261.4,1090.0 262.1,1099.4 262.9,1102.9 263.6,1083.3 264.4,1093.4 265.1,1100.6 265.9,1100.4 266.6,1105.8 267.4,1103.6 268.1,1103.8 268.9,1100.2 269.6,1102.8 270.4,1120.9 271.2,1108.0 271.9,1105.4 272.7,1099.5 273.4,1099.0 274.2,1090.7 274.9,1089.5 275.7,1092.0 276.4,1091.0 277.2,1099.3 277.9,1088.2 278.7,1091.5 279.4,1099.0 280.2,1093.2 280.9,1095.7 281.7,1100.5 282.4,1094.8 283.2,1097.1 283.9,1094.5 284.7,1093.0 285.4,1088.4 286.2,1104.1 286.9,1099.1 287.7,1107.2 288.4,1094.9 289.2,1086.5 290.0,1089.9 290.7,1090.0 291.5,1092.1 292.2,1084.3 293.0,1093.6 293.7,1081.1 294.5,1093.6 295.2,1091.2 296.0,1091.6 296.7,1109.6 297.5,1102.2 298.2,1097.8 299.0,1105.0 299.7,1094.9 300.5,1098.0 301.2,1103.9 302.0,1087.2 302.7,1093.6 303.5,1084.4 304.2,1087.9 305.0,1073.8 305.7,1092.6 306.5,1083.1 307.2,1085.3 308.0,1116.2 308.8,1116.3 309.5,1118.4 310.3,1112.2 311.0,1109.5 311.8,1124.9 312.5,1068.8 313.3,1071.8 314.0,1050.5 314.8,1041.0 315.5,1047.7 316.3,1052.2 317.0,1057.8 317.8,1062.7 318.5,1059.9 319.3,1057.3 320.0,1069.6 320.8,1053.8 321.5,1061.2 322.3,1050.4 323.0,1051.4 323.8,1052.7 324.5,1057.8 325.3,1056.0 326.0,1048.8 326.8,1053.3 327.6,1042.1 328.3,1062.2 329.1,1054.6 329.8,1044.4 330.6,1048.9 331.3,1058.8 332.1,1045.3 332.8,1041.6 333.6,1052.9 334.3,1046.9 335.1,1052.3 335.8,1045.9 336.6,1046.7 337.3,1046.5 338.1,1041.9 338.8,1043.3 339.6,1034.7 340.3,1042.1 341.1,1034.6 341.8,1029.5 342.6,1037.1 343.3,1041.6 344.1,1030.3 344.8,1043.1 345.6,1042.7 346.4,1039.6 347.1,1028.1 347.9,1036.1 348.6,1049.0 349.4,1036.0 350.1,1029.6 350.9,1027.5 351.6,1042.4 352.4,1043.0 353.1,1040.2 353.9,1039.3 354.6,1041.9 355.4,1044.5 356.1,1032.8 356.9,1032.3 357.6,1044.2 358.4,1036.9 359.1,1028.1 359.9,1026.7 360.6,1024.9 361.4,1026.4 362.1,1029.2 362.9,1031.0 363.6,1036.3 364.4,1027.7 365.2,1023.3 365.9,1019.5 366.7,1030.3 367.4,1027.2 368.2,1016.8 368.9,1020.1 369.7,1026.9 370.4,1022.5 371.2,1029.0 371.9,1021.6 372.7,1028.0 373.4,1026.3 374.2,1030.4 374.9,1033.0 375.7,1040.3 376.4,1032.9 377.2,1026.8" fill="none" stroke="#b5b5b5" stroke-width="0.7"/>
<polyline points="232.8,1106.2 233.6,1104.8 234.3,1100.6 235.1,1095.8 235.8,1094.1 236.6,1099.3 237.3,1092.5 238.1,1086.7 238.8,1090.0 239.6,1091.4 240.3,1083.8 241.1,1088.9 241.8,1084.5 242.6,1087.0 243.3,1087.7 244.1,1086.8 244.8,1078.0 245.6,1084.7 246.3,1084.4 247.1,1085.4 247.8,1080.1 248.6,1076.8 249.3,1076.5 250.1,1080.2 250.8,1072.1 251.6,1068.8 252.4,1071.4 253.1,1070.0 253.9,1078.4 254.6,1085.7 255.4,1075.6 256.1,1068.6 256.9,1072.6 257.6,1076.6 258.4,1069.5 259.1,1071.7 259.9,1073.4 260.6,1071.9 261.4,1076.3 262.1,1079.1 262.9,1081.6 263.6,1069.4 264.4,1075.8 265.1,1081.5 265.9,1080.9 266.6,1082.4 267.4,1083.7 268.1,1088.5 268.9,1091.6 269.6,1084.8 270.4,1085.8 271.2,1090.6 271.9,1087.0 272.7,1087.3 273.4,1083.0 274.2,1086.7 274.9,1082.2 275.7,1078.5 276.4,1075.8 277.2,1073.8 277.9,1074.9 278.7,1076.6 279.4,1077.9 280.2,1078.8 280.9,1083.9 281.7,1077.7 282.4,1078.9 283.2,1077.9 283.9,1077.7 284.7,1071.5 285.4,1076.3 286.2,1072.8 286.9,1077.4 287.7,1078.0 288.4,1070.8 289.2,1072.3 290.0,1078.5 290.7,1070.0 291.5,1070.7 292.2,1071.1 293.0,1070.5 293.7,1067.2 294.5,1066.4 295.2,1074.3 296.0,1075.3 296.7,1087.9 297.5,1081.0 298.2,1084.3 299.0,1076.5 299.7,1075.8 300.5,1081.3 301.2,1070.1 302.0,1069.8 302.7,1069.4 303.5,1068.7 304.2,1066.0 305.0,1066.8 305.7,1068.8 306.5,1074.3 307.2,1072.2 308.0,1102.3 308.8,1102.7 309.5,1102.2 310.3,1101.5 311.0,1098.3 311.8,1100.6 312.5,1040.8 313.3,1036.0 314.0,1027.0 314.8,1030.0 315.5,1028.1 316.3,1033.4 317.0,1037.6 317.8,1043.2 318.5,1043.4 319.3,1043.2 320.0,1041.9 320.8,1041.6 321.5,1036.9 322.3,1032.4 323.0,1027.9 323.8,1032.8 324.5,1034.0 325.3,1028.3 326.0,1029.7 326.8,1027.6 327.6,1038.6 328.3,1040.6 329.1,1032.2 329.8,1022.4 330.6,1025.8 331.3,1029.7 332.1,1025.9 332.8,1025.5 333.6,1024.0 334.3,1026.1 335.1,1030.1 335.8,1025.5 336.6,1030.9 337.3,1029.2 338.1,1026.5 338.8,1024.3 339.6,1018.2 340.3,1020.1 341.1,1020.5 341.8,1018.7 342.6,1018.1 343.3,1018.9 344.1,1015.6 344.8,1017.2 345.6,1016.0 346.4,1016.0 347.1,1010.5 347.9,1013.9 348.6,1019.7 349.4,1024.9 350.1,1019.6 350.9,1016.7 351.6,1015.3 352.4,1021.4 353.1,1022.3 353.9,1021.3 354.6,1025.8 355.4,1019.6 356.1,1018.5 356.9,1012.7 357.6,1017.2 358.4,1023.3 359.1,1007.6 359.9,1010.0 360.6,1007.1 361.4,1012.9 362.1,1012.7 362.9,1010.2 363.6,1010.1 364.4,1014.3 365.2,1008.6 365.9,1010.1 366.7,1011.4 367.4,1006.6 368.2,1006.7 368.9,1004.4 369.7,1009.3 370.4,1006.6 371.2,1005.4 371.9,1008.0 372.7,1007.7 373.4,1006.3 374.2,1010.2 374.9,1008.7 375.7,1009.6 376.4,1012.3 377.2,1008.5" fill="none" stroke="#595959" stroke-width="1.0"/>
<polygon points="377.9,1061.3 378.7,1055.8 379.4,1055.9 380.2,1051.1 380.9,1059.3 381.7,1055.8 382.4,1052.5 383.2,1056.9 384.0,1052.5 384.7,1051.2 385.5,1050.7 386.2,1044.7 387.0,1047.9 387.7,1061.0 388.5,1055.7 389.2,1071.6 390.0,1062.1 390.7,1049.1 391.5,1055.7 392.2,1061.1 393.0,1055.1 393.7,1049.6 394.5,1057.9 395.2,1054.9 396.0,1065.1 396.7,1070.6 397.5,1071.1 398.2,1063.1 399.0,1073.1 399.7,1064.2 400.5,1056.3 401.2,1069.3 402.0,1073.5 402.8,1061.2 403.5,1062.8 404.3,1062.8 405.0,1059.0 405.8,1063.1 406.5,1042.0 407.3,1061.4 408.0,1059.6 408.8,1062.5 409.5,1054.5 410.3,1045.9 411.0,1054.8 411.8,1053.5 412.5,1061.7 413.3,1051.2 414.0,1059.6 414.8,1065.9 415.5,1056.0 416.3,1060.0 417.0,1051.9 417.8,1054.4 418.5,1053.6 419.3,1054.5 420.0,1062.2 420.8,1068.3 421.6,1052.0 422.3,1052.0 423.1,1051.7 423.8,1059.5 424.6,1069.1 425.3,1067.9 426.1,1059.2 426.8,1070.8 427.6,1063.6 428.3,1067.8 429.1,1065.8 429.8,1066.3 430.6,1065.2 431.3,1065.4 432.1,1071.2 432.8,1070.7 433.6,1066.1 434.3,1065.7 435.1,1067.4 435.8,1055.6 436.6,1061.8 437.3,1026.4 438.1,1029.8 438.8,1022.1 439.6,1034.2 440.4,1035.5 441.1,1027.7 441.9,1018.8 442.6,1029.1 443.4,1015.1 444.1,1020.8 444.9,1026.2 445.6,1017.8 446.4,1009.7 447.1,1023.6 447.9,1025.3 448.6,1019.0 449.4,1015.5 450.1,1012.9 450.9,1018.2 451.6,1016.6 452.4,1015.9 453.1,1012.6 453.9,1008.2 454.6,1020.5 455.4,1014.7 456.1,1022.9 456.9,1017.7 457.6,1022.2 458.4,1017.3 459.2,1012.5 459.9,1019.6 460.7,1008.4 461.4,1016.6 462.2,1014.6 462.9,1012.2 463.7,1008.4 464.4,1063.0 465.2,1062.7 465.9,1054.9 466.7,1077.1 467.4,1069.8 468.2,1072.2 468.9,1073.4 469.7,1065.8 470.4,1013.5 471.2,1006.6 471.9,1000.6 472.7,1023.8 473.4,1008.7 474.2,1000.4 474.9,1010.4 475.7,1010.2 476.4,1013.0 477.2,1016.6 478.0,1008.5 478.7,1016.2 479.5,1000.3 480.2,1006.9 481.0,1046.8 481.7,1041.6 482.5,1039.4 483.2,1034.3 484.0,1047.5 484.7,1038.0 484.7,1073.8 484.0,1076.3 483.2,1084.6 482.5,1072.8 481.7,1070.8 481.0,1074.6 480.2,1043.2 479.5,1035.0 478.7,1032.9 478.0,1051.4 477.2,1049.4 476.4,1050.0 475.7,1053.4 474.9,1048.6 474.2,1037.4 473.4,1045.1 472.7,1050.9 471.9,1044.3 471.2,1046.2 470.4,1046.6 469.7,1098.9 468.9,1107.3 468.2,1105.0 467.4,1108.7 466.7,1101.4 465.9,1102.1 465.2,1104.3 464.4,1093.8 463.7,1041.5 462.9,1052.3 462.2,1048.0 461.4,1046.5 460.7,1047.5 459.9,1057.3 459.2,1049.9 458.4,1045.5 457.6,1055.8 456.9,1054.6 456.1,1056.1 455.4,1059.6 454.6,1051.6 453.9,1056.4 453.1,1062.5 452.4,1052.7 451.6,1053.3 450.9,1060.6 450.1,1055.2 449.4,1062.4 448.6,1065.8 447.9,1055.7 447.1,1060.4 446.4,1065.8 445.6,1046.6 444.9,1055.5 444.1,1067.9 443.4,1059.2 442.6,1057.1 441.9,1061.1 441.1,1060.7 440.4,1071.0 439.6,1066.5 438.8,1067.0 438.1,1065.2 437.3,1058.1 436.6,1095.8 435.8,1096.3 435.1,1095.8 434.3,1102.9 433.6,1100.1 432.8,1112.1 432.1,1106.7 431.3,1103.8 430.6,1099.8 429.8,1089.6 429.1,1106.5 428.3,1097.7 427.6,1091.8 426.8,1102.4 426.1,1104.6 425.3,1106.5 424.6,1102.1 423.8,1109.0 423.1,1094.5 422.3,1088.0 421.6,1088.8 420.8,1099.9 420.0,1090.6 419.3,1092.8 418.5,1095.5 417.8,1100.7 417.0,1093.6 416.3,1092.5 415.5,1091.0 414.8,1101.9 414.0,1099.0 413.3,1097.4 412.5,1096.5 411.8,1098.5 411.0,1088.6 410.3,1082.7 409.5,1091.7 408.8,1096.1 408.0,1090.3 407.3,1088.1 406.5,1086.0 405.8,1103.0 405.0,1099.3 404.3,1098.7 403.5,1097.2 402.8,1104.8 402.0,1100.6 401.2,1103.5 400.5,1093.5 399.7,1098.8 399.0,1102.7 398.2,1114.0 397.5,1104.9 396.7,1106.8 396.0,1114.3 395.2,1085.4 394.5,1087.5 393.7,1091.2 393.0,1099.5 392.2,1085.1 391.5,1089.3 390.7,1100.4 390.0,1098.6 389.2,1102.7 388.5,1096.8 387.7,1102.7 387.0,1089.0 386.2,1078.6 385.5,1097.5 384.7,1104.1 384.0,1099.4 383.2,1095.5 382.4,1097.4 381.7,1092.9 380.9,1104.0 380.2,1091.9 379.4,1101.4 378.7,1083.6 377.9,1095.5" fill="#d9d9d9"/>
<polyline points="377.9,1061.3 378.7,1055.8 379.4,1055.9 380.2,1051.1 380.9,1059.3 381.7,1055.8 382.4,1052.5 383.2,1056.9 384.0,1052.5 384.7,1051.2 385.5,1050.7 386.2,1044.7 387.0,1047.9 387.7,1061.0 388.5,1055.7 389.2,1071.6 390.0,1062.1 390.7,1049.1 391.5,1055.7 392.2,1061.1 393.0,1055.1 393.7,1049.6 394.5,1057.9 395.2,1054.9 396.0,1065.1 396.7,1070.6 397.5,1071.1 398.2,1063.1 399.0,1073.1 399.7,1064.2 400.5,1056.3 401.2,1069.3 402.0,1073.5 402.8,1061.2 403.5,1062.8 404.3,1062.8 405.0,1059.0 405.8,1063.1 406.5,1042.0 407.3,1061.4 408.0,1059.6 408.8,1062.5 409.5,1054.5 410.3,1045.9 411.0,1054.8 411.8,1053.5 412.5,1061.7 413.3,1051.2 414.0,1059.6 414.8,1065.9 415.5,1056.0 416.3,1060.0 417.0,1051.9 417.8,1054.4 418.5,1053.6 419.3,1054.5 420.0,1062.2 420.8,1068.3 421.6,1052.0 422.3,1052.0 423.1,1051.7 423.8,1059.5 424.6,1069.1 425.3,1067.9 426.1,1059.2 426.8,1070.8 427.6,1063.6 428.3,1067.8 429.1,1065.8 429.8,1066.3 430.6,1065.2 431.3,1065.4 432.1,1071.2 432.8,1070.7 433.6,1066.1 434.3,1065.7 435.1,1067.4 435.8,1055.6 436.6,1061.8 437.3,1026.4 438.1,1029.8 438.8,1022.1 439.6,1034.2 440.4,1035.5 441.1,1027.7 441.9,1018.8 442.6,1029.1 443.4,1015.1 444.1,1020.8 444.9,1026.2 445.6,1017.8 446.4,1009.7 447.1,1023.6 447.9,1025.3 448.6,1019.0 449.4,1015.5 450.1,1012.9 450.9,1018.2 451.6,1016.6 452.4,1015.9 453.1,1012.6 453.9,1008.2 454.6,1020.5 455.4,1014.7 456.1,1022.9 456.9,1017.7 457.6,1022.2 458.4,1017.3 459.2,1012.5 459.9,1019.6 460.7,1008.4 461.4,1016.6 462.2,1014.6 462.9,1012.2 463.7,1008.4 464.4,1063.0 465.2,1062.7 465.9,1054.9 466.7,1077.1 467.4,1069.8 468.2,1072.2 468.9,1073.4 469.7,1065.8 470.4,1013.5 471.2,1006.6 471.9,1000.6 472.7,1023.8 473.4,1008.7 474.2,1000.4 474.9,1010.4 475.7,1010.2 476.4,1013.0 477.2,1016.6 478.0,1008.5 478.7,1016.2 479.5,1000.3 480.2,1006.9 481.0,1046.8 481.7,1041.6 482.5,1039.4 483.2,1034.3 484.0,1047.5 484.7,1038.0" fill="none" stroke="#b5b5b5" stroke-width="0.7"/>
<polyline points="377.9,1095.5 378.7,1083.6 379.4,1101.4 380.2,1091.9 380.9,1104.0 381.7,1092.9 382.4,1097.4 383.2,1095.5 384.0,1099.4 384.7,1104.1 385.5,1097.5 386.2,1078.6 387.0,1089.0 387.7,1102.7 388.5,1096.8 389.2,1102.7 390.0,1098.6 390.7,1100.4 391.5,1089.3 392.2,1085.1 393.0,1099.5 393.7,1091.2 394.5,1087.5 395.2,1085.4 396.0,1114.3 396.7,1106.8 397.5,1104.9 398.2,1114.0 399.0,1102.7 399.7,1098.8 400.5,1093.5 401.2,1103.5 402.0,1100.6 402.8,1104.8 403.5,1097.2 404.3,1098.7 405.0,1099.3 405.8,1103.0 406.5,1086.0 407.3,1088.1 408.0,1090.3 408.8,1096.1 409.5,1091.7 410.3,1082.7 411.0,1088.6 411.8,1098.5 412.5,1096.5 413.3,1097.4 414.0,1099.0 414.8,1101.9 415.5,1091.0 416.3,1092.5 417.0,1093.6 417.8,1100.7 418.5,1095.5 419.3,1092.8 420.0,1090.6 420.8,1099.9 421.6,1088.8 422.3,1088.0 423.1,1094.5 423.8,1109.0 424.6,1102.1 425.3,1106.5 426.1,1104.6 426.8,1102.4 427.6,1091.8 428.3,1097.7 429.1,1106.5 429.8,1089.6 430.6,1099.8 431.3,1103.8 432.1,1106.7 432.8,1112.1 433.6,1100.1 434.3,1102.9 435.1,1095.8 435.8,1096.3 436.6,1095.8 437.3,1058.1 438.1,1065.2 438.8,1067.0 439.6,1066.5 440.4,1071.0 441.1,1060.7 441.9,1061.1 442.6,1057.1 443.4,1059.2 444.1,1067.9 444.9,1055.5 445.6,1046.6 446.4,1065.8 447.1,1060.4 447.9,1055.7 448.6,1065.8 449.4,1062.4 450.1,1055.2 450.9,1060.6 451.6,1053.3 452.4,1052.7 453.1,1062.5 453.9,1056.4 454.6,1051.6 455.4,1059.6 456.1,1056.1 456.9,1054.6 457.6,1055.8 458.4,1045.5 459.2,1049.9 459.9,1057.3 460.7,1047.5 461.4,1046.5 462.2,1048.0 462.9,1052.3 463.7,1041.5 464.4,1093.8 465.2,1104.3 465.9,1102.1 466.7,1101.4 467.4,1108.7 468.2,1105.0 468.9,1107.3 469.7,1098.9 470.4,1046.6 471.2,1046.2 471.9,1044.3 472.7,1050.9 473.4,1045.1 474.2,1037.4 474.9,1048.6 475.7,1053.4 476.4,1050.0 477.2,1049.4 478.0,1051.4 478.7,1032.9 479.5,1035.0 480.2,1043.2 481.0,1074.6 481.7,1070.8 482.5,1072.8 483.2,1084.6 484.0,1076.3 484.7,1073.8" fill="none" stroke="#b5b5b5" stroke-width="0.7"/>
<polyline points="377.9,1069.2 378.7,1077.0 379.4,1073.0 380.2,1078.7 380.9,1073.7 381.7,1076.3 382.4,1077.2 383.2,1075.8 384.0,1076.5 384.7,1072.5 385.5,1070.6 386.2,1067.2 387.0,1071.4 387.7,1080.3 388.5,1082.6 389.2,1076.5 390.0,1078.3 390.7,1078.8 391.5,1076.3 392.2,1072.2 393.0,1073.0 393.7,1070.5 394.5,1070.5 395.2,1078.9 396.0,1082.5 396.7,1094.4 397.5,1090.5 398.2,1085.8 399.0,1089.2 399.7,1085.3 400.5,1081.0 401.2,1080.8 402.0,1080.9 402.8,1076.5 403.5,1077.8 404.3,1083.8 405.0,1083.4 405.8,1076.0 406.5,1072.9 407.3,1078.3 408.0,1076.8 408.8,1074.5 409.5,1070.5 410.3,1072.5 411.0,1072.0 411.8,1072.4 412.5,1077.3 413.3,1077.1 414.0,1074.1 414.8,1080.0 415.5,1080.6 416.3,1075.1 417.0,1069.0 417.8,1072.9 418.5,1070.7 419.3,1074.2 420.0,1073.6 420.8,1080.2 421.6,1073.7 422.3,1068.5 423.1,1070.5 423.8,1072.1 424.6,1074.3 425.3,1080.8 426.1,1082.5 426.8,1088.8 427.6,1077.5 428.3,1072.0 429.1,1079.9 429.8,1081.3 430.6,1082.0 431.3,1081.2 432.1,1087.1 432.8,1084.3 433.6,1084.7 434.3,1086.5 435.1,1084.5 435.8,1082.8 436.6,1084.9 437.3,1040.5 438.1,1044.1 438.8,1049.3 439.6,1044.5 440.4,1045.3 441.1,1040.2 441.9,1038.4 442.6,1043.3 443.4,1046.6 444.1,1038.9 444.9,1035.8 445.6,1032.4 446.4,1038.7 447.1,1037.8 447.9,1035.6 448.6,1040.4 449.4,1040.9 450.1,1035.6 450.9,1036.9 451.6,1031.9 452.4,1037.7 453.1,1036.6 453.9,1038.1 454.6,1039.6 455.4,1038.3 456.1,1036.8 456.9,1035.4 457.6,1034.0 458.4,1032.4 459.2,1030.7 459.9,1036.3 460.7,1030.9 461.4,1030.6 462.2,1031.7 462.9,1032.5 463.7,1028.1 464.4,1077.9 465.2,1087.5 465.9,1092.8 466.7,1091.9 467.4,1089.4 468.2,1086.6 468.9,1086.8 469.7,1082.6 470.4,1026.5 471.2,1023.2 471.9,1022.8 472.7,1032.3 473.4,1027.4 474.2,1021.7 474.9,1025.0 475.7,1029.5 476.4,1034.8 477.2,1032.7 478.0,1034.7 478.7,1027.7 479.5,1023.0 480.2,1021.3 481.0,1059.3 481.7,1058.6 482.5,1052.0 483.2,1063.3 484.0,1060.5 484.7,1061.5" fill="none" stroke="#595959" stroke-width="1.0"/>
<path d="M102.0,1072.6 L168.9,1072.6 L168.9,934.6 L176.4,934.6" fill="none" stroke="#ff7f00" stroke-width="4.2" stroke-linejoin="miter"/>
<path d="M177.2,1095.6 L197.5,1095.6 L197.5,1029.5 L231.3,1029.5" fill="none" stroke="#a6cee3" stroke-width="4.2" stroke-linejoin="miter"/>
<path d="M232.8,1072.6 L339.2,1072.6 L339.2,976.3 L377.2,976.3" fill="none" stroke="#cab2d6" stroke-width="4.2" stroke-linejoin="miter"/>
<path d="M377.9,1089.8 L437.3,1089.8 L437.3,1022.3 L484.7,1022.3" fill="none" stroke="#e31a1c" stroke-width="4.2" stroke-linejoin="miter"/>
<line x1="102.0" y1="912.0" x2="176.4" y2="912.0" stroke="#ff7f00" stroke-width="1.8"/>
<line x1="177.2" y1="912.0" x2="231.3" y2="912.0" stroke="#a6cee3" stroke-width="1.8"/>
<line x1="232.8" y1="912.0" x2="377.2" y2="912.0" stroke="#cab2d6" stroke-width="1.8"/>
<line x1="377.9" y1="912.0" x2="484.7" y2="912.0" stroke="#e31a1c" stroke-width="1.8"/>
<line x1="102.2" y1="926.0" x2="155.4" y2="926.0" stroke="#fb9a99" stroke-width="2.6"/>
<line x1="166.0" y1="926.0" x2="177.0" y2="926.0" stroke="#ff7f00" stroke-width="2.6"/>
<line x1="247.8" y1="926.0" x2="253.4" y2="926.0" stroke="#a6cee3" stroke-width="2.6"/>
<line x1="253.4" y1="926.0" x2="260.4" y2="926.0" stroke="#cab2d6" stroke-width="2.6"/>
<line x1="264.6" y1="926.0" x2="274.4" y2="926.0" stroke="#ff7f00" stroke-width="2.6"/>
<line x1="278.6" y1="926.0" x2="285.6" y2="926.0" stroke="#b2df8a" stroke-width="2.6"/>
<line x1="303.8" y1="926.0" x2="310.8" y2="926.0" stroke="#e31a1c" stroke-width="2.6"/>
<line x1="312.2" y1="926.0" x2="338.8" y2="926.0" stroke="#b2df8a" stroke-width="2.6"/>
<line x1="338.8" y1="926.0" x2="376.6" y2="926.0" stroke="#cab2d6" stroke-width="2.6"/>
<line x1="397.6" y1="926.0" x2="403.2" y2="926.0" stroke="#cab2d6" stroke-width="2.6"/>
<line x1="405.2" y1="926.0" x2="410.2" y2="926.0" stroke="#b2df8a" stroke-width="2.6"/>
<line x1="410.2" y1="926.0" x2="432.6" y2="926.0" stroke="#cab2d6" stroke-width="2.6"/>
<line x1="438.2" y1="926.0" x2="456.4" y2="926.0" stroke="#e31a1c" stroke-width="2.6"/>
<line x1="457.8" y1="926.0" x2="467.6" y2="926.0" stroke="#e31a1c" stroke-width="2.6"/>
<line x1="469.0" y1="926.0" x2="476.0" y2="926.0" stroke="#cab2d6" stroke-width="2.6"/>
<line x1="476.0" y1="926.0" x2="483.0" y2="926.0" stroke="#e31a1c" stroke-width="2.6"/>
<text x="307.0" y="906.6" font-size="22" text-anchor="middle" font-weight="bold" textLength="42" lengthAdjust="spacingAndGlyphs">ACL</text>
<text x="487.8" y="913.4" font-size="23.5" textLength="47.5" lengthAdjust="spacingAndGlyphs">Rule</text>
<text x="488.8" y="940.0" font-size="23.5" font-style="italic" textLength="51" lengthAdjust="spacingAndGlyphs">Strat</text>
<line x1="827.4" y1="910.0" x2="827.4" y2="1164.2" stroke="#b0b0b0" stroke-width="1.2"/>
<line x1="827.4" y1="1164.2" x2="1209.9" y2="1164.2" stroke="#b0b0b0" stroke-width="1.2"/>
<line x1="827.4" y1="935.2" x2="831.4" y2="935.2" stroke="#b0b0b0" stroke-width="1"/>
<text x="824.9" y="943.4" font-size="23.5" text-anchor="end">1</text>
<line x1="827.4" y1="1006.9" x2="831.4" y2="1006.9" stroke="#b0b0b0" stroke-width="1"/>
<text x="824.9" y="1015.1" font-size="23.5" text-anchor="end">0.75</text>
<line x1="827.4" y1="1078.5" x2="831.4" y2="1078.5" stroke="#b0b0b0" stroke-width="1"/>
<text x="824.9" y="1086.7" font-size="23.5" text-anchor="end">0.5</text>
<line x1="827.4" y1="1150.2" x2="831.4" y2="1150.2" stroke="#b0b0b0" stroke-width="1"/>
<text x="824.9" y="1158.4" font-size="23.5" text-anchor="end">0.25</text>
<line x1="882.8" y1="1164.2" x2="882.8" y2="1160.2" stroke="#b0b0b0" stroke-width="1"/>
<text x="880.8" y="1185.7" font-size="23.5" text-anchor="middle">200</text>
<line x1="958.0" y1="1164.2" x2="958.0" y2="1160.2" stroke="#b0b0b0" stroke-width="1"/>
<text x="956.0" y="1185.7" font-size="23.5" text-anchor="middle">300</text>
<line x1="1033.2" y1="1164.2" x2="1033.2" y2="1160.2" stroke="#b0b0b0" stroke-width="1"/>
<text x="1031.2" y="1185.7" font-size="23.5" text-anchor="middle">400</text>
<line x1="1108.4" y1="1164.2" x2="1108.4" y2="1160.2" stroke="#b0b0b0" stroke-width="1"/>
<text x="1106.4" y="1185.7" font-size="23.5" text-anchor="middle">500</text>
<line x1="1183.6" y1="1164.2" x2="1183.6" y2="1160.2" stroke="#b0b0b0" stroke-width="1"/>
<text x="1181.6" y="1185.7" font-size="23.5" text-anchor="middle">600</text>
<text x="1018.9" y="1209.7" font-size="23.5" text-anchor="middle" textLength="134" lengthAdjust="spacingAndGlyphs">Trial number</text>
<text x="775.0" y="1040.5" font-size="23.5" text-anchor="middle" transform="rotate(-90 775.0 1040.5)" textLength="104" lengthAdjust="spacingAndGlyphs">p(correct)</text>
<line x1="827.4" y1="1078.5" x2="1209.9" y2="1078.5" stroke="#bdbdbd" stroke-width="1.4" stroke-dasharray="7,5"/>
<polygon points="827.2,1072.4 827.9,1061.5 828.7,1056.4 829.4,1060.0 830.2,1059.5 830.9,1065.0 831.7,1067.6 832.4,1061.8 833.2,1062.6 833.9,1059.9 834.7,1056.3 835.4,1052.0 836.2,1067.8 836.9,1062.2 837.7,1068.7 838.4,1048.1 839.2,1050.0 839.9,1049.2 840.7,1058.2 841.4,1062.5 842.2,1052.8 842.9,1056.7 843.7,1066.4 844.4,1069.2 845.2,1060.0 846.0,1063.3 846.7,1048.5 847.5,1063.6 848.2,1062.7 849.0,1061.7 849.7,1068.0 850.5,1064.4 851.2,1054.5 852.0,1064.1 852.7,1064.0 853.5,1065.0 854.2,1055.2 855.0,1055.3 855.7,1053.7 856.5,1052.7 857.2,1052.2 858.0,1054.6 858.7,1058.4 859.5,1051.4 860.2,1064.7 861.0,1060.7 861.7,1061.1 862.5,1063.8 863.2,1065.2 864.0,1053.5 864.8,1049.8 865.5,1050.8 866.3,1051.2 867.0,1049.1 867.8,1047.4 868.5,1052.0 869.3,1048.0 870.0,1040.8 870.8,1051.5 871.5,1044.9 872.3,1052.0 873.0,1057.4 873.8,1058.6 874.5,1057.6 875.3,1059.7 876.0,1056.5 876.8,1060.2 877.5,1055.0 878.3,1058.3 879.0,1056.9 879.8,1053.5 880.5,1049.5 881.3,1046.2 882.0,1044.1 882.8,1051.1 883.6,1048.1 884.3,1055.0 885.1,1068.4 885.8,1065.3 886.6,1040.7 887.3,1053.5 888.1,1058.5 888.8,1049.8 889.6,1038.3 890.3,1049.9 891.1,1053.9 891.8,1056.2 892.6,1049.5 893.3,1043.4 894.1,1047.9 894.8,1049.7 895.6,1043.1 896.3,1041.2 897.1,1043.2 897.8,1039.7 898.6,1040.1 899.3,1040.0 900.1,1029.0 900.8,1037.0 901.6,1036.7 901.6,1071.6 900.8,1070.6 900.1,1072.0 899.3,1071.9 898.6,1079.1 897.8,1081.2 897.1,1088.8 896.3,1087.2 895.6,1087.8 894.8,1090.5 894.1,1086.4 893.3,1091.9 892.6,1078.2 891.8,1102.2 891.1,1098.9 890.3,1088.5 889.6,1085.6 888.8,1082.3 888.1,1081.6 887.3,1080.6 886.6,1091.1 885.8,1098.5 885.1,1100.8 884.3,1094.0 883.6,1074.4 882.8,1091.9 882.0,1094.8 881.3,1096.7 880.5,1092.8 879.8,1101.1 879.0,1106.1 878.3,1090.9 877.5,1088.1 876.8,1088.8 876.0,1107.5 875.3,1099.3 874.5,1090.5 873.8,1092.3 873.0,1087.0 872.3,1097.1 871.5,1084.2 870.8,1090.2 870.0,1084.0 869.3,1079.3 868.5,1075.8 867.8,1087.9 867.0,1084.8 866.3,1089.0 865.5,1098.0 864.8,1096.4 864.0,1105.3 863.2,1098.9 862.5,1096.2 861.7,1095.5 861.0,1098.1 860.2,1095.2 859.5,1104.1 858.7,1098.0 858.0,1095.9 857.2,1096.6 856.5,1102.8 855.7,1091.1 855.0,1100.6 854.2,1099.0 853.5,1099.9 852.7,1098.0 852.0,1098.3 851.2,1098.7 850.5,1106.8 849.7,1089.5 849.0,1104.2 848.2,1098.6 847.5,1092.3 846.7,1105.1 846.0,1104.1 845.2,1107.1 844.4,1101.8 843.7,1103.1 842.9,1091.2 842.2,1095.2 841.4,1097.0 840.7,1096.0 839.9,1100.0 839.2,1090.7 838.4,1088.4 837.7,1097.5 836.9,1106.6 836.2,1106.3 835.4,1102.2 834.7,1098.7 833.9,1100.2 833.2,1106.6 832.4,1104.1 831.7,1105.4 830.9,1106.3 830.2,1095.8 829.4,1102.3 828.7,1089.6 827.9,1104.8 827.2,1109.9" fill="#d9d9d9"/>
<polyline points="827.2,1072.4 827.9,1061.5 828.7,1056.4 829.4,1060.0 830.2,1059.5 830.9,1065.0 831.7,1067.6 832.4,1061.8 833.2,1062.6 833.9,1059.9 834.7,1056.3 835.4,1052.0 836.2,1067.8 836.9,1062.2 837.7,1068.7 838.4,1048.1 839.2,1050.0 839.9,1049.2 840.7,1058.2 841.4,1062.5 842.2,1052.8 842.9,1056.7 843.7,1066.4 844.4,1069.2 845.2,1060.0 846.0,1063.3 846.7,1048.5 847.5,1063.6 848.2,1062.7 849.0,1061.7 849.7,1068.0 850.5,1064.4 851.2,1054.5 852.0,1064.1 852.7,1064.0 853.5,1065.0 854.2,1055.2 855.0,1055.3 855.7,1053.7 856.5,1052.7 857.2,1052.2 858.0,1054.6 858.7,1058.4 859.5,1051.4 860.2,1064.7 861.0,1060.7 861.7,1061.1 862.5,1063.8 863.2,1065.2 864.0,1053.5 864.8,1049.8 865.5,1050.8 866.3,1051.2 867.0,1049.1 867.8,1047.4 868.5,1052.0 869.3,1048.0 870.0,1040.8 870.8,1051.5 871.5,1044.9 872.3,1052.0 873.0,1057.4 873.8,1058.6 874.5,1057.6 875.3,1059.7 876.0,1056.5 876.8,1060.2 877.5,1055.0 878.3,1058.3 879.0,1056.9 879.8,1053.5 880.5,1049.5 881.3,1046.2 882.0,1044.1 882.8,1051.1 883.6,1048.1 884.3,1055.0 885.1,1068.4 885.8,1065.3 886.6,1040.7 887.3,1053.5 888.1,1058.5 888.8,1049.8 889.6,1038.3 890.3,1049.9 891.1,1053.9 891.8,1056.2 892.6,1049.5 893.3,1043.4 894.1,1047.9 894.8,1049.7 895.6,1043.1 896.3,1041.2 897.1,1043.2 897.8,1039.7 898.6,1040.1 899.3,1040.0 900.1,1029.0 900.8,1037.0 901.6,1036.7" fill="none" stroke="#b5b5b5" stroke-width="0.7"/>
<polyline points="827.2,1109.9 827.9,1104.8 828.7,1089.6 829.4,1102.3 830.2,1095.8 830.9,1106.3 831.7,1105.4 832.4,1104.1 833.2,1106.6 833.9,1100.2 834.7,1098.7 835.4,1102.2 836.2,1106.3 836.9,1106.6 837.7,1097.5 838.4,1088.4 839.2,1090.7 839.9,1100.0 840.7,1096.0 841.4,1097.0 842.2,1095.2 842.9,1091.2 843.7,1103.1 844.4,1101.8 845.2,1107.1 846.0,1104.1 846.7,1105.1 847.5,1092.3 848.2,1098.6 849.0,1104.2 849.7,1089.5 850.5,1106.8 851.2,1098.7 852.0,1098.3 852.7,1098.0 853.5,1099.9 854.2,1099.0 855.0,1100.6 855.7,1091.1 856.5,1102.8 857.2,1096.6 858.0,1095.9 858.7,1098.0 859.5,1104.1 860.2,1095.2 861.0,1098.1 861.7,1095.5 862.5,1096.2 863.2,1098.9 864.0,1105.3 864.8,1096.4 865.5,1098.0 866.3,1089.0 867.0,1084.8 867.8,1087.9 868.5,1075.8 869.3,1079.3 870.0,1084.0 870.8,1090.2 871.5,1084.2 872.3,1097.1 873.0,1087.0 873.8,1092.3 874.5,1090.5 875.3,1099.3 876.0,1107.5 876.8,1088.8 877.5,1088.1 878.3,1090.9 879.0,1106.1 879.8,1101.1 880.5,1092.8 881.3,1096.7 882.0,1094.8 882.8,1091.9 883.6,1074.4 884.3,1094.0 885.1,1100.8 885.8,1098.5 886.6,1091.1 887.3,1080.6 888.1,1081.6 888.8,1082.3 889.6,1085.6 890.3,1088.5 891.1,1098.9 891.8,1102.2 892.6,1078.2 893.3,1091.9 894.1,1086.4 894.8,1090.5 895.6,1087.8 896.3,1087.2 897.1,1088.8 897.8,1081.2 898.6,1079.1 899.3,1071.9 900.1,1072.0 900.8,1070.6 901.6,1071.6" fill="none" stroke="#b5b5b5" stroke-width="0.7"/>
<polyline points="827.2,1081.0 827.9,1082.5 828.7,1078.4 829.4,1072.6 830.2,1077.4 830.9,1082.3 831.7,1088.2 832.4,1088.5 833.2,1077.6 833.9,1077.6 834.7,1075.5 835.4,1081.3 836.2,1086.6 836.9,1089.9 837.7,1080.3 838.4,1078.5 839.2,1078.4 839.9,1073.1 840.7,1076.1 841.4,1075.6 842.2,1077.2 842.9,1080.6 843.7,1080.8 844.4,1081.1 845.2,1082.1 846.0,1080.6 846.7,1087.5 847.5,1078.3 848.2,1081.3 849.0,1079.1 849.7,1076.6 850.5,1081.7 851.2,1081.1 852.0,1081.5 852.7,1082.4 853.5,1079.6 854.2,1078.0 855.0,1083.8 855.7,1076.0 856.5,1070.2 857.2,1074.8 858.0,1080.3 858.7,1075.8 859.5,1071.1 860.2,1070.8 861.0,1074.4 861.7,1081.4 862.5,1083.4 863.2,1079.2 864.0,1076.8 864.8,1076.1 865.5,1071.8 866.3,1070.3 867.0,1079.1 867.8,1067.3 868.5,1065.9 869.3,1064.4 870.0,1067.6 870.8,1064.6 871.5,1061.5 872.3,1076.9 873.0,1069.2 873.8,1073.0 874.5,1082.3 875.3,1087.5 876.0,1077.4 876.8,1075.2 877.5,1071.3 878.3,1079.7 879.0,1082.1 879.8,1074.8 880.5,1073.4 881.3,1070.2 882.0,1066.5 882.8,1066.2 883.6,1066.6 884.3,1069.6 885.1,1079.3 885.8,1077.3 886.6,1071.8 887.3,1068.6 888.1,1070.6 888.8,1068.1 889.6,1065.5 890.3,1069.3 891.1,1072.6 891.8,1076.3 892.6,1070.1 893.3,1071.3 894.1,1072.8 894.8,1070.7 895.6,1072.1 896.3,1066.0 897.1,1059.8 897.8,1058.6 898.6,1063.9 899.3,1057.1 900.1,1050.7 900.8,1056.5 901.6,1052.7" fill="none" stroke="#595959" stroke-width="1.0"/>
<polygon points="902.4,1078.8 903.1,1068.6 903.9,1063.4 904.6,1061.9 905.4,1053.8 906.1,1064.4 906.9,1070.7 907.6,1071.0 908.4,1065.3 909.1,1067.0 909.9,1052.4 910.6,1053.4 911.4,1057.4 912.1,1059.4 912.9,1060.2 913.6,1049.9 914.4,1037.5 915.1,1042.5 915.9,1046.6 916.6,1043.2 917.4,1051.7 918.1,1037.6 918.9,1043.9 919.6,1035.4 920.4,1043.3 921.2,1045.8 921.9,1039.4 922.7,1039.2 923.4,1027.7 924.2,1030.6 924.9,1029.9 925.7,1031.1 926.4,1032.8 927.2,1028.1 927.9,1025.9 928.7,1015.4 929.4,1029.3 930.2,1031.1 930.9,1030.0 931.7,1022.9 932.4,1026.6 933.2,1021.4 933.9,1023.5 934.7,1017.9 935.4,1026.3 936.2,1031.0 936.9,1041.6 937.7,1024.6 938.4,1017.3 939.2,1030.1 940.0,1020.1 940.7,1018.6 941.5,1020.5 942.2,1010.4 943.0,1021.0 943.7,1022.3 944.5,1015.6 945.2,1016.6 946.0,1019.3 946.7,1005.3 947.5,1020.5 948.2,1016.6 949.0,1018.0 949.7,1019.7 950.5,1022.3 951.2,1024.3 952.0,1007.9 952.7,1020.0 953.5,1015.7 954.2,1023.5 955.0,1012.9 955.7,1009.5 956.5,1007.8 956.5,1055.3 955.7,1052.0 955.0,1050.3 954.2,1059.2 953.5,1041.5 952.7,1053.4 952.0,1063.1 951.2,1054.7 950.5,1057.3 949.7,1064.6 949.0,1057.3 948.2,1053.3 947.5,1057.8 946.7,1048.7 946.0,1049.9 945.2,1056.2 944.5,1066.5 943.7,1055.2 943.0,1054.6 942.2,1063.3 941.5,1062.7 940.7,1066.2 940.0,1060.5 939.2,1066.7 938.4,1067.4 937.7,1076.8 936.9,1070.0 936.2,1070.5 935.4,1068.2 934.7,1069.3 933.9,1072.8 933.2,1067.7 932.4,1068.6 931.7,1067.7 930.9,1068.7 930.2,1073.8 929.4,1075.4 928.7,1063.8 927.9,1065.8 927.2,1072.3 926.4,1071.6 925.7,1079.9 924.9,1074.4 924.2,1064.7 923.4,1077.7 922.7,1076.5 921.9,1086.9 921.2,1085.5 920.4,1078.7 919.6,1085.7 918.9,1083.0 918.1,1086.5 917.4,1082.1 916.6,1081.2 915.9,1093.1 915.1,1091.0 914.4,1082.8 913.6,1081.0 912.9,1092.5 912.1,1088.8 911.4,1107.9 910.6,1094.0 909.9,1100.9 909.1,1093.6 908.4,1104.2 907.6,1112.5 906.9,1107.9 906.1,1107.0 905.4,1095.8 904.6,1101.5 903.9,1103.1 903.1,1103.6 902.4,1102.8" fill="#d9d9d9"/>
<polyline points="902.4,1078.8 903.1,1068.6 903.9,1063.4 904.6,1061.9 905.4,1053.8 906.1,1064.4 906.9,1070.7 907.6,1071.0 908.4,1065.3 909.1,1067.0 909.9,1052.4 910.6,1053.4 911.4,1057.4 912.1,1059.4 912.9,1060.2 913.6,1049.9 914.4,1037.5 915.1,1042.5 915.9,1046.6 916.6,1043.2 917.4,1051.7 918.1,1037.6 918.9,1043.9 919.6,1035.4 920.4,1043.3 921.2,1045.8 921.9,1039.4 922.7,1039.2 923.4,1027.7 924.2,1030.6 924.9,1029.9 925.7,1031.1 926.4,1032.8 927.2,1028.1 927.9,1025.9 928.7,1015.4 929.4,1029.3 930.2,1031.1 930.9,1030.0 931.7,1022.9 932.4,1026.6 933.2,1021.4 933.9,1023.5 934.7,1017.9 935.4,1026.3 936.2,1031.0 936.9,1041.6 937.7,1024.6 938.4,1017.3 939.2,1030.1 940.0,1020.1 940.7,1018.6 941.5,1020.5 942.2,1010.4 943.0,1021.0 943.7,1022.3 944.5,1015.6 945.2,1016.6 946.0,1019.3 946.7,1005.3 947.5,1020.5 948.2,1016.6 949.0,1018.0 949.7,1019.7 950.5,1022.3 951.2,1024.3 952.0,1007.9 952.7,1020.0 953.5,1015.7 954.2,1023.5 955.0,1012.9 955.7,1009.5 956.5,1007.8" fill="none" stroke="#b5b5b5" stroke-width="0.7"/>
<polyline points="902.4,1102.8 903.1,1103.6 903.9,1103.1 904.6,1101.5 905.4,1095.8 906.1,1107.0 906.9,1107.9 907.6,1112.5 908.4,1104.2 909.1,1093.6 909.9,1100.9 910.6,1094.0 911.4,1107.9 912.1,1088.8 912.9,1092.5 913.6,1081.0 914.4,1082.8 915.1,1091.0 915.9,1093.1 916.6,1081.2 917.4,1082.1 918.1,1086.5 918.9,1083.0 919.6,1085.7 920.4,1078.7 921.2,1085.5 921.9,1086.9 922.7,1076.5 923.4,1077.7 924.2,1064.7 924.9,1074.4 925.7,1079.9 926.4,1071.6 927.2,1072.3 927.9,1065.8 928.7,1063.8 929.4,1075.4 930.2,1073.8 930.9,1068.7 931.7,1067.7 932.4,1068.6 933.2,1067.7 933.9,1072.8 934.7,1069.3 935.4,1068.2 936.2,1070.5 936.9,1070.0 937.7,1076.8 938.4,1067.4 939.2,1066.7 940.0,1060.5 940.7,1066.2 941.5,1062.7 942.2,1063.3 943.0,1054.6 943.7,1055.2 944.5,1066.5 945.2,1056.2 946.0,1049.9 946.7,1048.7 947.5,1057.8 948.2,1053.3 949.0,1057.3 949.7,1064.6 950.5,1057.3 951.2,1054.7 952.0,1063.1 952.7,1053.4 953.5,1041.5 954.2,1059.2 955.0,1050.3 955.7,1052.0 956.5,1055.3" fill="none" stroke="#b5b5b5" stroke-width="0.7"/>
<polyline points="902.4,1096.7 903.1,1092.4 903.9,1082.5 904.6,1084.2 905.4,1084.0 906.1,1091.7 906.9,1088.6 907.6,1087.2 908.4,1089.1 909.1,1086.3 909.9,1080.0 910.6,1077.7 911.4,1078.8 912.1,1082.0 912.9,1074.2 913.6,1064.3 914.4,1065.6 915.1,1066.1 915.9,1065.7 916.6,1064.5 917.4,1062.2 918.1,1061.6 918.9,1065.1 919.6,1057.1 920.4,1056.5 921.2,1063.0 921.9,1056.7 922.7,1058.1 923.4,1055.5 924.2,1049.9 924.9,1054.8 925.7,1056.2 926.4,1050.6 927.2,1055.5 927.9,1043.2 928.7,1043.2 929.4,1049.5 930.2,1051.9 930.9,1050.1 931.7,1043.5 932.4,1043.5 933.2,1046.4 933.9,1044.0 934.7,1043.5 935.4,1046.7 936.2,1046.5 936.9,1055.6 937.7,1051.4 938.4,1049.7 939.2,1053.0 940.0,1051.1 940.7,1045.9 941.5,1035.2 942.2,1030.8 943.0,1036.1 943.7,1045.0 944.5,1043.8 945.2,1038.4 946.0,1034.5 946.7,1034.0 947.5,1034.2 948.2,1040.8 949.0,1038.1 949.7,1039.0 950.5,1036.8 951.2,1035.8 952.0,1038.0 952.7,1036.0 953.5,1033.2 954.2,1031.3 955.0,1034.4 955.7,1038.3 956.5,1032.8" fill="none" stroke="#595959" stroke-width="1.0"/>
<polygon points="958.0,1079.9 958.8,1090.5 959.5,1090.9 960.3,1084.7 961.0,1083.9 961.8,1090.7 962.5,1086.9 963.3,1094.8 964.0,1083.5 964.8,1086.0 965.5,1077.8 966.3,1084.8 967.0,1084.6 967.8,1074.8 968.5,1074.1 969.3,1071.3 970.0,1074.1 970.8,1073.3 971.5,1079.7 972.3,1073.3 973.0,1071.2 973.8,1078.9 974.5,1077.1 975.3,1066.5 976.0,1055.3 976.8,1067.1 977.6,1059.0 978.3,1065.5 979.1,1055.2 979.8,1069.7 980.6,1060.1 981.3,1052.0 982.1,1044.1 982.8,1055.1 983.6,1053.4 984.3,1061.5 985.1,1060.7 985.8,1050.6 986.6,1050.5 987.3,1052.0 988.1,1051.5 988.8,1059.3 989.6,1038.2 990.3,1043.4 991.1,1044.9 991.8,1051.0 992.6,1058.4 993.3,1054.6 994.1,1049.9 994.8,1042.2 995.6,1039.0 996.4,1051.3 997.1,1048.1 997.9,1053.8 998.6,1047.5 999.4,1053.0 1000.1,1050.8 1000.9,1054.2 1001.6,1046.0 1002.4,1040.8 1003.1,1040.9 1003.9,1038.2 1004.6,1039.9 1005.4,1049.7 1006.1,1047.9 1006.9,1036.7 1007.6,1038.4 1008.4,1043.6 1009.1,1039.4 1009.9,1039.4 1010.6,1034.7 1011.4,1031.3 1012.1,1029.6 1012.9,1038.3 1013.6,1037.0 1014.4,1034.3 1015.2,1027.6 1015.9,1032.9 1016.7,1025.5 1017.4,1021.6 1018.2,1034.5 1018.9,1043.3 1019.7,1041.8 1020.4,1039.4 1021.2,1033.5 1021.9,1041.7 1022.7,1040.9 1023.4,1031.1 1024.2,1026.0 1024.9,1027.6 1025.7,1026.6 1026.4,1032.8 1027.2,1032.9 1027.9,1033.4 1028.7,1037.0 1029.4,1030.3 1030.2,1018.1 1030.9,1012.1 1031.7,1016.8 1032.4,1023.4 1033.2,1028.0 1034.0,1027.7 1034.7,1037.2 1035.5,1021.7 1036.2,1020.3 1037.0,1022.1 1037.7,1021.4 1038.5,1033.6 1039.2,1021.2 1040.0,1021.3 1040.7,1039.8 1041.5,1028.2 1042.2,1021.7 1043.0,1015.3 1043.7,1027.4 1044.5,1016.8 1045.2,1011.4 1046.0,1023.0 1046.7,1025.5 1047.5,1021.9 1048.2,1016.0 1049.0,1022.1 1049.7,1015.3 1050.5,1024.7 1051.2,1017.2 1052.0,1018.1 1052.8,1018.8 1053.5,1023.3 1054.3,1021.1 1055.0,1016.7 1055.8,1018.6 1056.5,1015.6 1057.3,1023.1 1058.0,1012.3 1058.8,1008.6 1059.5,1028.6 1060.3,1018.4 1061.0,1021.5 1061.8,1014.6 1062.5,1018.5 1063.3,1021.4 1064.0,1027.3 1064.8,1020.3 1065.5,1007.2 1066.3,1007.0 1067.0,1009.3 1067.8,1015.8 1068.5,1017.6 1069.3,1023.6 1070.0,1029.2 1070.8,1028.8 1071.6,1014.9 1072.3,1010.9 1073.1,1013.0 1073.8,1021.5 1074.6,1021.3 1075.3,1008.1 1076.1,1016.8 1076.8,1007.2 1077.6,1015.2 1078.3,1008.2 1079.1,1014.8 1079.8,1018.1 1080.6,1019.7 1081.3,1010.0 1082.1,1012.7 1082.8,1020.1 1083.6,1023.9 1084.3,1029.0 1085.1,1002.8 1085.8,1002.3 1086.6,1013.0 1087.3,1008.9 1088.1,1023.7 1088.8,1006.3 1089.6,1012.8 1090.4,1010.7 1091.1,1000.8 1091.9,1001.8 1092.6,1014.5 1093.4,1019.6 1094.1,1017.3 1094.9,1006.7 1095.6,1009.0 1096.4,1015.3 1097.1,1010.7 1097.9,1016.9 1098.6,999.4 1099.4,1012.3 1100.1,1023.3 1100.9,1013.0 1101.6,1002.3 1102.4,1007.5 1102.4,1057.7 1101.6,1049.3 1100.9,1053.2 1100.1,1063.9 1099.4,1048.2 1098.6,1044.0 1097.9,1054.9 1097.1,1052.0 1096.4,1050.7 1095.6,1042.4 1094.9,1049.3 1094.1,1062.6 1093.4,1062.1 1092.6,1050.7 1091.9,1045.5 1091.1,1047.4 1090.4,1051.8 1089.6,1049.3 1088.8,1051.2 1088.1,1037.9 1087.3,1051.6 1086.6,1042.2 1085.8,1051.9 1085.1,1058.1 1084.3,1063.4 1083.6,1064.8 1082.8,1050.8 1082.1,1065.6 1081.3,1062.1 1080.6,1051.4 1079.8,1057.5 1079.1,1052.5 1078.3,1047.5 1077.6,1049.9 1076.8,1055.0 1076.1,1058.4 1075.3,1051.1 1074.6,1052.8 1073.8,1055.1 1073.1,1044.4 1072.3,1050.5 1071.6,1056.3 1070.8,1068.9 1070.0,1060.2 1069.3,1068.8 1068.5,1061.2 1067.8,1057.2 1067.0,1052.3 1066.3,1051.9 1065.5,1046.9 1064.8,1072.1 1064.0,1061.6 1063.3,1062.1 1062.5,1053.3 1061.8,1062.0 1061.0,1055.0 1060.3,1057.9 1059.5,1064.2 1058.8,1055.3 1058.0,1064.5 1057.3,1064.1 1056.5,1058.8 1055.8,1048.0 1055.0,1053.4 1054.3,1065.0 1053.5,1063.5 1052.8,1066.3 1052.0,1068.7 1051.2,1065.5 1050.5,1060.2 1049.7,1063.2 1049.0,1063.7 1048.2,1053.5 1047.5,1057.1 1046.7,1060.0 1046.0,1076.3 1045.2,1059.4 1044.5,1062.1 1043.7,1065.6 1043.0,1059.2 1042.2,1061.9 1041.5,1062.6 1040.7,1063.4 1040.0,1067.6 1039.2,1069.8 1038.5,1069.4 1037.7,1063.8 1037.0,1064.2 1036.2,1057.0 1035.5,1072.8 1034.7,1071.7 1034.0,1067.6 1033.2,1052.7 1032.4,1063.4 1031.7,1058.5 1030.9,1060.0 1030.2,1070.1 1029.4,1077.3 1028.7,1071.9 1027.9,1070.0 1027.2,1076.9 1026.4,1069.9 1025.7,1073.0 1024.9,1082.8 1024.2,1074.9 1023.4,1071.0 1022.7,1073.8 1021.9,1069.7 1021.2,1078.8 1020.4,1076.6 1019.7,1073.0 1018.9,1068.2 1018.2,1070.9 1017.4,1057.9 1016.7,1076.8 1015.9,1071.7 1015.2,1076.9 1014.4,1074.6 1013.6,1082.3 1012.9,1088.3 1012.1,1069.8 1011.4,1081.1 1010.6,1080.7 1009.9,1081.0 1009.1,1078.6 1008.4,1083.5 1007.6,1068.5 1006.9,1084.6 1006.1,1090.5 1005.4,1083.6 1004.6,1082.9 1003.9,1078.3 1003.1,1091.0 1002.4,1078.4 1001.6,1086.1 1000.9,1092.8 1000.1,1089.9 999.4,1092.3 998.6,1088.8 997.9,1091.6 997.1,1092.5 996.4,1089.5 995.6,1083.1 994.8,1074.9 994.1,1078.3 993.3,1080.6 992.6,1092.0 991.8,1094.7 991.1,1100.0 990.3,1092.4 989.6,1093.2 988.8,1090.2 988.1,1102.4 987.3,1096.1 986.6,1091.9 985.8,1092.0 985.1,1103.9 984.3,1093.1 983.6,1097.6 982.8,1085.8 982.1,1095.3 981.3,1092.9 980.6,1097.4 979.8,1104.4 979.1,1102.9 978.3,1111.1 977.6,1112.0 976.8,1107.7 976.0,1102.9 975.3,1098.2 974.5,1109.3 973.8,1111.9 973.0,1116.2 972.3,1110.2 971.5,1113.4 970.8,1117.9 970.0,1113.7 969.3,1090.8 968.5,1106.9 967.8,1117.0 967.0,1111.6 966.3,1116.8 965.5,1129.0 964.8,1132.4 964.0,1133.2 963.3,1140.2 962.5,1134.5 961.8,1118.3 961.0,1122.6 960.3,1126.5 959.5,1121.4 958.8,1140.0 958.0,1122.0" fill="#d9d9d9"/>
<polyline points="958.0,1079.9 958.8,1090.5 959.5,1090.9 960.3,1084.7 961.0,1083.9 961.8,1090.7 962.5,1086.9 963.3,1094.8 964.0,1083.5 964.8,1086.0 965.5,1077.8 966.3,1084.8 967.0,1084.6 967.8,1074.8 968.5,1074.1 969.3,1071.3 970.0,1074.1 970.8,1073.3 971.5,1079.7 972.3,1073.3 973.0,1071.2 973.8,1078.9 974.5,1077.1 975.3,1066.5 976.0,1055.3 976.8,1067.1 977.6,1059.0 978.3,1065.5 979.1,1055.2 979.8,1069.7 980.6,1060.1 981.3,1052.0 982.1,1044.1 982.8,1055.1 983.6,1053.4 984.3,1061.5 985.1,1060.7 985.8,1050.6 986.6,1050.5 987.3,1052.0 988.1,1051.5 988.8,1059.3 989.6,1038.2 990.3,1043.4 991.1,1044.9 991.8,1051.0 992.6,1058.4 993.3,1054.6 994.1,1049.9 994.8,1042.2 995.6,1039.0 996.4,1051.3 997.1,1048.1 997.9,1053.8 998.6,1047.5 999.4,1053.0 1000.1,1050.8 1000.9,1054.2 1001.6,1046.0 1002.4,1040.8 1003.1,1040.9 1003.9,1038.2 1004.6,1039.9 1005.4,1049.7 1006.1,1047.9 1006.9,1036.7 1007.6,1038.4 1008.4,1043.6 1009.1,1039.4 1009.9,1039.4 1010.6,1034.7 1011.4,1031.3 1012.1,1029.6 1012.9,1038.3 1013.6,1037.0 1014.4,1034.3 1015.2,1027.6 1015.9,1032.9 1016.7,1025.5 1017.4,1021.6 1018.2,1034.5 1018.9,1043.3 1019.7,1041.8 1020.4,1039.4 1021.2,1033.5 1021.9,1041.7 1022.7,1040.9 1023.4,1031.1 1024.2,1026.0 1024.9,1027.6 1025.7,1026.6 1026.4,1032.8 1027.2,1032.9 1027.9,1033.4 1028.7,1037.0 1029.4,1030.3 1030.2,1018.1 1030.9,1012.1 1031.7,1016.8 1032.4,1023.4 1033.2,1028.0 1034.0,1027.7 1034.7,1037.2 1035.5,1021.7 1036.2,1020.3 1037.0,1022.1 1037.7,1021.4 1038.5,1033.6 1039.2,1021.2 1040.0,1021.3 1040.7,1039.8 1041.5,1028.2 1042.2,1021.7 1043.0,1015.3 1043.7,1027.4 1044.5,1016.8 1045.2,1011.4 1046.0,1023.0 1046.7,1025.5 1047.5,1021.9 1048.2,1016.0 1049.0,1022.1 1049.7,1015.3 1050.5,1024.7 1051.2,1017.2 1052.0,1018.1 1052.8,1018.8 1053.5,1023.3 1054.3,1021.1 1055.0,1016.7 1055.8,1018.6 1056.5,1015.6 1057.3,1023.1 1058.0,1012.3 1058.8,1008.6 1059.5,1028.6 1060.3,1018.4 1061.0,1021.5 1061.8,1014.6 1062.5,1018.5 1063.3,1021.4 1064.0,1027.3 1064.8,1020.3 1065.5,1007.2 1066.3,1007.0 1067.0,1009.3 1067.8,1015.8 1068.5,1017.6 1069.3,1023.6 1070.0,1029.2 1070.8,1028.8 1071.6,1014.9 1072.3,1010.9 1073.1,1013.0 1073.8,1021.5 1074.6,1021.3 1075.3,1008.1 1076.1,1016.8 1076.8,1007.2 1077.6,1015.2 1078.3,1008.2 1079.1,1014.8 1079.8,1018.1 1080.6,1019.7 1081.3,1010.0 1082.1,1012.7 1082.8,1020.1 1083.6,1023.9 1084.3,1029.0 1085.1,1002.8 1085.8,1002.3 1086.6,1013.0 1087.3,1008.9 1088.1,1023.7 1088.8,1006.3 1089.6,1012.8 1090.4,1010.7 1091.1,1000.8 1091.9,1001.8 1092.6,1014.5 1093.4,1019.6 1094.1,1017.3 1094.9,1006.7 1095.6,1009.0 1096.4,1015.3 1097.1,1010.7 1097.9,1016.9 1098.6,999.4 1099.4,1012.3 1100.1,1023.3 1100.9,1013.0 1101.6,1002.3 1102.4,1007.5" fill="none" stroke="#b5b5b5" stroke-width="0.7"/>
<polyline points="958.0,1122.0 958.8,1140.0 959.5,1121.4 960.3,1126.5 961.0,1122.6 961.8,1118.3 962.5,1134.5 963.3,1140.2 964.0,1133.2 964.8,1132.4 965.5,1129.0 966.3,1116.8 967.0,1111.6 967.8,1117.0 968.5,1106.9 969.3,1090.8 970.0,1113.7 970.8,1117.9 971.5,1113.4 972.3,1110.2 973.0,1116.2 973.8,1111.9 974.5,1109.3 975.3,1098.2 976.0,1102.9 976.8,1107.7 977.6,1112.0 978.3,1111.1 979.1,1102.9 979.8,1104.4 980.6,1097.4 981.3,1092.9 982.1,1095.3 982.8,1085.8 983.6,1097.6 984.3,1093.1 985.1,1103.9 985.8,1092.0 986.6,1091.9 987.3,1096.1 988.1,1102.4 988.8,1090.2 989.6,1093.2 990.3,1092.4 991.1,1100.0 991.8,1094.7 992.6,1092.0 993.3,1080.6 994.1,1078.3 994.8,1074.9 995.6,1083.1 996.4,1089.5 997.1,1092.5 997.9,1091.6 998.6,1088.8 999.4,1092.3 1000.1,1089.9 1000.9,1092.8 1001.6,1086.1 1002.4,1078.4 1003.1,1091.0 1003.9,1078.3 1004.6,1082.9 1005.4,1083.6 1006.1,1090.5 1006.9,1084.6 1007.6,1068.5 1008.4,1083.5 1009.1,1078.6 1009.9,1081.0 1010.6,1080.7 1011.4,1081.1 1012.1,1069.8 1012.9,1088.3 1013.6,1082.3 1014.4,1074.6 1015.2,1076.9 1015.9,1071.7 1016.7,1076.8 1017.4,1057.9 1018.2,1070.9 1018.9,1068.2 1019.7,1073.0 1020.4,1076.6 1021.2,1078.8 1021.9,1069.7 1022.7,1073.8 1023.4,1071.0 1024.2,1074.9 1024.9,1082.8 1025.7,1073.0 1026.4,1069.9 1027.2,1076.9 1027.9,1070.0 1028.7,1071.9 1029.4,1077.3 1030.2,1070.1 1030.9,1060.0 1031.7,1058.5 1032.4,1063.4 1033.2,1052.7 1034.0,1067.6 1034.7,1071.7 1035.5,1072.8 1036.2,1057.0 1037.0,1064.2 1037.7,1063.8 1038.5,1069.4 1039.2,1069.8 1040.0,1067.6 1040.7,1063.4 1041.5,1062.6 1042.2,1061.9 1043.0,1059.2 1043.7,1065.6 1044.5,1062.1 1045.2,1059.4 1046.0,1076.3 1046.7,1060.0 1047.5,1057.1 1048.2,1053.5 1049.0,1063.7 1049.7,1063.2 1050.5,1060.2 1051.2,1065.5 1052.0,1068.7 1052.8,1066.3 1053.5,1063.5 1054.3,1065.0 1055.0,1053.4 1055.8,1048.0 1056.5,1058.8 1057.3,1064.1 1058.0,1064.5 1058.8,1055.3 1059.5,1064.2 1060.3,1057.9 1061.0,1055.0 1061.8,1062.0 1062.5,1053.3 1063.3,1062.1 1064.0,1061.6 1064.8,1072.1 1065.5,1046.9 1066.3,1051.9 1067.0,1052.3 1067.8,1057.2 1068.5,1061.2 1069.3,1068.8 1070.0,1060.2 1070.8,1068.9 1071.6,1056.3 1072.3,1050.5 1073.1,1044.4 1073.8,1055.1 1074.6,1052.8 1075.3,1051.1 1076.1,1058.4 1076.8,1055.0 1077.6,1049.9 1078.3,1047.5 1079.1,1052.5 1079.8,1057.5 1080.6,1051.4 1081.3,1062.1 1082.1,1065.6 1082.8,1050.8 1083.6,1064.8 1084.3,1063.4 1085.1,1058.1 1085.8,1051.9 1086.6,1042.2 1087.3,1051.6 1088.1,1037.9 1088.8,1051.2 1089.6,1049.3 1090.4,1051.8 1091.1,1047.4 1091.9,1045.5 1092.6,1050.7 1093.4,1062.1 1094.1,1062.6 1094.9,1049.3 1095.6,1042.4 1096.4,1050.7 1097.1,1052.0 1097.9,1054.9 1098.6,1044.0 1099.4,1048.2 1100.1,1063.9 1100.9,1053.2 1101.6,1049.3 1102.4,1057.7" fill="none" stroke="#b5b5b5" stroke-width="0.7"/>
<polyline points="958.0,1108.6 958.8,1109.6 959.5,1108.6 960.3,1102.8 961.0,1108.1 961.8,1106.2 962.5,1104.9 963.3,1113.2 964.0,1110.2 964.8,1105.7 965.5,1096.8 966.3,1094.3 967.0,1099.7 967.8,1096.0 968.5,1089.4 969.3,1086.5 970.0,1096.3 970.8,1098.0 971.5,1092.6 972.3,1089.7 973.0,1098.1 973.8,1095.7 974.5,1087.3 975.3,1082.9 976.0,1084.2 976.8,1085.2 977.6,1089.8 978.3,1079.1 979.1,1080.2 979.8,1083.1 980.6,1078.5 981.3,1072.6 982.1,1073.8 982.8,1080.3 983.6,1079.8 984.3,1083.3 985.1,1075.4 985.8,1079.8 986.6,1079.6 987.3,1080.2 988.1,1076.1 988.8,1077.1 989.6,1066.1 990.3,1065.4 991.1,1071.2 991.8,1075.1 992.6,1070.2 993.3,1062.2 994.1,1058.9 994.8,1059.0 995.6,1068.1 996.4,1069.3 997.1,1075.1 997.9,1070.1 998.6,1068.6 999.4,1070.7 1000.1,1069.7 1000.9,1065.1 1001.6,1061.6 1002.4,1066.1 1003.1,1060.0 1003.9,1053.2 1004.6,1057.3 1005.4,1063.0 1006.1,1066.7 1006.9,1061.4 1007.6,1058.9 1008.4,1055.7 1009.1,1058.3 1009.9,1063.5 1010.6,1059.2 1011.4,1051.0 1012.1,1053.7 1012.9,1055.8 1013.6,1053.2 1014.4,1055.7 1015.2,1051.9 1015.9,1056.4 1016.7,1051.8 1017.4,1048.0 1018.2,1050.9 1018.9,1057.4 1019.7,1054.4 1020.4,1055.6 1021.2,1057.2 1021.9,1053.8 1022.7,1051.4 1023.4,1052.5 1024.2,1051.2 1024.9,1053.0 1025.7,1054.4 1026.4,1049.9 1027.2,1050.9 1027.9,1057.6 1028.7,1048.8 1029.4,1047.1 1030.2,1046.9 1030.9,1043.5 1031.7,1039.1 1032.4,1048.4 1033.2,1049.5 1034.0,1049.1 1034.7,1054.6 1035.5,1045.8 1036.2,1042.1 1037.0,1040.2 1037.7,1040.7 1038.5,1045.6 1039.2,1045.7 1040.0,1039.1 1040.7,1044.9 1041.5,1042.1 1042.2,1046.4 1043.0,1043.4 1043.7,1042.1 1044.5,1036.2 1045.2,1043.9 1046.0,1046.4 1046.7,1041.0 1047.5,1038.4 1048.2,1038.0 1049.0,1036.0 1049.7,1044.9 1050.5,1038.9 1051.2,1039.4 1052.0,1044.4 1052.8,1047.5 1053.5,1048.0 1054.3,1042.0 1055.0,1034.8 1055.8,1037.5 1056.5,1040.8 1057.3,1041.0 1058.0,1044.2 1058.8,1042.4 1059.5,1052.4 1060.3,1042.2 1061.0,1037.2 1061.8,1039.2 1062.5,1041.6 1063.3,1039.5 1064.0,1043.8 1064.8,1038.9 1065.5,1038.7 1066.3,1033.8 1067.0,1031.6 1067.8,1031.1 1068.5,1037.0 1069.3,1041.4 1070.0,1042.3 1070.8,1047.4 1071.6,1038.4 1072.3,1032.0 1073.1,1035.0 1073.8,1036.6 1074.6,1032.1 1075.3,1031.0 1076.1,1032.1 1076.8,1035.1 1077.6,1032.7 1078.3,1031.8 1079.1,1034.4 1079.8,1040.4 1080.6,1033.3 1081.3,1037.7 1082.1,1040.8 1082.8,1036.5 1083.6,1046.1 1084.3,1041.6 1085.1,1034.4 1085.8,1031.8 1086.6,1032.2 1087.3,1031.4 1088.1,1032.3 1088.8,1031.8 1089.6,1037.2 1090.4,1033.6 1091.1,1027.5 1091.9,1025.1 1092.6,1026.0 1093.4,1040.0 1094.1,1039.6 1094.9,1031.8 1095.6,1030.5 1096.4,1034.4 1097.1,1031.8 1097.9,1033.4 1098.6,1030.3 1099.4,1031.9 1100.1,1037.1 1100.9,1034.7 1101.6,1028.1 1102.4,1030.1" fill="none" stroke="#595959" stroke-width="1.0"/>
<polygon points="1103.1,1061.9 1103.9,1063.3 1104.6,1059.3 1105.4,1049.4 1106.1,1054.8 1106.9,1051.9 1107.6,1063.0 1108.4,1070.1 1109.2,1055.1 1109.9,1056.8 1110.7,1070.4 1111.4,1059.4 1112.2,1056.8 1112.9,1047.3 1113.7,1059.9 1114.4,1064.5 1115.2,1053.5 1115.9,1040.9 1116.7,1053.9 1117.4,1048.1 1118.2,1052.9 1118.9,1051.1 1119.7,1060.8 1120.4,1058.4 1121.2,1060.7 1121.9,1052.7 1122.7,1052.4 1123.4,1041.8 1124.2,1053.1 1124.9,1051.9 1125.7,1061.3 1126.4,1056.7 1127.2,1038.9 1128.0,1051.9 1128.7,1058.0 1129.5,1047.0 1130.2,1042.3 1131.0,1043.7 1131.7,1048.7 1132.5,1053.5 1133.2,1043.0 1134.0,1052.8 1134.7,1044.2 1135.5,1034.5 1136.2,1044.2 1137.0,1030.1 1137.7,1042.2 1138.5,1045.7 1139.2,1046.3 1140.0,1035.6 1140.7,1048.1 1141.5,1038.1 1142.2,1025.8 1143.0,1032.1 1143.7,1032.3 1144.5,1045.6 1145.2,1040.0 1146.0,1049.2 1146.8,1043.0 1147.5,1033.4 1148.3,1018.9 1149.0,1031.2 1149.8,1040.7 1150.5,1034.5 1151.3,1034.9 1152.0,1037.2 1152.8,1038.8 1153.5,1031.1 1154.3,1029.8 1155.0,1026.6 1155.8,1034.1 1156.5,1039.5 1157.3,1018.9 1158.0,1027.9 1158.8,1020.8 1159.5,1025.0 1160.3,1033.9 1161.0,1033.8 1161.8,1032.8 1162.5,1025.6 1163.3,1035.1 1164.0,1034.5 1164.8,1033.0 1165.6,1030.3 1166.3,1026.8 1167.1,1033.8 1167.8,1042.9 1168.6,1026.9 1169.3,1027.4 1170.1,1027.9 1170.8,1033.5 1171.6,1025.6 1172.3,1028.2 1173.1,1021.0 1173.8,1017.1 1174.6,1016.4 1175.3,1014.8 1176.1,1022.2 1176.8,1019.2 1177.6,1022.8 1178.3,1014.3 1179.1,1016.6 1179.8,1022.1 1180.6,1014.6 1181.3,1020.5 1182.1,1022.6 1182.8,1024.9 1183.6,1025.9 1184.4,1025.3 1185.1,1012.0 1185.9,1018.4 1186.6,1029.2 1187.4,1014.9 1188.1,1020.0 1188.9,1013.2 1189.6,1016.1 1190.4,1013.6 1191.1,1012.0 1191.9,1012.4 1192.6,1014.8 1193.4,1031.3 1194.1,1022.6 1194.9,1021.6 1195.6,1022.9 1196.4,1027.2 1197.1,1019.9 1197.9,1022.1 1198.6,1034.8 1199.4,1024.4 1200.1,1008.8 1200.9,1016.0 1201.6,1016.0 1202.4,1017.0 1203.2,1012.6 1203.9,1007.7 1204.7,1005.3 1205.4,1012.8 1206.2,1018.6 1206.9,1019.8 1207.7,1012.2 1208.4,1015.0 1209.2,1010.6 1209.9,1008.2 1209.9,1054.7 1209.2,1066.2 1208.4,1051.8 1207.7,1053.2 1206.9,1061.0 1206.2,1060.4 1205.4,1056.1 1204.7,1044.5 1203.9,1047.6 1203.2,1061.2 1202.4,1060.1 1201.6,1057.1 1200.9,1047.0 1200.1,1049.8 1199.4,1066.9 1198.6,1069.6 1197.9,1070.2 1197.1,1051.3 1196.4,1061.4 1195.6,1056.7 1194.9,1058.2 1194.1,1061.7 1193.4,1059.3 1192.6,1057.6 1191.9,1062.8 1191.1,1054.6 1190.4,1066.8 1189.6,1042.2 1188.9,1066.4 1188.1,1048.3 1187.4,1062.3 1186.6,1053.6 1185.9,1063.5 1185.1,1052.5 1184.4,1060.4 1183.6,1072.7 1182.8,1063.3 1182.1,1048.0 1181.3,1060.1 1180.6,1051.9 1179.8,1054.2 1179.1,1054.2 1178.3,1062.8 1177.6,1053.2 1176.8,1062.1 1176.1,1057.0 1175.3,1062.1 1174.6,1069.2 1173.8,1055.7 1173.1,1056.9 1172.3,1059.5 1171.6,1066.6 1170.8,1062.6 1170.1,1067.4 1169.3,1074.2 1168.6,1072.6 1167.8,1075.8 1167.1,1080.4 1166.3,1071.9 1165.6,1061.9 1164.8,1073.3 1164.0,1074.9 1163.3,1070.7 1162.5,1063.7 1161.8,1074.0 1161.0,1074.0 1160.3,1062.3 1159.5,1079.5 1158.8,1072.7 1158.0,1062.1 1157.3,1064.4 1156.5,1076.7 1155.8,1065.8 1155.0,1079.5 1154.3,1075.5 1153.5,1089.6 1152.8,1069.7 1152.0,1072.5 1151.3,1082.9 1150.5,1069.7 1149.8,1074.0 1149.0,1067.8 1148.3,1075.4 1147.5,1068.6 1146.8,1079.7 1146.0,1083.6 1145.2,1078.1 1144.5,1080.6 1143.7,1081.8 1143.0,1073.5 1142.2,1084.8 1141.5,1077.5 1140.7,1078.9 1140.0,1070.5 1139.2,1086.4 1138.5,1077.2 1137.7,1086.4 1137.0,1081.1 1136.2,1077.9 1135.5,1074.0 1134.7,1085.7 1134.0,1092.7 1133.2,1086.1 1132.5,1087.7 1131.7,1087.5 1131.0,1072.7 1130.2,1081.3 1129.5,1088.7 1128.7,1085.2 1128.0,1097.6 1127.2,1084.6 1126.4,1098.8 1125.7,1088.8 1124.9,1101.7 1124.2,1085.2 1123.4,1088.9 1122.7,1091.3 1121.9,1093.0 1121.2,1090.0 1120.4,1087.5 1119.7,1097.0 1118.9,1097.6 1118.2,1092.8 1117.4,1092.6 1116.7,1085.0 1115.9,1086.6 1115.2,1095.4 1114.4,1093.7 1113.7,1100.7 1112.9,1097.6 1112.2,1104.3 1111.4,1101.1 1110.7,1102.0 1109.9,1099.7 1109.2,1110.5 1108.4,1117.4 1107.6,1096.1 1106.9,1092.3 1106.1,1104.7 1105.4,1101.1 1104.6,1100.5 1103.9,1118.9 1103.1,1114.4" fill="#d9d9d9"/>
<polyline points="1103.1,1061.9 1103.9,1063.3 1104.6,1059.3 1105.4,1049.4 1106.1,1054.8 1106.9,1051.9 1107.6,1063.0 1108.4,1070.1 1109.2,1055.1 1109.9,1056.8 1110.7,1070.4 1111.4,1059.4 1112.2,1056.8 1112.9,1047.3 1113.7,1059.9 1114.4,1064.5 1115.2,1053.5 1115.9,1040.9 1116.7,1053.9 1117.4,1048.1 1118.2,1052.9 1118.9,1051.1 1119.7,1060.8 1120.4,1058.4 1121.2,1060.7 1121.9,1052.7 1122.7,1052.4 1123.4,1041.8 1124.2,1053.1 1124.9,1051.9 1125.7,1061.3 1126.4,1056.7 1127.2,1038.9 1128.0,1051.9 1128.7,1058.0 1129.5,1047.0 1130.2,1042.3 1131.0,1043.7 1131.7,1048.7 1132.5,1053.5 1133.2,1043.0 1134.0,1052.8 1134.7,1044.2 1135.5,1034.5 1136.2,1044.2 1137.0,1030.1 1137.7,1042.2 1138.5,1045.7 1139.2,1046.3 1140.0,1035.6 1140.7,1048.1 1141.5,1038.1 1142.2,1025.8 1143.0,1032.1 1143.7,1032.3 1144.5,1045.6 1145.2,1040.0 1146.0,1049.2 1146.8,1043.0 1147.5,1033.4 1148.3,1018.9 1149.0,1031.2 1149.8,1040.7 1150.5,1034.5 1151.3,1034.9 1152.0,1037.2 1152.8,1038.8 1153.5,1031.1 1154.3,1029.8 1155.0,1026.6 1155.8,1034.1 1156.5,1039.5 1157.3,1018.9 1158.0,1027.9 1158.8,1020.8 1159.5,1025.0 1160.3,1033.9 1161.0,1033.8 1161.8,1032.8 1162.5,1025.6 1163.3,1035.1 1164.0,1034.5 1164.8,1033.0 1165.6,1030.3 1166.3,1026.8 1167.1,1033.8 1167.8,1042.9 1168.6,1026.9 1169.3,1027.4 1170.1,1027.9 1170.8,1033.5 1171.6,1025.6 1172.3,1028.2 1173.1,1021.0 1173.8,1017.1 1174.6,1016.4 1175.3,1014.8 1176.1,1022.2 1176.8,1019.2 1177.6,1022.8 1178.3,1014.3 1179.1,1016.6 1179.8,1022.1 1180.6,1014.6 1181.3,1020.5 1182.1,1022.6 1182.8,1024.9 1183.6,1025.9 1184.4,1025.3 1185.1,1012.0 1185.9,1018.4 1186.6,1029.2 1187.4,1014.9 1188.1,1020.0 1188.9,1013.2 1189.6,1016.1 1190.4,1013.6 1191.1,1012.0 1191.9,1012.4 1192.6,1014.8 1193.4,1031.3 1194.1,1022.6 1194.9,1021.6 1195.6,1022.9 1196.4,1027.2 1197.1,1019.9 1197.9,1022.1 1198.6,1034.8 1199.4,1024.4 1200.1,1008.8 1200.9,1016.0 1201.6,1016.0 1202.4,1017.0 1203.2,1012.6 1203.9,1007.7 1204.7,1005.3 1205.4,1012.8 1206.2,1018.6 1206.9,1019.8 1207.7,1012.2 1208.4,1015.0 1209.2,1010.6 1209.9,1008.2" fill="none" stroke="#b5b5b5" stroke-width="0.7"/>
<polyline points="1103.1,1114.4 1103.9,1118.9 1104.6,1100.5 1105.4,1101.1 1106.1,1104.7 1106.9,1092.3 1107.6,1096.1 1108.4,1117.4 1109.2,1110.5 1109.9,1099.7 1110.7,1102.0 1111.4,1101.1 1112.2,1104.3 1112.9,1097.6 1113.7,1100.7 1114.4,1093.7 1115.2,1095.4 1115.9,1086.6 1116.7,1085.0 1117.4,1092.6 1118.2,1092.8 1118.9,1097.6 1119.7,1097.0 1120.4,1087.5 1121.2,1090.0 1121.9,1093.0 1122.7,1091.3 1123.4,1088.9 1124.2,1085.2 1124.9,1101.7 1125.7,1088.8 1126.4,1098.8 1127.2,1084.6 1128.0,1097.6 1128.7,1085.2 1129.5,1088.7 1130.2,1081.3 1131.0,1072.7 1131.7,1087.5 1132.5,1087.7 1133.2,1086.1 1134.0,1092.7 1134.7,1085.7 1135.5,1074.0 1136.2,1077.9 1137.0,1081.1 1137.7,1086.4 1138.5,1077.2 1139.2,1086.4 1140.0,1070.5 1140.7,1078.9 1141.5,1077.5 1142.2,1084.8 1143.0,1073.5 1143.7,1081.8 1144.5,1080.6 1145.2,1078.1 1146.0,1083.6 1146.8,1079.7 1147.5,1068.6 1148.3,1075.4 1149.0,1067.8 1149.8,1074.0 1150.5,1069.7 1151.3,1082.9 1152.0,1072.5 1152.8,1069.7 1153.5,1089.6 1154.3,1075.5 1155.0,1079.5 1155.8,1065.8 1156.5,1076.7 1157.3,1064.4 1158.0,1062.1 1158.8,1072.7 1159.5,1079.5 1160.3,1062.3 1161.0,1074.0 1161.8,1074.0 1162.5,1063.7 1163.3,1070.7 1164.0,1074.9 1164.8,1073.3 1165.6,1061.9 1166.3,1071.9 1167.1,1080.4 1167.8,1075.8 1168.6,1072.6 1169.3,1074.2 1170.1,1067.4 1170.8,1062.6 1171.6,1066.6 1172.3,1059.5 1173.1,1056.9 1173.8,1055.7 1174.6,1069.2 1175.3,1062.1 1176.1,1057.0 1176.8,1062.1 1177.6,1053.2 1178.3,1062.8 1179.1,1054.2 1179.8,1054.2 1180.6,1051.9 1181.3,1060.1 1182.1,1048.0 1182.8,1063.3 1183.6,1072.7 1184.4,1060.4 1185.1,1052.5 1185.9,1063.5 1186.6,1053.6 1187.4,1062.3 1188.1,1048.3 1188.9,1066.4 1189.6,1042.2 1190.4,1066.8 1191.1,1054.6 1191.9,1062.8 1192.6,1057.6 1193.4,1059.3 1194.1,1061.7 1194.9,1058.2 1195.6,1056.7 1196.4,1061.4 1197.1,1051.3 1197.9,1070.2 1198.6,1069.6 1199.4,1066.9 1200.1,1049.8 1200.9,1047.0 1201.6,1057.1 1202.4,1060.1 1203.2,1061.2 1203.9,1047.6 1204.7,1044.5 1205.4,1056.1 1206.2,1060.4 1206.9,1061.0 1207.7,1053.2 1208.4,1051.8 1209.2,1066.2 1209.9,1054.7" fill="none" stroke="#b5b5b5" stroke-width="0.7"/>
<polyline points="1103.1,1085.1 1103.9,1089.0 1104.6,1079.4 1105.4,1074.8 1106.1,1078.6 1106.9,1078.8 1107.6,1080.5 1108.4,1095.1 1109.2,1087.8 1109.9,1079.7 1110.7,1077.5 1111.4,1079.2 1112.2,1077.0 1112.9,1076.5 1113.7,1081.6 1114.4,1076.0 1115.2,1074.6 1115.9,1071.7 1116.7,1068.3 1117.4,1074.7 1118.2,1075.0 1118.9,1072.7 1119.7,1071.8 1120.4,1079.0 1121.2,1075.1 1121.9,1078.4 1122.7,1071.2 1123.4,1062.8 1124.2,1065.7 1124.9,1071.0 1125.7,1071.8 1126.4,1074.8 1127.2,1074.4 1128.0,1071.1 1128.7,1073.6 1129.5,1067.0 1130.2,1061.4 1131.0,1063.8 1131.7,1070.1 1132.5,1073.6 1133.2,1068.9 1134.0,1066.9 1134.7,1063.8 1135.5,1062.9 1136.2,1060.2 1137.0,1061.7 1137.7,1061.6 1138.5,1063.0 1139.2,1064.2 1140.0,1056.6 1140.7,1054.2 1141.5,1059.9 1142.2,1053.4 1143.0,1051.4 1143.7,1055.5 1144.5,1061.2 1145.2,1063.4 1146.0,1060.3 1146.8,1060.5 1147.5,1055.2 1148.3,1050.1 1149.0,1046.3 1149.8,1052.1 1150.5,1053.0 1151.3,1057.3 1152.0,1060.2 1152.8,1056.1 1153.5,1061.5 1154.3,1055.8 1155.0,1051.5 1155.8,1051.2 1156.5,1055.2 1157.3,1048.9 1158.0,1040.6 1158.8,1048.7 1159.5,1049.3 1160.3,1048.6 1161.0,1052.6 1161.8,1054.1 1162.5,1048.0 1163.3,1050.6 1164.0,1056.4 1164.8,1049.8 1165.6,1045.3 1166.3,1048.3 1167.1,1053.8 1167.8,1051.1 1168.6,1051.8 1169.3,1043.4 1170.1,1048.6 1170.8,1049.2 1171.6,1047.0 1172.3,1048.4 1173.1,1043.7 1173.8,1038.5 1174.6,1039.1 1175.3,1043.2 1176.1,1042.8 1176.8,1038.2 1177.6,1042.7 1178.3,1038.0 1179.1,1035.5 1179.8,1041.9 1180.6,1038.1 1181.3,1036.0 1182.1,1038.4 1182.8,1045.6 1183.6,1045.4 1184.4,1037.7 1185.1,1044.6 1185.9,1046.5 1186.6,1043.6 1187.4,1040.3 1188.1,1036.5 1188.9,1032.5 1189.6,1040.0 1190.4,1037.6 1191.1,1036.7 1191.9,1039.0 1192.6,1037.6 1193.4,1037.3 1194.1,1041.9 1194.9,1041.1 1195.6,1041.5 1196.4,1036.7 1197.1,1039.3 1197.9,1039.6 1198.6,1045.8 1199.4,1038.7 1200.1,1032.5 1200.9,1031.3 1201.6,1034.8 1202.4,1033.2 1203.2,1036.5 1203.9,1033.3 1204.7,1031.8 1205.4,1032.0 1206.2,1037.7 1206.9,1038.9 1207.7,1034.5 1208.4,1035.1 1209.2,1035.8 1209.9,1030.5" fill="none" stroke="#595959" stroke-width="1.0"/>
<path d="M827.2,1072.8 L894.1,1072.8 L894.1,935.2 L901.6,935.2" fill="none" stroke="#ff7f00" stroke-width="4.2" stroke-linejoin="miter"/>
<path d="M902.4,1095.7 L922.7,1095.7 L922.7,1029.8 L956.5,1029.8" fill="none" stroke="#a6cee3" stroke-width="4.2" stroke-linejoin="miter"/>
<path d="M958.0,1072.8 L1064.4,1072.8 L1064.4,976.8 L1102.4,976.8" fill="none" stroke="#cab2d6" stroke-width="4.2" stroke-linejoin="miter"/>
<path d="M1103.1,1090.0 L1162.5,1090.0 L1162.5,1022.6 L1209.9,1022.6" fill="none" stroke="#e31a1c" stroke-width="4.2" stroke-linejoin="miter"/>
<line x1="827.2" y1="912.8" x2="901.6" y2="912.8" stroke="#ff7f00" stroke-width="1.8"/>
<line x1="902.4" y1="912.8" x2="956.5" y2="912.8" stroke="#a6cee3" stroke-width="1.8"/>
<line x1="958.0" y1="912.8" x2="1102.4" y2="912.8" stroke="#cab2d6" stroke-width="1.8"/>
<line x1="1103.1" y1="912.8" x2="1209.9" y2="912.8" stroke="#e31a1c" stroke-width="1.8"/>
<line x1="827.4" y1="926.8" x2="880.6" y2="926.8" stroke="#fb9a99" stroke-width="2.6"/>
<line x1="891.2" y1="926.8" x2="902.2" y2="926.8" stroke="#ff7f00" stroke-width="2.6"/>
<line x1="973.0" y1="926.8" x2="978.6" y2="926.8" stroke="#a6cee3" stroke-width="2.6"/>
<line x1="978.6" y1="926.8" x2="985.6" y2="926.8" stroke="#cab2d6" stroke-width="2.6"/>
<line x1="989.8" y1="926.8" x2="999.6" y2="926.8" stroke="#ff7f00" stroke-width="2.6"/>
<line x1="1003.8" y1="926.8" x2="1010.8" y2="926.8" stroke="#b2df8a" stroke-width="2.6"/>
<line x1="1029.0" y1="926.8" x2="1036.0" y2="926.8" stroke="#e31a1c" stroke-width="2.6"/>
<line x1="1037.4" y1="926.8" x2="1064.0" y2="926.8" stroke="#b2df8a" stroke-width="2.6"/>
<line x1="1064.0" y1="926.8" x2="1101.8" y2="926.8" stroke="#cab2d6" stroke-width="2.6"/>
<line x1="1122.8" y1="926.8" x2="1128.4" y2="926.8" stroke="#cab2d6" stroke-width="2.6"/>
<line x1="1130.4" y1="926.8" x2="1135.4" y2="926.8" stroke="#b2df8a" stroke-width="2.6"/>
<line x1="1135.4" y1="926.8" x2="1157.8" y2="926.8" stroke="#cab2d6" stroke-width="2.6"/>
<line x1="1163.4" y1="926.8" x2="1181.6" y2="926.8" stroke="#e31a1c" stroke-width="2.6"/>
<line x1="1183.0" y1="926.8" x2="1192.8" y2="926.8" stroke="#e31a1c" stroke-width="2.6"/>
<line x1="1194.2" y1="926.8" x2="1201.2" y2="926.8" stroke="#cab2d6" stroke-width="2.6"/>
<line x1="1201.2" y1="926.8" x2="1208.2" y2="926.8" stroke="#e31a1c" stroke-width="2.6"/>
<text x="1033.8" y="907.2" font-size="22" text-anchor="middle" font-weight="bold" textLength="29" lengthAdjust="spacingAndGlyphs">AL</text>
<text x="1213.0" y="912.8" font-size="23.5" textLength="47.5" lengthAdjust="spacingAndGlyphs">Rule</text>
<text x="1214.0" y="939.4" font-size="23.5" font-style="italic" textLength="51" lengthAdjust="spacingAndGlyphs">Strat</text>
<line x1="1491.0" y1="911.2" x2="1491.0" y2="1163.8" stroke="#b0b0b0" stroke-width="1.2"/>
<line x1="1491.0" y1="1163.8" x2="1873.5" y2="1163.8" stroke="#b0b0b0" stroke-width="1.2"/>
<line x1="1491.0" y1="935.6" x2="1495.0" y2="935.6" stroke="#b0b0b0" stroke-width="1"/>
<text x="1488.5" y="943.8" font-size="23.5" text-anchor="end">1</text>
<line x1="1491.0" y1="1007.0" x2="1495.0" y2="1007.0" stroke="#b0b0b0" stroke-width="1"/>
<text x="1488.5" y="1015.2" font-size="23.5" text-anchor="end">0.75</text>
<line x1="1491.0" y1="1078.4" x2="1495.0" y2="1078.4" stroke="#b0b0b0" stroke-width="1"/>
<text x="1488.5" y="1086.6" font-size="23.5" text-anchor="end">0.5</text>
<line x1="1491.0" y1="1149.8" x2="1495.0" y2="1149.8" stroke="#b0b0b0" stroke-width="1"/>
<text x="1488.5" y="1158.0" font-size="23.5" text-anchor="end">0.25</text>
<line x1="1546.4" y1="1163.8" x2="1546.4" y2="1159.8" stroke="#b0b0b0" stroke-width="1"/>
<text x="1544.4" y="1185.3" font-size="23.5" text-anchor="middle">200</text>
<line x1="1621.6" y1="1163.8" x2="1621.6" y2="1159.8" stroke="#b0b0b0" stroke-width="1"/>
<text x="1619.6" y="1185.3" font-size="23.5" text-anchor="middle">300</text>
<line x1="1696.8" y1="1163.8" x2="1696.8" y2="1159.8" stroke="#b0b0b0" stroke-width="1"/>
<text x="1694.8" y="1185.3" font-size="23.5" text-anchor="middle">400</text>
<line x1="1772.0" y1="1163.8" x2="1772.0" y2="1159.8" stroke="#b0b0b0" stroke-width="1"/>
<text x="1770.0" y="1185.3" font-size="23.5" text-anchor="middle">500</text>
<line x1="1847.2" y1="1163.8" x2="1847.2" y2="1159.8" stroke="#b0b0b0" stroke-width="1"/>
<text x="1845.2" y="1185.3" font-size="23.5" text-anchor="middle">600</text>
<text x="1682.5" y="1209.3" font-size="23.5" text-anchor="middle" textLength="134" lengthAdjust="spacingAndGlyphs">Trial number</text>
<text x="1438.5" y="1040.4" font-size="23.5" text-anchor="middle" transform="rotate(-90 1438.5 1040.4)" textLength="104" lengthAdjust="spacingAndGlyphs">p(correct)</text>
<line x1="1491.0" y1="1078.4" x2="1873.5" y2="1078.4" stroke="#aaaaaa" stroke-width="1.4" stroke-dasharray="7,5"/>
<polygon points="1490.8,1053.8 1491.5,1064.1 1492.3,1071.4 1493.0,1059.2 1493.8,1060.9 1494.5,1059.4 1495.3,1043.6 1496.0,1063.4 1496.8,1059.1 1497.5,1061.3 1498.3,1052.8 1499.0,1057.6 1499.8,1057.7 1500.5,1055.2 1501.3,1049.0 1502.0,1062.9 1502.8,1065.2 1503.5,1065.7 1504.3,1047.0 1505.0,1053.0 1505.8,1056.0 1506.5,1050.5 1507.3,1032.4 1508.0,1046.2 1508.8,1043.6 1509.6,1047.3 1510.3,1051.7 1511.1,1056.0 1511.8,1056.0 1512.6,1053.2 1513.3,1058.6 1514.1,1036.0 1514.8,1048.0 1515.6,1053.4 1516.3,1051.7 1517.1,1049.5 1517.8,1040.3 1518.6,1051.2 1519.3,1049.2 1520.1,1057.3 1520.8,1050.1 1521.6,1042.1 1522.3,1050.4 1523.1,1040.9 1523.8,1043.4 1524.6,1037.9 1525.3,1039.4 1526.1,1045.6 1526.8,1044.7 1527.6,1037.6 1528.4,1040.6 1529.1,1045.0 1529.9,1038.6 1530.6,1036.5 1531.4,1041.9 1532.1,1038.3 1532.9,1021.6 1533.6,1032.0 1534.4,1039.5 1535.1,1030.2 1535.9,1044.0 1536.6,1052.5 1537.4,1051.3 1538.1,1048.7 1538.9,1034.3 1539.6,1027.6 1540.4,1049.7 1541.1,1040.8 1541.9,1052.4 1542.6,1042.3 1543.4,1040.2 1544.1,1034.2 1544.9,1031.1 1545.6,1033.7 1546.4,1042.5 1547.2,1032.0 1547.9,1027.6 1548.7,1029.6 1549.4,1022.0 1550.2,1027.9 1550.9,1030.6 1551.7,1031.6 1552.4,1037.1 1553.2,1036.0 1553.9,1039.1 1554.7,1026.1 1555.4,1031.8 1556.2,1029.8 1556.9,1036.0 1557.7,1027.9 1558.4,1014.4 1559.2,1022.0 1559.9,1030.4 1560.7,1028.3 1561.4,1017.3 1562.2,1029.8 1562.9,1042.5 1563.7,1041.5 1564.4,1033.4 1565.2,1020.8 1565.2,1078.0 1564.4,1067.1 1563.7,1075.8 1562.9,1070.0 1562.2,1058.3 1561.4,1062.6 1560.7,1065.6 1559.9,1067.1 1559.2,1065.2 1558.4,1062.5 1557.7,1070.6 1556.9,1081.5 1556.2,1086.2 1555.4,1077.3 1554.7,1076.1 1553.9,1069.8 1553.2,1078.7 1552.4,1082.2 1551.7,1080.7 1550.9,1081.7 1550.2,1077.4 1549.4,1078.2 1548.7,1077.7 1547.9,1083.0 1547.2,1079.2 1546.4,1074.3 1545.6,1079.8 1544.9,1080.3 1544.1,1078.3 1543.4,1086.0 1542.6,1085.1 1541.9,1100.0 1541.1,1078.5 1540.4,1089.6 1539.6,1075.2 1538.9,1070.6 1538.1,1076.0 1537.4,1090.2 1536.6,1096.9 1535.9,1083.0 1535.1,1081.1 1534.4,1083.0 1533.6,1077.8 1532.9,1082.2 1532.1,1090.9 1531.4,1081.8 1530.6,1093.8 1529.9,1077.9 1529.1,1085.0 1528.4,1083.3 1527.6,1083.4 1526.8,1086.3 1526.1,1085.0 1525.3,1088.0 1524.6,1084.6 1523.8,1083.2 1523.1,1092.4 1522.3,1089.5 1521.6,1093.2 1520.8,1099.8 1520.1,1092.4 1519.3,1102.3 1518.6,1092.3 1517.8,1088.5 1517.1,1087.9 1516.3,1090.2 1515.6,1094.5 1514.8,1100.5 1514.1,1087.6 1513.3,1081.3 1512.6,1095.2 1511.8,1103.0 1511.1,1090.3 1510.3,1099.4 1509.6,1104.1 1508.8,1080.6 1508.0,1082.7 1507.3,1080.1 1506.5,1089.2 1505.8,1094.7 1505.0,1089.5 1504.3,1103.8 1503.5,1097.7 1502.8,1103.2 1502.0,1098.2 1501.3,1095.8 1500.5,1098.9 1499.8,1097.6 1499.0,1107.5 1498.3,1099.4 1497.5,1112.6 1496.8,1093.9 1496.0,1104.7 1495.3,1098.1 1494.5,1100.4 1493.8,1100.0 1493.0,1101.2 1492.3,1113.1 1491.5,1114.3 1490.8,1104.2" fill="#d9d9d9"/>
<polyline points="1490.8,1053.8 1491.5,1064.1 1492.3,1071.4 1493.0,1059.2 1493.8,1060.9 1494.5,1059.4 1495.3,1043.6 1496.0,1063.4 1496.8,1059.1 1497.5,1061.3 1498.3,1052.8 1499.0,1057.6 1499.8,1057.7 1500.5,1055.2 1501.3,1049.0 1502.0,1062.9 1502.8,1065.2 1503.5,1065.7 1504.3,1047.0 1505.0,1053.0 1505.8,1056.0 1506.5,1050.5 1507.3,1032.4 1508.0,1046.2 1508.8,1043.6 1509.6,1047.3 1510.3,1051.7 1511.1,1056.0 1511.8,1056.0 1512.6,1053.2 1513.3,1058.6 1514.1,1036.0 1514.8,1048.0 1515.6,1053.4 1516.3,1051.7 1517.1,1049.5 1517.8,1040.3 1518.6,1051.2 1519.3,1049.2 1520.1,1057.3 1520.8,1050.1 1521.6,1042.1 1522.3,1050.4 1523.1,1040.9 1523.8,1043.4 1524.6,1037.9 1525.3,1039.4 1526.1,1045.6 1526.8,1044.7 1527.6,1037.6 1528.4,1040.6 1529.1,1045.0 1529.9,1038.6 1530.6,1036.5 1531.4,1041.9 1532.1,1038.3 1532.9,1021.6 1533.6,1032.0 1534.4,1039.5 1535.1,1030.2 1535.9,1044.0 1536.6,1052.5 1537.4,1051.3 1538.1,1048.7 1538.9,1034.3 1539.6,1027.6 1540.4,1049.7 1541.1,1040.8 1541.9,1052.4 1542.6,1042.3 1543.4,1040.2 1544.1,1034.2 1544.9,1031.1 1545.6,1033.7 1546.4,1042.5 1547.2,1032.0 1547.9,1027.6 1548.7,1029.6 1549.4,1022.0 1550.2,1027.9 1550.9,1030.6 1551.7,1031.6 1552.4,1037.1 1553.2,1036.0 1553.9,1039.1 1554.7,1026.1 1555.4,1031.8 1556.2,1029.8 1556.9,1036.0 1557.7,1027.9 1558.4,1014.4 1559.2,1022.0 1559.9,1030.4 1560.7,1028.3 1561.4,1017.3 1562.2,1029.8 1562.9,1042.5 1563.7,1041.5 1564.4,1033.4 1565.2,1020.8" fill="none" stroke="#b5b5b5" stroke-width="0.7"/>
<polyline points="1490.8,1104.2 1491.5,1114.3 1492.3,1113.1 1493.0,1101.2 1493.8,1100.0 1494.5,1100.4 1495.3,1098.1 1496.0,1104.7 1496.8,1093.9 1497.5,1112.6 1498.3,1099.4 1499.0,1107.5 1499.8,1097.6 1500.5,1098.9 1501.3,1095.8 1502.0,1098.2 1502.8,1103.2 1503.5,1097.7 1504.3,1103.8 1505.0,1089.5 1505.8,1094.7 1506.5,1089.2 1507.3,1080.1 1508.0,1082.7 1508.8,1080.6 1509.6,1104.1 1510.3,1099.4 1511.1,1090.3 1511.8,1103.0 1512.6,1095.2 1513.3,1081.3 1514.1,1087.6 1514.8,1100.5 1515.6,1094.5 1516.3,1090.2 1517.1,1087.9 1517.8,1088.5 1518.6,1092.3 1519.3,1102.3 1520.1,1092.4 1520.8,1099.8 1521.6,1093.2 1522.3,1089.5 1523.1,1092.4 1523.8,1083.2 1524.6,1084.6 1525.3,1088.0 1526.1,1085.0 1526.8,1086.3 1527.6,1083.4 1528.4,1083.3 1529.1,1085.0 1529.9,1077.9 1530.6,1093.8 1531.4,1081.8 1532.1,1090.9 1532.9,1082.2 1533.6,1077.8 1534.4,1083.0 1535.1,1081.1 1535.9,1083.0 1536.6,1096.9 1537.4,1090.2 1538.1,1076.0 1538.9,1070.6 1539.6,1075.2 1540.4,1089.6 1541.1,1078.5 1541.9,1100.0 1542.6,1085.1 1543.4,1086.0 1544.1,1078.3 1544.9,1080.3 1545.6,1079.8 1546.4,1074.3 1547.2,1079.2 1547.9,1083.0 1548.7,1077.7 1549.4,1078.2 1550.2,1077.4 1550.9,1081.7 1551.7,1080.7 1552.4,1082.2 1553.2,1078.7 1553.9,1069.8 1554.7,1076.1 1555.4,1077.3 1556.2,1086.2 1556.9,1081.5 1557.7,1070.6 1558.4,1062.5 1559.2,1065.2 1559.9,1067.1 1560.7,1065.6 1561.4,1062.6 1562.2,1058.3 1562.9,1070.0 1563.7,1075.8 1564.4,1067.1 1565.2,1078.0" fill="none" stroke="#b5b5b5" stroke-width="0.7"/>
<polyline points="1490.8,1083.2 1491.5,1090.1 1492.3,1085.2 1493.0,1078.1 1493.8,1077.7 1494.5,1079.4 1495.3,1076.3 1496.0,1081.2 1496.8,1081.9 1497.5,1078.3 1498.3,1080.9 1499.0,1079.2 1499.8,1076.9 1500.5,1076.9 1501.3,1074.6 1502.0,1082.9 1502.8,1084.1 1503.5,1079.2 1504.3,1079.3 1505.0,1074.1 1505.8,1074.2 1506.5,1067.2 1507.3,1064.1 1508.0,1068.5 1508.8,1069.1 1509.6,1077.1 1510.3,1071.1 1511.1,1073.1 1511.8,1072.7 1512.6,1078.3 1513.3,1067.8 1514.1,1071.5 1514.8,1080.2 1515.6,1077.0 1516.3,1072.2 1517.1,1065.0 1517.8,1066.1 1518.6,1072.8 1519.3,1072.1 1520.1,1071.9 1520.8,1074.9 1521.6,1076.2 1522.3,1070.0 1523.1,1066.1 1523.8,1060.8 1524.6,1066.0 1525.3,1062.7 1526.1,1066.6 1526.8,1060.6 1527.6,1062.6 1528.4,1064.3 1529.1,1064.0 1529.9,1060.4 1530.6,1059.8 1531.4,1057.1 1532.1,1058.4 1532.9,1055.7 1533.6,1057.2 1534.4,1062.6 1535.1,1063.4 1535.9,1062.8 1536.6,1057.2 1537.4,1063.2 1538.1,1062.1 1538.9,1057.7 1539.6,1051.4 1540.4,1057.9 1541.1,1066.5 1541.9,1070.4 1542.6,1068.5 1543.4,1063.4 1544.1,1056.2 1544.9,1049.1 1545.6,1060.1 1546.4,1058.4 1547.2,1058.7 1547.9,1056.3 1548.7,1056.3 1549.4,1054.6 1550.2,1056.1 1550.9,1057.4 1551.7,1062.3 1552.4,1056.8 1553.2,1045.3 1553.9,1052.6 1554.7,1054.7 1555.4,1057.1 1556.2,1052.9 1556.9,1054.7 1557.7,1047.6 1558.4,1047.8 1559.2,1045.1 1559.9,1047.1 1560.7,1050.0 1561.4,1046.2 1562.2,1048.4 1562.9,1045.7 1563.7,1050.2 1564.4,1050.3 1565.2,1047.7" fill="none" stroke="#595959" stroke-width="1.0"/>
<polygon points="1566.0,1062.0 1566.7,1062.2 1567.5,1060.4 1568.2,1056.6 1569.0,1054.4 1569.7,1050.9 1570.5,1077.3 1571.2,1068.6 1572.0,1063.2 1572.7,1064.0 1573.5,1059.8 1574.2,1051.6 1575.0,1059.4 1575.7,1048.2 1576.5,1052.2 1577.2,1054.0 1578.0,1065.2 1578.7,1068.1 1579.5,1055.9 1580.2,1054.2 1581.0,1059.5 1581.7,1061.5 1582.5,1048.7 1583.2,1049.6 1584.0,1045.2 1584.8,1049.7 1585.5,1040.6 1586.3,1038.1 1587.0,1037.2 1587.8,1038.0 1588.5,1039.1 1589.3,1033.0 1590.0,1025.8 1590.8,1041.3 1591.5,1047.5 1592.3,1054.4 1593.0,1026.2 1593.8,1042.3 1594.5,1031.8 1595.3,1034.1 1596.0,1028.6 1596.8,1039.3 1597.5,1041.3 1598.3,1033.0 1599.0,1036.2 1599.8,1033.3 1600.5,1045.4 1601.3,1035.7 1602.0,1033.0 1602.8,1042.5 1603.6,1038.4 1604.3,1026.4 1605.1,1022.0 1605.8,1030.0 1606.6,1027.1 1607.3,1025.3 1608.1,1025.5 1608.8,1025.0 1609.6,1037.2 1610.3,1026.3 1611.1,1026.7 1611.8,1030.7 1612.6,1026.1 1613.3,1028.9 1614.1,1019.2 1614.8,1026.3 1615.6,1030.1 1616.3,1025.2 1617.1,1017.6 1617.8,1002.7 1618.6,1010.2 1619.3,1013.6 1620.1,1010.3 1620.1,1044.0 1619.3,1051.7 1618.6,1050.9 1617.8,1046.7 1617.1,1061.3 1616.3,1078.9 1615.6,1067.5 1614.8,1073.7 1614.1,1071.7 1613.3,1063.1 1612.6,1074.0 1611.8,1073.9 1611.1,1071.0 1610.3,1074.9 1609.6,1069.8 1608.8,1068.2 1608.1,1067.0 1607.3,1071.4 1606.6,1071.6 1605.8,1069.3 1605.1,1065.1 1604.3,1070.2 1603.6,1074.5 1602.8,1082.9 1602.0,1059.4 1601.3,1073.8 1600.5,1082.5 1599.8,1081.2 1599.0,1076.8 1598.3,1078.8 1597.5,1075.7 1596.8,1084.0 1596.0,1079.4 1595.3,1075.4 1594.5,1072.9 1593.8,1070.2 1593.0,1073.1 1592.3,1086.4 1591.5,1092.5 1590.8,1085.4 1590.0,1086.5 1589.3,1083.4 1588.5,1077.3 1587.8,1082.5 1587.0,1090.5 1586.3,1091.2 1585.5,1092.9 1584.8,1086.7 1584.0,1083.9 1583.2,1091.8 1582.5,1094.2 1581.7,1096.5 1581.0,1102.8 1580.2,1094.3 1579.5,1088.8 1578.7,1103.5 1578.0,1105.9 1577.2,1090.8 1576.5,1095.0 1575.7,1099.4 1575.0,1105.4 1574.2,1097.9 1573.5,1096.0 1572.7,1098.2 1572.0,1107.4 1571.2,1111.6 1570.5,1108.4 1569.7,1111.1 1569.0,1104.3 1568.2,1100.8 1567.5,1111.7 1566.7,1103.0 1566.0,1092.2" fill="#d9d9d9"/>
<polyline points="1566.0,1062.0 1566.7,1062.2 1567.5,1060.4 1568.2,1056.6 1569.0,1054.4 1569.7,1050.9 1570.5,1077.3 1571.2,1068.6 1572.0,1063.2 1572.7,1064.0 1573.5,1059.8 1574.2,1051.6 1575.0,1059.4 1575.7,1048.2 1576.5,1052.2 1577.2,1054.0 1578.0,1065.2 1578.7,1068.1 1579.5,1055.9 1580.2,1054.2 1581.0,1059.5 1581.7,1061.5 1582.5,1048.7 1583.2,1049.6 1584.0,1045.2 1584.8,1049.7 1585.5,1040.6 1586.3,1038.1 1587.0,1037.2 1587.8,1038.0 1588.5,1039.1 1589.3,1033.0 1590.0,1025.8 1590.8,1041.3 1591.5,1047.5 1592.3,1054.4 1593.0,1026.2 1593.8,1042.3 1594.5,1031.8 1595.3,1034.1 1596.0,1028.6 1596.8,1039.3 1597.5,1041.3 1598.3,1033.0 1599.0,1036.2 1599.8,1033.3 1600.5,1045.4 1601.3,1035.7 1602.0,1033.0 1602.8,1042.5 1603.6,1038.4 1604.3,1026.4 1605.1,1022.0 1605.8,1030.0 1606.6,1027.1 1607.3,1025.3 1608.1,1025.5 1608.8,1025.0 1609.6,1037.2 1610.3,1026.3 1611.1,1026.7 1611.8,1030.7 1612.6,1026.1 1613.3,1028.9 1614.1,1019.2 1614.8,1026.3 1615.6,1030.1 1616.3,1025.2 1617.1,1017.6 1617.8,1002.7 1618.6,1010.2 1619.3,1013.6 1620.1,1010.3" fill="none" stroke="#b5b5b5" stroke-width="0.7"/>
<polyline points="1566.0,1092.2 1566.7,1103.0 1567.5,1111.7 1568.2,1100.8 1569.0,1104.3 1569.7,1111.1 1570.5,1108.4 1571.2,1111.6 1572.0,1107.4 1572.7,1098.2 1573.5,1096.0 1574.2,1097.9 1575.0,1105.4 1575.7,1099.4 1576.5,1095.0 1577.2,1090.8 1578.0,1105.9 1578.7,1103.5 1579.5,1088.8 1580.2,1094.3 1581.0,1102.8 1581.7,1096.5 1582.5,1094.2 1583.2,1091.8 1584.0,1083.9 1584.8,1086.7 1585.5,1092.9 1586.3,1091.2 1587.0,1090.5 1587.8,1082.5 1588.5,1077.3 1589.3,1083.4 1590.0,1086.5 1590.8,1085.4 1591.5,1092.5 1592.3,1086.4 1593.0,1073.1 1593.8,1070.2 1594.5,1072.9 1595.3,1075.4 1596.0,1079.4 1596.8,1084.0 1597.5,1075.7 1598.3,1078.8 1599.0,1076.8 1599.8,1081.2 1600.5,1082.5 1601.3,1073.8 1602.0,1059.4 1602.8,1082.9 1603.6,1074.5 1604.3,1070.2 1605.1,1065.1 1605.8,1069.3 1606.6,1071.6 1607.3,1071.4 1608.1,1067.0 1608.8,1068.2 1609.6,1069.8 1610.3,1074.9 1611.1,1071.0 1611.8,1073.9 1612.6,1074.0 1613.3,1063.1 1614.1,1071.7 1614.8,1073.7 1615.6,1067.5 1616.3,1078.9 1617.1,1061.3 1617.8,1046.7 1618.6,1050.9 1619.3,1051.7 1620.1,1044.0" fill="none" stroke="#b5b5b5" stroke-width="0.7"/>
<polyline points="1566.0,1079.0 1566.7,1081.8 1567.5,1081.9 1568.2,1081.5 1569.0,1079.2 1569.7,1080.9 1570.5,1083.4 1571.2,1086.9 1572.0,1090.0 1572.7,1079.9 1573.5,1082.8 1574.2,1079.9 1575.0,1079.4 1575.7,1078.9 1576.5,1074.9 1577.2,1076.6 1578.0,1076.7 1578.7,1077.8 1579.5,1075.8 1580.2,1074.6 1581.0,1079.6 1581.7,1080.3 1582.5,1073.0 1583.2,1069.0 1584.0,1064.0 1584.8,1067.3 1585.5,1073.7 1586.3,1064.4 1587.0,1060.6 1587.8,1057.1 1588.5,1059.3 1589.3,1062.4 1590.0,1061.9 1590.8,1064.2 1591.5,1067.7 1592.3,1066.5 1593.0,1063.1 1593.8,1057.2 1594.5,1062.2 1595.3,1060.4 1596.0,1057.0 1596.8,1057.9 1597.5,1055.6 1598.3,1057.8 1599.0,1058.2 1599.8,1057.0 1600.5,1060.5 1601.3,1052.2 1602.0,1056.5 1602.8,1056.6 1603.6,1063.6 1604.3,1050.8 1605.1,1043.3 1605.8,1043.7 1606.6,1047.6 1607.3,1049.9 1608.1,1049.8 1608.8,1052.4 1609.6,1050.0 1610.3,1051.7 1611.1,1052.2 1611.8,1046.8 1612.6,1045.3 1613.3,1045.8 1614.1,1045.6 1614.8,1049.6 1615.6,1046.5 1616.3,1051.6 1617.1,1041.2 1617.8,1026.8 1618.6,1026.6 1619.3,1030.1 1620.1,1033.5" fill="none" stroke="#595959" stroke-width="1.0"/>
<polygon points="1621.6,1072.9 1622.4,1065.6 1623.1,1052.7 1623.9,1065.8 1624.6,1081.4 1625.4,1068.8 1626.1,1072.6 1626.9,1061.5 1627.6,1061.9 1628.4,1068.2 1629.1,1078.2 1629.9,1068.6 1630.6,1060.3 1631.4,1073.4 1632.1,1074.1 1632.9,1068.8 1633.6,1064.0 1634.4,1063.6 1635.1,1061.8 1635.9,1062.8 1636.6,1063.7 1637.4,1059.2 1638.1,1057.8 1638.9,1064.7 1639.6,1059.3 1640.4,1060.7 1641.2,1060.0 1641.9,1062.0 1642.7,1065.6 1643.4,1065.5 1644.2,1060.1 1644.9,1060.4 1645.7,1058.9 1646.4,1062.5 1647.2,1063.7 1647.9,1052.5 1648.7,1052.8 1649.4,1048.7 1650.2,1045.1 1650.9,1046.3 1651.7,1047.5 1652.4,1057.9 1653.2,1068.1 1653.9,1061.7 1654.7,1060.3 1655.4,1056.5 1656.2,1046.5 1656.9,1058.0 1657.7,1042.9 1658.4,1045.0 1659.2,1038.4 1660.0,1041.4 1660.7,1035.9 1661.5,1053.5 1662.2,1054.4 1663.0,1047.2 1663.7,1054.3 1664.5,1033.8 1665.2,1041.2 1666.0,1053.0 1666.7,1036.4 1667.5,1054.2 1668.2,1033.7 1669.0,1053.9 1669.7,1052.9 1670.5,1045.0 1671.2,1043.2 1672.0,1051.2 1672.7,1043.1 1673.5,1045.5 1674.2,1045.8 1675.0,1057.0 1675.7,1053.9 1676.5,1047.5 1677.2,1033.8 1678.0,1034.0 1678.8,1043.9 1679.5,1049.2 1680.3,1033.1 1681.0,1042.2 1681.8,1038.3 1682.5,1049.2 1683.3,1030.9 1684.0,1042.9 1684.8,1053.4 1685.5,1039.0 1686.3,1036.9 1687.0,1036.1 1687.8,1035.0 1688.5,1027.9 1689.3,1032.9 1690.0,1029.8 1690.8,1031.2 1691.5,1031.1 1692.3,1037.8 1693.0,1025.5 1693.8,1036.8 1694.5,1044.6 1695.3,1041.1 1696.0,1039.6 1696.8,1036.0 1697.6,1022.9 1698.3,1031.9 1699.1,1039.0 1699.8,1036.5 1700.6,1034.6 1701.3,1044.2 1702.1,1044.7 1702.8,1037.4 1703.6,1033.0 1704.3,1040.9 1705.1,1035.2 1705.8,1034.2 1706.6,1023.5 1707.3,1037.3 1708.1,1036.2 1708.8,1027.7 1709.6,1021.6 1710.3,1023.6 1711.1,1038.3 1711.8,1039.2 1712.6,1036.0 1713.3,1024.2 1714.1,1029.4 1714.8,1030.2 1715.6,1022.6 1716.4,1028.4 1717.1,1022.0 1717.9,1027.8 1718.6,1026.6 1719.4,1036.4 1720.1,1030.2 1720.9,1023.1 1721.6,1032.2 1722.4,1035.3 1723.1,1022.1 1723.9,1027.7 1724.6,1024.9 1725.4,1027.8 1726.1,1021.4 1726.9,1033.1 1727.6,1032.8 1728.4,1029.7 1729.1,1025.1 1729.9,1030.9 1730.6,1017.9 1731.4,1026.2 1732.1,1019.3 1732.9,1025.5 1733.6,1023.1 1734.4,1025.8 1735.2,1028.0 1735.9,1021.7 1736.7,1023.2 1737.4,1017.6 1738.2,1019.1 1738.9,1027.7 1739.7,1016.1 1740.4,1006.0 1741.2,1013.8 1741.9,1020.6 1742.7,1023.4 1743.4,1018.0 1744.2,1027.2 1744.9,1014.8 1745.7,1019.8 1746.4,1021.5 1747.2,1016.1 1747.9,1021.1 1748.7,1024.9 1749.4,1020.1 1750.2,1009.7 1750.9,1017.3 1751.7,1007.7 1752.4,1025.1 1753.2,1018.5 1754.0,1014.4 1754.7,1007.4 1755.5,1027.1 1756.2,1022.6 1757.0,1030.0 1757.7,1021.5 1758.5,1020.3 1759.2,1013.3 1760.0,1019.2 1760.7,1019.9 1761.5,1012.9 1762.2,1000.8 1763.0,1000.7 1763.7,1003.0 1764.5,1014.1 1765.2,1008.2 1766.0,1024.3 1766.0,1046.2 1765.2,1055.7 1764.5,1057.8 1763.7,1047.8 1763.0,1036.1 1762.2,1047.4 1761.5,1058.3 1760.7,1057.4 1760.0,1053.9 1759.2,1053.6 1758.5,1057.7 1757.7,1070.4 1757.0,1071.8 1756.2,1070.2 1755.5,1059.4 1754.7,1062.8 1754.0,1054.7 1753.2,1064.5 1752.4,1051.0 1751.7,1058.1 1750.9,1052.3 1750.2,1059.6 1749.4,1052.9 1748.7,1056.7 1747.9,1053.9 1747.2,1054.1 1746.4,1060.4 1745.7,1058.2 1744.9,1065.4 1744.2,1061.9 1743.4,1063.0 1742.7,1064.1 1741.9,1061.8 1741.2,1063.9 1740.4,1048.4 1739.7,1062.4 1738.9,1069.4 1738.2,1058.3 1737.4,1067.7 1736.7,1072.1 1735.9,1066.0 1735.2,1055.0 1734.4,1060.5 1733.6,1073.2 1732.9,1064.6 1732.1,1065.0 1731.4,1065.7 1730.6,1063.7 1729.9,1066.5 1729.1,1065.6 1728.4,1068.7 1727.6,1078.3 1726.9,1068.3 1726.1,1061.2 1725.4,1067.8 1724.6,1078.0 1723.9,1066.8 1723.1,1078.8 1722.4,1075.8 1721.6,1071.9 1720.9,1073.8 1720.1,1072.1 1719.4,1073.9 1718.6,1069.9 1717.9,1067.3 1717.1,1071.2 1716.4,1070.5 1715.6,1070.5 1714.8,1064.3 1714.1,1066.7 1713.3,1076.1 1712.6,1079.8 1711.8,1083.6 1711.1,1078.3 1710.3,1068.2 1709.6,1069.0 1708.8,1068.5 1708.1,1078.1 1707.3,1078.5 1706.6,1069.3 1705.8,1074.8 1705.1,1078.3 1704.3,1089.0 1703.6,1084.1 1702.8,1079.2 1702.1,1070.7 1701.3,1089.5 1700.6,1089.1 1699.8,1084.8 1699.1,1062.2 1698.3,1063.9 1697.6,1062.7 1696.8,1074.0 1696.0,1081.7 1695.3,1096.9 1694.5,1084.5 1693.8,1068.5 1693.0,1079.6 1692.3,1076.7 1691.5,1068.1 1690.8,1069.2 1690.0,1073.3 1689.3,1074.7 1688.5,1062.5 1687.8,1070.0 1687.0,1088.0 1686.3,1080.6 1685.5,1081.6 1684.8,1084.3 1684.0,1086.6 1683.3,1086.8 1682.5,1084.2 1681.8,1086.0 1681.0,1076.6 1680.3,1092.3 1679.5,1094.5 1678.8,1090.6 1678.0,1085.9 1677.2,1078.2 1676.5,1085.8 1675.7,1092.8 1675.0,1094.5 1674.2,1088.7 1673.5,1085.8 1672.7,1090.2 1672.0,1091.8 1671.2,1092.4 1670.5,1085.2 1669.7,1081.3 1669.0,1092.8 1668.2,1086.5 1667.5,1092.9 1666.7,1097.5 1666.0,1085.9 1665.2,1086.3 1664.5,1090.1 1663.7,1093.8 1663.0,1090.9 1662.2,1090.3 1661.5,1088.0 1660.7,1087.4 1660.0,1095.6 1659.2,1099.4 1658.4,1089.8 1657.7,1092.8 1656.9,1094.5 1656.2,1096.6 1655.4,1095.7 1654.7,1092.9 1653.9,1104.5 1653.2,1110.9 1652.4,1096.5 1651.7,1094.2 1650.9,1100.0 1650.2,1096.3 1649.4,1092.9 1648.7,1100.8 1647.9,1090.5 1647.2,1098.8 1646.4,1111.7 1645.7,1099.7 1644.9,1101.7 1644.2,1105.2 1643.4,1103.3 1642.7,1097.2 1641.9,1108.4 1641.2,1105.1 1640.4,1104.2 1639.6,1108.1 1638.9,1104.1 1638.1,1101.6 1637.4,1100.3 1636.6,1096.0 1635.9,1105.5 1635.1,1110.0 1634.4,1106.2 1633.6,1106.1 1632.9,1116.0 1632.1,1116.3 1631.4,1114.4 1630.6,1105.7 1629.9,1108.6 1629.1,1118.4 1628.4,1110.6 1627.6,1116.0 1626.9,1111.2 1626.1,1106.2 1625.4,1107.3 1624.6,1111.3 1623.9,1103.5 1623.1,1104.3 1622.4,1115.4 1621.6,1124.5" fill="#d9d9d9"/>
<polyline points="1621.6,1072.9 1622.4,1065.6 1623.1,1052.7 1623.9,1065.8 1624.6,1081.4 1625.4,1068.8 1626.1,1072.6 1626.9,1061.5 1627.6,1061.9 1628.4,1068.2 1629.1,1078.2 1629.9,1068.6 1630.6,1060.3 1631.4,1073.4 1632.1,1074.1 1632.9,1068.8 1633.6,1064.0 1634.4,1063.6 1635.1,1061.8 1635.9,1062.8 1636.6,1063.7 1637.4,1059.2 1638.1,1057.8 1638.9,1064.7 1639.6,1059.3 1640.4,1060.7 1641.2,1060.0 1641.9,1062.0 1642.7,1065.6 1643.4,1065.5 1644.2,1060.1 1644.9,1060.4 1645.7,1058.9 1646.4,1062.5 1647.2,1063.7 1647.9,1052.5 1648.7,1052.8 1649.4,1048.7 1650.2,1045.1 1650.9,1046.3 1651.7,1047.5 1652.4,1057.9 1653.2,1068.1 1653.9,1061.7 1654.7,1060.3 1655.4,1056.5 1656.2,1046.5 1656.9,1058.0 1657.7,1042.9 1658.4,1045.0 1659.2,1038.4 1660.0,1041.4 1660.7,1035.9 1661.5,1053.5 1662.2,1054.4 1663.0,1047.2 1663.7,1054.3 1664.5,1033.8 1665.2,1041.2 1666.0,1053.0 1666.7,1036.4 1667.5,1054.2 1668.2,1033.7 1669.0,1053.9 1669.7,1052.9 1670.5,1045.0 1671.2,1043.2 1672.0,1051.2 1672.7,1043.1 1673.5,1045.5 1674.2,1045.8 1675.0,1057.0 1675.7,1053.9 1676.5,1047.5 1677.2,1033.8 1678.0,1034.0 1678.8,1043.9 1679.5,1049.2 1680.3,1033.1 1681.0,1042.2 1681.8,1038.3 1682.5,1049.2 1683.3,1030.9 1684.0,1042.9 1684.8,1053.4 1685.5,1039.0 1686.3,1036.9 1687.0,1036.1 1687.8,1035.0 1688.5,1027.9 1689.3,1032.9 1690.0,1029.8 1690.8,1031.2 1691.5,1031.1 1692.3,1037.8 1693.0,1025.5 1693.8,1036.8 1694.5,1044.6 1695.3,1041.1 1696.0,1039.6 1696.8,1036.0 1697.6,1022.9 1698.3,1031.9 1699.1,1039.0 1699.8,1036.5 1700.6,1034.6 1701.3,1044.2 1702.1,1044.7 1702.8,1037.4 1703.6,1033.0 1704.3,1040.9 1705.1,1035.2 1705.8,1034.2 1706.6,1023.5 1707.3,1037.3 1708.1,1036.2 1708.8,1027.7 1709.6,1021.6 1710.3,1023.6 1711.1,1038.3 1711.8,1039.2 1712.6,1036.0 1713.3,1024.2 1714.1,1029.4 1714.8,1030.2 1715.6,1022.6 1716.4,1028.4 1717.1,1022.0 1717.9,1027.8 1718.6,1026.6 1719.4,1036.4 1720.1,1030.2 1720.9,1023.1 1721.6,1032.2 1722.4,1035.3 1723.1,1022.1 1723.9,1027.7 1724.6,1024.9 1725.4,1027.8 1726.1,1021.4 1726.9,1033.1 1727.6,1032.8 1728.4,1029.7 1729.1,1025.1 1729.9,1030.9 1730.6,1017.9 1731.4,1026.2 1732.1,1019.3 1732.9,1025.5 1733.6,1023.1 1734.4,1025.8 1735.2,1028.0 1735.9,1021.7 1736.7,1023.2 1737.4,1017.6 1738.2,1019.1 1738.9,1027.7 1739.7,1016.1 1740.4,1006.0 1741.2,1013.8 1741.9,1020.6 1742.7,1023.4 1743.4,1018.0 1744.2,1027.2 1744.9,1014.8 1745.7,1019.8 1746.4,1021.5 1747.2,1016.1 1747.9,1021.1 1748.7,1024.9 1749.4,1020.1 1750.2,1009.7 1750.9,1017.3 1751.7,1007.7 1752.4,1025.1 1753.2,1018.5 1754.0,1014.4 1754.7,1007.4 1755.5,1027.1 1756.2,1022.6 1757.0,1030.0 1757.7,1021.5 1758.5,1020.3 1759.2,1013.3 1760.0,1019.2 1760.7,1019.9 1761.5,1012.9 1762.2,1000.8 1763.0,1000.7 1763.7,1003.0 1764.5,1014.1 1765.2,1008.2 1766.0,1024.3" fill="none" stroke="#b5b5b5" stroke-width="0.7"/>
<polyline points="1621.6,1124.5 1622.4,1115.4 1623.1,1104.3 1623.9,1103.5 1624.6,1111.3 1625.4,1107.3 1626.1,1106.2 1626.9,1111.2 1627.6,1116.0 1628.4,1110.6 1629.1,1118.4 1629.9,1108.6 1630.6,1105.7 1631.4,1114.4 1632.1,1116.3 1632.9,1116.0 1633.6,1106.1 1634.4,1106.2 1635.1,1110.0 1635.9,1105.5 1636.6,1096.0 1637.4,1100.3 1638.1,1101.6 1638.9,1104.1 1639.6,1108.1 1640.4,1104.2 1641.2,1105.1 1641.9,1108.4 1642.7,1097.2 1643.4,1103.3 1644.2,1105.2 1644.9,1101.7 1645.7,1099.7 1646.4,1111.7 1647.2,1098.8 1647.9,1090.5 1648.7,1100.8 1649.4,1092.9 1650.2,1096.3 1650.9,1100.0 1651.7,1094.2 1652.4,1096.5 1653.2,1110.9 1653.9,1104.5 1654.7,1092.9 1655.4,1095.7 1656.2,1096.6 1656.9,1094.5 1657.7,1092.8 1658.4,1089.8 1659.2,1099.4 1660.0,1095.6 1660.7,1087.4 1661.5,1088.0 1662.2,1090.3 1663.0,1090.9 1663.7,1093.8 1664.5,1090.1 1665.2,1086.3 1666.0,1085.9 1666.7,1097.5 1667.5,1092.9 1668.2,1086.5 1669.0,1092.8 1669.7,1081.3 1670.5,1085.2 1671.2,1092.4 1672.0,1091.8 1672.7,1090.2 1673.5,1085.8 1674.2,1088.7 1675.0,1094.5 1675.7,1092.8 1676.5,1085.8 1677.2,1078.2 1678.0,1085.9 1678.8,1090.6 1679.5,1094.5 1680.3,1092.3 1681.0,1076.6 1681.8,1086.0 1682.5,1084.2 1683.3,1086.8 1684.0,1086.6 1684.8,1084.3 1685.5,1081.6 1686.3,1080.6 1687.0,1088.0 1687.8,1070.0 1688.5,1062.5 1689.3,1074.7 1690.0,1073.3 1690.8,1069.2 1691.5,1068.1 1692.3,1076.7 1693.0,1079.6 1693.8,1068.5 1694.5,1084.5 1695.3,1096.9 1696.0,1081.7 1696.8,1074.0 1697.6,1062.7 1698.3,1063.9 1699.1,1062.2 1699.8,1084.8 1700.6,1089.1 1701.3,1089.5 1702.1,1070.7 1702.8,1079.2 1703.6,1084.1 1704.3,1089.0 1705.1,1078.3 1705.8,1074.8 1706.6,1069.3 1707.3,1078.5 1708.1,1078.1 1708.8,1068.5 1709.6,1069.0 1710.3,1068.2 1711.1,1078.3 1711.8,1083.6 1712.6,1079.8 1713.3,1076.1 1714.1,1066.7 1714.8,1064.3 1715.6,1070.5 1716.4,1070.5 1717.1,1071.2 1717.9,1067.3 1718.6,1069.9 1719.4,1073.9 1720.1,1072.1 1720.9,1073.8 1721.6,1071.9 1722.4,1075.8 1723.1,1078.8 1723.9,1066.8 1724.6,1078.0 1725.4,1067.8 1726.1,1061.2 1726.9,1068.3 1727.6,1078.3 1728.4,1068.7 1729.1,1065.6 1729.9,1066.5 1730.6,1063.7 1731.4,1065.7 1732.1,1065.0 1732.9,1064.6 1733.6,1073.2 1734.4,1060.5 1735.2,1055.0 1735.9,1066.0 1736.7,1072.1 1737.4,1067.7 1738.2,1058.3 1738.9,1069.4 1739.7,1062.4 1740.4,1048.4 1741.2,1063.9 1741.9,1061.8 1742.7,1064.1 1743.4,1063.0 1744.2,1061.9 1744.9,1065.4 1745.7,1058.2 1746.4,1060.4 1747.2,1054.1 1747.9,1053.9 1748.7,1056.7 1749.4,1052.9 1750.2,1059.6 1750.9,1052.3 1751.7,1058.1 1752.4,1051.0 1753.2,1064.5 1754.0,1054.7 1754.7,1062.8 1755.5,1059.4 1756.2,1070.2 1757.0,1071.8 1757.7,1070.4 1758.5,1057.7 1759.2,1053.6 1760.0,1053.9 1760.7,1057.4 1761.5,1058.3 1762.2,1047.4 1763.0,1036.1 1763.7,1047.8 1764.5,1057.8 1765.2,1055.7 1766.0,1046.2" fill="none" stroke="#b5b5b5" stroke-width="0.7"/>
<polyline points="1621.6,1092.7 1622.4,1090.3 1623.1,1087.0 1623.9,1088.3 1624.6,1094.5 1625.4,1091.6 1626.1,1082.8 1626.9,1084.1 1627.6,1088.5 1628.4,1090.8 1629.1,1089.8 1629.9,1088.8 1630.6,1087.4 1631.4,1088.0 1632.1,1092.3 1632.9,1088.4 1633.6,1080.4 1634.4,1085.1 1635.1,1084.0 1635.9,1086.9 1636.6,1082.9 1637.4,1079.7 1638.1,1079.4 1638.9,1080.6 1639.6,1084.1 1640.4,1081.4 1641.2,1084.7 1641.9,1084.0 1642.7,1081.8 1643.4,1080.5 1644.2,1082.7 1644.9,1085.6 1645.7,1077.7 1646.4,1082.8 1647.2,1077.5 1647.9,1073.7 1648.7,1074.5 1649.4,1076.1 1650.2,1070.5 1650.9,1075.2 1651.7,1073.8 1652.4,1073.1 1653.2,1079.5 1653.9,1083.5 1654.7,1076.7 1655.4,1069.7 1656.2,1072.8 1656.9,1068.8 1657.7,1072.2 1658.4,1074.0 1659.2,1077.2 1660.0,1070.0 1660.7,1064.4 1661.5,1070.0 1662.2,1072.7 1663.0,1074.9 1663.7,1066.1 1664.5,1061.2 1665.2,1063.2 1666.0,1060.6 1666.7,1070.1 1667.5,1069.2 1668.2,1066.3 1669.0,1065.4 1669.7,1065.3 1670.5,1065.5 1671.2,1066.1 1672.0,1061.8 1672.7,1064.3 1673.5,1070.5 1674.2,1071.9 1675.0,1071.8 1675.7,1077.0 1676.5,1067.3 1677.2,1058.0 1678.0,1055.0 1678.8,1065.4 1679.5,1068.4 1680.3,1059.2 1681.0,1058.5 1681.8,1061.5 1682.5,1061.0 1683.3,1061.0 1684.0,1063.7 1684.8,1065.6 1685.5,1058.2 1686.3,1059.9 1687.0,1060.0 1687.8,1060.4 1688.5,1054.1 1689.3,1047.5 1690.0,1051.2 1690.8,1052.3 1691.5,1052.8 1692.3,1047.7 1693.0,1055.0 1693.8,1062.0 1694.5,1059.8 1695.3,1060.4 1696.0,1061.2 1696.8,1057.4 1697.6,1049.1 1698.3,1052.5 1699.1,1054.2 1699.8,1060.5 1700.6,1061.4 1701.3,1062.3 1702.1,1054.8 1702.8,1054.9 1703.6,1055.0 1704.3,1056.8 1705.1,1059.9 1705.8,1052.5 1706.6,1047.5 1707.3,1051.2 1708.1,1050.9 1708.8,1047.8 1709.6,1047.1 1710.3,1049.5 1711.1,1051.8 1711.8,1060.9 1712.6,1063.7 1713.3,1053.0 1714.1,1047.1 1714.8,1045.3 1715.6,1046.4 1716.4,1050.8 1717.1,1049.3 1717.9,1049.7 1718.6,1048.3 1719.4,1055.3 1720.1,1055.3 1720.9,1051.8 1721.6,1048.5 1722.4,1054.7 1723.1,1045.6 1723.9,1047.6 1724.6,1044.0 1725.4,1046.5 1726.1,1046.7 1726.9,1049.8 1727.6,1046.9 1728.4,1051.4 1729.1,1044.9 1729.9,1042.6 1730.6,1041.1 1731.4,1043.3 1732.1,1042.3 1732.9,1044.0 1733.6,1042.7 1734.4,1045.5 1735.2,1046.0 1735.9,1041.2 1736.7,1047.0 1737.4,1043.8 1738.2,1043.9 1738.9,1049.1 1739.7,1043.8 1740.4,1039.0 1741.2,1034.9 1741.9,1045.4 1742.7,1041.1 1743.4,1038.4 1744.2,1042.5 1744.9,1045.2 1745.7,1037.8 1746.4,1039.6 1747.2,1040.7 1747.9,1038.4 1748.7,1038.9 1749.4,1038.8 1750.2,1037.7 1750.9,1035.8 1751.7,1032.8 1752.4,1034.7 1753.2,1040.9 1754.0,1034.9 1754.7,1037.9 1755.5,1038.1 1756.2,1042.7 1757.0,1045.6 1757.7,1044.0 1758.5,1044.1 1759.2,1037.4 1760.0,1034.8 1760.7,1040.8 1761.5,1036.1 1762.2,1033.5 1763.0,1024.6 1763.7,1021.6 1764.5,1032.6 1765.2,1039.7 1766.0,1037.2" fill="none" stroke="#595959" stroke-width="1.0"/>
<polygon points="1766.7,1062.9 1767.5,1073.6 1768.2,1070.3 1769.0,1065.1 1769.7,1069.9 1770.5,1063.5 1771.2,1071.4 1772.0,1066.6 1772.8,1062.5 1773.5,1054.7 1774.3,1063.9 1775.0,1055.7 1775.8,1056.8 1776.5,1066.8 1777.3,1063.1 1778.0,1062.3 1778.8,1048.4 1779.5,1051.1 1780.3,1061.0 1781.0,1053.4 1781.8,1051.8 1782.5,1053.3 1783.3,1053.7 1784.0,1035.5 1784.8,1046.8 1785.5,1039.6 1786.3,1042.4 1787.0,1045.0 1787.8,1053.6 1788.5,1055.4 1789.3,1048.5 1790.0,1045.8 1790.8,1048.7 1791.6,1048.7 1792.3,1041.1 1793.1,1041.6 1793.8,1050.2 1794.6,1050.5 1795.3,1044.9 1796.1,1040.2 1796.8,1036.4 1797.6,1038.6 1798.3,1048.0 1799.1,1053.0 1799.8,1058.3 1800.6,1040.7 1801.3,1040.9 1802.1,1037.4 1802.8,1045.3 1803.6,1038.7 1804.3,1043.0 1805.1,1047.6 1805.8,1055.4 1806.6,1048.9 1807.3,1041.7 1808.1,1036.5 1808.8,1038.8 1809.6,1042.3 1810.4,1030.0 1811.1,1031.2 1811.9,1033.8 1812.6,1038.1 1813.4,1028.8 1814.1,1038.8 1814.9,1045.6 1815.6,1036.3 1816.4,1036.0 1817.1,1030.3 1817.9,1035.5 1818.6,1026.6 1819.4,1036.4 1820.1,1034.4 1820.9,1030.6 1821.6,1032.1 1822.4,1033.6 1823.1,1037.4 1823.9,1032.7 1824.6,1036.3 1825.4,1039.0 1826.1,1027.8 1826.9,1034.3 1827.6,1027.6 1828.4,1026.8 1829.2,1034.1 1829.9,1021.6 1830.7,1034.6 1831.4,1036.7 1832.2,1031.5 1832.9,1037.0 1833.7,1023.8 1834.4,1019.1 1835.2,1023.2 1835.9,1027.8 1836.7,1033.8 1837.4,1030.7 1838.2,1027.8 1838.9,1029.8 1839.7,1022.9 1840.4,1029.7 1841.2,1032.7 1841.9,1036.9 1842.7,1026.0 1843.4,1030.5 1844.2,1030.4 1844.9,1026.8 1845.7,1029.4 1846.4,1026.4 1847.2,1041.0 1848.0,1036.6 1848.7,1039.9 1849.5,1019.5 1850.2,1026.8 1851.0,1022.2 1851.7,1023.5 1852.5,1030.1 1853.2,1035.4 1854.0,1040.6 1854.7,1033.0 1855.5,1040.4 1856.2,1022.1 1857.0,1039.2 1857.7,1036.9 1858.5,1026.4 1859.2,1022.3 1860.0,1013.8 1860.7,1020.7 1861.5,1027.6 1862.2,1027.5 1863.0,1018.1 1863.7,1023.2 1864.5,1035.0 1865.2,1023.2 1866.0,1030.6 1866.8,1030.6 1867.5,1028.2 1868.3,1029.6 1869.0,1022.3 1869.8,1013.9 1870.5,1028.4 1871.3,1020.5 1872.0,1024.2 1872.8,1020.0 1873.5,1020.4 1873.5,1060.7 1872.8,1069.8 1872.0,1058.4 1871.3,1055.9 1870.5,1057.9 1869.8,1069.6 1869.0,1073.7 1868.3,1066.4 1867.5,1077.3 1866.8,1076.3 1866.0,1064.5 1865.2,1054.6 1864.5,1066.7 1863.7,1071.3 1863.0,1060.6 1862.2,1068.6 1861.5,1068.4 1860.7,1058.1 1860.0,1063.9 1859.2,1069.4 1858.5,1075.5 1857.7,1084.5 1857.0,1067.1 1856.2,1067.3 1855.5,1073.0 1854.7,1076.8 1854.0,1063.6 1853.2,1074.4 1852.5,1069.4 1851.7,1066.2 1851.0,1066.8 1850.2,1075.0 1849.5,1065.6 1848.7,1075.1 1848.0,1082.1 1847.2,1064.7 1846.4,1063.0 1845.7,1066.2 1844.9,1061.2 1844.2,1075.4 1843.4,1073.9 1842.7,1068.1 1841.9,1077.4 1841.2,1072.8 1840.4,1064.5 1839.7,1063.4 1838.9,1075.1 1838.2,1065.1 1837.4,1064.9 1836.7,1075.8 1835.9,1088.5 1835.2,1075.4 1834.4,1063.8 1833.7,1071.0 1832.9,1065.5 1832.2,1073.8 1831.4,1077.7 1830.7,1072.5 1829.9,1081.2 1829.2,1079.6 1828.4,1072.3 1827.6,1082.5 1826.9,1065.2 1826.1,1066.8 1825.4,1066.0 1824.6,1080.7 1823.9,1071.3 1823.1,1074.5 1822.4,1062.8 1821.6,1077.2 1820.9,1071.7 1820.1,1075.3 1819.4,1077.9 1818.6,1073.3 1817.9,1072.5 1817.1,1077.0 1816.4,1074.3 1815.6,1077.4 1814.9,1076.6 1814.1,1082.7 1813.4,1073.2 1812.6,1074.5 1811.9,1083.2 1811.1,1074.4 1810.4,1083.4 1809.6,1088.5 1808.8,1083.1 1808.1,1088.5 1807.3,1095.3 1806.6,1094.5 1805.8,1084.6 1805.1,1084.3 1804.3,1082.9 1803.6,1075.7 1802.8,1083.7 1802.1,1078.5 1801.3,1081.7 1800.6,1088.1 1799.8,1092.5 1799.1,1087.9 1798.3,1085.2 1797.6,1084.7 1796.8,1087.4 1796.1,1087.2 1795.3,1092.7 1794.6,1086.2 1793.8,1082.0 1793.1,1084.7 1792.3,1081.8 1791.6,1085.9 1790.8,1088.7 1790.0,1072.5 1789.3,1091.8 1788.5,1083.0 1787.8,1097.4 1787.0,1087.9 1786.3,1087.3 1785.5,1084.5 1784.8,1084.2 1784.0,1086.8 1783.3,1102.0 1782.5,1099.0 1781.8,1095.7 1781.0,1090.9 1780.3,1105.4 1779.5,1089.4 1778.8,1104.8 1778.0,1098.0 1777.3,1105.4 1776.5,1098.2 1775.8,1099.3 1775.0,1095.3 1774.3,1096.2 1773.5,1099.7 1772.8,1107.5 1772.0,1101.5 1771.2,1107.6 1770.5,1113.3 1769.7,1102.4 1769.0,1112.0 1768.2,1104.5 1767.5,1110.2 1766.7,1108.9" fill="#d9d9d9"/>
<polyline points="1766.7,1062.9 1767.5,1073.6 1768.2,1070.3 1769.0,1065.1 1769.7,1069.9 1770.5,1063.5 1771.2,1071.4 1772.0,1066.6 1772.8,1062.5 1773.5,1054.7 1774.3,1063.9 1775.0,1055.7 1775.8,1056.8 1776.5,1066.8 1777.3,1063.1 1778.0,1062.3 1778.8,1048.4 1779.5,1051.1 1780.3,1061.0 1781.0,1053.4 1781.8,1051.8 1782.5,1053.3 1783.3,1053.7 1784.0,1035.5 1784.8,1046.8 1785.5,1039.6 1786.3,1042.4 1787.0,1045.0 1787.8,1053.6 1788.5,1055.4 1789.3,1048.5 1790.0,1045.8 1790.8,1048.7 1791.6,1048.7 1792.3,1041.1 1793.1,1041.6 1793.8,1050.2 1794.6,1050.5 1795.3,1044.9 1796.1,1040.2 1796.8,1036.4 1797.6,1038.6 1798.3,1048.0 1799.1,1053.0 1799.8,1058.3 1800.6,1040.7 1801.3,1040.9 1802.1,1037.4 1802.8,1045.3 1803.6,1038.7 1804.3,1043.0 1805.1,1047.6 1805.8,1055.4 1806.6,1048.9 1807.3,1041.7 1808.1,1036.5 1808.8,1038.8 1809.6,1042.3 1810.4,1030.0 1811.1,1031.2 1811.9,1033.8 1812.6,1038.1 1813.4,1028.8 1814.1,1038.8 1814.9,1045.6 1815.6,1036.3 1816.4,1036.0 1817.1,1030.3 1817.9,1035.5 1818.6,1026.6 1819.4,1036.4 1820.1,1034.4 1820.9,1030.6 1821.6,1032.1 1822.4,1033.6 1823.1,1037.4 1823.9,1032.7 1824.6,1036.3 1825.4,1039.0 1826.1,1027.8 1826.9,1034.3 1827.6,1027.6 1828.4,1026.8 1829.2,1034.1 1829.9,1021.6 1830.7,1034.6 1831.4,1036.7 1832.2,1031.5 1832.9,1037.0 1833.7,1023.8 1834.4,1019.1 1835.2,1023.2 1835.9,1027.8 1836.7,1033.8 1837.4,1030.7 1838.2,1027.8 1838.9,1029.8 1839.7,1022.9 1840.4,1029.7 1841.2,1032.7 1841.9,1036.9 1842.7,1026.0 1843.4,1030.5 1844.2,1030.4 1844.9,1026.8 1845.7,1029.4 1846.4,1026.4 1847.2,1041.0 1848.0,1036.6 1848.7,1039.9 1849.5,1019.5 1850.2,1026.8 1851.0,1022.2 1851.7,1023.5 1852.5,1030.1 1853.2,1035.4 1854.0,1040.6 1854.7,1033.0 1855.5,1040.4 1856.2,1022.1 1857.0,1039.2 1857.7,1036.9 1858.5,1026.4 1859.2,1022.3 1860.0,1013.8 1860.7,1020.7 1861.5,1027.6 1862.2,1027.5 1863.0,1018.1 1863.7,1023.2 1864.5,1035.0 1865.2,1023.2 1866.0,1030.6 1866.8,1030.6 1867.5,1028.2 1868.3,1029.6 1869.0,1022.3 1869.8,1013.9 1870.5,1028.4 1871.3,1020.5 1872.0,1024.2 1872.8,1020.0 1873.5,1020.4" fill="none" stroke="#b5b5b5" stroke-width="0.7"/>
<polyline points="1766.7,1108.9 1767.5,1110.2 1768.2,1104.5 1769.0,1112.0 1769.7,1102.4 1770.5,1113.3 1771.2,1107.6 1772.0,1101.5 1772.8,1107.5 1773.5,1099.7 1774.3,1096.2 1775.0,1095.3 1775.8,1099.3 1776.5,1098.2 1777.3,1105.4 1778.0,1098.0 1778.8,1104.8 1779.5,1089.4 1780.3,1105.4 1781.0,1090.9 1781.8,1095.7 1782.5,1099.0 1783.3,1102.0 1784.0,1086.8 1784.8,1084.2 1785.5,1084.5 1786.3,1087.3 1787.0,1087.9 1787.8,1097.4 1788.5,1083.0 1789.3,1091.8 1790.0,1072.5 1790.8,1088.7 1791.6,1085.9 1792.3,1081.8 1793.1,1084.7 1793.8,1082.0 1794.6,1086.2 1795.3,1092.7 1796.1,1087.2 1796.8,1087.4 1797.6,1084.7 1798.3,1085.2 1799.1,1087.9 1799.8,1092.5 1800.6,1088.1 1801.3,1081.7 1802.1,1078.5 1802.8,1083.7 1803.6,1075.7 1804.3,1082.9 1805.1,1084.3 1805.8,1084.6 1806.6,1094.5 1807.3,1095.3 1808.1,1088.5 1808.8,1083.1 1809.6,1088.5 1810.4,1083.4 1811.1,1074.4 1811.9,1083.2 1812.6,1074.5 1813.4,1073.2 1814.1,1082.7 1814.9,1076.6 1815.6,1077.4 1816.4,1074.3 1817.1,1077.0 1817.9,1072.5 1818.6,1073.3 1819.4,1077.9 1820.1,1075.3 1820.9,1071.7 1821.6,1077.2 1822.4,1062.8 1823.1,1074.5 1823.9,1071.3 1824.6,1080.7 1825.4,1066.0 1826.1,1066.8 1826.9,1065.2 1827.6,1082.5 1828.4,1072.3 1829.2,1079.6 1829.9,1081.2 1830.7,1072.5 1831.4,1077.7 1832.2,1073.8 1832.9,1065.5 1833.7,1071.0 1834.4,1063.8 1835.2,1075.4 1835.9,1088.5 1836.7,1075.8 1837.4,1064.9 1838.2,1065.1 1838.9,1075.1 1839.7,1063.4 1840.4,1064.5 1841.2,1072.8 1841.9,1077.4 1842.7,1068.1 1843.4,1073.9 1844.2,1075.4 1844.9,1061.2 1845.7,1066.2 1846.4,1063.0 1847.2,1064.7 1848.0,1082.1 1848.7,1075.1 1849.5,1065.6 1850.2,1075.0 1851.0,1066.8 1851.7,1066.2 1852.5,1069.4 1853.2,1074.4 1854.0,1063.6 1854.7,1076.8 1855.5,1073.0 1856.2,1067.3 1857.0,1067.1 1857.7,1084.5 1858.5,1075.5 1859.2,1069.4 1860.0,1063.9 1860.7,1058.1 1861.5,1068.4 1862.2,1068.6 1863.0,1060.6 1863.7,1071.3 1864.5,1066.7 1865.2,1054.6 1866.0,1064.5 1866.8,1076.3 1867.5,1077.3 1868.3,1066.4 1869.0,1073.7 1869.8,1069.6 1870.5,1057.9 1871.3,1055.9 1872.0,1058.4 1872.8,1069.8 1873.5,1060.7" fill="none" stroke="#b5b5b5" stroke-width="0.7"/>
<polyline points="1766.7,1099.5 1767.5,1090.4 1768.2,1078.4 1769.0,1078.8 1769.7,1080.1 1770.5,1087.5 1771.2,1091.8 1772.0,1086.3 1772.8,1085.9 1773.5,1082.1 1774.3,1076.7 1775.0,1079.2 1775.8,1083.3 1776.5,1083.9 1777.3,1076.1 1778.0,1078.2 1778.8,1073.5 1779.5,1080.7 1780.3,1079.8 1781.0,1076.4 1781.8,1075.2 1782.5,1078.1 1783.3,1072.8 1784.0,1066.8 1784.8,1062.2 1785.5,1066.4 1786.3,1065.7 1787.0,1066.1 1787.8,1070.0 1788.5,1071.1 1789.3,1066.7 1790.0,1073.6 1790.8,1068.0 1791.6,1057.4 1792.3,1058.3 1793.1,1063.0 1793.8,1064.8 1794.6,1068.2 1795.3,1064.2 1796.1,1058.6 1796.8,1064.1 1797.6,1066.0 1798.3,1068.8 1799.1,1075.6 1799.8,1072.3 1800.6,1066.2 1801.3,1064.4 1802.1,1065.1 1802.8,1065.0 1803.6,1061.9 1804.3,1060.2 1805.1,1065.0 1805.8,1066.6 1806.6,1067.1 1807.3,1068.3 1808.1,1059.6 1808.8,1061.2 1809.6,1060.3 1810.4,1063.1 1811.1,1058.3 1811.9,1061.8 1812.6,1057.8 1813.4,1056.6 1814.1,1056.7 1814.9,1063.4 1815.6,1064.4 1816.4,1056.2 1817.1,1059.5 1817.9,1055.4 1818.6,1048.5 1819.4,1052.3 1820.1,1052.6 1820.9,1057.3 1821.6,1057.8 1822.4,1052.1 1823.1,1048.9 1823.9,1052.0 1824.6,1051.8 1825.4,1051.7 1826.1,1049.1 1826.9,1050.5 1827.6,1055.9 1828.4,1058.2 1829.2,1060.4 1829.9,1058.7 1830.7,1048.3 1831.4,1049.2 1832.2,1052.2 1832.9,1049.6 1833.7,1043.8 1834.4,1045.2 1835.2,1045.7 1835.9,1056.3 1836.7,1052.7 1837.4,1055.1 1838.2,1050.2 1838.9,1051.9 1839.7,1050.0 1840.4,1051.3 1841.2,1053.8 1841.9,1053.4 1842.7,1056.3 1843.4,1052.7 1844.2,1052.0 1844.9,1044.1 1845.7,1040.8 1846.4,1047.8 1847.2,1048.9 1848.0,1059.5 1848.7,1053.8 1849.5,1046.8 1850.2,1046.1 1851.0,1045.1 1851.7,1042.7 1852.5,1042.2 1853.2,1047.3 1854.0,1050.3 1854.7,1049.2 1855.5,1047.4 1856.2,1044.1 1857.0,1057.7 1857.7,1053.4 1858.5,1045.6 1859.2,1044.5 1860.0,1045.2 1860.7,1038.7 1861.5,1047.4 1862.2,1051.7 1863.0,1049.6 1863.7,1046.7 1864.5,1041.2 1865.2,1041.3 1866.0,1049.1 1866.8,1049.0 1867.5,1056.9 1868.3,1048.6 1869.0,1044.5 1869.8,1039.7 1870.5,1038.5 1871.3,1038.9 1872.0,1045.5 1872.8,1044.3 1873.5,1042.0" fill="none" stroke="#595959" stroke-width="1.0"/>
<path d="M1490.8,1072.7 L1557.7,1072.7 L1557.7,935.6 L1565.2,935.6" fill="none" stroke="#ff7f00" stroke-width="4.2" stroke-linejoin="miter"/>
<path d="M1566.0,1095.5 L1586.3,1095.5 L1586.3,1029.8 L1620.1,1029.8" fill="none" stroke="#a6cee3" stroke-width="4.2" stroke-linejoin="miter"/>
<path d="M1621.6,1072.7 L1728.0,1072.7 L1728.0,977.0 L1766.0,977.0" fill="none" stroke="#cab2d6" stroke-width="4.2" stroke-linejoin="miter"/>
<path d="M1766.7,1089.8 L1826.1,1089.8 L1826.1,1022.7 L1873.5,1022.7" fill="none" stroke="#e31a1c" stroke-width="4.2" stroke-linejoin="miter"/>
<line x1="1490.8" y1="912.4" x2="1565.2" y2="912.4" stroke="#ff7f00" stroke-width="1.8" opacity="0.65"/>
<line x1="1566.0" y1="912.4" x2="1620.1" y2="912.4" stroke="#a6cee3" stroke-width="1.8" opacity="0.65"/>
<line x1="1621.6" y1="912.4" x2="1766.0" y2="912.4" stroke="#cab2d6" stroke-width="1.8" opacity="0.65"/>
<line x1="1766.7" y1="912.4" x2="1873.5" y2="912.4" stroke="#e31a1c" stroke-width="1.8" opacity="0.65"/>
<line x1="1491.0" y1="927.2" x2="1544.2" y2="927.2" stroke="#fb9a99" stroke-width="2.6"/>
<line x1="1554.8" y1="927.2" x2="1565.8" y2="927.2" stroke="#ff7f00" stroke-width="2.6"/>
<line x1="1636.6" y1="927.2" x2="1642.2" y2="927.2" stroke="#a6cee3" stroke-width="2.6"/>
<line x1="1642.2" y1="927.2" x2="1649.2" y2="927.2" stroke="#cab2d6" stroke-width="2.6"/>
<line x1="1653.4" y1="927.2" x2="1663.2" y2="927.2" stroke="#ff7f00" stroke-width="2.6"/>
<line x1="1667.4" y1="927.2" x2="1674.4" y2="927.2" stroke="#b2df8a" stroke-width="2.6"/>
<line x1="1692.6" y1="927.2" x2="1699.6" y2="927.2" stroke="#e31a1c" stroke-width="2.6"/>
<line x1="1701.0" y1="927.2" x2="1727.6" y2="927.2" stroke="#b2df8a" stroke-width="2.6"/>
<line x1="1727.6" y1="927.2" x2="1765.4" y2="927.2" stroke="#cab2d6" stroke-width="2.6"/>
<line x1="1786.4" y1="927.2" x2="1792.0" y2="927.2" stroke="#cab2d6" stroke-width="2.6"/>
<line x1="1794.0" y1="927.2" x2="1799.0" y2="927.2" stroke="#b2df8a" stroke-width="2.6"/>
<line x1="1799.0" y1="927.2" x2="1821.4" y2="927.2" stroke="#cab2d6" stroke-width="2.6"/>
<line x1="1827.0" y1="927.2" x2="1845.2" y2="927.2" stroke="#e31a1c" stroke-width="2.6"/>
<line x1="1846.6" y1="927.2" x2="1856.4" y2="927.2" stroke="#e31a1c" stroke-width="2.6"/>
<line x1="1857.8" y1="927.2" x2="1864.8" y2="927.2" stroke="#cab2d6" stroke-width="2.6"/>
<line x1="1864.8" y1="927.2" x2="1871.8" y2="927.2" stroke="#e31a1c" stroke-width="2.6"/>
<text x="1695.4" y="907.6" font-size="22" text-anchor="middle" font-weight="bold" textLength="65.5" lengthAdjust="spacingAndGlyphs">4D-RL</text>
<text x="1875.2" y="914.0" font-size="23.5" textLength="47.5" lengthAdjust="spacingAndGlyphs">Rule</text>
<text x="1876.2" y="939.8" font-size="23.5" font-style="italic" textLength="51" lengthAdjust="spacingAndGlyphs">Strat</text>
<line x1="102.0" y1="1319.8" x2="102.0" y2="1573.2" stroke="#b0b0b0" stroke-width="1.2"/>
<line x1="102.0" y1="1573.2" x2="356.0" y2="1573.2" stroke="#b0b0b0" stroke-width="1.2"/>
<line x1="102.0" y1="1573.2" x2="106.0" y2="1573.2" stroke="#b0b0b0" stroke-width="1"/>
<text x="99.4" y="1581.4" font-size="23.5" text-anchor="end">30</text>
<line x1="102.0" y1="1509.9" x2="106.0" y2="1509.9" stroke="#b0b0b0" stroke-width="1"/>
<text x="99.4" y="1518.1" font-size="23.5" text-anchor="end">35</text>
<line x1="102.0" y1="1446.5" x2="106.0" y2="1446.5" stroke="#b0b0b0" stroke-width="1"/>
<text x="99.4" y="1454.7" font-size="23.5" text-anchor="end">40</text>
<line x1="102.0" y1="1383.2" x2="106.0" y2="1383.2" stroke="#b0b0b0" stroke-width="1"/>
<text x="99.4" y="1391.4" font-size="23.5" text-anchor="end">45</text>
<line x1="102.0" y1="1319.8" x2="106.0" y2="1319.8" stroke="#b0b0b0" stroke-width="1"/>
<text x="99.4" y="1328.0" font-size="23.5" text-anchor="end">50</text>
<line x1="144.6" y1="1573.2" x2="144.6" y2="1569.2" stroke="#b0b0b0" stroke-width="1"/>
<text x="145.6" y="1595.5" font-size="23.5" text-anchor="middle">0</text>
<line x1="186.8" y1="1573.2" x2="186.8" y2="1569.2" stroke="#b0b0b0" stroke-width="1"/>
<text x="187.8" y="1595.5" font-size="23.5" text-anchor="middle">0.5</text>
<line x1="271.4" y1="1573.2" x2="271.4" y2="1569.2" stroke="#b0b0b0" stroke-width="1"/>
<text x="272.4" y="1595.5" font-size="23.5" text-anchor="middle">1.5</text>
<line x1="355.9" y1="1573.2" x2="355.9" y2="1569.2" stroke="#b0b0b0" stroke-width="1"/>
<text x="356.9" y="1595.5" font-size="23.5" text-anchor="middle">2.5</text>
<line x1="144.6" y1="1324.6" x2="144.6" y2="1573.2" stroke="#666" stroke-width="1.3" stroke-dasharray="4.5,3.5"/>
<line x1="102.0" y1="1535.4" x2="350.6" y2="1535.4" stroke="#555" stroke-width="1.3" stroke-dasharray="4.5,3.5"/>
<polyline points="102.3,1428.7 102.6,1471.7 102.8,1440.3 103.0,1432.0 103.2,1455.0 103.4,1449.5 103.6,1451.6 103.8,1462.4 104.0,1444.6 104.3,1459.8 104.5,1441.9 104.7,1441.6 104.9,1434.8 105.1,1430.4 105.3,1440.6 105.5,1439.8 105.7,1448.1 105.9,1447.4 106.2,1436.2 106.4,1438.2 106.6,1438.7 106.8,1443.8 107.0,1432.8 107.2,1458.8 107.4,1455.1 107.6,1448.9 107.8,1436.4 108.1,1465.1 108.3,1464.1 108.5,1465.7 108.7,1443.1 108.9,1442.1 109.1,1434.1 109.3,1426.3 109.5,1466.2 109.7,1456.5 110.0,1459.2 110.2,1467.1 110.4,1454.8 110.6,1462.3 110.8,1453.1 111.0,1460.0 111.2,1473.6 111.4,1449.8 111.7,1449.3 111.9,1458.9 112.1,1480.6 112.3,1480.6 112.5,1471.6 112.7,1452.8 112.9,1449.2 113.1,1456.9 113.3,1456.9 113.6,1487.9 113.8,1452.4 114.0,1465.2 114.2,1461.1 114.4,1468.2 114.6,1479.0 114.8,1448.1 115.0,1453.9 115.2,1469.5 115.5,1476.6 115.7,1464.6 115.9,1447.2 116.1,1450.1 116.3,1455.9 116.5,1444.8 116.7,1450.4 116.9,1464.9 117.1,1443.9 117.4,1451.7 117.6,1461.7 117.8,1439.2 118.0,1448.2 118.2,1468.6 118.4,1441.7 118.6,1447.0 118.8,1453.0 119.1,1452.2 119.3,1458.3 119.5,1462.7 119.7,1442.4 119.9,1441.9 120.1,1450.7 120.3,1445.5 120.5,1453.4 120.7,1451.7 121.0,1441.3 121.2,1442.0 121.4,1432.5 121.6,1455.6 121.8,1445.7 122.0,1453.4 122.2,1450.0 122.4,1439.1 122.6,1448.1 122.9,1462.6 123.1,1460.1 123.3,1464.0 123.5,1459.5 123.7,1462.5 123.9,1459.7 124.1,1455.8 124.3,1449.5 124.5,1462.2 124.8,1451.3 125.0,1452.9 125.2,1441.7 125.4,1446.9 125.6,1444.7 125.8,1450.1 126.0,1439.1 126.2,1451.0 126.5,1466.4 126.7,1446.3 126.9,1462.3 127.1,1477.2 127.3,1445.9 127.5,1450.5 127.7,1447.7 127.9,1446.8 128.1,1455.7 128.4,1442.2 128.6,1456.5 128.8,1461.1 129.0,1456.4 129.2,1481.6 129.4,1452.9 129.6,1477.1 129.8,1456.0 130.0,1461.3 130.3,1461.1 130.5,1471.8 130.7,1443.6 130.9,1488.1 131.1,1463.9 131.3,1471.1 131.5,1477.9 131.7,1442.9 131.9,1457.9 132.2,1433.5 132.4,1451.9 132.6,1454.3 132.8,1451.9 133.0,1472.7 133.2,1474.8 133.4,1441.9 133.6,1450.1 133.9,1467.2 134.1,1458.4 134.3,1459.2 134.5,1446.6 134.7,1456.9 134.9,1469.2 135.1,1450.8 135.3,1465.9 135.5,1452.0 135.8,1465.3 136.0,1495.2 136.2,1440.1 136.4,1469.5 136.6,1448.7 136.8,1452.4 137.0,1467.8 137.2,1473.4 137.4,1437.1 137.7,1456.9 137.9,1444.3 138.1,1454.6 138.3,1449.0 138.5,1457.0 138.7,1475.0 138.9,1469.6 139.1,1455.1 139.3,1472.6 139.6,1462.6 139.8,1459.9 140.0,1447.1 140.2,1439.5 140.4,1482.3 140.6,1455.4 140.8,1441.0 141.0,1478.7 141.3,1473.6 141.5,1445.4 141.7,1458.0 141.9,1466.5 142.1,1457.4 142.3,1451.3 142.5,1458.8 142.7,1455.8 142.9,1457.1 143.2,1454.3 143.4,1459.6 143.6,1457.4 143.8,1463.4 144.0,1446.6 144.2,1461.0 144.4,1465.8 144.6,1476.9 144.8,1467.0 145.1,1457.9 145.3,1463.9 145.5,1455.6 145.7,1475.8 145.9,1469.6 146.1,1487.9 146.3,1467.8 146.5,1451.9 146.7,1457.6 147.0,1467.1 147.2,1459.1 147.4,1461.8 147.6,1474.0 147.8,1476.0 148.0,1474.8 148.2,1457.6 148.4,1455.5 148.7,1457.5 148.9,1465.6 149.1,1442.1 149.3,1463.9 149.5,1455.5 149.7,1459.0 149.9,1446.9 150.1,1475.9 150.3,1449.9 150.6,1458.1 150.8,1454.9 151.0,1465.7 151.2,1463.3 151.4,1441.5 151.6,1445.3 151.8,1472.9 152.0,1453.2 152.2,1460.3 152.5,1441.6 152.7,1448.8 152.9,1445.5 153.1,1459.5 153.3,1457.8 153.5,1463.6 153.7,1472.2 153.9,1460.7 154.1,1437.5 154.4,1432.4 154.6,1453.7 154.8,1448.6 155.0,1444.6 155.2,1443.6 155.4,1445.4 155.6,1437.5 155.8,1419.3 156.1,1416.1 156.3,1402.8 156.5,1421.0 156.7,1439.2 156.9,1416.4 157.1,1421.0 157.3,1410.9 157.5,1416.7 157.7,1397.6 158.0,1419.0 158.2,1408.8 158.4,1388.3 158.6,1408.6 158.8,1426.6 159.0,1399.4 159.2,1403.9 159.4,1402.6 159.6,1401.3 159.9,1421.1 160.1,1424.2 160.3,1410.9 160.5,1434.0 160.7,1423.5 160.9,1400.8 161.1,1431.1 161.3,1413.1 161.5,1403.6 161.8,1417.0 162.0,1424.4 162.2,1402.6 162.4,1434.4 162.6,1398.7 162.8,1428.6 163.0,1419.2 163.2,1431.2 163.5,1430.5 163.7,1404.4 163.9,1414.5 164.1,1410.7 164.3,1428.1 164.5,1416.1 164.7,1426.9 164.9,1413.0 165.1,1405.7 165.4,1406.6 165.6,1404.4 165.8,1418.7 166.0,1404.2 166.2,1414.0 166.4,1394.0 166.6,1410.9 166.8,1395.2 167.0,1414.6 167.3,1403.1 167.5,1407.8 167.7,1428.9 167.9,1403.7 168.1,1423.0 168.3,1432.5 168.5,1411.5 168.7,1401.5 168.9,1406.9 169.2,1425.6 169.4,1435.5 169.6,1445.4 169.8,1421.8 170.0,1421.1 170.2,1414.2 170.4,1396.9 170.6,1414.6 170.9,1424.8 171.1,1425.7 171.3,1422.0 171.5,1419.1 171.7,1405.8 171.9,1411.7 172.1,1408.8 172.3,1405.6 172.5,1405.0 172.8,1400.4 173.0,1395.6 173.2,1420.9 173.4,1414.4 173.6,1411.8 173.8,1410.1 174.0,1398.2 174.2,1400.9 174.4,1417.3 174.7,1391.9 174.9,1406.0 175.1,1404.2 175.3,1419.5 175.5,1403.4 175.7,1415.5 175.9,1421.3 176.1,1406.8 176.3,1418.2 176.6,1416.6 176.8,1400.8 177.0,1398.8 177.2,1415.0 177.4,1394.5 177.6,1390.5 177.8,1390.1 178.0,1396.9 178.3,1403.2 178.5,1380.6 178.7,1402.5 178.9,1394.3 179.1,1390.7 179.3,1385.7 179.5,1402.2 179.7,1404.4 179.9,1401.7 180.2,1405.7 180.4,1393.6 180.6,1393.6 180.8,1386.2 181.0,1406.2 181.2,1397.8 181.4,1414.1 181.6,1410.0 181.8,1389.7 182.1,1407.5 182.3,1424.1 182.5,1408.7 182.7,1407.9 182.9,1423.3 183.1,1399.1 183.3,1389.6 183.5,1406.7 183.7,1389.4 184.0,1424.8 184.2,1393.2 184.4,1402.4 184.6,1377.9 184.8,1405.9 185.0,1406.9 185.2,1407.3 185.4,1408.3 185.7,1408.7 185.9,1396.8 186.1,1400.2 186.3,1399.0 186.5,1400.8 186.7,1409.5 186.9,1380.9 187.1,1416.2 187.3,1392.4 187.6,1404.7 187.8,1389.9 188.0,1402.5 188.2,1385.8 188.4,1390.5 188.6,1382.8 188.8,1371.5 189.0,1390.8 189.2,1391.4 189.5,1420.0 189.7,1393.6 189.9,1383.4 190.1,1397.8 190.3,1391.8 190.5,1395.4 190.7,1415.8 190.9,1387.6 191.1,1405.6 191.4,1415.2 191.6,1392.0 191.8,1402.5 192.0,1404.3 192.2,1410.0 192.4,1420.6 192.6,1404.4 192.8,1423.6 193.1,1414.6 193.3,1430.0 193.5,1433.0 193.7,1412.1 193.9,1433.0 194.1,1404.8 194.3,1437.0 194.5,1408.1 194.7,1421.6 195.0,1407.4 195.2,1407.8 195.4,1436.1 195.6,1408.0 195.8,1418.3 196.0,1426.6 196.2,1402.9 196.4,1408.7 196.6,1406.4 196.9,1395.5 197.1,1397.3 197.3,1407.4 197.5,1418.6 197.7,1393.6 197.9,1418.4 198.1,1429.8 198.3,1389.1 198.5,1389.1 198.8,1432.7 199.0,1410.1 199.2,1429.9 199.4,1406.8 199.6,1422.6 199.8,1433.0 200.0,1406.7 200.2,1426.3 200.5,1414.7 200.7,1428.8 200.9,1401.7 201.1,1409.2 201.3,1426.4 201.5,1446.0 201.7,1416.9 201.9,1430.3 202.1,1408.1 202.4,1403.5 202.6,1420.6 202.8,1408.7 203.0,1435.7 203.2,1414.4 203.4,1403.3 203.6,1435.2 203.8,1410.1 204.0,1416.8 204.3,1409.3 204.5,1417.5 204.7,1419.5 204.9,1405.2 205.1,1418.0 205.3,1414.2 205.5,1434.8 205.7,1416.0 205.9,1413.2 206.2,1423.0 206.4,1421.6 206.6,1443.5 206.8,1432.9 207.0,1424.7 207.2,1426.1 207.4,1397.5 207.6,1413.7 207.9,1435.8 208.1,1398.4 208.3,1442.3 208.5,1438.2 208.7,1435.7 208.9,1426.8 209.1,1398.2 209.3,1429.7 209.5,1420.8 209.8,1446.7 210.0,1432.9 210.2,1397.9 210.4,1411.5 210.6,1419.0 210.8,1414.5 211.0,1424.5 211.2,1423.0 211.4,1442.7 211.7,1446.2 211.9,1435.8 212.1,1431.7 212.3,1437.3 212.5,1419.7 212.7,1408.3 212.9,1427.2 213.1,1445.5 213.3,1441.9 213.6,1415.4 213.8,1417.4 214.0,1424.0 214.2,1420.4 214.4,1414.8 214.6,1423.4 214.8,1421.8 215.0,1429.9 215.3,1449.8 215.5,1426.7 215.7,1428.7 215.9,1422.9 216.1,1434.9 216.3,1426.1 216.5,1429.0 216.7,1439.4 216.9,1444.5 217.2,1440.1 217.4,1427.8 217.6,1422.5 217.8,1413.9 218.0,1435.8 218.2,1430.1 218.4,1418.8 218.6,1442.4 218.8,1425.0 219.1,1439.5 219.3,1436.8 219.5,1423.0 219.7,1432.4 219.9,1427.4 220.1,1446.2 220.3,1435.4 220.5,1444.4 220.7,1439.0 221.0,1399.8 221.2,1432.4 221.4,1434.8 221.6,1438.6 221.8,1445.4 222.0,1415.3 222.2,1443.3 222.4,1407.9 222.7,1438.0 222.9,1421.2 223.1,1434.8 223.3,1443.7 223.5,1438.5 223.7,1420.7 223.9,1438.3 224.1,1460.4 224.3,1414.5 224.6,1444.6 224.8,1441.0 225.0,1418.3 225.2,1454.5 225.4,1440.4 225.6,1428.2 225.8,1429.3 226.0,1430.9 226.2,1445.4 226.5,1423.3 226.7,1438.4 226.9,1432.5 227.1,1447.6 227.3,1415.9 227.5,1442.5 227.7,1440.4 227.9,1447.6 228.1,1437.8 228.4,1458.2 228.6,1442.0 228.8,1442.4 229.0,1422.0 229.2,1446.6 229.4,1446.3 229.6,1440.1 229.8,1429.9 230.1,1416.8 230.3,1434.8 230.5,1435.1 230.7,1421.7 230.9,1439.4 231.1,1434.6 231.3,1444.6 231.5,1440.3 231.7,1450.5 232.0,1415.7 232.2,1431.0 232.4,1431.4 232.6,1452.0 232.8,1441.0 233.0,1450.1 233.2,1451.3 233.4,1458.3 233.6,1450.6 233.9,1411.6 234.1,1450.2 234.3,1432.6 234.5,1430.2 234.7,1436.9 234.9,1430.3 235.1,1454.3 235.3,1422.4 235.5,1415.7 235.8,1439.6 236.0,1448.3 236.2,1450.0 236.4,1456.1 236.6,1432.7 236.8,1428.7 237.0,1419.3 237.2,1455.0 237.5,1432.2 237.7,1435.0 237.9,1445.6 238.1,1455.3 238.3,1438.1 238.5,1417.6 238.7,1459.7 238.9,1454.1 239.1,1453.7 239.4,1449.1 239.6,1435.1 239.8,1454.3 240.0,1477.2 240.2,1464.4 240.4,1467.2 240.6,1447.2 240.8,1446.8 241.0,1462.9 241.3,1440.5 241.5,1473.5 241.7,1452.0 241.9,1432.6 242.1,1463.2 242.3,1437.0 242.5,1433.3 242.7,1451.1 242.9,1444.7 243.2,1463.8 243.4,1441.6 243.6,1457.3 243.8,1449.8 244.0,1439.4 244.2,1447.0 244.4,1455.1 244.6,1440.7 244.9,1445.8 245.1,1453.8 245.3,1471.6 245.5,1450.5 245.7,1438.8 245.9,1455.2 246.1,1453.5 246.3,1452.0 246.5,1440.9 246.8,1463.5 247.0,1436.1 247.2,1419.8 247.4,1440.8 247.6,1446.3 247.8,1440.8 248.0,1440.9 248.2,1450.7 248.4,1447.3 248.7,1446.2 248.9,1436.3 249.1,1421.8 249.3,1442.4 249.5,1417.4 249.7,1453.8 249.9,1436.1 250.1,1453.5 250.3,1444.5 250.6,1446.0 250.8,1467.4 251.0,1449.7 251.2,1439.9 251.4,1438.6 251.6,1460.1 251.8,1461.8 252.0,1436.8 252.3,1455.7 252.5,1418.1 252.7,1441.9 252.9,1440.5 253.1,1443.8 253.3,1452.6 253.5,1440.4 253.7,1446.5 253.9,1426.4 254.2,1441.6 254.4,1439.7 254.6,1431.3 254.8,1432.6 255.0,1467.9 255.2,1418.7 255.4,1461.0 255.6,1456.5 255.8,1447.4 256.1,1454.0 256.3,1426.5 256.5,1446.5 256.7,1460.0 256.9,1451.8 257.1,1456.0 257.3,1456.1 257.5,1444.7 257.7,1444.3 258.0,1454.1 258.2,1468.3 258.4,1459.1 258.6,1441.2 258.8,1444.2 259.0,1454.0 259.2,1439.4 259.4,1471.0 259.7,1458.3 259.9,1447.4 260.1,1443.7 260.3,1435.4 260.5,1445.6 260.7,1442.3 260.9,1443.6 261.1,1456.9 261.3,1446.1 261.6,1428.0 261.8,1436.4 262.0,1448.7 262.2,1445.0 262.4,1426.3 262.6,1427.5 262.8,1422.4 263.0,1433.5 263.2,1450.6 263.5,1451.8 263.7,1470.3 263.9,1435.2 264.1,1435.0 264.3,1419.7 264.5,1456.6 264.7,1426.5 264.9,1441.2 265.1,1446.4 265.4,1446.3 265.6,1462.7 265.8,1447.9 266.0,1458.7 266.2,1449.7 266.4,1440.1 266.6,1448.3 266.8,1434.3 267.1,1453.6 267.3,1451.6 267.5,1453.0 267.7,1443.8 267.9,1443.5 268.1,1433.5 268.3,1449.7 268.5,1455.3 268.7,1443.2 269.0,1425.3 269.2,1438.1 269.4,1472.8 269.6,1451.1 269.8,1456.2 270.0,1451.4 270.2,1438.6 270.4,1450.1 270.6,1453.8 270.9,1471.2 271.1,1452.7 271.3,1460.8 271.5,1448.7 271.7,1435.8 271.9,1461.7 272.1,1455.4 272.3,1444.2 272.5,1469.3 272.8,1457.9 273.0,1469.5 273.2,1461.8 273.4,1456.1 273.6,1458.0 273.8,1435.9 274.0,1444.6 274.2,1452.5 274.5,1441.8 274.7,1432.2 274.9,1461.4 275.1,1458.4 275.3,1450.1 275.5,1441.8 275.7,1478.8 275.9,1456.9 276.1,1420.6 276.4,1449.8 276.6,1425.8 276.8,1419.0 277.0,1441.0 277.2,1420.9 277.4,1449.7 277.6,1469.9 277.8,1453.5 278.0,1429.2 278.3,1411.5 278.5,1438.6 278.7,1466.0 278.9,1446.2 279.1,1468.5 279.3,1444.7 279.5,1428.2 279.7,1460.2 279.9,1459.7 280.2,1453.5 280.4,1452.1 280.6,1439.2 280.8,1442.1 281.0,1440.2 281.2,1461.9 281.4,1437.3 281.6,1444.1 281.9,1462.4 282.1,1458.7 282.3,1458.9 282.5,1471.3 282.7,1425.9 282.9,1441.9 283.1,1449.2 283.3,1436.7 283.5,1453.7 283.8,1452.8 284.0,1437.1 284.2,1464.5 284.4,1462.4 284.6,1472.5 284.8,1461.1 285.0,1439.9 285.2,1459.5 285.4,1435.2 285.7,1463.2 285.9,1455.6 286.1,1468.6 286.3,1445.7 286.5,1430.6 286.7,1459.4 286.9,1477.3 287.1,1455.9 287.3,1444.7 287.6,1462.9 287.8,1427.5 288.0,1465.7 288.2,1441.8 288.4,1430.6 288.6,1443.5 288.8,1429.4 289.0,1438.3 289.3,1451.5 289.5,1453.0 289.7,1425.6 289.9,1468.0 290.1,1440.8 290.3,1454.3 290.5,1450.4 290.7,1435.2 290.9,1457.1 291.2,1467.4 291.4,1435.0 291.6,1436.7 291.8,1453.9 292.0,1465.7 292.2,1467.3 292.4,1451.6 292.6,1448.6 292.8,1445.3 293.1,1445.1 293.3,1456.1 293.5,1449.7 293.7,1457.8 293.9,1455.0 294.1,1462.1 294.3,1454.5 294.5,1469.9 294.7,1458.3 295.0,1469.1 295.2,1448.2 295.4,1460.9 295.6,1462.6 295.8,1461.9 296.0,1466.3 296.2,1468.0 296.4,1446.3 296.7,1443.4 296.9,1438.3 297.1,1455.7 297.3,1448.2 297.5,1474.9 297.7,1439.8 297.9,1464.7 298.1,1436.9 298.3,1444.1 298.6,1427.4 298.8,1445.3 299.0,1461.4 299.2,1428.1 299.4,1437.7 299.6,1442.5 299.8,1437.3 300.0,1460.8 300.2,1490.0 300.5,1462.2 300.7,1468.2 300.9,1452.7 301.1,1464.3 301.3,1451.4 301.5,1468.9 301.7,1445.0 301.9,1452.4 302.1,1468.3 302.4,1440.8 302.6,1438.9 302.8,1448.8 303.0,1463.1 303.2,1451.9 303.4,1453.2 303.6,1458.1 303.8,1452.6 304.1,1454.6 304.3,1471.4 304.5,1456.0 304.7,1467.8 304.9,1455.0 305.1,1455.9 305.3,1442.8 305.5,1459.1 305.7,1450.1 306.0,1469.7 306.2,1438.0 306.4,1425.0 306.6,1454.1 306.8,1446.6 307.0,1444.9 307.2,1453.9 307.4,1441.9 307.6,1461.4 307.9,1458.2 308.1,1460.2 308.3,1467.0 308.5,1477.5 308.7,1448.8 308.9,1461.7 309.1,1473.0 309.3,1477.9 309.5,1465.2 309.8,1474.0 310.0,1455.9 310.2,1459.8 310.4,1455.6 310.6,1447.4 310.8,1456.2 311.0,1449.4 311.2,1439.9 311.5,1447.2 311.7,1480.2 311.9,1438.6 312.1,1448.3 312.3,1443.9 312.5,1431.5 312.7,1453.4 312.9,1446.2 313.1,1479.3 313.4,1436.3 313.6,1455.0 313.8,1456.7 314.0,1457.8 314.2,1449.3 314.4,1480.8 314.6,1436.6 314.8,1459.3 315.0,1459.8 315.3,1443.4 315.5,1450.8 315.7,1456.6 315.9,1474.6 316.1,1449.1 316.3,1458.4 316.5,1472.5 316.7,1465.3 316.9,1459.1 317.2,1471.6 317.4,1450.3 317.6,1464.7 317.8,1447.2 318.0,1451.8 318.2,1450.8 318.4,1467.5 318.6,1454.7 318.9,1448.1 319.1,1450.0 319.3,1459.9 319.5,1452.0 319.7,1460.0 319.9,1456.6 320.1,1442.6 320.3,1437.2 320.5,1435.4 320.8,1451.4 321.0,1463.9 321.2,1462.9 321.4,1445.0 321.6,1456.4 321.8,1438.8 322.0,1460.6 322.2,1446.2 322.4,1470.5 322.7,1458.2 322.9,1448.5 323.1,1450.1 323.3,1452.0 323.5,1465.4 323.7,1450.5 323.9,1456.8 324.1,1461.6 324.3,1451.9 324.6,1466.8 324.8,1466.8 325.0,1431.4 325.2,1454.3 325.4,1444.6 325.6,1466.6 325.8,1463.6 326.0,1475.2 326.3,1475.0 326.5,1473.6 326.7,1454.6 326.9,1472.5 327.1,1470.5 327.3,1467.6 327.5,1451.4 327.7,1462.6 327.9,1449.2 328.2,1468.5 328.4,1447.3 328.6,1456.0 328.8,1448.1 329.0,1470.5 329.2,1458.4 329.4,1457.2 329.6,1466.2 329.8,1450.7 330.1,1455.8 330.3,1451.0 330.5,1466.6 330.7,1455.4 330.9,1476.1 331.1,1450.7 331.3,1475.7 331.5,1469.6 331.7,1459.5 332.0,1457.5 332.2,1463.5 332.4,1489.6 332.6,1480.0 332.8,1475.2 333.0,1466.2 333.2,1482.0 333.4,1476.3 333.7,1460.3 333.9,1465.1 334.1,1459.2 334.3,1462.7 334.5,1484.3 334.7,1479.1 334.9,1466.1 335.1,1460.0 335.3,1469.7 335.6,1449.2 335.8,1470.6 336.0,1466.6 336.2,1459.6 336.4,1455.2 336.6,1465.7 336.8,1458.8 337.0,1469.1 337.2,1467.9 337.5,1439.7 337.7,1471.7 337.9,1438.4 338.1,1462.6 338.3,1440.6 338.5,1462.6 338.7,1469.0 338.9,1457.5 339.1,1459.2 339.4,1456.8 339.6,1473.0 339.8,1478.2 340.0,1462.2 340.2,1466.6 340.4,1468.2 340.6,1457.7 340.8,1440.2 341.1,1443.0 341.3,1455.3 341.5,1442.0 341.7,1435.7 341.9,1444.2 342.1,1483.1 342.3,1470.2 342.5,1455.0 342.7,1447.5 343.0,1472.7 343.2,1432.7 343.4,1466.4 343.6,1471.6 343.8,1485.8 344.0,1451.1 344.2,1450.3 344.4,1450.7 344.6,1458.6 344.9,1455.3 345.1,1455.8 345.3,1433.0 345.5,1446.2 345.7,1442.8 345.9,1476.2 346.1,1477.9 346.3,1442.7 346.5,1450.2 346.8,1452.0 347.0,1461.2 347.2,1455.6 347.4,1463.0 347.6,1448.6 347.8,1478.5 348.0,1456.8 348.2,1467.8 348.5,1472.4 348.7,1464.0 348.9,1465.6 349.1,1463.3 349.3,1441.2 349.5,1477.6 349.7,1472.5 349.9,1460.0 350.1,1460.8 350.4,1455.0 350.6,1449.1 350.8,1457.0 351.0,1471.7 351.2,1433.3 351.4,1461.8 351.6,1462.9 351.8,1463.3 352.0,1473.5 352.3,1474.4 352.5,1463.9 352.7,1459.9 352.9,1455.5 353.1,1474.9 353.3,1452.3 353.5,1475.0 353.7,1448.4 353.9,1429.0 354.2,1475.8 354.4,1454.8 354.6,1445.4 354.8,1463.5 355.0,1439.3 355.2,1476.1 355.4,1464.0 355.6,1449.6 355.9,1437.7" fill="none" stroke="#c7e9f8" stroke-width="0.8"/>
<polyline points="102.3,1451.6 102.6,1458.7 102.8,1444.0 103.0,1435.5 103.2,1443.1 103.4,1454.3 103.6,1460.8 103.8,1429.4 104.0,1447.4 104.3,1460.6 104.5,1458.8 104.7,1439.6 104.9,1438.0 105.1,1447.0 105.3,1448.9 105.5,1439.9 105.7,1439.3 105.9,1444.9 106.2,1455.8 106.4,1445.1 106.6,1426.4 106.8,1451.4 107.0,1450.5 107.2,1451.5 107.4,1454.9 107.6,1440.3 107.8,1444.3 108.1,1458.1 108.3,1460.1 108.5,1452.3 108.7,1456.9 108.9,1449.0 109.1,1450.6 109.3,1464.4 109.5,1438.4 109.7,1460.2 110.0,1442.3 110.2,1453.2 110.4,1457.5 110.6,1471.6 110.8,1459.7 111.0,1447.8 111.2,1450.6 111.4,1463.4 111.7,1475.2 111.9,1452.0 112.1,1464.8 112.3,1455.3 112.5,1463.5 112.7,1448.0 112.9,1461.4 113.1,1456.9 113.3,1459.1 113.6,1463.0 113.8,1451.2 114.0,1454.5 114.2,1455.4 114.4,1459.7 114.6,1452.0 114.8,1465.0 115.0,1456.2 115.2,1458.7 115.5,1480.6 115.7,1467.3 115.9,1460.4 116.1,1440.9 116.3,1447.1 116.5,1459.8 116.7,1445.9 116.9,1460.8 117.1,1442.9 117.4,1453.6 117.6,1458.4 117.8,1464.1 118.0,1454.4 118.2,1444.6 118.4,1451.0 118.6,1424.7 118.8,1453.4 119.1,1438.0 119.3,1439.3 119.5,1444.5 119.7,1447.1 119.9,1452.2 120.1,1441.4 120.3,1442.5 120.5,1450.4 120.7,1452.7 121.0,1456.7 121.2,1448.4 121.4,1461.7 121.6,1455.8 121.8,1435.5 122.0,1458.3 122.2,1456.2 122.4,1447.4 122.6,1449.5 122.9,1455.6 123.1,1451.7 123.3,1458.2 123.5,1456.2 123.7,1461.1 123.9,1450.2 124.1,1452.5 124.3,1452.8 124.5,1449.6 124.8,1451.5 125.0,1456.3 125.2,1451.1 125.4,1454.1 125.6,1467.9 125.8,1459.5 126.0,1455.4 126.2,1449.5 126.5,1446.8 126.7,1441.1 126.9,1440.4 127.1,1440.5 127.3,1453.3 127.5,1442.7 127.7,1465.7 127.9,1460.5 128.1,1441.9 128.4,1455.7 128.6,1458.2 128.8,1454.7 129.0,1453.0 129.2,1460.1 129.4,1458.9 129.6,1470.3 129.8,1458.0 130.0,1453.3 130.3,1455.3 130.5,1461.0 130.7,1466.5 130.9,1467.0 131.1,1467.9 131.3,1470.8 131.5,1456.2 131.7,1463.9 131.9,1444.2 132.2,1459.1 132.4,1450.7 132.6,1470.8 132.8,1459.3 133.0,1451.6 133.2,1453.8 133.4,1455.4 133.6,1455.3 133.9,1464.1 134.1,1465.7 134.3,1464.4 134.5,1470.7 134.7,1453.7 134.9,1469.0 135.1,1467.3 135.3,1461.4 135.5,1446.9 135.8,1456.9 136.0,1455.7 136.2,1457.9 136.4,1447.7 136.6,1455.9 136.8,1469.9 137.0,1470.5 137.2,1459.0 137.4,1457.4 137.7,1463.6 137.9,1456.9 138.1,1449.4 138.3,1463.6 138.5,1450.0 138.7,1450.6 138.9,1482.3 139.1,1464.3 139.3,1454.0 139.6,1459.8 139.8,1458.8 140.0,1453.7 140.2,1452.8 140.4,1464.1 140.6,1478.6 140.8,1458.2 141.0,1456.3 141.3,1458.2 141.5,1456.6 141.7,1455.1 141.9,1457.1 142.1,1464.9 142.3,1458.3 142.5,1456.2 142.7,1465.2 142.9,1459.4 143.2,1451.7 143.4,1448.8 143.6,1457.9 143.8,1447.9 144.0,1460.6 144.2,1459.8 144.4,1451.6 144.6,1462.8 144.8,1462.4 145.1,1468.8 145.3,1463.2 145.5,1465.6 145.7,1472.8 145.9,1472.7 146.1,1463.9 146.3,1460.1 146.5,1467.5 146.7,1469.2 147.0,1465.3 147.2,1495.2 147.4,1470.2 147.6,1456.7 147.8,1458.6 148.0,1469.1 148.2,1465.0 148.4,1475.0 148.7,1471.7 148.9,1463.2 149.1,1472.3 149.3,1451.0 149.5,1454.5 149.7,1458.7 149.9,1457.5 150.1,1461.8 150.3,1456.3 150.6,1470.1 150.8,1450.0 151.0,1449.5 151.2,1450.0 151.4,1457.2 151.6,1444.8 151.8,1456.7 152.0,1455.3 152.2,1459.1 152.5,1457.9 152.7,1465.7 152.9,1458.7 153.1,1461.9 153.3,1460.5 153.5,1464.4 153.7,1465.8 153.9,1461.1 154.1,1454.8 154.4,1441.4 154.6,1451.4 154.8,1437.1 155.0,1439.2 155.2,1437.8 155.4,1439.4 155.6,1415.4 155.8,1425.9 156.1,1425.6 156.3,1417.7 156.5,1426.8 156.7,1421.3 156.9,1408.8 157.1,1417.3 157.3,1407.7 157.5,1398.6 157.7,1417.1 158.0,1409.6 158.2,1403.7 158.4,1419.1 158.6,1406.5 158.8,1407.6 159.0,1420.3 159.2,1409.5 159.4,1404.0 159.6,1402.4 159.9,1411.8 160.1,1403.3 160.3,1411.2 160.5,1414.5 160.7,1419.8 160.9,1417.0 161.1,1413.1 161.3,1416.8 161.5,1407.1 161.8,1414.4 162.0,1419.3 162.2,1401.5 162.4,1421.9 162.6,1414.6 162.8,1408.3 163.0,1417.6 163.2,1412.8 163.5,1412.7 163.7,1427.1 163.9,1404.1 164.1,1419.5 164.3,1413.0 164.5,1400.9 164.7,1413.8 164.9,1412.7 165.1,1406.9 165.4,1416.9 165.6,1405.4 165.8,1410.7 166.0,1413.0 166.2,1414.5 166.4,1405.5 166.6,1423.3 166.8,1413.0 167.0,1415.8 167.3,1406.8 167.5,1393.9 167.7,1408.3 167.9,1402.5 168.1,1421.0 168.3,1403.4 168.5,1420.5 168.7,1419.0 168.9,1417.2 169.2,1425.3 169.4,1411.5 169.6,1408.0 169.8,1409.5 170.0,1425.4 170.2,1425.6 170.4,1414.1 170.6,1400.4 170.9,1426.1 171.1,1420.5 171.3,1400.7 171.5,1406.0 171.7,1403.3 171.9,1407.2 172.1,1405.8 172.3,1405.5 172.5,1409.1 172.8,1423.0 173.0,1410.8 173.2,1401.5 173.4,1417.6 173.6,1405.2 173.8,1409.5 174.0,1412.0 174.2,1402.1 174.4,1411.6 174.7,1420.8 174.9,1421.8 175.1,1404.7 175.3,1410.5 175.5,1419.3 175.7,1408.0 175.9,1411.7 176.1,1397.1 176.3,1412.0 176.6,1413.3 176.8,1415.5 177.0,1414.6 177.2,1411.9 177.4,1410.9 177.6,1408.0 177.8,1410.7 178.0,1395.3 178.3,1391.8 178.5,1406.1 178.7,1388.3 178.9,1392.6 179.1,1394.9 179.3,1409.5 179.5,1413.2 179.7,1398.8 179.9,1423.7 180.2,1411.1 180.4,1410.5 180.6,1410.4 180.8,1412.3 181.0,1407.8 181.2,1408.7 181.4,1405.2 181.6,1412.9 181.8,1407.5 182.1,1401.7 182.3,1402.8 182.5,1410.4 182.7,1407.1 182.9,1399.7 183.1,1403.8 183.3,1401.6 183.5,1402.6 183.7,1395.9 184.0,1398.9 184.2,1378.9 184.4,1392.6 184.6,1399.6 184.8,1400.9 185.0,1411.0 185.2,1407.1 185.4,1399.5 185.7,1395.1 185.9,1405.7 186.1,1407.4 186.3,1401.3 186.5,1406.8 186.7,1404.9 186.9,1399.6 187.1,1396.4 187.3,1407.8 187.6,1391.2 187.8,1402.6 188.0,1411.0 188.2,1395.4 188.4,1395.2 188.6,1393.2 188.8,1405.7 189.0,1389.6 189.2,1387.5 189.5,1401.3 189.7,1401.7 189.9,1388.0 190.1,1380.4 190.3,1381.9 190.5,1403.9 190.7,1383.0 190.9,1406.1 191.1,1399.2 191.4,1402.6 191.6,1394.8 191.8,1399.3 192.0,1411.9 192.2,1409.2 192.4,1420.2 192.6,1414.3 192.8,1404.4 193.1,1417.1 193.3,1423.2 193.5,1412.3 193.7,1424.6 193.9,1423.6 194.1,1421.2 194.3,1421.5 194.5,1424.5 194.7,1419.5 195.0,1419.2 195.2,1417.8 195.4,1431.8 195.6,1418.7 195.8,1418.1 196.0,1407.9 196.2,1407.7 196.4,1425.0 196.6,1420.6 196.9,1407.9 197.1,1409.1 197.3,1414.3 197.5,1417.0 197.7,1414.6 197.9,1416.0 198.1,1421.6 198.3,1408.6 198.5,1403.5 198.8,1416.5 199.0,1413.7 199.2,1429.2 199.4,1422.4 199.6,1430.4 199.8,1414.3 200.0,1411.7 200.2,1425.3 200.5,1424.2 200.7,1429.4 200.9,1425.2 201.1,1432.6 201.3,1417.0 201.5,1428.7 201.7,1430.1 201.9,1428.3 202.1,1425.2 202.4,1414.1 202.6,1420.1 202.8,1419.2 203.0,1426.7 203.2,1428.3 203.4,1421.1 203.6,1414.8 203.8,1411.7 204.0,1420.6 204.3,1428.5 204.5,1423.5 204.7,1419.9 204.9,1417.4 205.1,1418.5 205.3,1413.3 205.5,1416.2 205.7,1416.4 205.9,1413.5 206.2,1420.1 206.4,1413.2 206.6,1423.9 206.8,1424.9 207.0,1410.8 207.2,1423.3 207.4,1407.5 207.6,1436.7 207.9,1420.8 208.1,1420.8 208.3,1411.0 208.5,1418.3 208.7,1429.1 208.9,1424.6 209.1,1432.9 209.3,1431.7 209.5,1423.5 209.8,1428.5 210.0,1415.4 210.2,1446.2 210.4,1427.8 210.6,1424.5 210.8,1422.9 211.0,1430.1 211.2,1429.1 211.4,1427.0 211.7,1409.2 211.9,1423.0 212.1,1435.4 212.3,1434.0 212.5,1425.5 212.7,1435.2 212.9,1421.9 213.1,1426.9 213.3,1429.0 213.6,1426.1 213.8,1436.5 214.0,1432.3 214.2,1430.2 214.4,1428.3 214.6,1423.8 214.8,1425.1 215.0,1411.8 215.3,1439.0 215.5,1419.5 215.7,1425.1 215.9,1433.1 216.1,1428.1 216.3,1435.3 216.5,1435.7 216.7,1432.7 216.9,1429.7 217.2,1431.0 217.4,1425.0 217.6,1442.1 217.8,1426.2 218.0,1433.6 218.2,1443.1 218.4,1424.7 218.6,1429.8 218.8,1434.5 219.1,1435.5 219.3,1436.4 219.5,1442.7 219.7,1429.9 219.9,1429.2 220.1,1437.8 220.3,1436.4 220.5,1452.6 220.7,1428.4 221.0,1438.5 221.2,1441.2 221.4,1428.3 221.6,1426.7 221.8,1434.6 222.0,1430.8 222.2,1435.7 222.4,1439.6 222.7,1425.6 222.9,1453.0 223.1,1445.4 223.3,1438.2 223.5,1430.9 223.7,1434.3 223.9,1438.0 224.1,1439.4 224.3,1432.3 224.6,1439.0 224.8,1436.5 225.0,1434.1 225.2,1443.3 225.4,1440.8 225.6,1439.0 225.8,1435.3 226.0,1430.6 226.2,1439.9 226.5,1447.9 226.7,1425.9 226.9,1445.0 227.1,1430.0 227.3,1442.3 227.5,1443.6 227.7,1441.0 227.9,1448.3 228.1,1437.2 228.4,1438.5 228.6,1459.1 228.8,1441.1 229.0,1452.3 229.2,1442.6 229.4,1441.3 229.6,1448.2 229.8,1442.6 230.1,1442.2 230.3,1438.1 230.5,1442.4 230.7,1448.3 230.9,1437.0 231.1,1438.4 231.3,1451.5 231.5,1442.3 231.7,1449.0 232.0,1444.1 232.2,1459.3 232.4,1445.0 232.6,1427.9 232.8,1453.3 233.0,1443.0 233.2,1431.3 233.4,1440.3 233.6,1436.9 233.9,1445.5 234.1,1453.6 234.3,1448.9 234.5,1439.4 234.7,1449.6 234.9,1442.1 235.1,1448.8 235.3,1454.7 235.5,1461.6 235.8,1435.7 236.0,1451.0 236.2,1449.4 236.4,1441.1 236.6,1442.5 236.8,1442.8 237.0,1438.1 237.2,1436.9 237.5,1446.0 237.7,1450.5 237.9,1437.1 238.1,1446.4 238.3,1446.3 238.5,1447.3 238.7,1437.2 238.9,1432.9 239.1,1449.6 239.4,1450.8 239.6,1444.8 239.8,1445.5 240.0,1443.4 240.2,1449.9 240.4,1458.3 240.6,1442.7 240.8,1454.7 241.0,1453.9 241.3,1455.3 241.5,1450.6 241.7,1460.4 241.9,1454.5 242.1,1432.4 242.3,1438.1 242.5,1440.0 242.7,1439.3 242.9,1433.4 243.2,1451.2 243.4,1445.7 243.6,1436.9 243.8,1445.8 244.0,1442.2 244.2,1446.4 244.4,1439.9 244.6,1437.0 244.9,1436.7 245.1,1438.9 245.3,1444.2 245.5,1463.4 245.7,1447.8 245.9,1448.5 246.1,1447.2 246.3,1452.3 246.5,1440.9 246.8,1444.1 247.0,1447.9 247.2,1443.7 247.4,1442.7 247.6,1453.7 247.8,1439.7 248.0,1445.1 248.2,1441.7 248.4,1449.1 248.7,1446.5 248.9,1449.6 249.1,1448.9 249.3,1442.0 249.5,1441.6 249.7,1441.7 249.9,1455.2 250.1,1445.8 250.3,1437.5 250.6,1446.7 250.8,1441.9 251.0,1450.6 251.2,1438.4 251.4,1442.8 251.6,1440.0 251.8,1443.6 252.0,1429.0 252.3,1446.6 252.5,1430.5 252.7,1455.3 252.9,1443.2 253.1,1436.2 253.3,1446.0 253.5,1436.6 253.7,1433.4 253.9,1445.1 254.2,1443.6 254.4,1445.6 254.6,1454.8 254.8,1448.0 255.0,1441.4 255.2,1437.7 255.4,1443.9 255.6,1448.5 255.8,1445.8 256.1,1447.4 256.3,1442.0 256.5,1444.9 256.7,1462.2 256.9,1448.1 257.1,1442.0 257.3,1464.4 257.5,1446.7 257.7,1452.1 258.0,1445.2 258.2,1456.7 258.4,1454.2 258.6,1455.4 258.8,1450.0 259.0,1443.2 259.2,1446.7 259.4,1441.5 259.7,1451.9 259.9,1448.0 260.1,1445.4 260.3,1443.5 260.5,1442.6 260.7,1434.9 260.9,1451.0 261.1,1446.2 261.3,1441.5 261.6,1436.1 261.8,1443.0 262.0,1450.8 262.2,1438.9 262.4,1451.2 262.6,1448.7 262.8,1436.6 263.0,1442.0 263.2,1458.5 263.5,1438.3 263.7,1449.1 263.9,1447.7 264.1,1472.4 264.3,1452.2 264.5,1449.2 264.7,1453.2 264.9,1453.2 265.1,1449.2 265.4,1448.7 265.6,1447.5 265.8,1457.3 266.0,1448.2 266.2,1448.5 266.4,1426.1 266.6,1441.9 266.8,1448.7 267.1,1447.7 267.3,1458.0 267.5,1447.5 267.7,1440.2 267.9,1440.2 268.1,1432.2 268.3,1450.5 268.5,1456.5 268.7,1448.2 269.0,1446.4 269.2,1450.7 269.4,1443.2 269.6,1456.4 269.8,1451.5 270.0,1443.4 270.2,1448.2 270.4,1442.5 270.6,1440.8 270.9,1450.0 271.1,1459.4 271.3,1442.7 271.5,1458.9 271.7,1451.5 271.9,1462.1 272.1,1459.5 272.3,1460.8 272.5,1451.3 272.8,1461.1 273.0,1460.1 273.2,1458.0 273.4,1446.6 273.6,1458.0 273.8,1464.3 274.0,1461.8 274.2,1439.6 274.5,1465.4 274.7,1466.6 274.9,1456.9 275.1,1456.2 275.3,1451.1 275.5,1466.7 275.7,1457.0 275.9,1460.6 276.1,1444.0 276.4,1443.8 276.6,1464.0 276.8,1443.6 277.0,1455.2 277.2,1451.6 277.4,1455.3 277.6,1463.1 277.8,1451.6 278.0,1457.1 278.3,1444.6 278.5,1451.6 278.7,1447.3 278.9,1455.8 279.1,1456.2 279.3,1442.8 279.5,1461.7 279.7,1444.5 279.9,1445.6 280.2,1451.2 280.4,1449.1 280.6,1454.8 280.8,1448.1 281.0,1465.0 281.2,1449.8 281.4,1457.1 281.6,1455.3 281.9,1466.3 282.1,1449.0 282.3,1441.4 282.5,1453.3 282.7,1452.8 282.9,1439.0 283.1,1450.7 283.3,1455.8 283.5,1468.8 283.8,1444.6 284.0,1458.5 284.2,1449.5 284.4,1447.0 284.6,1451.3 284.8,1452.6 285.0,1457.8 285.2,1453.5 285.4,1454.7 285.7,1456.8 285.9,1469.7 286.1,1465.1 286.3,1462.4 286.5,1449.3 286.7,1456.1 286.9,1472.6 287.1,1449.4 287.3,1446.6 287.6,1453.9 287.8,1438.5 288.0,1446.7 288.2,1443.5 288.4,1438.5 288.6,1444.9 288.8,1450.9 289.0,1451.7 289.3,1454.5 289.5,1449.8 289.7,1451.0 289.9,1452.7 290.1,1432.3 290.3,1441.0 290.5,1441.3 290.7,1446.6 290.9,1444.1 291.2,1448.6 291.4,1454.1 291.6,1452.3 291.8,1466.5 292.0,1457.4 292.2,1455.2 292.4,1455.8 292.6,1458.2 292.8,1453.6 293.1,1449.4 293.3,1461.2 293.5,1463.3 293.7,1447.1 293.9,1463.6 294.1,1461.8 294.3,1460.5 294.5,1454.4 294.7,1457.0 295.0,1463.1 295.2,1463.8 295.4,1464.6 295.6,1452.9 295.8,1457.5 296.0,1451.9 296.2,1453.4 296.4,1458.4 296.7,1445.0 296.9,1451.3 297.1,1440.1 297.3,1447.6 297.5,1448.1 297.7,1441.2 297.9,1453.4 298.1,1458.2 298.3,1451.7 298.6,1456.6 298.8,1433.4 299.0,1456.8 299.2,1458.6 299.4,1459.7 299.6,1445.0 299.8,1470.5 300.0,1464.3 300.2,1464.6 300.5,1464.0 300.7,1463.3 300.9,1455.9 301.1,1470.6 301.3,1463.2 301.5,1455.9 301.7,1455.3 301.9,1453.1 302.1,1464.0 302.4,1472.7 302.6,1457.4 302.8,1447.4 303.0,1456.8 303.2,1453.3 303.4,1458.8 303.6,1458.4 303.8,1449.9 304.1,1466.3 304.3,1452.7 304.5,1455.5 304.7,1450.1 304.9,1458.9 305.1,1447.8 305.3,1449.9 305.5,1449.6 305.7,1460.2 306.0,1460.8 306.2,1464.2 306.4,1452.5 306.6,1460.4 306.8,1450.4 307.0,1457.8 307.2,1461.6 307.4,1457.5 307.6,1453.6 307.9,1460.3 308.1,1461.7 308.3,1459.6 308.5,1463.9 308.7,1467.0 308.9,1463.6 309.1,1477.5 309.3,1468.7 309.5,1470.8 309.8,1464.0 310.0,1461.6 310.2,1462.0 310.4,1459.9 310.6,1463.0 310.8,1461.6 311.0,1453.2 311.2,1462.7 311.5,1458.5 311.7,1451.4 311.9,1450.6 312.1,1450.8 312.3,1457.0 312.5,1450.7 312.7,1447.6 312.9,1459.8 313.1,1442.0 313.4,1451.2 313.6,1464.0 313.8,1441.2 314.0,1461.1 314.2,1450.0 314.4,1467.0 314.6,1463.4 314.8,1475.3 315.0,1466.1 315.3,1470.2 315.5,1462.9 315.7,1455.7 315.9,1463.9 316.1,1475.0 316.3,1450.3 316.5,1468.0 316.7,1463.1 316.9,1458.2 317.2,1456.7 317.4,1465.6 317.6,1449.0 317.8,1459.7 318.0,1454.7 318.2,1474.9 318.4,1447.9 318.6,1462.7 318.9,1465.3 319.1,1446.5 319.3,1456.9 319.5,1463.1 319.7,1459.4 319.9,1461.1 320.1,1463.3 320.3,1450.6 320.5,1461.4 320.8,1459.4 321.0,1464.4 321.2,1467.3 321.4,1463.1 321.6,1464.8 321.8,1458.8 322.0,1448.2 322.2,1442.0 322.4,1460.4 322.7,1447.5 322.9,1459.2 323.1,1449.8 323.3,1455.5 323.5,1455.3 323.7,1452.4 323.9,1464.2 324.1,1463.4 324.3,1472.9 324.6,1445.8 324.8,1448.6 325.0,1458.2 325.2,1449.7 325.4,1459.5 325.6,1468.0 325.8,1460.4 326.0,1470.3 326.3,1459.6 326.5,1455.3 326.7,1458.8 326.9,1469.4 327.1,1459.7 327.3,1469.2 327.5,1467.0 327.7,1471.2 327.9,1454.3 328.2,1455.9 328.4,1451.9 328.6,1445.6 328.8,1444.0 329.0,1459.6 329.2,1448.5 329.4,1459.0 329.6,1460.6 329.8,1456.4 330.1,1455.9 330.3,1457.2 330.5,1461.4 330.7,1454.8 330.9,1472.1 331.1,1452.2 331.3,1463.6 331.5,1464.2 331.7,1464.4 332.0,1472.1 332.2,1459.1 332.4,1469.6 332.6,1467.6 332.8,1460.2 333.0,1457.9 333.2,1466.7 333.4,1465.8 333.7,1461.5 333.9,1464.5 334.1,1461.7 334.3,1471.2 334.5,1466.3 334.7,1471.7 334.9,1458.6 335.1,1458.9 335.3,1458.5 335.6,1458.0 335.8,1464.5 336.0,1468.2 336.2,1463.5 336.4,1453.6 336.6,1462.9 336.8,1446.5 337.0,1454.4 337.2,1462.7 337.5,1454.8 337.7,1442.6 337.9,1453.7 338.1,1440.3 338.3,1455.0 338.5,1460.7 338.7,1452.3 338.9,1463.0 339.1,1468.1 339.4,1470.6 339.6,1450.6 339.8,1460.4 340.0,1471.9 340.2,1453.0 340.4,1467.4 340.6,1460.6 340.8,1446.6 341.1,1463.3 341.3,1450.8 341.5,1461.5 341.7,1457.1 341.9,1454.6 342.1,1460.8 342.3,1460.2 342.5,1456.0 342.7,1467.9 343.0,1456.1 343.2,1458.6 343.4,1447.1 343.6,1461.2 343.8,1454.3 344.0,1459.6 344.2,1472.7 344.4,1465.9 344.6,1461.1 344.9,1456.4 345.1,1461.3 345.3,1458.0 345.5,1451.4 345.7,1451.7 345.9,1459.1 346.1,1460.3 346.3,1452.2 346.5,1462.8 346.8,1455.6 347.0,1457.1 347.2,1471.9 347.4,1447.3 347.6,1447.3 347.8,1453.1 348.0,1451.0 348.2,1459.6 348.5,1455.3 348.7,1466.2 348.9,1472.6 349.1,1461.3 349.3,1459.6 349.5,1463.0 349.7,1464.3 349.9,1464.5 350.1,1464.7 350.4,1460.3 350.6,1471.5 350.8,1461.0 351.0,1463.2 351.2,1456.7 351.4,1471.9 351.6,1463.3 351.8,1466.1 352.0,1465.8 352.3,1462.5 352.5,1461.2 352.7,1456.6 352.9,1451.3 353.1,1453.6 353.3,1467.1 353.5,1480.0 353.7,1464.4 353.9,1461.2 354.2,1454.8 354.4,1457.2 354.6,1453.9 354.8,1462.0 355.0,1464.5 355.2,1456.6 355.4,1441.7 355.6,1459.2 355.9,1465.8" fill="none" stroke="#4fbfec" stroke-width="1.2"/>
<text x="372.5" y="1562.3" font-size="23.5" text-anchor="end" textLength="152.3" lengthAdjust="spacingAndGlyphs">N=28 subjects</text>
<text x="229.4" y="1619.5" font-size="23.5" text-anchor="middle" textLength="83" lengthAdjust="spacingAndGlyphs">Time [s]</text>
<text x="65.5" y="1442.5" font-size="23.5" text-anchor="middle" transform="rotate(-90 65.5 1442.5)" textLength="238" lengthAdjust="spacingAndGlyphs">Decoding accuracy [%]</text>
<rect x="934.3" y="1319.8" width="13.5" height="253.4" fill="#999999"/>
<rect x="950.6" y="1319.8" width="19.0" height="253.4" fill="#999999"/>
<rect x="971.4" y="1319.8" width="16.4" height="253.4" fill="#999999"/>
<rect x="989.5" y="1319.8" width="39.4" height="253.4" fill="#999999"/>
<rect x="1031.5" y="1319.8" width="7.0" height="253.4" fill="#999999"/>
<rect x="1053.3" y="1319.8" width="4.8" height="253.4" fill="#999999"/>
<line x1="826.6" y1="1319.8" x2="826.6" y2="1573.2" stroke="#b0b0b0" stroke-width="1.2"/>
<line x1="826.6" y1="1573.2" x2="1080.6" y2="1573.2" stroke="#b0b0b0" stroke-width="1.2"/>
<line x1="826.6" y1="1539.8" x2="830.6" y2="1539.8" stroke="#b0b0b0" stroke-width="1"/>
<text x="824.0" y="1548.0" font-size="23.5" text-anchor="end">-2</text>
<line x1="826.6" y1="1490.6" x2="830.6" y2="1490.6" stroke="#b0b0b0" stroke-width="1"/>
<text x="824.0" y="1498.8" font-size="23.5" text-anchor="end">0</text>
<line x1="826.6" y1="1441.4" x2="830.6" y2="1441.4" stroke="#b0b0b0" stroke-width="1"/>
<text x="824.0" y="1449.6" font-size="23.5" text-anchor="end">2</text>
<line x1="826.6" y1="1392.3" x2="830.6" y2="1392.3" stroke="#b0b0b0" stroke-width="1"/>
<text x="824.0" y="1400.5" font-size="23.5" text-anchor="end">4</text>
<line x1="826.6" y1="1343.1" x2="830.6" y2="1343.1" stroke="#b0b0b0" stroke-width="1"/>
<text x="824.0" y="1351.3" font-size="23.5" text-anchor="end">6</text>
<line x1="911.3" y1="1573.2" x2="911.3" y2="1569.2" stroke="#b0b0b0" stroke-width="1"/>
<text x="910.3" y="1593.3" font-size="23.5" text-anchor="middle">0</text>
<line x1="995.9" y1="1573.2" x2="995.9" y2="1569.2" stroke="#b0b0b0" stroke-width="1"/>
<text x="994.9" y="1593.3" font-size="23.5" text-anchor="middle">0.5</text>
<line x1="1080.6" y1="1573.2" x2="1080.6" y2="1569.2" stroke="#b0b0b0" stroke-width="1"/>
<text x="1079.6" y="1593.3" font-size="23.5" text-anchor="middle">1</text>
<polyline points="826.6,1493.1 827.3,1514.6 827.9,1513.8 828.5,1548.7 829.1,1487.9 829.7,1495.4 830.3,1477.3 830.9,1493.8 831.5,1491.6 832.1,1504.8 832.7,1464.9 833.3,1500.7 833.9,1509.4 834.5,1491.2 835.1,1517.4 835.7,1534.3 836.3,1511.2 837.0,1515.8 837.6,1513.9 838.2,1556.3 838.8,1491.2 839.4,1512.5 840.0,1523.6 840.6,1564.9 841.2,1543.3 841.8,1566.3 842.4,1551.8 843.0,1559.3 843.6,1516.9 844.2,1523.0 844.8,1529.4 845.4,1536.5 846.0,1537.6 846.7,1524.6 847.3,1530.2 847.9,1555.5 848.5,1517.9 849.1,1536.7 849.7,1537.3 850.3,1522.4 850.9,1558.0 851.5,1548.7 852.1,1514.9 852.7,1525.9 853.3,1515.5 853.9,1521.2 854.5,1549.2 855.1,1517.9 855.7,1515.8 856.3,1500.0 857.0,1502.4 857.6,1514.0 858.2,1490.2 858.8,1527.3 859.4,1537.3 860.0,1509.8 860.6,1522.4 861.2,1490.8 861.8,1550.3 862.4,1499.5 863.0,1569.2 863.6,1499.1 864.2,1494.5 864.8,1508.2 865.4,1487.8 866.0,1511.3 866.7,1470.6 867.3,1460.2 867.9,1512.1 868.5,1475.8 869.1,1464.9 869.7,1493.9 870.3,1503.8 870.9,1527.1 871.5,1533.6 872.1,1492.5 872.7,1488.9 873.3,1532.7 873.9,1524.8 874.5,1527.3 875.1,1509.1 875.7,1513.3 876.3,1530.9 877.0,1509.5 877.6,1502.8 878.2,1501.1 878.8,1527.5 879.4,1515.2 880.0,1534.7 880.6,1561.8 881.2,1544.6 881.8,1521.5 882.4,1503.2 883.0,1525.3 883.6,1507.6 884.2,1513.9 884.8,1514.5 885.4,1518.1 886.0,1515.8 886.7,1546.1 887.3,1530.1 887.9,1515.5 888.5,1514.6 889.1,1490.3 889.7,1531.4 890.3,1528.6 890.9,1510.4 891.5,1486.9 892.1,1492.4 892.7,1512.7 893.3,1498.8 893.9,1523.5 894.5,1495.6 895.1,1514.1 895.7,1507.7 896.3,1512.3 897.0,1510.3 897.6,1533.7 898.2,1489.8 898.8,1497.3 899.4,1551.4 900.0,1497.7 900.6,1509.9 901.2,1510.0 901.8,1445.6 902.4,1522.0 903.0,1497.5 903.6,1484.0 904.2,1484.0 904.8,1503.0 905.4,1514.3 906.0,1510.9 906.7,1530.2 907.3,1549.0 907.9,1507.6 908.5,1486.1 909.1,1487.3 909.7,1508.7 910.3,1493.8 910.9,1514.4 911.5,1535.0 912.1,1467.6 912.7,1471.7 913.3,1531.8 913.9,1469.9 914.5,1462.5 915.1,1496.9 915.7,1477.5 916.4,1498.6 917.0,1537.3 917.6,1493.1 918.2,1501.1 918.8,1498.9 919.4,1490.2 920.0,1458.6 920.6,1491.4 921.2,1518.1 921.8,1495.8 922.4,1482.6 923.0,1480.9 923.6,1501.1 924.2,1480.0 924.8,1469.8 925.4,1472.0 926.0,1466.6 926.7,1458.6 927.3,1464.5 927.9,1479.0 928.5,1453.2 929.1,1482.8 929.7,1464.4 930.3,1445.1 930.9,1466.1 931.5,1417.7 932.1,1429.0 932.7,1444.0 933.3,1427.1 933.9,1380.1 934.5,1410.1 935.1,1408.4 935.7,1388.8 936.4,1401.5 937.0,1395.1 937.6,1411.4 938.2,1391.9 938.8,1409.7 939.4,1426.1 940.0,1382.8 940.6,1415.3 941.2,1411.5 941.8,1414.0 942.4,1394.7 943.0,1425.4 943.6,1411.5 944.2,1399.7 944.8,1383.2 945.4,1414.0 946.0,1410.7 946.7,1424.5 947.3,1387.3 947.9,1417.3 948.5,1417.6 949.1,1414.9 949.7,1429.3 950.3,1389.4 950.9,1433.9 951.5,1396.8 952.1,1418.9 952.7,1419.1 953.3,1401.1 953.9,1433.3 954.5,1397.9 955.1,1396.3 955.7,1427.3 956.4,1407.5 957.0,1418.2 957.6,1404.9 958.2,1347.2 958.8,1429.0 959.4,1408.4 960.0,1419.8 960.6,1414.5 961.2,1403.7 961.8,1400.4 962.4,1408.3 963.0,1435.7 963.6,1406.9 964.2,1374.5 964.8,1401.4 965.4,1418.3 966.0,1396.2 966.7,1408.3 967.3,1415.0 967.9,1410.8 968.5,1438.4 969.1,1406.6 969.7,1412.6 970.3,1428.7 970.9,1396.7 971.5,1409.1 972.1,1408.4 972.7,1414.6 973.3,1402.1 973.9,1401.7 974.5,1411.1 975.1,1413.0 975.7,1418.2 976.4,1420.6 977.0,1404.8 977.6,1420.9 978.2,1433.2 978.8,1411.2 979.4,1400.1 980.0,1402.8 980.6,1401.8 981.2,1409.6 981.8,1430.7 982.4,1413.2 983.0,1419.6 983.6,1409.4 984.2,1456.7 984.8,1386.4 985.4,1410.1 986.1,1433.1 986.7,1406.6 987.3,1440.8 987.9,1361.2 988.5,1407.8 989.1,1399.9 989.7,1414.3 990.3,1406.0 990.9,1367.5 991.5,1381.4 992.1,1388.8 992.7,1399.1 993.3,1406.1 993.9,1392.2 994.5,1397.9 995.1,1411.3 995.7,1388.9 996.4,1386.9 997.0,1365.8 997.6,1385.2 998.2,1383.9 998.8,1361.8 999.4,1391.2 1000.0,1373.5 1000.6,1400.8 1001.2,1398.1 1001.8,1379.2 1002.4,1381.0 1003.0,1397.0 1003.6,1392.2 1004.2,1388.4 1004.8,1361.1 1005.4,1394.9 1006.1,1377.6 1006.7,1404.6 1007.3,1385.9 1007.9,1364.2 1008.5,1400.0 1009.1,1367.7 1009.7,1387.4 1010.3,1382.9 1010.9,1398.7 1011.5,1384.3 1012.1,1387.4 1012.7,1373.4 1013.3,1367.3 1013.9,1352.1 1014.5,1397.0 1015.1,1385.6 1015.7,1404.3 1016.4,1404.2 1017.0,1405.9 1017.6,1391.7 1018.2,1370.8 1018.8,1404.1 1019.4,1379.2 1020.0,1420.8 1020.6,1417.1 1021.2,1404.0 1021.8,1383.3 1022.4,1400.8 1023.0,1354.4 1023.6,1426.1 1024.2,1359.9 1024.8,1407.0 1025.4,1448.4 1026.1,1423.4 1026.7,1416.9 1027.3,1408.1 1027.9,1402.3 1028.5,1413.0 1029.1,1391.4 1029.7,1422.0 1030.3,1408.8 1030.9,1395.5 1031.5,1473.7 1032.1,1389.9 1032.7,1393.5 1033.3,1408.0 1033.9,1369.5 1034.5,1405.9 1035.1,1403.9 1035.7,1386.9 1036.4,1396.2 1037.0,1421.2 1037.6,1383.0 1038.2,1393.5 1038.8,1440.4 1039.4,1430.3 1040.0,1421.5 1040.6,1417.6 1041.2,1403.2 1041.8,1423.2 1042.4,1382.3 1043.0,1430.9 1043.6,1424.7 1044.2,1423.0 1044.8,1438.6 1045.4,1424.7 1046.1,1430.0 1046.7,1435.3 1047.3,1447.5 1047.9,1445.1 1048.5,1429.1 1049.1,1440.7 1049.7,1435.3 1050.3,1435.9 1050.9,1438.8 1051.5,1443.5 1052.1,1436.9 1052.7,1434.8 1053.3,1428.7 1053.9,1441.6 1054.5,1457.1 1055.1,1459.8 1055.8,1427.2 1056.4,1439.6 1057.0,1412.3 1057.6,1402.3 1058.2,1431.8 1058.8,1447.1 1059.4,1432.7 1060.0,1496.1 1060.6,1465.5 1061.2,1468.4 1061.8,1466.6 1062.4,1445.6 1063.0,1435.4 1063.6,1438.2 1064.2,1442.7 1064.8,1444.4 1065.4,1449.7 1066.1,1444.0 1066.7,1463.6 1067.3,1446.4 1067.9,1422.0 1068.5,1436.3 1069.1,1422.6 1069.7,1454.8 1070.3,1441.5 1070.9,1447.6 1071.5,1420.0 1072.1,1437.9 1072.7,1438.4 1073.3,1451.0 1073.9,1441.5 1074.5,1448.4 1075.1,1442.6 1075.8,1405.8 1076.4,1450.8 1077.0,1438.9 1077.6,1447.5 1078.2,1448.4 1078.8,1448.8 1079.4,1447.6 1080.0,1380.4 1080.6,1413.8" fill="none" stroke="#000" stroke-width="1.8" stroke-linejoin="round"/>
<text x="951.7" y="1615.2" font-size="23.5" text-anchor="middle" textLength="83" lengthAdjust="spacingAndGlyphs">Time [s]</text>
<text x="794.4" y="1446.0" font-size="23.5" text-anchor="middle" transform="rotate(-90 794.4 1446.0)" textLength="74.3" lengthAdjust="spacingAndGlyphs">T-value</text>
<defs><linearGradient id="cb" x1="0" x2="1" y1="0" y2="0"><stop offset="0.000" stop-color="#053061"/><stop offset="0.050" stop-color="#10467f"/><stop offset="0.100" stop-color="#1b5b9d"/><stop offset="0.150" stop-color="#286fb1"/><stop offset="0.200" stop-color="#3581ba"/><stop offset="0.250" stop-color="#4393c3"/><stop offset="0.300" stop-color="#63a7ce"/><stop offset="0.350" stop-color="#82bbd9"/><stop offset="0.400" stop-color="#a2cde2"/><stop offset="0.450" stop-color="#c1ddec"/><stop offset="0.500" stop-color="#f7f7f7"/><stop offset="0.550" stop-color="#fbcdb6"/><stop offset="0.600" stop-color="#f6b293"/><stop offset="0.650" stop-color="#ee9777"/><stop offset="0.700" stop-color="#e27c62"/><stop offset="0.750" stop-color="#d6604d"/><stop offset="0.800" stop-color="#c8433f"/><stop offset="0.850" stop-color="#b92632"/><stop offset="0.900" stop-color="#a31329"/><stop offset="0.950" stop-color="#850a24"/><stop offset="1.000" stop-color="#67001f"/></linearGradient></defs>
<rect x="1598.6" y="1560.4" width="258.0" height="12.6" fill="url(#cb)" stroke="#333" stroke-width="0.8"/>
<line x1="1727.6" y1="1570.0" x2="1727.6" y2="1573.0" stroke="#333" stroke-width="0.8"/>
<text x="1598.6" y="1594.0" font-size="23.5" text-anchor="middle">-0.6</text>
<text x="1727.0" y="1594.0" font-size="23.5" text-anchor="middle">0</text>
<text x="1856.0" y="1594.0" font-size="23.5" text-anchor="middle">0.6</text>
<text x="1727.5" y="1615.0" font-size="23.5" text-anchor="middle" textLength="233" lengthAdjust="spacingAndGlyphs">Effect size (Cohen’s d)</text>
<g transform="translate(1445,1320) scale(0.12928)">
<defs><clipPath id="k1L"><path d="M650.0,70.0 C635.0,66.7 598.3,46.7 560.0,50.0 C521.7,53.3 463.3,70.0 420.0,90.0 C376.7,110.0 331.7,145.0 300.0,170.0 C268.3,195.0 255.0,193.3 230.0,240.0 C205.0,286.7 171.7,381.7 150.0,450.0 C128.3,518.3 113.3,583.3 100.0,650.0 C86.7,716.7 74.2,783.3 70.0,850.0 C65.8,916.7 61.7,983.3 75.0,1050.0 C88.3,1116.7 117.5,1186.7 150.0,1250.0 C182.5,1313.3 225.0,1383.3 270.0,1430.0 C315.0,1476.7 365.0,1508.3 420.0,1530.0 C475.0,1551.7 561.7,1558.3 600.0,1560.0 C638.3,1561.7 641.7,1543.3 650.0,1540.0 Z"/></clipPath><clipPath id="k1R"><path d="M672.0,70.0 C680.0,65.8 682.0,41.7 720.0,45.0 C758.0,48.3 840.0,55.8 900.0,90.0 C960.0,124.2 1030.0,181.7 1080.0,250.0 C1130.0,318.3 1170.0,408.3 1200.0,500.0 C1230.0,591.7 1253.3,708.3 1260.0,800.0 C1266.7,891.7 1253.3,975.0 1240.0,1050.0 C1226.7,1125.0 1211.7,1183.3 1180.0,1250.0 C1148.3,1316.7 1105.0,1398.3 1050.0,1450.0 C995.0,1501.7 908.3,1541.7 850.0,1560.0 C791.7,1578.3 729.7,1563.3 700.0,1560.0 C670.3,1556.7 676.7,1543.3 672.0,1540.0 Z"/></clipPath></defs>
<g clip-path="url(#k1L)">
<path d="M0,0 L700,0 L700,1700 L0,1700 Z" fill="#fbe3d6" stroke="#fbe3d6" stroke-width="3" stroke-linejoin="round"/>
<path d="M0,0 L30,1 L61,-5 L91,1 L122,7 L152,-18 L183,17 L213,-5 L243,-6 L274,-10 L304,9 L335,7 L365,12 L396,9 L426,3 L457,3 L487,9 L517,-9 L548,-0 L578,4 L609,-5 L639,7 L670,-4 L700,0 L693,31 L699,62 L695,92 L715,123 L709,154 L687,185 L698,215 L701,246 L690,277 L692,308 L700,338 L706,369 L680,400 L693,431 L716,462 L692,492 L692,523 L692,554 L704,585 L685,615 L707,646 L688,677 L697,708 L683,738 L704,769 L700,800 L672,783 L640,780 L610,759 L572,756 L540,740 L503,727 L465,717 L430,700 L434,669 L434,637 L423,606 L428,575 L418,544 L417,513 L402,482 L420,450 L391,469 L359,471 L325,470 L291,464 L262,483 L231,492 L200,500 L166,500 L135,521 L100,510 L68,522 L34,522 L0,520 L20,489 L18,459 L10,428 L5,398 L5,367 L-10,336 L-13,306 L3,275 L-4,245 L-8,214 L-1,184 L-1,153 L2,122 L-7,92 L0,61 L-12,31 Z" fill="#d9624f" stroke="#d9624f" stroke-width="3" stroke-linejoin="round"/>
<path d="M0,250 L230,300 L230,560 L0,600 Z" fill="#f5ae8e" stroke="#f5ae8e" stroke-width="3" stroke-linejoin="round"/>
<path d="M200,500 L234,505 L266,501 L292,468 L327,476 L357,462 L389,458 L420,450 L423,484 L416,519 L427,553 L445,585 L440,620 L429,660 L420,700 L390,688 L357,682 L331,661 L300,650 L275,625 L250,600 L200,570 L214,535 Z" fill="#fbeee8" stroke="#fbeee8" stroke-width="3" stroke-linejoin="round"/>
<path d="M0,580 L36,575 L74,578 L110,570 L150,556 L184,569 L214,596 L250,600 L274,626 L300,650 L327,671 L364,664 L391,685 L420,700 L464,699 L485,733 L512,756 L540,780 L574,786 L608,788 L640,800 L660,800 L650,830 L674,860 L673,890 L655,920 L664,950 L660,980 L640,970 L625,940 L596,925 L570,907 L533,903 L520,870 L488,863 L461,843 L428,838 L400,820 L368,798 L335,777 L300,760 L270,751 L242,737 L227,704 L196,696 L170,680 L136,683 L101,678 L66,675 L37,724 L0,700 L15,670 L10,640 L-3,610 Z" fill="#3c8cc2" stroke="#3c8cc2" stroke-width="3" stroke-linejoin="round"/>
<path d="M0,700 L35,708 L68,691 L104,704 L137,695 L170,680 L194,700 L225,707 L248,729 L279,737 L300,760 L337,774 L366,802 L400,820 L430,831 L463,839 L484,873 L520,870 L548,886 L568,910 L592,930 L630,933 L640,970 L660,980 L634,1010 L660,1040 L622,1036 L589,1013 L550,1010 L510,997 L502,958 L480,930 L451,953 L416,950 L380,940 L350,960 L321,950 L291,949 L260,948 L230,950 L194,944 L173,919 L158,886 L138,859 L108,846 L80,830 L39,829 L0,840 L5,805 L7,770 L5,735 Z" fill="#a9d0e6" stroke="#a9d0e6" stroke-width="3" stroke-linejoin="round"/>
<path d="M0,830 L40,819 L80,830 L99,858 L136,863 L164,879 L179,911 L213,920 L230,950 L271,966 L300,1000 L282,1033 L274,1070 L250,1100 L241,1137 L213,1165 L200,1200 L164,1198 L132,1210 L98,1216 L70,1248 L32,1235 L0,1250 L-0,1220 L-7,1190 L-3,1160 L-4,1130 L-10,1100 L-19,1070 L4,1040 L3,1010 L13,980 L11,950 L2,920 L9,890 L15,860 Z" fill="#f5ae8e" stroke="#f5ae8e" stroke-width="3" stroke-linejoin="round"/>
<path d="M550,1020 L660,1030 L660,1200 L620,1200 Z" fill="#d9624f" stroke="#d9624f" stroke-width="3" stroke-linejoin="round"/>
<path d="M623,1212 L647,1198 L671,1213 L693,1230 L717,1217" fill="none" stroke="#000" stroke-width="10" stroke-opacity="0.07" stroke-linecap="round" stroke-linejoin="round"/>
<path d="M260,993 L285,979 L310,990 L338,986 L360,968 L369,995 L354,1018" fill="none" stroke="#000" stroke-width="10" stroke-opacity="0.07" stroke-linecap="round" stroke-linejoin="round"/>
<path d="M95,1208 L86,1234 L86,1262 L75,1288 L52,1304" fill="none" stroke="#000" stroke-width="10" stroke-opacity="0.07" stroke-linecap="round" stroke-linejoin="round"/>
<path d="M266,1316 L272,1343 L284,1369 L295,1395 L294,1423" fill="none" stroke="#000" stroke-width="10" stroke-opacity="0.07" stroke-linecap="round" stroke-linejoin="round"/>
<path d="M526,1551 L519,1579 L541,1597 L561,1616 L585,1602" fill="none" stroke="#000" stroke-width="10" stroke-opacity="0.07" stroke-linecap="round" stroke-linejoin="round"/>
<path d="M253,435 L268,412 L293,424 L316,408 L341,395 L367,385" fill="none" stroke="#000" stroke-width="10" stroke-opacity="0.07" stroke-linecap="round" stroke-linejoin="round"/>
<path d="M581,616 L589,643 L611,661 L633,678" fill="none" stroke="#000" stroke-width="10" stroke-opacity="0.07" stroke-linecap="round" stroke-linejoin="round"/>
<path d="M604,218 L621,195 L643,178 L651,151 L670,130 L697,121 L721,107" fill="none" stroke="#000" stroke-width="10" stroke-opacity="0.07" stroke-linecap="round" stroke-linejoin="round"/>
<path d="M80,994 L73,967 L74,939 L63,914 L43,893 L16,888 L-11,880" fill="none" stroke="#000" stroke-width="10" stroke-opacity="0.07" stroke-linecap="round" stroke-linejoin="round"/>
<path d="M298,931 L324,942 L343,962 L369,952" fill="none" stroke="#000" stroke-width="10" stroke-opacity="0.07" stroke-linecap="round" stroke-linejoin="round"/>
<path d="M336,1360 L314,1378 L293,1396 L317,1411 L342,1423 L359,1445 L344,1469" fill="none" stroke="#000" stroke-width="10" stroke-opacity="0.07" stroke-linecap="round" stroke-linejoin="round"/>
<path d="M100,1300 L93,1273 L80,1248 L73,1221 L45,1227 L21,1241" fill="none" stroke="#000" stroke-width="10" stroke-opacity="0.07" stroke-linecap="round" stroke-linejoin="round"/>
<path d="M309,1297 L323,1273 L297,1264 L297,1236 L295,1208 L295,1180 L296,1152" fill="none" stroke="#000" stroke-width="10" stroke-opacity="0.07" stroke-linecap="round" stroke-linejoin="round"/>
<path d="M443,1025 L470,1030 L477,1058 L493,1081 L482,1106 L498,1129" fill="none" stroke="#000" stroke-width="10" stroke-opacity="0.07" stroke-linecap="round" stroke-linejoin="round"/>
<path d="M227,680 L201,668 L175,678 L162,653 L138,637" fill="none" stroke="#000" stroke-width="10" stroke-opacity="0.07" stroke-linecap="round" stroke-linejoin="round"/>
<path d="M616,225 L617,253 L635,274 L623,300" fill="none" stroke="#000" stroke-width="10" stroke-opacity="0.07" stroke-linecap="round" stroke-linejoin="round"/>
<path d="M233,1087 L258,1073 L284,1064 L310,1053 L338,1049 L364,1059" fill="none" stroke="#000" stroke-width="10" stroke-opacity="0.07" stroke-linecap="round" stroke-linejoin="round"/>
<path d="M227,1231 L205,1214 L210,1241 L223,1266 L238,1289 L264,1277" fill="none" stroke="#000" stroke-width="10" stroke-opacity="0.07" stroke-linecap="round" stroke-linejoin="round"/>
<path d="M114,464 L142,459 L169,454 L185,431 L211,419" fill="none" stroke="#000" stroke-width="10" stroke-opacity="0.07" stroke-linecap="round" stroke-linejoin="round"/>
<path d="M145,1295 L148,1323 L125,1338 L124,1366 L139,1389 L120,1410 L94,1418" fill="none" stroke="#000" stroke-width="10" stroke-opacity="0.07" stroke-linecap="round" stroke-linejoin="round"/>
<path d="M282,707 L260,723 L232,717 L211,735 L222,761 L246,775 L270,760" fill="none" stroke="#000" stroke-width="10" stroke-opacity="0.07" stroke-linecap="round" stroke-linejoin="round"/>
<path d="M196,1192 L206,1165 L180,1154 L170,1128 L142,1127 L114,1123" fill="none" stroke="#000" stroke-width="10" stroke-opacity="0.07" stroke-linecap="round" stroke-linejoin="round"/>
<path d="M384,897 L389,925 L364,937 L343,956 L315,955" fill="none" stroke="#000" stroke-width="10" stroke-opacity="0.07" stroke-linecap="round" stroke-linejoin="round"/>
<path d="M324,474 L329,502 L349,482 L377,480 L351,471 L323,470" fill="none" stroke="#000" stroke-width="10" stroke-opacity="0.07" stroke-linecap="round" stroke-linejoin="round"/>
<path d="M438,445 L423,421 L450,418 L477,409 L504,417" fill="none" stroke="#000" stroke-width="10" stroke-opacity="0.07" stroke-linecap="round" stroke-linejoin="round"/>
<path d="M287,887 L286,915 L258,918 L231,927 L235,955" fill="none" stroke="#000" stroke-width="10" stroke-opacity="0.07" stroke-linecap="round" stroke-linejoin="round"/>
<path d="M363,1180 L364,1152 L354,1125 L327,1118 L328,1090" fill="none" stroke="#000" stroke-width="10" stroke-opacity="0.07" stroke-linecap="round" stroke-linejoin="round"/>
<path d="M572,1092 L546,1081 L520,1089 L501,1068 L523,1050" fill="none" stroke="#000" stroke-width="10" stroke-opacity="0.07" stroke-linecap="round" stroke-linejoin="round"/>
<path d="M213,721 L240,714 L243,686 L270,694 L278,721 L305,729" fill="none" stroke="#000" stroke-width="10" stroke-opacity="0.07" stroke-linecap="round" stroke-linejoin="round"/>
<path d="M468,826 L464,854 L442,870 L419,886 L417,914 L422,941 L449,934" fill="none" stroke="#000" stroke-width="10" stroke-opacity="0.07" stroke-linecap="round" stroke-linejoin="round"/>
<path d="M310,592 L287,608 L272,584 L245,593" fill="none" stroke="#000" stroke-width="10" stroke-opacity="0.07" stroke-linecap="round" stroke-linejoin="round"/>
<path d="M441,144 L461,164 L488,158 L508,138 L533,127 L531,155" fill="none" stroke="#000" stroke-width="10" stroke-opacity="0.07" stroke-linecap="round" stroke-linejoin="round"/>
<path d="M458,355 L433,368 L424,394 L451,404 L450,432 L434,454" fill="none" stroke="#000" stroke-width="10" stroke-opacity="0.07" stroke-linecap="round" stroke-linejoin="round"/>
<path d="M132,1139 L152,1160 L179,1153 L201,1135" fill="none" stroke="#000" stroke-width="10" stroke-opacity="0.07" stroke-linecap="round" stroke-linejoin="round"/>
<path d="M413,1185 L439,1195 L462,1210 L489,1220 L516,1216 L538,1198" fill="none" stroke="#000" stroke-width="10" stroke-opacity="0.07" stroke-linecap="round" stroke-linejoin="round"/>
<path d="M603,301 L623,282 L646,298 L651,326" fill="none" stroke="#000" stroke-width="10" stroke-opacity="0.07" stroke-linecap="round" stroke-linejoin="round"/>
<path d="M397,102 L383,126 L400,149 L420,168 L438,189 L411,192" fill="none" stroke="#000" stroke-width="10" stroke-opacity="0.07" stroke-linecap="round" stroke-linejoin="round"/>
<path d="M211,1162 L199,1137 L174,1124 L148,1114 L126,1131 L144,1152 L167,1168" fill="none" stroke="#000" stroke-width="10" stroke-opacity="0.07" stroke-linecap="round" stroke-linejoin="round"/>
<path d="M290,444 L303,419 L322,399 L324,371" fill="none" stroke="#000" stroke-width="10" stroke-opacity="0.07" stroke-linecap="round" stroke-linejoin="round"/>
<path d="M152,1029 L165,1004 L187,987 L211,973" fill="none" stroke="#000" stroke-width="10" stroke-opacity="0.07" stroke-linecap="round" stroke-linejoin="round"/>
<path d="M507,1536 L528,1518 L556,1523 L584,1519 L589,1491 L578,1466" fill="none" stroke="#000" stroke-width="10" stroke-opacity="0.07" stroke-linecap="round" stroke-linejoin="round"/>
<path d="M179,438 L173,411 L178,383 L197,363 L219,380" fill="none" stroke="#000" stroke-width="10" stroke-opacity="0.07" stroke-linecap="round" stroke-linejoin="round"/>
<path d="M549,678 L572,694 L566,721 L563,694" fill="none" stroke="#000" stroke-width="10" stroke-opacity="0.07" stroke-linecap="round" stroke-linejoin="round"/>
<path d="M335,89 L331,62 L358,56 L373,32" fill="none" stroke="#000" stroke-width="10" stroke-opacity="0.07" stroke-linecap="round" stroke-linejoin="round"/>
<path d="M555,1273 L565,1299 L569,1327 L594,1338" fill="none" stroke="#000" stroke-width="10" stroke-opacity="0.07" stroke-linecap="round" stroke-linejoin="round"/>
<path d="M164,917 L191,909 L217,920 L228,946 L250,963 L276,953" fill="none" stroke="#000" stroke-width="10" stroke-opacity="0.07" stroke-linecap="round" stroke-linejoin="round"/>
<path d="M127,1393 L143,1369 L129,1345 L112,1323 L85,1314 L62,1298" fill="none" stroke="#000" stroke-width="10" stroke-opacity="0.07" stroke-linecap="round" stroke-linejoin="round"/>
<path d="M172,1272 L145,1278 L118,1273 L100,1294" fill="none" stroke="#000" stroke-width="10" stroke-opacity="0.07" stroke-linecap="round" stroke-linejoin="round"/>
<path d="M413,1330 L422,1303 L426,1276 L444,1254 L466,1236" fill="none" stroke="#000" stroke-width="10" stroke-opacity="0.07" stroke-linecap="round" stroke-linejoin="round"/>
<path d="M639,1503 L654,1479 L675,1461 L700,1474" fill="none" stroke="#000" stroke-width="10" stroke-opacity="0.07" stroke-linecap="round" stroke-linejoin="round"/>
<path d="M645,612 L672,619 L672,647 L682,673 L684,701" fill="none" stroke="#000" stroke-width="10" stroke-opacity="0.07" stroke-linecap="round" stroke-linejoin="round"/>
<path d="M543,300 L523,319 L495,313 L486,287 L480,260 L464,236" fill="none" stroke="#000" stroke-width="10" stroke-opacity="0.07" stroke-linecap="round" stroke-linejoin="round"/>
<path d="M298,1029 L310,1055 L298,1080 L271,1087" fill="none" stroke="#000" stroke-width="10" stroke-opacity="0.07" stroke-linecap="round" stroke-linejoin="round"/>
<path d="M505,458 L486,480 L510,495 L535,482" fill="none" stroke="#000" stroke-width="10" stroke-opacity="0.07" stroke-linecap="round" stroke-linejoin="round"/>
<path d="M595,849 L578,871 L556,889 L538,910 L519,930" fill="none" stroke="#000" stroke-width="10" stroke-opacity="0.07" stroke-linecap="round" stroke-linejoin="round"/>
<path d="M378,285 L391,261 L419,260 L446,253 L458,227 L480,210 L499,231" fill="none" stroke="#000" stroke-width="10" stroke-opacity="0.07" stroke-linecap="round" stroke-linejoin="round"/>
<path d="M209,130 L221,155 L247,166 L258,191 L241,214 L220,195" fill="none" stroke="#000" stroke-width="10" stroke-opacity="0.07" stroke-linecap="round" stroke-linejoin="round"/>
<path d="M157,191 L136,172 L118,193 L95,210" fill="none" stroke="#000" stroke-width="10" stroke-opacity="0.07" stroke-linecap="round" stroke-linejoin="round"/>
<path d="M276,1500 L274,1528 L250,1542 L233,1565 L244,1591 L270,1601" fill="none" stroke="#000" stroke-width="10" stroke-opacity="0.07" stroke-linecap="round" stroke-linejoin="round"/>
<path d="M515,267 L527,241 L554,233 L569,256 L574,284 L592,263" fill="none" stroke="#000" stroke-width="10" stroke-opacity="0.07" stroke-linecap="round" stroke-linejoin="round"/>
<path d="M86,436 L64,420 L37,428 L22,452 L24,480" fill="none" stroke="#000" stroke-width="10" stroke-opacity="0.07" stroke-linecap="round" stroke-linejoin="round"/>
<path d="M116,219 L96,200 L117,181 L145,182" fill="none" stroke="#000" stroke-width="10" stroke-opacity="0.07" stroke-linecap="round" stroke-linejoin="round"/>
<path d="M324,109 L351,116 L379,116 L407,112 L398,85 L372,77 L357,53" fill="none" stroke="#000" stroke-width="10" stroke-opacity="0.07" stroke-linecap="round" stroke-linejoin="round"/>
<path d="M364,604 L390,594 L370,574 L343,570 L316,561" fill="none" stroke="#000" stroke-width="10" stroke-opacity="0.07" stroke-linecap="round" stroke-linejoin="round"/>
<path d="M199,745 L200,717 L227,709 L237,735 L264,743 L291,751 L311,771" fill="none" stroke="#000" stroke-width="10" stroke-opacity="0.07" stroke-linecap="round" stroke-linejoin="round"/>
<path d="M171,1057 L143,1061 L164,1080 L169,1107 L167,1135" fill="none" stroke="#000" stroke-width="10" stroke-opacity="0.07" stroke-linecap="round" stroke-linejoin="round"/>
<path d="M548,485 L550,457 L523,453 L496,462 L469,469 L494,480 L520,492" fill="none" stroke="#000" stroke-width="10" stroke-opacity="0.07" stroke-linecap="round" stroke-linejoin="round"/>
<path d="M302,888 L309,861 L288,842 L263,854 L237,865 L211,855" fill="none" stroke="#000" stroke-width="10" stroke-opacity="0.07" stroke-linecap="round" stroke-linejoin="round"/>
<path d="M323,837 L329,865 L308,883 L280,881 L265,905" fill="none" stroke="#000" stroke-width="10" stroke-opacity="0.07" stroke-linecap="round" stroke-linejoin="round"/>
<path d="M418,951 L390,955 L367,970 L343,984 L315,978 L329,953 L339,927" fill="none" stroke="#000" stroke-width="10" stroke-opacity="0.07" stroke-linecap="round" stroke-linejoin="round"/>
<path d="M650.0,70.0 C635.0,66.7 598.3,46.7 560.0,50.0 C521.7,53.3 463.3,70.0 420.0,90.0 C376.7,110.0 331.7,145.0 300.0,170.0 C268.3,195.0 255.0,193.3 230.0,240.0 C205.0,286.7 171.7,381.7 150.0,450.0 C128.3,518.3 113.3,583.3 100.0,650.0 C86.7,716.7 74.2,783.3 70.0,850.0 C65.8,916.7 61.7,983.3 75.0,1050.0 C88.3,1116.7 117.5,1186.7 150.0,1250.0 C182.5,1313.3 225.0,1383.3 270.0,1430.0 C315.0,1476.7 365.0,1508.3 420.0,1530.0 C475.0,1551.7 561.7,1558.3 600.0,1560.0 C638.3,1561.7 641.7,1543.3 650.0,1540.0 Z" fill="none" stroke="#555" stroke-width="60" stroke-opacity="0.10"/>
<path d="M650.0,70.0 C635.0,66.7 598.3,46.7 560.0,50.0 C521.7,53.3 463.3,70.0 420.0,90.0 C376.7,110.0 331.7,145.0 300.0,170.0 C268.3,195.0 255.0,193.3 230.0,240.0 C205.0,286.7 171.7,381.7 150.0,450.0 C128.3,518.3 113.3,583.3 100.0,650.0 C86.7,716.7 74.2,783.3 70.0,850.0 C65.8,916.7 61.7,983.3 75.0,1050.0 C88.3,1116.7 117.5,1186.7 150.0,1250.0 C182.5,1313.3 225.0,1383.3 270.0,1430.0 C315.0,1476.7 365.0,1508.3 420.0,1530.0 C475.0,1551.7 561.7,1558.3 600.0,1560.0 C638.3,1561.7 641.7,1543.3 650.0,1540.0 Z" fill="none" stroke="#555" stroke-width="24" stroke-opacity="0.10"/>
</g>
<g clip-path="url(#k1R)">
<path d="M650,0 L1400,0 L1400,1700 L650,1700 Z" fill="#f5ae8e" stroke="#f5ae8e" stroke-width="3" stroke-linejoin="round"/>
<path d="M650,0 L680,-7 L710,-3 L740,3 L770,-14 L800,0 L811,31 L793,62 L804,94 L795,125 L801,156 L788,188 L797,219 L800,250 L833,251 L867,247 L900,250 L910,281 L915,311 L873,342 L897,373 L890,404 L909,434 L895,465 L896,496 L909,526 L880,557 L885,588 L902,619 L889,649 L900,680 L868,673 L839,684 L809,690 L780,700 L779,730 L780,760 L794,790 L784,820 L775,850 L782,880 L769,910 L779,940 L788,970 L780,1000 L748,1012 L715,1009 L682,1000 L650,1000 L648,970 L623,939 L655,909 L666,879 L643,848 L655,818 L642,788 L663,758 L642,727 L648,697 L664,667 L659,636 L647,606 L662,576 L656,545 L661,515 L665,485 L666,455 L641,424 L642,394 L655,364 L647,333 L619,303 L660,273 L637,242 L647,212 L643,182 L647,152 L656,121 L632,91 L647,61 L635,30 Z" fill="#d5e8f2" stroke="#d5e8f2" stroke-width="3" stroke-linejoin="round"/>
<path d="M800,0 L830,-3 L860,3 L890,10 L920,-2 L950,25 L980,9 L1010,12 L1040,7 L1070,-3 L1100,-5 L1130,-9 L1160,0 L1190,-30 L1220,-5 L1250,-0 L1280,-14 L1310,-11 L1340,4 L1370,6 L1400,0 L1397,30 L1423,60 L1381,90 L1402,120 L1370,150 L1400,180 L1395,210 L1404,240 L1394,270 L1383,300 L1395,330 L1390,360 L1393,390 L1400,420 L1373,445 L1336,432 L1309,453 L1274,451 L1247,474 L1210,460 L1184,488 L1145,471 L1120,500 L1094,478 L1078,446 L1039,437 L1025,403 L1000,380 L967,374 L942,350 L916,329 L880,330 L861,295 L822,281 L800,250 L788,219 L796,188 L789,156 L810,125 L803,94 L806,62 L786,31 Z" fill="#d9624f" stroke="#d9624f" stroke-width="3" stroke-linejoin="round"/>
<path d="M650,900 L700,930 L731,911 L764,901 L801,903 L834,893 L860,859 L900,870 L935,867 L968,860 L982,812 L1016,806 L1050,800 L1081,789 L1100,759 L1129,745 L1157,730 L1176,699 L1210,692 L1240,680 L1270,662 L1303,664 L1336,662 L1368,659 L1400,650 L1401,618 L1393,585 L1402,552 L1400,520 L1365,503 L1334,535 L1303,561 L1268,544 L1235,549 L1200,540 L1178,572 L1143,577 L1114,596 L1080,605 L1050,620 L1019,621 L985,608 L959,632 L930,645 L900,650 L878,681 L846,689 L815,699 L780,700 L748,709 L718,730 L682,713 L650,720 L637,750 L645,780 L637,810 L653,840 L645,870 Z" fill="#f8eeea" stroke="#f8eeea" stroke-width="3" stroke-linejoin="round"/>
<path d="M930,1100 L960,1083 L993,1071 L1025,1055 L1050,1030 L1083,1016 L1117,1011 L1151,1013 L1187,1032 L1220,1020 L1243,1050 L1266,1081 L1300,1100 L1302,1133 L1287,1162 L1276,1193 L1294,1229 L1273,1257 L1259,1287 L1254,1318 L1250,1350 L1218,1367 L1183,1372 L1146,1373 L1113,1385 L1080,1400 L1051,1388 L1021,1386 L990,1386 L960,1380 L958,1346 L943,1315 L920,1286 L930,1250 L933,1220 L916,1190 L918,1160 L925,1130 Z" fill="#d5e8f2" stroke="#d5e8f2" stroke-width="3" stroke-linejoin="round"/>
<path d="M740,1560 L752,1529 L746,1496 L774,1467 L764,1433 L760,1400 L793,1399 L826,1377 L860,1403 L894,1399 L927,1397 L960,1390 L989,1379 L1015,1363 L1046,1359 L1068,1334 L1100,1330 L1124,1306 L1162,1314 L1183,1286 L1212,1274 L1244,1269 L1279,1269 L1300,1240 L1281,1271 L1291,1301 L1318,1332 L1287,1363 L1283,1393 L1299,1424 L1292,1455 L1310,1485 L1307,1516 L1301,1547 L1300,1577 L1301,1608 L1296,1639 L1302,1669 L1300,1700 L1269,1686 L1238,1716 L1207,1686 L1176,1689 L1144,1700 L1113,1703 L1082,1693 L1051,1705 L1020,1694 L989,1698 L958,1708 L927,1685 L896,1692 L864,1697 L833,1682 L802,1685 L771,1702 L740,1700 L742,1665 L742,1630 L746,1595 Z" fill="#b0122b" stroke="#b0122b" stroke-width="3" stroke-linejoin="round"/>
<path d="M1096,552 L1094,524 L1071,509 L1043,507 L1039,534" fill="none" stroke="#000" stroke-width="10" stroke-opacity="0.07" stroke-linecap="round" stroke-linejoin="round"/>
<path d="M1170,398 L1186,376 L1169,354 L1172,326 L1192,306" fill="none" stroke="#000" stroke-width="10" stroke-opacity="0.07" stroke-linecap="round" stroke-linejoin="round"/>
<path d="M841,972 L829,997 L850,980 L878,982 L902,967" fill="none" stroke="#000" stroke-width="10" stroke-opacity="0.07" stroke-linecap="round" stroke-linejoin="round"/>
<path d="M1002,1241 L1027,1229 L1039,1203 L1035,1176 L1062,1167 L1073,1142" fill="none" stroke="#000" stroke-width="10" stroke-opacity="0.07" stroke-linecap="round" stroke-linejoin="round"/>
<path d="M1128,236 L1139,262 L1114,275 L1102,300 L1080,317 L1087,344 L1115,338" fill="none" stroke="#000" stroke-width="10" stroke-opacity="0.07" stroke-linecap="round" stroke-linejoin="round"/>
<path d="M1075,1107 L1082,1134 L1054,1140 L1027,1135 L1003,1121 L1029,1111 L1053,1125" fill="none" stroke="#000" stroke-width="10" stroke-opacity="0.07" stroke-linecap="round" stroke-linejoin="round"/>
<path d="M979,1177 L967,1152 L963,1124 L946,1102 L919,1096 L910,1069" fill="none" stroke="#000" stroke-width="10" stroke-opacity="0.07" stroke-linecap="round" stroke-linejoin="round"/>
<path d="M989,1514 L1017,1519 L1036,1539 L1050,1515" fill="none" stroke="#000" stroke-width="10" stroke-opacity="0.07" stroke-linecap="round" stroke-linejoin="round"/>
<path d="M1009,1216 L1003,1189 L1012,1162 L1002,1136" fill="none" stroke="#000" stroke-width="10" stroke-opacity="0.07" stroke-linecap="round" stroke-linejoin="round"/>
<path d="M1165,1080 L1193,1081 L1204,1106 L1182,1123" fill="none" stroke="#000" stroke-width="10" stroke-opacity="0.07" stroke-linecap="round" stroke-linejoin="round"/>
<path d="M871,315 L851,295 L835,272 L829,245 L824,217 L798,207" fill="none" stroke="#000" stroke-width="10" stroke-opacity="0.07" stroke-linecap="round" stroke-linejoin="round"/>
<path d="M860,680 L834,668 L806,667 L780,676" fill="none" stroke="#000" stroke-width="10" stroke-opacity="0.07" stroke-linecap="round" stroke-linejoin="round"/>
<path d="M745,1427 L755,1454 L744,1479 L738,1506 L749,1532" fill="none" stroke="#000" stroke-width="10" stroke-opacity="0.07" stroke-linecap="round" stroke-linejoin="round"/>
<path d="M764,1402 L762,1430 L759,1458 L740,1479 L755,1502 L735,1522" fill="none" stroke="#000" stroke-width="10" stroke-opacity="0.07" stroke-linecap="round" stroke-linejoin="round"/>
<path d="M741,640 L713,642 L693,661 L712,681" fill="none" stroke="#000" stroke-width="10" stroke-opacity="0.07" stroke-linecap="round" stroke-linejoin="round"/>
<path d="M973,926 L956,948 L938,970 L917,988 L923,1016 L948,1028" fill="none" stroke="#000" stroke-width="10" stroke-opacity="0.07" stroke-linecap="round" stroke-linejoin="round"/>
<path d="M1182,1176 L1156,1165 L1146,1139 L1162,1116 L1168,1089 L1194,1079" fill="none" stroke="#000" stroke-width="10" stroke-opacity="0.07" stroke-linecap="round" stroke-linejoin="round"/>
<path d="M952,661 L947,688 L935,714 L909,704 L882,711" fill="none" stroke="#000" stroke-width="10" stroke-opacity="0.07" stroke-linecap="round" stroke-linejoin="round"/>
<path d="M1207,498 L1218,523 L1236,502 L1209,494 L1181,490 L1154,486" fill="none" stroke="#000" stroke-width="10" stroke-opacity="0.07" stroke-linecap="round" stroke-linejoin="round"/>
<path d="M760,754 L733,744 L711,728 L683,727 L671,702" fill="none" stroke="#000" stroke-width="10" stroke-opacity="0.07" stroke-linecap="round" stroke-linejoin="round"/>
<path d="M1249,1268 L1273,1255 L1275,1227 L1281,1200 L1309,1205 L1337,1208 L1363,1218" fill="none" stroke="#000" stroke-width="10" stroke-opacity="0.07" stroke-linecap="round" stroke-linejoin="round"/>
<path d="M811,117 L827,94 L836,68 L864,63 L883,83 L909,95" fill="none" stroke="#000" stroke-width="10" stroke-opacity="0.07" stroke-linecap="round" stroke-linejoin="round"/>
<path d="M1109,1343 L1125,1321 L1150,1333 L1171,1351 L1195,1367 L1215,1385" fill="none" stroke="#000" stroke-width="10" stroke-opacity="0.07" stroke-linecap="round" stroke-linejoin="round"/>
<path d="M1037,1554 L1017,1535 L1045,1534 L1070,1546 L1069,1574 L1059,1601" fill="none" stroke="#000" stroke-width="10" stroke-opacity="0.07" stroke-linecap="round" stroke-linejoin="round"/>
<path d="M990,1488 L1008,1467 L1026,1445 L1041,1421 L1034,1394 L1015,1374 L1034,1353" fill="none" stroke="#000" stroke-width="10" stroke-opacity="0.07" stroke-linecap="round" stroke-linejoin="round"/>
<path d="M1022,760 L1000,778 L976,792 L987,818 L988,846 L961,843 L936,829" fill="none" stroke="#000" stroke-width="10" stroke-opacity="0.07" stroke-linecap="round" stroke-linejoin="round"/>
<path d="M762,1363 L788,1353 L815,1349 L796,1329" fill="none" stroke="#000" stroke-width="10" stroke-opacity="0.07" stroke-linecap="round" stroke-linejoin="round"/>
<path d="M1082,1068 L1055,1062 L1042,1087 L1045,1115 L1036,1141 L1063,1149" fill="none" stroke="#000" stroke-width="10" stroke-opacity="0.07" stroke-linecap="round" stroke-linejoin="round"/>
<path d="M1245,719 L1245,747 L1273,745 L1279,773 L1292,797" fill="none" stroke="#000" stroke-width="10" stroke-opacity="0.07" stroke-linecap="round" stroke-linejoin="round"/>
<path d="M829,382 L849,362 L847,335 L843,307" fill="none" stroke="#000" stroke-width="10" stroke-opacity="0.07" stroke-linecap="round" stroke-linejoin="round"/>
<path d="M786,1308 L759,1299 L751,1326 L749,1354 L729,1373 L734,1400" fill="none" stroke="#000" stroke-width="10" stroke-opacity="0.07" stroke-linecap="round" stroke-linejoin="round"/>
<path d="M904,1323 L883,1342 L855,1344 L835,1364 L832,1392 L804,1392 L799,1365" fill="none" stroke="#000" stroke-width="10" stroke-opacity="0.07" stroke-linecap="round" stroke-linejoin="round"/>
<path d="M872,1273 L887,1297 L901,1321 L912,1346 L896,1369 L884,1343" fill="none" stroke="#000" stroke-width="10" stroke-opacity="0.07" stroke-linecap="round" stroke-linejoin="round"/>
<path d="M986,100 L990,72 L976,48 L969,21 L953,-2 L969,-24" fill="none" stroke="#000" stroke-width="10" stroke-opacity="0.07" stroke-linecap="round" stroke-linejoin="round"/>
<path d="M844,682 L842,710 L826,733 L825,761 L818,788 L830,763" fill="none" stroke="#000" stroke-width="10" stroke-opacity="0.07" stroke-linecap="round" stroke-linejoin="round"/>
<path d="M707,1162 L679,1157 L665,1181 L662,1209" fill="none" stroke="#000" stroke-width="10" stroke-opacity="0.07" stroke-linecap="round" stroke-linejoin="round"/>
<path d="M843,594 L835,621 L826,594 L818,567 L820,539" fill="none" stroke="#000" stroke-width="10" stroke-opacity="0.07" stroke-linecap="round" stroke-linejoin="round"/>
<path d="M1167,981 L1139,975 L1111,978 L1086,966 L1067,946 L1039,951 L1011,951" fill="none" stroke="#000" stroke-width="10" stroke-opacity="0.07" stroke-linecap="round" stroke-linejoin="round"/>
<path d="M1046,1068 L1074,1070 L1101,1076 L1128,1082 L1150,1100 L1178,1101" fill="none" stroke="#000" stroke-width="10" stroke-opacity="0.07" stroke-linecap="round" stroke-linejoin="round"/>
<path d="M963,913 L985,895 L1002,873 L975,880 L964,907 L946,927" fill="none" stroke="#000" stroke-width="10" stroke-opacity="0.07" stroke-linecap="round" stroke-linejoin="round"/>
<path d="M813,243 L833,224 L849,201 L841,174 L817,189" fill="none" stroke="#000" stroke-width="10" stroke-opacity="0.07" stroke-linecap="round" stroke-linejoin="round"/>
<path d="M948,1265 L974,1256 L991,1279 L1014,1262 L1032,1284 L1060,1285" fill="none" stroke="#000" stroke-width="10" stroke-opacity="0.07" stroke-linecap="round" stroke-linejoin="round"/>
<path d="M766,842 L772,815 L767,788 L777,762" fill="none" stroke="#000" stroke-width="10" stroke-opacity="0.07" stroke-linecap="round" stroke-linejoin="round"/>
<path d="M1188,1044 L1166,1026 L1168,1054 L1170,1082 L1174,1110 L1155,1130" fill="none" stroke="#000" stroke-width="10" stroke-opacity="0.07" stroke-linecap="round" stroke-linejoin="round"/>
<path d="M720,931 L714,904 L711,876 L738,868 L762,854" fill="none" stroke="#000" stroke-width="10" stroke-opacity="0.07" stroke-linecap="round" stroke-linejoin="round"/>
<path d="M1029,1407 L1042,1383 L1049,1356 L1055,1328 L1082,1323 L1109,1330 L1137,1323" fill="none" stroke="#000" stroke-width="10" stroke-opacity="0.07" stroke-linecap="round" stroke-linejoin="round"/>
<path d="M975,521 L949,512 L928,494 L916,519 L888,523 L861,516 L835,528" fill="none" stroke="#000" stroke-width="10" stroke-opacity="0.07" stroke-linecap="round" stroke-linejoin="round"/>
<path d="M800,1315 L781,1336 L753,1335 L773,1315 L796,1299 L824,1299" fill="none" stroke="#000" stroke-width="10" stroke-opacity="0.07" stroke-linecap="round" stroke-linejoin="round"/>
<path d="M1172,455 L1198,466 L1199,494 L1188,520 L1213,533 L1222,560" fill="none" stroke="#000" stroke-width="10" stroke-opacity="0.07" stroke-linecap="round" stroke-linejoin="round"/>
<path d="M1091,715 L1119,717 L1122,745 L1110,770" fill="none" stroke="#000" stroke-width="10" stroke-opacity="0.07" stroke-linecap="round" stroke-linejoin="round"/>
<path d="M917,978 L911,1005 L893,1026 L882,1052 L905,1068" fill="none" stroke="#000" stroke-width="10" stroke-opacity="0.07" stroke-linecap="round" stroke-linejoin="round"/>
<path d="M1085,1034 L1074,1060 L1093,1080 L1083,1106 L1074,1132 L1049,1146" fill="none" stroke="#000" stroke-width="10" stroke-opacity="0.07" stroke-linecap="round" stroke-linejoin="round"/>
<path d="M970,336 L943,328 L917,336 L893,351 L866,361" fill="none" stroke="#000" stroke-width="10" stroke-opacity="0.07" stroke-linecap="round" stroke-linejoin="round"/>
<path d="M1146,1192 L1168,1175 L1180,1150 L1153,1159" fill="none" stroke="#000" stroke-width="10" stroke-opacity="0.07" stroke-linecap="round" stroke-linejoin="round"/>
<path d="M742,1241 L719,1225 L739,1205 L767,1203" fill="none" stroke="#000" stroke-width="10" stroke-opacity="0.07" stroke-linecap="round" stroke-linejoin="round"/>
<path d="M1039,1030 L1058,1010 L1076,989 L1071,961 L1055,984 L1045,1010" fill="none" stroke="#000" stroke-width="10" stroke-opacity="0.07" stroke-linecap="round" stroke-linejoin="round"/>
<path d="M841,330 L821,310 L793,311 L765,306 L739,313 L722,336" fill="none" stroke="#000" stroke-width="10" stroke-opacity="0.07" stroke-linecap="round" stroke-linejoin="round"/>
<path d="M818,1049 L815,1077 L820,1104 L801,1125 L774,1116 L749,1129" fill="none" stroke="#000" stroke-width="10" stroke-opacity="0.07" stroke-linecap="round" stroke-linejoin="round"/>
<path d="M996,322 L982,346 L961,365 L933,368 L914,389 L902,363" fill="none" stroke="#000" stroke-width="10" stroke-opacity="0.07" stroke-linecap="round" stroke-linejoin="round"/>
<path d="M853,706 L867,730 L892,718 L911,697 L929,676 L957,677" fill="none" stroke="#000" stroke-width="10" stroke-opacity="0.07" stroke-linecap="round" stroke-linejoin="round"/>
<path d="M896,321 L924,324 L930,351 L914,374" fill="none" stroke="#000" stroke-width="10" stroke-opacity="0.07" stroke-linecap="round" stroke-linejoin="round"/>
<path d="M839,1128 L867,1131 L884,1108 L884,1080 L883,1052 L894,1027 L910,1003" fill="none" stroke="#000" stroke-width="10" stroke-opacity="0.07" stroke-linecap="round" stroke-linejoin="round"/>
<path d="M1051,1545 L1037,1521 L1012,1509 L995,1487 L997,1515" fill="none" stroke="#000" stroke-width="10" stroke-opacity="0.07" stroke-linecap="round" stroke-linejoin="round"/>
<path d="M876,983 L857,963 L881,949 L886,921 L890,893 L912,875 L911,847" fill="none" stroke="#000" stroke-width="10" stroke-opacity="0.07" stroke-linecap="round" stroke-linejoin="round"/>
<path d="M1070,1521 L1097,1513 L1124,1505 L1122,1532 L1102,1552 L1076,1563" fill="none" stroke="#000" stroke-width="10" stroke-opacity="0.07" stroke-linecap="round" stroke-linejoin="round"/>
<path d="M1044,1106 L1018,1095 L1025,1068 L1053,1065 L1050,1038 L1026,1024" fill="none" stroke="#000" stroke-width="10" stroke-opacity="0.07" stroke-linecap="round" stroke-linejoin="round"/>
<path d="M885,1067 L857,1070 L834,1053 L818,1075" fill="none" stroke="#000" stroke-width="10" stroke-opacity="0.07" stroke-linecap="round" stroke-linejoin="round"/>
<path d="M701,264 L714,239 L695,260 L667,256 L651,278 L627,294 L624,321" fill="none" stroke="#000" stroke-width="10" stroke-opacity="0.07" stroke-linecap="round" stroke-linejoin="round"/>
<path d="M795,1382 L775,1401 L749,1412 L775,1424 L776,1452 L768,1479" fill="none" stroke="#000" stroke-width="10" stroke-opacity="0.07" stroke-linecap="round" stroke-linejoin="round"/>
<path d="M976,487 L976,515 L986,541 L1002,564" fill="none" stroke="#000" stroke-width="10" stroke-opacity="0.07" stroke-linecap="round" stroke-linejoin="round"/>
<path d="M672.0,70.0 C680.0,65.8 682.0,41.7 720.0,45.0 C758.0,48.3 840.0,55.8 900.0,90.0 C960.0,124.2 1030.0,181.7 1080.0,250.0 C1130.0,318.3 1170.0,408.3 1200.0,500.0 C1230.0,591.7 1253.3,708.3 1260.0,800.0 C1266.7,891.7 1253.3,975.0 1240.0,1050.0 C1226.7,1125.0 1211.7,1183.3 1180.0,1250.0 C1148.3,1316.7 1105.0,1398.3 1050.0,1450.0 C995.0,1501.7 908.3,1541.7 850.0,1560.0 C791.7,1578.3 729.7,1563.3 700.0,1560.0 C670.3,1556.7 676.7,1543.3 672.0,1540.0 Z" fill="none" stroke="#555" stroke-width="60" stroke-opacity="0.10"/>
<path d="M672.0,70.0 C680.0,65.8 682.0,41.7 720.0,45.0 C758.0,48.3 840.0,55.8 900.0,90.0 C960.0,124.2 1030.0,181.7 1080.0,250.0 C1130.0,318.3 1170.0,408.3 1200.0,500.0 C1230.0,591.7 1253.3,708.3 1260.0,800.0 C1266.7,891.7 1253.3,975.0 1240.0,1050.0 C1226.7,1125.0 1211.7,1183.3 1180.0,1250.0 C1148.3,1316.7 1105.0,1398.3 1050.0,1450.0 C995.0,1501.7 908.3,1541.7 850.0,1560.0 C791.7,1578.3 729.7,1563.3 700.0,1560.0 C670.3,1556.7 676.7,1543.3 672.0,1540.0 Z" fill="none" stroke="#555" stroke-width="24" stroke-opacity="0.10"/>
</g>
<path d="M650.0,70.0 C635.0,66.7 598.3,46.7 560.0,50.0 C521.7,53.3 463.3,70.0 420.0,90.0 C376.7,110.0 331.7,145.0 300.0,170.0 C268.3,195.0 255.0,193.3 230.0,240.0 C205.0,286.7 171.7,381.7 150.0,450.0 C128.3,518.3 113.3,583.3 100.0,650.0 C86.7,716.7 74.2,783.3 70.0,850.0 C65.8,916.7 61.7,983.3 75.0,1050.0 C88.3,1116.7 117.5,1186.7 150.0,1250.0 C182.5,1313.3 225.0,1383.3 270.0,1430.0 C315.0,1476.7 365.0,1508.3 420.0,1530.0 C475.0,1551.7 561.7,1558.3 600.0,1560.0 C638.3,1561.7 641.7,1543.3 650.0,1540.0 Z" fill="none" stroke="#bbb" stroke-width="6" stroke-opacity="0.5"/>
<path d="M672.0,70.0 C680.0,65.8 682.0,41.7 720.0,45.0 C758.0,48.3 840.0,55.8 900.0,90.0 C960.0,124.2 1030.0,181.7 1080.0,250.0 C1130.0,318.3 1170.0,408.3 1200.0,500.0 C1230.0,591.7 1253.3,708.3 1260.0,800.0 C1266.7,891.7 1253.3,975.0 1240.0,1050.0 C1226.7,1125.0 1211.7,1183.3 1180.0,1250.0 C1148.3,1316.7 1105.0,1398.3 1050.0,1450.0 C995.0,1501.7 908.3,1541.7 850.0,1560.0 C791.7,1578.3 729.7,1563.3 700.0,1560.0 C670.3,1556.7 676.7,1543.3 672.0,1540.0 Z" fill="none" stroke="#bbb" stroke-width="6" stroke-opacity="0.5"/>
</g>
<g transform="translate(1645,1355) scale(0.09542)">
<defs><clipPath id="k2L"><path d="M850.0,120.0 C825.0,114.2 775.0,68.3 700.0,85.0 C625.0,101.7 486.7,159.2 400.0,220.0 C313.3,280.8 230.0,370.0 180.0,450.0 C130.0,530.0 115.0,616.7 100.0,700.0 C85.0,783.3 85.0,866.7 90.0,950.0 C95.0,1033.3 103.3,1125.0 130.0,1200.0 C156.7,1275.0 196.7,1350.0 250.0,1400.0 C303.3,1450.0 388.3,1480.0 450.0,1500.0 C511.7,1520.0 581.7,1536.7 620.0,1520.0 C658.3,1503.3 668.3,1436.7 680.0,1400.0 C691.7,1363.3 661.7,1315.0 690.0,1300.0 C718.3,1285.0 823.3,1308.3 850.0,1310.0 Z"/></clipPath><clipPath id="k2R"><path d="M880.0,100.0 C916.7,105.0 1021.7,100.0 1100.0,130.0 C1178.3,160.0 1278.3,218.3 1350.0,280.0 C1421.7,341.7 1488.3,413.3 1530.0,500.0 C1571.7,586.7 1586.7,700.0 1600.0,800.0 C1613.3,900.0 1620.0,1008.3 1610.0,1100.0 C1600.0,1191.7 1575.0,1286.7 1540.0,1350.0 C1505.0,1413.3 1465.0,1451.7 1400.0,1480.0 C1335.0,1508.3 1203.3,1533.3 1150.0,1520.0 C1096.7,1506.7 1093.3,1436.7 1080.0,1400.0 C1066.7,1363.3 1103.3,1316.7 1070.0,1300.0 C1036.7,1283.3 911.7,1300.0 880.0,1300.0 Z"/></clipPath></defs>
<g clip-path="url(#k2L)">
<path d="M0,0 L900,0 L900,1700 L0,1700 Z" fill="#f2b196" stroke="#f2b196" stroke-width="3" stroke-linejoin="round"/>
<path d="M180,450 L207,431 L223,403 L241,376 L250,342 L278,323 L300,300 L307,330 L307,360 L316,389 L316,420 L326,449 L318,480 L333,509 L308,542 L331,570 L330,600 L307,624 L311,657 L299,685 L276,709 L282,743 L253,765 L260,800 L271,829 L263,861 L266,891 L275,920 L285,949 L270,982 L291,1010 L291,1040 L310,1068 L300,1100 L319,1125 L351,1140 L347,1182 L370,1204 L382,1234 L413,1250 L422,1282 L450,1300 L483,1315 L516,1290 L549,1295 L581,1292 L614,1308 L647,1311 L680,1300 L650,1312 L632,1342 L600,1350 L567,1351 L533,1352 L500,1361 L467,1338 L433,1329 L400,1350 L385,1315 L345,1312 L331,1276 L285,1279 L264,1252 L249,1217 L220,1200 L204,1171 L200,1138 L210,1102 L183,1076 L182,1042 L166,1013 L165,979 L150,950 L157,918 L143,888 L134,857 L146,824 L126,795 L145,762 L136,731 L130,700 L143,670 L127,634 L163,609 L151,574 L157,543 L150,509 L170,480 Z" fill="#f6f4f2" stroke="#f6f4f2" stroke-width="3" stroke-linejoin="round"/>
<path d="M280,270 L560,200 L580,530 L300,540 Z" fill="#f6c3a8" stroke="#f6c3a8" stroke-width="3" stroke-linejoin="round"/>
<path d="M560,130 L590,120 L620,140 L650,127 L680,123 L710,142 L740,116 L770,118 L800,123 L830,141 L860,130 L867,160 L861,191 L867,221 L872,251 L863,282 L858,312 L874,342 L860,373 L884,403 L870,433 L852,464 L863,494 L854,524 L849,555 L854,585 L857,616 L853,646 L859,676 L864,707 L853,737 L856,767 L858,798 L845,828 L857,858 L837,889 L873,919 L850,949 L859,980 L860,1010 L829,998 L796,1010 L765,990 L733,989 L700,1000 L688,964 L661,936 L650,900 L646,869 L634,839 L637,807 L617,779 L616,747 L609,717 L628,682 L616,652 L595,624 L602,591 L600,560 L610,528 L593,499 L579,469 L582,438 L588,406 L594,375 L573,346 L557,316 L578,283 L569,253 L553,224 L551,193 L558,161 Z" fill="#d5e8f2" stroke="#d5e8f2" stroke-width="3" stroke-linejoin="round"/>
<path d="M270,520 L299,500 L330,499 L364,512 L395,513 L426,504 L455,487 L487,495 L516,475 L550,491 L580,480 L604,501 L603,542 L634,557 L654,581 L680,600 L678,632 L669,664 L690,695 L691,726 L697,758 L685,790 L699,821 L692,853 L691,885 L683,917 L719,947 L700,980 L732,973 L758,1000 L787,1015 L820,1000 L819,1030 L823,1060 L829,1090 L818,1121 L830,1150 L798,1168 L770,1194 L727,1193 L700,1220 L668,1227 L637,1212 L606,1212 L573,1219 L543,1205 L511,1207 L480,1200 L453,1182 L424,1169 L392,1165 L363,1152 L330,1150 L331,1118 L304,1090 L310,1057 L315,1025 L309,994 L315,962 L297,932 L300,900 L306,864 L281,835 L266,803 L277,766 L261,734 L260,700 L259,670 L279,641 L269,610 L271,580 L273,550 Z" fill="#cf5b45" stroke="#cf5b45" stroke-width="3" stroke-linejoin="round"/>
<path d="M200,700 L233,681 L270,690 L299,679 L330,680 L339,712 L326,745 L338,776 L335,808 L340,840 L337,872 L342,904 L320,935 L316,967 L330,1000 L298,993 L270,1010 L220,1000 L233,969 L210,940 L220,910 L224,879 L210,850 L222,819 L192,791 L194,761 L212,729 Z" fill="#e8b8a0" stroke="#e8b8a0" stroke-width="3" stroke-linejoin="round"/>
<path d="M440,1300 L477,1277 L520,1270 L555,1261 L590,1264 L625,1280 L660,1270 L659,1307 L671,1343 L670,1380 L674,1417 L666,1454 L680,1490 L649,1497 L620,1489 L588,1502 L560,1480 L526,1477 L493,1483 L460,1490 L437,1462 L450,1430 L450,1400 L420,1369 L437,1334 Z" fill="#1c5c9b" stroke="#1c5c9b" stroke-width="3" stroke-linejoin="round"/>
<path d="M680,742 L642,731 L621,764 L595,795" fill="none" stroke="#000" stroke-width="14" stroke-opacity="0.1" stroke-linecap="round" stroke-linejoin="round"/>
<path d="M690,323 L656,301 L647,262 L641,223 L673,200 L713,195" fill="none" stroke="#000" stroke-width="14" stroke-opacity="0.1" stroke-linecap="round" stroke-linejoin="round"/>
<path d="M270,899 L308,912 L347,919 L382,899 L413,925 L447,946 L486,951" fill="none" stroke="#000" stroke-width="14" stroke-opacity="0.1" stroke-linecap="round" stroke-linejoin="round"/>
<path d="M246,780 L277,805 L294,841 L255,837 L216,848 L188,877 L190,917" fill="none" stroke="#000" stroke-width="14" stroke-opacity="0.1" stroke-linecap="round" stroke-linejoin="round"/>
<path d="M452,406 L492,405 L524,429 L532,469 L518,506 L530,544" fill="none" stroke="#000" stroke-width="14" stroke-opacity="0.1" stroke-linecap="round" stroke-linejoin="round"/>
<path d="M704,673 L668,691 L629,700 L593,683 L558,663" fill="none" stroke="#000" stroke-width="14" stroke-opacity="0.1" stroke-linecap="round" stroke-linejoin="round"/>
<path d="M690,1048 L663,1018 L624,1011 L584,1015 L577,976" fill="none" stroke="#000" stroke-width="14" stroke-opacity="0.1" stroke-linecap="round" stroke-linejoin="round"/>
<path d="M601,786 L561,783 L523,774 L495,744 L494,704 L521,675 L537,638" fill="none" stroke="#000" stroke-width="14" stroke-opacity="0.1" stroke-linecap="round" stroke-linejoin="round"/>
<path d="M428,440 L433,479 L468,499 L489,533 L505,569 L494,608 L501,647" fill="none" stroke="#000" stroke-width="14" stroke-opacity="0.1" stroke-linecap="round" stroke-linejoin="round"/>
<path d="M688,1047 L648,1052 L620,1081 L604,1117 L603,1157 L640,1173 L665,1204" fill="none" stroke="#000" stroke-width="14" stroke-opacity="0.1" stroke-linecap="round" stroke-linejoin="round"/>
<path d="M221,826 L219,866 L221,906 L239,942 L260,976" fill="none" stroke="#000" stroke-width="14" stroke-opacity="0.1" stroke-linecap="round" stroke-linejoin="round"/>
<path d="M371,268 L410,258 L450,264 L479,236 L495,200 L535,206" fill="none" stroke="#000" stroke-width="14" stroke-opacity="0.1" stroke-linecap="round" stroke-linejoin="round"/>
<path d="M684,1118 L672,1156 L674,1196 L645,1224 L677,1248 L695,1283" fill="none" stroke="#000" stroke-width="14" stroke-opacity="0.1" stroke-linecap="round" stroke-linejoin="round"/>
<path d="M534,389 L561,359 L570,320 L587,284 L605,248" fill="none" stroke="#000" stroke-width="14" stroke-opacity="0.1" stroke-linecap="round" stroke-linejoin="round"/>
<path d="M538,1027 L567,1055 L547,1089 L508,1097 L468,1090 L470,1050 L434,1034" fill="none" stroke="#000" stroke-width="14" stroke-opacity="0.1" stroke-linecap="round" stroke-linejoin="round"/>
<path d="M228,1399 L202,1429 L163,1439 L127,1456 L141,1494" fill="none" stroke="#000" stroke-width="14" stroke-opacity="0.1" stroke-linecap="round" stroke-linejoin="round"/>
<path d="M462,1207 L423,1195 L393,1169 L355,1180 L384,1207" fill="none" stroke="#000" stroke-width="14" stroke-opacity="0.1" stroke-linecap="round" stroke-linejoin="round"/>
<path d="M300,598 L265,616 L232,640 L196,622 L163,600" fill="none" stroke="#000" stroke-width="14" stroke-opacity="0.1" stroke-linecap="round" stroke-linejoin="round"/>
<path d="M205,898 L238,921 L208,949 L175,972 L138,957 L98,963" fill="none" stroke="#000" stroke-width="14" stroke-opacity="0.1" stroke-linecap="round" stroke-linejoin="round"/>
<path d="M273,201 L304,176 L307,136 L339,112 L340,72 L372,48" fill="none" stroke="#000" stroke-width="14" stroke-opacity="0.1" stroke-linecap="round" stroke-linejoin="round"/>
<path d="M318,845 L300,881 L298,921 L336,935 L360,904 L390,877 L417,907" fill="none" stroke="#000" stroke-width="14" stroke-opacity="0.1" stroke-linecap="round" stroke-linejoin="round"/>
<path d="M768,1356 L762,1317 L765,1277 L752,1239 L780,1210 L817,1196 L833,1232" fill="none" stroke="#000" stroke-width="14" stroke-opacity="0.1" stroke-linecap="round" stroke-linejoin="round"/>
<path d="M297,1415 L257,1411 L217,1414 L181,1432" fill="none" stroke="#000" stroke-width="14" stroke-opacity="0.1" stroke-linecap="round" stroke-linejoin="round"/>
<path d="M550,1331 L587,1344 L609,1377 L643,1399" fill="none" stroke="#000" stroke-width="14" stroke-opacity="0.1" stroke-linecap="round" stroke-linejoin="round"/>
<path d="M476,344 L515,351 L542,381 L556,343" fill="none" stroke="#000" stroke-width="14" stroke-opacity="0.1" stroke-linecap="round" stroke-linejoin="round"/>
<path d="M480,1087 L442,1102 L412,1128 L373,1119" fill="none" stroke="#000" stroke-width="14" stroke-opacity="0.1" stroke-linecap="round" stroke-linejoin="round"/>
<path d="M654,327 L693,338 L733,337 L755,370 L758,410 L719,422" fill="none" stroke="#000" stroke-width="14" stroke-opacity="0.1" stroke-linecap="round" stroke-linejoin="round"/>
<path d="M315,1398 L352,1414 L385,1436 L420,1416 L457,1400 L496,1392 L469,1422" fill="none" stroke="#000" stroke-width="14" stroke-opacity="0.1" stroke-linecap="round" stroke-linejoin="round"/>
<path d="M547,1410 L537,1371 L540,1331 L578,1319 L599,1285" fill="none" stroke="#000" stroke-width="14" stroke-opacity="0.1" stroke-linecap="round" stroke-linejoin="round"/>
<path d="M698,464 L672,495 L665,534 L691,564 L720,592" fill="none" stroke="#000" stroke-width="14" stroke-opacity="0.1" stroke-linecap="round" stroke-linejoin="round"/>
<path d="M751,763 L786,781 L760,810 L779,775 L754,744" fill="none" stroke="#000" stroke-width="14" stroke-opacity="0.1" stroke-linecap="round" stroke-linejoin="round"/>
<path d="M546,347 L526,313 L498,284 L499,244" fill="none" stroke="#000" stroke-width="14" stroke-opacity="0.1" stroke-linecap="round" stroke-linejoin="round"/>
<path d="M224,534 L254,561 L290,579 L321,604 L360,610" fill="none" stroke="#000" stroke-width="14" stroke-opacity="0.1" stroke-linecap="round" stroke-linejoin="round"/>
<path d="M543,1069 L505,1081 L467,1092 L428,1102" fill="none" stroke="#000" stroke-width="14" stroke-opacity="0.1" stroke-linecap="round" stroke-linejoin="round"/>
<path d="M738,209 L699,205 L702,165 L721,130 L710,91 L670,84 L662,45" fill="none" stroke="#000" stroke-width="14" stroke-opacity="0.1" stroke-linecap="round" stroke-linejoin="round"/>
<path d="M139,1399 L140,1439 L123,1475 L148,1506" fill="none" stroke="#000" stroke-width="14" stroke-opacity="0.1" stroke-linecap="round" stroke-linejoin="round"/>
<path d="M702,1202 L673,1174 L639,1153 L608,1128 L631,1095 L594,1110" fill="none" stroke="#000" stroke-width="14" stroke-opacity="0.1" stroke-linecap="round" stroke-linejoin="round"/>
<path d="M389,1013 L399,1052 L435,1034 L475,1029 L474,1069 L514,1072 L538,1104" fill="none" stroke="#000" stroke-width="14" stroke-opacity="0.1" stroke-linecap="round" stroke-linejoin="round"/>
<path d="M346,662 L377,637 L417,634 L414,674" fill="none" stroke="#000" stroke-width="14" stroke-opacity="0.1" stroke-linecap="round" stroke-linejoin="round"/>
<path d="M346,873 L381,853 L419,866 L459,866 L499,870" fill="none" stroke="#000" stroke-width="14" stroke-opacity="0.1" stroke-linecap="round" stroke-linejoin="round"/>
<path d="M316,1142 L335,1177 L310,1208 L270,1214 L275,1174 L304,1148" fill="none" stroke="#000" stroke-width="14" stroke-opacity="0.1" stroke-linecap="round" stroke-linejoin="round"/>
<path d="M802,336 L830,307 L860,334 L868,373 L899,398 L937,385" fill="none" stroke="#000" stroke-width="14" stroke-opacity="0.1" stroke-linecap="round" stroke-linejoin="round"/>
<path d="M290,947 L330,944 L348,980 L343,1020 L376,998 L414,987" fill="none" stroke="#000" stroke-width="14" stroke-opacity="0.1" stroke-linecap="round" stroke-linejoin="round"/>
<path d="M673,1229 L694,1263 L730,1280 L750,1314 L784,1293 L809,1325" fill="none" stroke="#000" stroke-width="14" stroke-opacity="0.1" stroke-linecap="round" stroke-linejoin="round"/>
<path d="M593,715 L631,701 L671,697 L710,701" fill="none" stroke="#000" stroke-width="14" stroke-opacity="0.1" stroke-linecap="round" stroke-linejoin="round"/>
<path d="M850.0,120.0 C825.0,114.2 775.0,68.3 700.0,85.0 C625.0,101.7 486.7,159.2 400.0,220.0 C313.3,280.8 230.0,370.0 180.0,450.0 C130.0,530.0 115.0,616.7 100.0,700.0 C85.0,783.3 85.0,866.7 90.0,950.0 C95.0,1033.3 103.3,1125.0 130.0,1200.0 C156.7,1275.0 196.7,1350.0 250.0,1400.0 C303.3,1450.0 388.3,1480.0 450.0,1500.0 C511.7,1520.0 581.7,1536.7 620.0,1520.0 C658.3,1503.3 668.3,1436.7 680.0,1400.0 C691.7,1363.3 661.7,1315.0 690.0,1300.0 C718.3,1285.0 823.3,1308.3 850.0,1310.0 Z" fill="none" stroke="#555" stroke-width="60" stroke-opacity="0.10"/>
<path d="M850.0,120.0 C825.0,114.2 775.0,68.3 700.0,85.0 C625.0,101.7 486.7,159.2 400.0,220.0 C313.3,280.8 230.0,370.0 180.0,450.0 C130.0,530.0 115.0,616.7 100.0,700.0 C85.0,783.3 85.0,866.7 90.0,950.0 C95.0,1033.3 103.3,1125.0 130.0,1200.0 C156.7,1275.0 196.7,1350.0 250.0,1400.0 C303.3,1450.0 388.3,1480.0 450.0,1500.0 C511.7,1520.0 581.7,1536.7 620.0,1520.0 C658.3,1503.3 668.3,1436.7 680.0,1400.0 C691.7,1363.3 661.7,1315.0 690.0,1300.0 C718.3,1285.0 823.3,1308.3 850.0,1310.0 Z" fill="none" stroke="#555" stroke-width="24" stroke-opacity="0.10"/>
</g>
<g clip-path="url(#k2R)">
<path d="M850,0 L1700,0 L1700,1700 L850,1700 Z" fill="#f0a284" stroke="#f0a284" stroke-width="3" stroke-linejoin="round"/>
<path d="M880,100 L912,106 L946,86 L978,91 L1009,112 L1042,101 L1074,109 L1105,121 L1137,134 L1170,120 L1174,152 L1160,184 L1143,215 L1159,248 L1160,280 L1185,298 L1214,309 L1227,342 L1258,352 L1275,380 L1295,403 L1332,404 L1353,428 L1376,447 L1398,468 L1425,483 L1450,500 L1465,530 L1456,561 L1457,592 L1459,623 L1471,653 L1472,684 L1460,716 L1491,744 L1466,777 L1475,808 L1476,838 L1493,868 L1480,900 L1511,910 L1542,921 L1565,949 L1600,950 L1643,952 L1667,917 L1700,900 L1723,870 L1708,840 L1700,810 L1709,780 L1701,750 L1708,720 L1713,690 L1694,660 L1696,630 L1712,600 L1693,570 L1686,540 L1693,510 L1700,480 L1703,450 L1708,420 L1709,390 L1702,360 L1712,330 L1680,300 L1700,270 L1691,240 L1698,210 L1712,180 L1691,150 L1708,120 L1692,90 L1703,60 L1689,30 L1700,0 L1670,-5 L1639,-19 L1609,-6 L1579,7 L1548,2 L1518,-3 L1487,-4 L1457,-2 L1427,8 L1396,-9 L1366,16 L1336,3 L1305,-1 L1275,-7 L1244,9 L1214,-6 L1184,-17 L1153,7 L1123,-7 L1093,2 L1062,-14 L1032,16 L1001,5 L971,13 L941,17 L910,-12 L880,0 L877,33 L877,67 Z" fill="#3c8cc2" stroke="#3c8cc2" stroke-width="3" stroke-linejoin="round"/>
<path d="M1160,270 L1440,500 L1440,560 L1160,540 Z" fill="#f2f2f2" stroke="#f2f2f2" stroke-width="3" stroke-linejoin="round"/>
<path d="M870,130 L900,137 L930,113 L960,134 L990,122 L1020,118 L1050,115 L1080,121 L1110,111 L1140,124 L1170,130 L1179,162 L1164,194 L1148,226 L1182,258 L1162,290 L1177,322 L1174,354 L1173,386 L1171,418 L1170,450 L1200,462 L1235,453 L1260,485 L1298,468 L1324,495 L1360,485 L1385,514 L1419,512 L1450,520 L1453,551 L1428,581 L1452,612 L1456,642 L1448,673 L1443,703 L1445,734 L1440,764 L1443,795 L1462,825 L1454,856 L1451,886 L1441,917 L1463,947 L1450,978 L1445,1008 L1465,1039 L1450,1069 L1450,1100 L1418,1112 L1389,1128 L1357,1139 L1327,1156 L1298,1174 L1263,1176 L1231,1186 L1200,1200 L1170,1210 L1140,1199 L1110,1209 L1080,1188 L1050,1171 L1020,1204 L990,1183 L960,1210 L930,1203 L900,1231 L870,1200 L863,1169 L876,1139 L861,1108 L876,1078 L873,1047 L875,1017 L872,986 L865,955 L876,925 L877,894 L856,864 L874,833 L853,803 L883,772 L857,741 L867,711 L874,680 L865,650 L878,619 L866,589 L862,558 L873,527 L868,497 L869,466 L881,436 L856,405 L873,375 L868,344 L885,313 L874,283 L862,252 L871,222 L874,191 L875,161 Z" fill="#cb553f" stroke="#cb553f" stroke-width="3" stroke-linejoin="round"/>
<path d="M1350,650 L1400,640 L1450,650 L1455,683 L1453,717 L1463,750 L1450,783 L1460,817 L1455,850 L1466,883 L1456,917 L1453,950 L1461,983 L1452,1017 L1460,1050 L1420,1060 L1380,1050 L1371,1017 L1372,984 L1384,950 L1366,917 L1382,883 L1370,850 L1383,815 L1370,783 L1363,750 L1353,717 L1364,682 Z" fill="#f6d8c9" stroke="#f6d8c9" stroke-width="3" stroke-linejoin="round"/>
<path d="M1070,1250 L1108,1250 L1142,1228 L1180,1230 L1212,1231 L1238,1253 L1270,1252 L1300,1260 L1277,1288 L1293,1320 L1297,1350 L1290,1380 L1278,1415 L1289,1447 L1300,1480 L1267,1483 L1233,1485 L1200,1490 L1167,1496 L1133,1498 L1100,1500 L1093,1470 L1103,1438 L1079,1411 L1080,1380 L1079,1347 L1064,1316 L1093,1281 Z" fill="#f4f4f4" stroke="#f4f4f4" stroke-width="3" stroke-linejoin="round"/>
<path d="M900,1000 L950,990 L1000,1000 L993,1033 L1010,1068 L990,1100 L1005,1135 L992,1167 L980,1200 L940,1210 L900,1200 L917,1166 L898,1133 L895,1100 L892,1066 L910,1034 Z" fill="#b8372d" stroke="#b8372d" stroke-width="3" stroke-linejoin="round"/>
<path d="M1075,642 L1065,680 L1041,713 L1001,710 L979,744 L962,779" fill="none" stroke="#000" stroke-width="14" stroke-opacity="0.1" stroke-linecap="round" stroke-linejoin="round"/>
<path d="M1405,897 L1442,914 L1477,931 L1469,970 L1434,990" fill="none" stroke="#000" stroke-width="14" stroke-opacity="0.1" stroke-linecap="round" stroke-linejoin="round"/>
<path d="M1565,310 L1581,274 L1541,274 L1542,234 L1526,197 L1513,160 L1547,137" fill="none" stroke="#000" stroke-width="14" stroke-opacity="0.1" stroke-linecap="round" stroke-linejoin="round"/>
<path d="M1474,549 L1435,542 L1404,516 L1382,483 L1346,499" fill="none" stroke="#000" stroke-width="14" stroke-opacity="0.1" stroke-linecap="round" stroke-linejoin="round"/>
<path d="M1598,1337 L1573,1368 L1534,1376 L1494,1378 L1463,1353" fill="none" stroke="#000" stroke-width="14" stroke-opacity="0.1" stroke-linecap="round" stroke-linejoin="round"/>
<path d="M1526,189 L1520,229 L1488,252 L1466,285 L1431,304" fill="none" stroke="#000" stroke-width="14" stroke-opacity="0.1" stroke-linecap="round" stroke-linejoin="round"/>
<path d="M906,157 L902,118 L863,110 L852,149" fill="none" stroke="#000" stroke-width="14" stroke-opacity="0.1" stroke-linecap="round" stroke-linejoin="round"/>
<path d="M1492,227 L1511,193 L1551,194 L1560,233 L1570,272 L1535,291 L1498,306" fill="none" stroke="#000" stroke-width="14" stroke-opacity="0.1" stroke-linecap="round" stroke-linejoin="round"/>
<path d="M1493,360 L1459,337 L1421,328 L1400,294 L1437,279 L1429,240 L1437,200" fill="none" stroke="#000" stroke-width="14" stroke-opacity="0.1" stroke-linecap="round" stroke-linejoin="round"/>
<path d="M1324,207 L1363,215 L1400,199 L1423,167 L1406,131" fill="none" stroke="#000" stroke-width="14" stroke-opacity="0.1" stroke-linecap="round" stroke-linejoin="round"/>
<path d="M1210,1209 L1195,1171 L1194,1131 L1233,1121 L1265,1098 L1245,1063" fill="none" stroke="#000" stroke-width="14" stroke-opacity="0.1" stroke-linecap="round" stroke-linejoin="round"/>
<path d="M1384,1026 L1419,1007 L1458,1001 L1449,1040" fill="none" stroke="#000" stroke-width="14" stroke-opacity="0.1" stroke-linecap="round" stroke-linejoin="round"/>
<path d="M966,331 L928,344 L912,380 L885,410" fill="none" stroke="#000" stroke-width="14" stroke-opacity="0.1" stroke-linecap="round" stroke-linejoin="round"/>
<path d="M1337,706 L1372,725 L1405,702 L1423,666 L1431,627 L1465,649 L1461,688" fill="none" stroke="#000" stroke-width="14" stroke-opacity="0.1" stroke-linecap="round" stroke-linejoin="round"/>
<path d="M1292,914 L1270,880 L1254,844 L1263,805" fill="none" stroke="#000" stroke-width="14" stroke-opacity="0.1" stroke-linecap="round" stroke-linejoin="round"/>
<path d="M1447,891 L1469,858 L1499,831 L1530,856 L1558,884 L1567,923" fill="none" stroke="#000" stroke-width="14" stroke-opacity="0.1" stroke-linecap="round" stroke-linejoin="round"/>
<path d="M1243,852 L1270,823 L1265,783 L1287,749 L1326,752 L1363,769" fill="none" stroke="#000" stroke-width="14" stroke-opacity="0.1" stroke-linecap="round" stroke-linejoin="round"/>
<path d="M1082,601 L1111,574 L1130,539 L1090,536 L1085,575 L1045,578" fill="none" stroke="#000" stroke-width="14" stroke-opacity="0.1" stroke-linecap="round" stroke-linejoin="round"/>
<path d="M991,961 L967,929 L930,914 L967,901 L1007,905" fill="none" stroke="#000" stroke-width="14" stroke-opacity="0.1" stroke-linecap="round" stroke-linejoin="round"/>
<path d="M1104,1078 L1097,1039 L1086,1000 L1106,966 L1137,940 L1177,939 L1207,912" fill="none" stroke="#000" stroke-width="14" stroke-opacity="0.1" stroke-linecap="round" stroke-linejoin="round"/>
<path d="M1482,1485 L1448,1506 L1420,1477 L1387,1454 L1404,1418" fill="none" stroke="#000" stroke-width="14" stroke-opacity="0.1" stroke-linecap="round" stroke-linejoin="round"/>
<path d="M1163,258 L1203,259 L1240,246 L1252,208" fill="none" stroke="#000" stroke-width="14" stroke-opacity="0.1" stroke-linecap="round" stroke-linejoin="round"/>
<path d="M1533,210 L1513,245 L1513,285 L1477,302 L1515,314" fill="none" stroke="#000" stroke-width="14" stroke-opacity="0.1" stroke-linecap="round" stroke-linejoin="round"/>
<path d="M941,479 L956,442 L963,403 L963,363 L970,324 L941,296 L937,256" fill="none" stroke="#000" stroke-width="14" stroke-opacity="0.1" stroke-linecap="round" stroke-linejoin="round"/>
<path d="M1124,1290 L1084,1283 L1109,1251 L1130,1217 L1140,1178 L1121,1143" fill="none" stroke="#000" stroke-width="14" stroke-opacity="0.1" stroke-linecap="round" stroke-linejoin="round"/>
<path d="M1492,610 L1467,641 L1445,674 L1412,698 L1379,720 L1370,759 L1334,776" fill="none" stroke="#000" stroke-width="14" stroke-opacity="0.1" stroke-linecap="round" stroke-linejoin="round"/>
<path d="M1018,184 L1058,187 L1096,198 L1112,161 L1125,124 L1148,91" fill="none" stroke="#000" stroke-width="14" stroke-opacity="0.1" stroke-linecap="round" stroke-linejoin="round"/>
<path d="M1386,1006 L1403,1042 L1429,1073 L1441,1111 L1457,1074 L1430,1045 L1395,1024" fill="none" stroke="#000" stroke-width="14" stroke-opacity="0.1" stroke-linecap="round" stroke-linejoin="round"/>
<path d="M1504,304 L1466,293 L1432,314 L1394,326 L1383,288 L1343,285" fill="none" stroke="#000" stroke-width="14" stroke-opacity="0.1" stroke-linecap="round" stroke-linejoin="round"/>
<path d="M1088,1141 L1048,1144 L1039,1183 L1048,1222 L1075,1252 L1072,1292" fill="none" stroke="#000" stroke-width="14" stroke-opacity="0.1" stroke-linecap="round" stroke-linejoin="round"/>
<path d="M1215,1470 L1198,1506 L1158,1501 L1123,1519 L1106,1556" fill="none" stroke="#000" stroke-width="14" stroke-opacity="0.1" stroke-linecap="round" stroke-linejoin="round"/>
<path d="M1546,1260 L1574,1288 L1613,1278 L1653,1277" fill="none" stroke="#000" stroke-width="14" stroke-opacity="0.1" stroke-linecap="round" stroke-linejoin="round"/>
<path d="M1394,1195 L1372,1161 L1379,1121 L1394,1084 L1386,1045" fill="none" stroke="#000" stroke-width="14" stroke-opacity="0.1" stroke-linecap="round" stroke-linejoin="round"/>
<path d="M1328,1308 L1361,1286 L1401,1281 L1432,1257 L1452,1222 L1490,1234 L1520,1207" fill="none" stroke="#000" stroke-width="14" stroke-opacity="0.1" stroke-linecap="round" stroke-linejoin="round"/>
<path d="M1494,620 L1504,581 L1464,586 L1428,603 L1398,629 L1373,661" fill="none" stroke="#000" stroke-width="14" stroke-opacity="0.1" stroke-linecap="round" stroke-linejoin="round"/>
<path d="M1015,264 L977,276 L984,237 L998,199 L999,159" fill="none" stroke="#000" stroke-width="14" stroke-opacity="0.1" stroke-linecap="round" stroke-linejoin="round"/>
<path d="M979,926 L990,888 L950,883 L912,871 L872,875 L879,836" fill="none" stroke="#000" stroke-width="14" stroke-opacity="0.1" stroke-linecap="round" stroke-linejoin="round"/>
<path d="M977,643 L1006,670 L1046,665 L1086,667 L1098,705" fill="none" stroke="#000" stroke-width="14" stroke-opacity="0.1" stroke-linecap="round" stroke-linejoin="round"/>
<path d="M1183,1445 L1152,1420 L1114,1406 L1075,1396" fill="none" stroke="#000" stroke-width="14" stroke-opacity="0.1" stroke-linecap="round" stroke-linejoin="round"/>
<path d="M1049,589 L1009,589 L981,561 L962,526 L924,512" fill="none" stroke="#000" stroke-width="14" stroke-opacity="0.1" stroke-linecap="round" stroke-linejoin="round"/>
<path d="M1054,585 L1015,577 L983,553 L962,519 L936,488 L940,449" fill="none" stroke="#000" stroke-width="14" stroke-opacity="0.1" stroke-linecap="round" stroke-linejoin="round"/>
<path d="M1223,1493 L1190,1470 L1150,1464 L1112,1477 L1077,1458" fill="none" stroke="#000" stroke-width="14" stroke-opacity="0.1" stroke-linecap="round" stroke-linejoin="round"/>
<path d="M953,1031 L993,1033 L1032,1024 L1062,1051 L1064,1011 L1037,983 L997,982" fill="none" stroke="#000" stroke-width="14" stroke-opacity="0.1" stroke-linecap="round" stroke-linejoin="round"/>
<path d="M1057,238 L1030,209 L997,187 L961,204 L926,223" fill="none" stroke="#000" stroke-width="14" stroke-opacity="0.1" stroke-linecap="round" stroke-linejoin="round"/>
<path d="M924,1093 L912,1131 L910,1171 L883,1201 L858,1232 L818,1238" fill="none" stroke="#000" stroke-width="14" stroke-opacity="0.1" stroke-linecap="round" stroke-linejoin="round"/>
<path d="M880.0,100.0 C916.7,105.0 1021.7,100.0 1100.0,130.0 C1178.3,160.0 1278.3,218.3 1350.0,280.0 C1421.7,341.7 1488.3,413.3 1530.0,500.0 C1571.7,586.7 1586.7,700.0 1600.0,800.0 C1613.3,900.0 1620.0,1008.3 1610.0,1100.0 C1600.0,1191.7 1575.0,1286.7 1540.0,1350.0 C1505.0,1413.3 1465.0,1451.7 1400.0,1480.0 C1335.0,1508.3 1203.3,1533.3 1150.0,1520.0 C1096.7,1506.7 1093.3,1436.7 1080.0,1400.0 C1066.7,1363.3 1103.3,1316.7 1070.0,1300.0 C1036.7,1283.3 911.7,1300.0 880.0,1300.0 Z" fill="none" stroke="#555" stroke-width="60" stroke-opacity="0.10"/>
<path d="M880.0,100.0 C916.7,105.0 1021.7,100.0 1100.0,130.0 C1178.3,160.0 1278.3,218.3 1350.0,280.0 C1421.7,341.7 1488.3,413.3 1530.0,500.0 C1571.7,586.7 1586.7,700.0 1600.0,800.0 C1613.3,900.0 1620.0,1008.3 1610.0,1100.0 C1600.0,1191.7 1575.0,1286.7 1540.0,1350.0 C1505.0,1413.3 1465.0,1451.7 1400.0,1480.0 C1335.0,1508.3 1203.3,1533.3 1150.0,1520.0 C1096.7,1506.7 1093.3,1436.7 1080.0,1400.0 C1066.7,1363.3 1103.3,1316.7 1070.0,1300.0 C1036.7,1283.3 911.7,1300.0 880.0,1300.0 Z" fill="none" stroke="#555" stroke-width="24" stroke-opacity="0.10"/>
</g>
</g>
<g transform="translate(1835,1320) scale(0.12922)">
<defs><clipPath id="k3L"><path d="M655.0,70.0 C639.2,65.0 619.2,26.7 560.0,40.0 C500.8,53.3 371.7,93.3 300.0,150.0 C228.3,206.7 170.0,296.7 130.0,380.0 C90.0,463.3 68.3,563.3 60.0,650.0 C51.7,736.7 65.0,816.7 80.0,900.0 C95.0,983.3 121.7,1070.0 150.0,1150.0 C178.3,1230.0 208.3,1318.3 250.0,1380.0 C291.7,1441.7 338.3,1490.0 400.0,1520.0 C461.7,1550.0 577.5,1556.7 620.0,1560.0 C662.5,1563.3 649.2,1543.3 655.0,1540.0 Z"/></clipPath><clipPath id="k3R"><path d="M676.0,80.0 C696.7,76.7 746.0,48.3 800.0,60.0 C854.0,71.7 941.7,105.0 1000.0,150.0 C1058.3,195.0 1108.3,255.0 1150.0,330.0 C1191.7,405.0 1231.7,505.0 1250.0,600.0 C1268.3,695.0 1268.3,808.3 1260.0,900.0 C1251.7,991.7 1226.7,1070.0 1200.0,1150.0 C1173.3,1230.0 1150.0,1315.0 1100.0,1380.0 C1050.0,1445.0 966.7,1510.0 900.0,1540.0 C833.3,1570.0 737.3,1560.0 700.0,1560.0 C662.7,1560.0 680.0,1543.3 676.0,1540.0 Z"/></clipPath></defs>
<g clip-path="url(#k3L)">
<path d="M0,0 L700,0 L700,1700 L0,1700 Z" fill="#f4b79c" stroke="#f4b79c" stroke-width="3" stroke-linejoin="round"/>
<path d="M300,150 L332,146 L356,122 L387,115 L412,93 L439,76 L470,68 L508,78 L527,43 L560,40 L589,59 L628,33 L655,60 L655,110 L627,133 L589,111 L560,130 L521,153 L480,170 L474,211 L460,250 L428,231 L395,244 L362,250 L330,250 L295,253 L267,281 L230,280 L200,300 L150,300 L168,275 L194,259 L210,232 L240,218 L246,181 L292,185 Z" fill="#fbe3d6" stroke="#fbe3d6" stroke-width="3" stroke-linejoin="round"/>
<path d="M460,170 L490,149 L523,133 L560,130 L592,125 L625,123 L655,110 L664,141 L657,172 L660,204 L671,235 L657,266 L655,297 L654,328 L661,359 L652,391 L658,422 L639,453 L657,484 L652,515 L652,546 L660,578 L650,609 L655,640 L648,605 L632,577 L600,560 L581,526 L567,489 L560,450 L531,476 L500,500 L491,530 L497,563 L493,594 L470,620 L453,659 L440,700 L436,667 L436,633 L430,600 L447,572 L429,537 L452,510 L470,483 L459,449 L470,420 L470,385 L485,351 L473,315 L480,280 L461,246 L480,204 Z" fill="#e0705a" stroke="#e0705a" stroke-width="3" stroke-linejoin="round"/>
<path d="M230,280 L257,249 L301,273 L330,250 L362,256 L395,240 L428,244 L460,250 L480,290 L499,324 L476,355 L464,387 L470,420 L466,451 L475,484 L452,510 L439,539 L437,570 L430,600 L442,632 L456,665 L440,700 L440,735 L454,767 L467,799 L460,835 L466,868 L480,900 L477,945 L450,980 L413,984 L380,1000 L375,963 L351,941 L318,926 L300,900 L280,869 L284,834 L301,796 L289,764 L249,737 L260,700 L279,664 L246,634 L254,600 L240,567 L238,534 L240,500 L241,468 L238,437 L223,406 L234,374 L226,343 L229,312 Z" fill="#c21f2e" stroke="#c21f2e" stroke-width="3" stroke-linejoin="round"/>
<path d="M110,400 L132,375 L149,345 L180,330 L230,320 L236,350 L225,381 L236,410 L251,439 L248,470 L250,500 L255,533 L259,566 L273,599 L266,633 L264,667 L270,700 L288,727 L307,754 L286,793 L299,821 L301,853 L320,880 L318,917 L335,943 L365,963 L380,990 L340,1010 L317,988 L285,979 L260,960 L234,938 L207,917 L181,895 L150,880 L132,852 L125,817 L98,794 L90,760 L73,729 L84,696 L93,663 L74,632 L80,600 L74,565 L105,536 L90,499 L98,466 L114,435 Z" fill="#8c0b21" stroke="#8c0b21" stroke-width="3" stroke-linejoin="round"/>
<path d="M480,700 L498,673 L525,651 L526,615 L540,586 L560,560 L590,569 L620,560 L627,605 L655,640 L658,672 L671,704 L664,736 L670,768 L660,800 L656,832 L662,864 L642,896 L658,928 L655,960 L600,980 L581,946 L542,931 L520,900 L493,877 L470,850 L484,821 L462,789 L459,759 L467,729 Z" fill="#f3a98b" stroke="#f3a98b" stroke-width="3" stroke-linejoin="round"/>
<path d="M510,700 L550,690 L555,800 L515,810 Z" fill="#3c8cc2" stroke="#3c8cc2" stroke-width="3" stroke-linejoin="round"/>
<path d="M490,880 L516,863 L530,833 L560,820 L576,859 L590,900 L571,927 L570,960 L535,957 L500,960 L489,921 Z" fill="#e07a60" stroke="#e07a60" stroke-width="3" stroke-linejoin="round"/>
<path d="M310,1060 L349,1054 L376,1030 L400,1000 L429,1016 L460,1009 L490,1010 L484,1040 L488,1071 L480,1100 L436,1113 L400,1140 L361,1128 L320,1130 L318,1095 Z" fill="#f4f1ef" stroke="#f4f1ef" stroke-width="3" stroke-linejoin="round"/>
<path d="M500,980 L532,972 L562,988 L594,974 L624,989 L655,990 L666,1020 L671,1050 L650,1080 L664,1110 L670,1140 L656,1170 L643,1200 L652,1230 L651,1260 L665,1290 L652,1320 L668,1350 L670,1380 L641,1410 L651,1440 L644,1470 L632,1500 L665,1530 L655,1560 L600,1540 L590,1511 L579,1482 L607,1448 L589,1420 L586,1389 L577,1360 L571,1330 L570,1300 L543,1271 L546,1235 L546,1200 L535,1167 L540,1130 L520,1100 L525,1068 L504,1041 L503,1010 Z" fill="#e6edf2" stroke="#e6edf2" stroke-width="3" stroke-linejoin="round"/>
<path d="M200,1180 L236,1174 L265,1150 L300,1140 L327,1159 L359,1157 L387,1173 L420,1170 L411,1202 L423,1234 L438,1266 L413,1298 L420,1330 L383,1325 L356,1346 L328,1363 L300,1380 L269,1357 L230,1350 L238,1314 L200,1285 L217,1247 L212,1213 Z" fill="#f8ddd0" stroke="#f8ddd0" stroke-width="3" stroke-linejoin="round"/>
<path d="M280,1400 L310,1389 L332,1368 L347,1336 L380,1330 L416,1342 L444,1368 L480,1380 L510,1385 L541,1385 L569,1398 L600,1400 L611,1434 L620,1469 L640,1500 L624,1533 L620,1570 L589,1566 L557,1574 L525,1585 L495,1553 L464,1540 L432,1551 L400,1560 L375,1527 L329,1527 L300,1500 L286,1468 L290,1433 Z" fill="#e36b50" stroke="#e36b50" stroke-width="3" stroke-linejoin="round"/>
<path d="M445,107 L437,80 L454,58 L472,36 L494,19" fill="none" stroke="#000" stroke-width="10" stroke-opacity="0.07" stroke-linecap="round" stroke-linejoin="round"/>
<path d="M308,726 L334,715 L350,692 L357,665 L342,641 L328,616 L303,604" fill="none" stroke="#000" stroke-width="10" stroke-opacity="0.07" stroke-linecap="round" stroke-linejoin="round"/>
<path d="M622,1314 L597,1328 L611,1352 L614,1380 L637,1363" fill="none" stroke="#000" stroke-width="10" stroke-opacity="0.07" stroke-linecap="round" stroke-linejoin="round"/>
<path d="M80,220 L82,192 L56,203 L29,199 L5,184" fill="none" stroke="#000" stroke-width="10" stroke-opacity="0.07" stroke-linecap="round" stroke-linejoin="round"/>
<path d="M90,725 L87,753 L83,781 L70,806 L48,823 L33,847" fill="none" stroke="#000" stroke-width="10" stroke-opacity="0.07" stroke-linecap="round" stroke-linejoin="round"/>
<path d="M115,934 L136,915 L158,932 L177,953" fill="none" stroke="#000" stroke-width="10" stroke-opacity="0.07" stroke-linecap="round" stroke-linejoin="round"/>
<path d="M562,479 L573,505 L597,519 L615,541" fill="none" stroke="#000" stroke-width="10" stroke-opacity="0.07" stroke-linecap="round" stroke-linejoin="round"/>
<path d="M62,1321 L62,1349 L56,1377 L48,1403 L20,1404" fill="none" stroke="#000" stroke-width="10" stroke-opacity="0.07" stroke-linecap="round" stroke-linejoin="round"/>
<path d="M250,335 L266,357 L275,384 L283,411 L264,431" fill="none" stroke="#000" stroke-width="10" stroke-opacity="0.07" stroke-linecap="round" stroke-linejoin="round"/>
<path d="M353,226 L333,207 L314,186 L333,165 L343,139" fill="none" stroke="#000" stroke-width="10" stroke-opacity="0.07" stroke-linecap="round" stroke-linejoin="round"/>
<path d="M549,1084 L522,1076 L547,1063 L573,1051" fill="none" stroke="#000" stroke-width="10" stroke-opacity="0.07" stroke-linecap="round" stroke-linejoin="round"/>
<path d="M439,1295 L411,1298 L415,1271 L394,1252 L407,1277" fill="none" stroke="#000" stroke-width="10" stroke-opacity="0.07" stroke-linecap="round" stroke-linejoin="round"/>
<path d="M607,382 L580,373 L579,401 L603,416 L618,439 L644,450" fill="none" stroke="#000" stroke-width="10" stroke-opacity="0.07" stroke-linecap="round" stroke-linejoin="round"/>
<path d="M504,592 L530,602 L558,605 L575,582 L603,586" fill="none" stroke="#000" stroke-width="10" stroke-opacity="0.07" stroke-linecap="round" stroke-linejoin="round"/>
<path d="M189,1214 L206,1193 L220,1168 L241,1187 L257,1210 L283,1221 L284,1193" fill="none" stroke="#000" stroke-width="10" stroke-opacity="0.07" stroke-linecap="round" stroke-linejoin="round"/>
<path d="M579,1193 L554,1180 L535,1200 L555,1220 L583,1219" fill="none" stroke="#000" stroke-width="10" stroke-opacity="0.07" stroke-linecap="round" stroke-linejoin="round"/>
<path d="M505,908 L477,914 L461,937 L433,939" fill="none" stroke="#000" stroke-width="10" stroke-opacity="0.07" stroke-linecap="round" stroke-linejoin="round"/>
<path d="M627,1031 L599,1033 L606,1006 L608,978 L613,950 L635,933 L621,909" fill="none" stroke="#000" stroke-width="10" stroke-opacity="0.07" stroke-linecap="round" stroke-linejoin="round"/>
<path d="M154,788 L137,766 L109,764 L103,791" fill="none" stroke="#000" stroke-width="10" stroke-opacity="0.07" stroke-linecap="round" stroke-linejoin="round"/>
<path d="M610,361 L626,337 L608,316 L581,308" fill="none" stroke="#000" stroke-width="10" stroke-opacity="0.07" stroke-linecap="round" stroke-linejoin="round"/>
<path d="M159,179 L154,151 L135,131 L150,107 L168,86 L186,107" fill="none" stroke="#000" stroke-width="10" stroke-opacity="0.07" stroke-linecap="round" stroke-linejoin="round"/>
<path d="M635,1543 L644,1569 L672,1571 L689,1594 L684,1621" fill="none" stroke="#000" stroke-width="10" stroke-opacity="0.07" stroke-linecap="round" stroke-linejoin="round"/>
<path d="M179,306 L205,315 L228,299 L256,299 L246,273 L272,283 L273,311" fill="none" stroke="#000" stroke-width="10" stroke-opacity="0.07" stroke-linecap="round" stroke-linejoin="round"/>
<path d="M391,1247 L373,1225 L368,1198 L355,1173 L340,1150" fill="none" stroke="#000" stroke-width="10" stroke-opacity="0.07" stroke-linecap="round" stroke-linejoin="round"/>
<path d="M300,216 L292,243 L268,257 L272,284 L294,301" fill="none" stroke="#000" stroke-width="10" stroke-opacity="0.07" stroke-linecap="round" stroke-linejoin="round"/>
<path d="M407,1322 L432,1311 L458,1322 L471,1346" fill="none" stroke="#000" stroke-width="10" stroke-opacity="0.07" stroke-linecap="round" stroke-linejoin="round"/>
<path d="M557,1002 L529,1003 L533,975 L508,986 L487,1005 L459,1007" fill="none" stroke="#000" stroke-width="10" stroke-opacity="0.07" stroke-linecap="round" stroke-linejoin="round"/>
<path d="M410,718 L382,721 L359,737 L338,719 L315,704 L291,688" fill="none" stroke="#000" stroke-width="10" stroke-opacity="0.07" stroke-linecap="round" stroke-linejoin="round"/>
<path d="M436,713 L445,739 L470,753 L467,781 L462,808 L438,794 L442,822" fill="none" stroke="#000" stroke-width="10" stroke-opacity="0.07" stroke-linecap="round" stroke-linejoin="round"/>
<path d="M561,701 L581,721 L603,705 L629,693 L648,714" fill="none" stroke="#000" stroke-width="10" stroke-opacity="0.07" stroke-linecap="round" stroke-linejoin="round"/>
<path d="M377,462 L378,490 L395,512 L385,538 L368,560" fill="none" stroke="#000" stroke-width="10" stroke-opacity="0.07" stroke-linecap="round" stroke-linejoin="round"/>
<path d="M634,1335 L613,1317 L587,1327 L564,1344" fill="none" stroke="#000" stroke-width="10" stroke-opacity="0.07" stroke-linecap="round" stroke-linejoin="round"/>
<path d="M182,126 L188,153 L191,181 L195,209 L202,236 L174,239" fill="none" stroke="#000" stroke-width="10" stroke-opacity="0.07" stroke-linecap="round" stroke-linejoin="round"/>
<path d="M301,350 L318,327 L343,340 L367,325 L395,323 L416,342" fill="none" stroke="#000" stroke-width="10" stroke-opacity="0.07" stroke-linecap="round" stroke-linejoin="round"/>
<path d="M610,1025 L635,1038 L656,1019 L680,1034 L708,1036 L726,1014 L749,998" fill="none" stroke="#000" stroke-width="10" stroke-opacity="0.07" stroke-linecap="round" stroke-linejoin="round"/>
<path d="M287,1114 L313,1124 L331,1146 L350,1167" fill="none" stroke="#000" stroke-width="10" stroke-opacity="0.07" stroke-linecap="round" stroke-linejoin="round"/>
<path d="M229,1226 L218,1251 L191,1245 L164,1252 L171,1225 L194,1208" fill="none" stroke="#000" stroke-width="10" stroke-opacity="0.07" stroke-linecap="round" stroke-linejoin="round"/>
<path d="M582,314 L604,332 L616,357 L605,383 L591,408 L564,405 L542,423" fill="none" stroke="#000" stroke-width="10" stroke-opacity="0.07" stroke-linecap="round" stroke-linejoin="round"/>
<path d="M587,1434 L573,1459 L557,1482 L554,1509 L527,1518 L523,1546 L529,1573" fill="none" stroke="#000" stroke-width="10" stroke-opacity="0.07" stroke-linecap="round" stroke-linejoin="round"/>
<path d="M475,1107 L448,1098 L457,1072 L432,1059 L404,1061" fill="none" stroke="#000" stroke-width="10" stroke-opacity="0.07" stroke-linecap="round" stroke-linejoin="round"/>
<path d="M437,880 L450,856 L476,846 L474,818 L446,817 L421,830" fill="none" stroke="#000" stroke-width="10" stroke-opacity="0.07" stroke-linecap="round" stroke-linejoin="round"/>
<path d="M599,690 L576,674 L580,647 L606,639 L634,632 L654,612 L678,626" fill="none" stroke="#000" stroke-width="10" stroke-opacity="0.07" stroke-linecap="round" stroke-linejoin="round"/>
<path d="M180,710 L152,716 L125,722 L106,701" fill="none" stroke="#000" stroke-width="10" stroke-opacity="0.07" stroke-linecap="round" stroke-linejoin="round"/>
<path d="M604,896 L582,913 L598,936 L613,960" fill="none" stroke="#000" stroke-width="10" stroke-opacity="0.07" stroke-linecap="round" stroke-linejoin="round"/>
<path d="M315,300 L343,302 L356,327 L384,325 L406,342 L433,351 L461,347" fill="none" stroke="#000" stroke-width="10" stroke-opacity="0.07" stroke-linecap="round" stroke-linejoin="round"/>
<path d="M166,1147 L193,1152 L195,1180 L195,1208" fill="none" stroke="#000" stroke-width="10" stroke-opacity="0.07" stroke-linecap="round" stroke-linejoin="round"/>
<path d="M193,329 L198,301 L219,282 L244,270 L272,265 L287,288 L268,310" fill="none" stroke="#000" stroke-width="10" stroke-opacity="0.07" stroke-linecap="round" stroke-linejoin="round"/>
<path d="M400,490 L374,480 L394,460 L420,469 L445,455 L453,429" fill="none" stroke="#000" stroke-width="10" stroke-opacity="0.07" stroke-linecap="round" stroke-linejoin="round"/>
<path d="M190,86 L208,107 L203,135 L217,158 L245,161 L240,134 L245,107" fill="none" stroke="#000" stroke-width="10" stroke-opacity="0.07" stroke-linecap="round" stroke-linejoin="round"/>
<path d="M511,507 L539,510 L566,503 L558,476 L554,448" fill="none" stroke="#000" stroke-width="10" stroke-opacity="0.07" stroke-linecap="round" stroke-linejoin="round"/>
<path d="M655.0,70.0 C639.2,65.0 619.2,26.7 560.0,40.0 C500.8,53.3 371.7,93.3 300.0,150.0 C228.3,206.7 170.0,296.7 130.0,380.0 C90.0,463.3 68.3,563.3 60.0,650.0 C51.7,736.7 65.0,816.7 80.0,900.0 C95.0,983.3 121.7,1070.0 150.0,1150.0 C178.3,1230.0 208.3,1318.3 250.0,1380.0 C291.7,1441.7 338.3,1490.0 400.0,1520.0 C461.7,1550.0 577.5,1556.7 620.0,1560.0 C662.5,1563.3 649.2,1543.3 655.0,1540.0 Z" fill="none" stroke="#555" stroke-width="60" stroke-opacity="0.10"/>
<path d="M655.0,70.0 C639.2,65.0 619.2,26.7 560.0,40.0 C500.8,53.3 371.7,93.3 300.0,150.0 C228.3,206.7 170.0,296.7 130.0,380.0 C90.0,463.3 68.3,563.3 60.0,650.0 C51.7,736.7 65.0,816.7 80.0,900.0 C95.0,983.3 121.7,1070.0 150.0,1150.0 C178.3,1230.0 208.3,1318.3 250.0,1380.0 C291.7,1441.7 338.3,1490.0 400.0,1520.0 C461.7,1550.0 577.5,1556.7 620.0,1560.0 C662.5,1563.3 649.2,1543.3 655.0,1540.0 Z" fill="none" stroke="#555" stroke-width="24" stroke-opacity="0.10"/>
</g>
<g clip-path="url(#k3R)">
<path d="M650,0 L1400,0 L1400,1700 L650,1700 Z" fill="#f6c0a8" stroke="#f6c0a8" stroke-width="3" stroke-linejoin="round"/>
<path d="M676,80 L711,77 L746,78 L780,70 L809,96 L815,131 L807,173 L817,206 L850,230 L840,259 L845,293 L828,320 L820,350 L826,380 L835,409 L833,440 L834,470 L839,499 L823,530 L830,560 L799,582 L768,545 L738,532 L707,552 L676,560 L697,530 L671,500 L676,470 L687,440 L663,410 L667,380 L681,350 L662,320 L677,290 L673,260 L679,230 L694,200 L668,170 L689,140 L675,110 Z" fill="#f5f3f1" stroke="#f5f3f1" stroke-width="3" stroke-linejoin="round"/>
<path d="M760,70 L792,83 L821,71 L850,60 L879,79 L910,96 L941,113 L967,138 L1000,150 L1024,174 L1039,205 L1060,231 L1090,249 L1110,276 L1123,309 L1150,330 L1142,360 L1142,391 L1130,420 L1090,410 L1050,400 L1031,373 L996,371 L969,356 L950,330 L921,315 L890,303 L860,290 L854,259 L844,229 L830,200 L806,171 L795,135 L761,111 Z" fill="#a50f25" stroke="#a50f25" stroke-width="3" stroke-linejoin="round"/>
<path d="M850,290 L886,306 L925,313 L960,330 L980,366 L1016,381 L1050,400 L1078,420 L1082,454 L1100,480 L1088,510 L1077,541 L1091,577 L1079,607 L1055,635 L1067,671 L1050,700 L1033,733 L1018,767 L1000,800 L972,822 L957,857 L927,877 L900,900 L895,939 L883,975 L850,1000 L854,965 L840,933 L840,899 L838,865 L835,832 L820,800 L818,766 L820,733 L815,698 L838,667 L822,632 L840,600 L855,566 L833,534 L845,500 L846,466 L829,433 L830,400 L837,363 L830,324 Z" fill="#e0735a" stroke="#e0735a" stroke-width="3" stroke-linejoin="round"/>
<path d="M1050,400 L1085,383 L1113,354 L1150,340 L1160,369 L1171,398 L1190,424 L1193,456 L1212,482 L1222,511 L1233,540 L1245,569 L1250,600 L1251,633 L1231,666 L1230,699 L1244,733 L1240,767 L1240,800 L1212,820 L1199,853 L1179,881 L1150,900 L1128,921 L1100,934 L1078,955 L1046,960 L1020,976 L1000,1000 L959,1008 L934,1042 L900,1060 L876,1029 L850,1000 L882,975 L877,930 L900,900 L927,877 L958,858 L968,818 L1000,800 L1017,767 L1040,737 L1050,700 L1047,666 L1067,638 L1076,607 L1091,577 L1081,542 L1105,514 L1100,480 L1105,440 L1057,433 Z" fill="#c41e2d" stroke="#c41e2d" stroke-width="3" stroke-linejoin="round"/>
<path d="M676,420 L707,418 L738,419 L770,419 L800,430 L800,465 L812,498 L807,534 L837,564 L830,600 L805,630 L850,663 L833,693 L811,722 L820,754 L823,785 L837,816 L817,846 L817,877 L815,908 L812,938 L817,969 L810,1000 L776,988 L743,997 L710,1001 L676,1000 L667,969 L696,939 L663,908 L682,878 L684,847 L676,817 L686,786 L664,756 L670,725 L671,695 L686,664 L662,634 L669,603 L670,573 L678,542 L682,512 L680,481 L687,451 Z" fill="#dfeaf1" stroke="#dfeaf1" stroke-width="3" stroke-linejoin="round"/>
<path d="M1200,700 L1230,725 L1260,750 L1266,782 L1252,814 L1260,845 L1260,877 L1261,909 L1254,941 L1260,973 L1283,1005 L1273,1036 L1272,1068 L1260,1100 L1235,1117 L1200,1113 L1178,1139 L1150,1150 L1125,1121 L1092,1095 L1100,1050 L1111,1018 L1130,989 L1137,954 L1167,931 L1180,900 L1188,867 L1172,832 L1188,800 L1205,768 L1211,735 Z" fill="#f0a688" stroke="#f0a688" stroke-width="3" stroke-linejoin="round"/>
<path d="M676,1000 L713,990 L748,1006 L784,1011 L820,1010 L843,1038 L865,1068 L864,1108 L890,1135 L900,1170 L935,1174 L966,1193 L1000,1200 L991,1233 L1008,1267 L997,1300 L1018,1333 L998,1367 L1000,1400 L971,1415 L938,1396 L909,1408 L879,1412 L850,1420 L819,1422 L789,1427 L762,1446 L730,1446 L700,1450 L676,1450 L688,1420 L676,1390 L679,1360 L673,1330 L682,1300 L681,1270 L675,1240 L696,1210 L677,1180 L690,1150 L679,1120 L680,1090 L671,1060 L666,1030 Z" fill="#f7eee9" stroke="#f7eee9" stroke-width="3" stroke-linejoin="round"/>
<path d="M830,1040 L865,1032 L900,1030 L936,1048 L960,1080 L987,1116 L980,1160 L939,1157 L900,1170 L859,1159 L840,1120 L824,1081 Z" fill="#2d73b0" stroke="#2d73b0" stroke-width="3" stroke-linejoin="round"/>
<path d="M780,1400 L809,1389 L847,1415 L867,1364 L900,1370 L930,1374 L960,1368 L990,1372 L1019,1387 L1050,1380 L1076,1399 L1100,1420 L1073,1438 L1056,1467 L1027,1483 L994,1492 L984,1531 L950,1540 L920,1544 L892,1561 L859,1543 L831,1566 L800,1560 L791,1529 L805,1494 L798,1463 L792,1431 Z" fill="#e8805f" stroke="#e8805f" stroke-width="3" stroke-linejoin="round"/>
<path d="M676,1000 L740,1000 L740,1560 L676,1560 Z" fill="#e6eef3" stroke="#e6eef3" stroke-width="3" stroke-linejoin="round"/>
<path d="M1200,72 L1225,85 L1253,87 L1281,82 L1266,58" fill="none" stroke="#000" stroke-width="10" stroke-opacity="0.07" stroke-linecap="round" stroke-linejoin="round"/>
<path d="M794,88 L796,60 L824,61 L844,81 L864,99 L889,86 L913,72" fill="none" stroke="#000" stroke-width="10" stroke-opacity="0.07" stroke-linecap="round" stroke-linejoin="round"/>
<path d="M1168,61 L1175,88 L1160,112 L1132,112 L1107,124" fill="none" stroke="#000" stroke-width="10" stroke-opacity="0.07" stroke-linecap="round" stroke-linejoin="round"/>
<path d="M854,962 L878,976 L903,989 L927,974" fill="none" stroke="#000" stroke-width="10" stroke-opacity="0.07" stroke-linecap="round" stroke-linejoin="round"/>
<path d="M1238,791 L1230,817 L1250,837 L1258,811 L1264,783" fill="none" stroke="#000" stroke-width="10" stroke-opacity="0.07" stroke-linecap="round" stroke-linejoin="round"/>
<path d="M989,1116 L963,1125 L942,1144 L937,1116 L913,1103 L895,1125" fill="none" stroke="#000" stroke-width="10" stroke-opacity="0.07" stroke-linecap="round" stroke-linejoin="round"/>
<path d="M1027,824 L1041,800 L1067,790 L1087,771" fill="none" stroke="#000" stroke-width="10" stroke-opacity="0.07" stroke-linecap="round" stroke-linejoin="round"/>
<path d="M1182,795 L1209,792 L1216,819 L1226,845 L1236,871 L1218,893" fill="none" stroke="#000" stroke-width="10" stroke-opacity="0.07" stroke-linecap="round" stroke-linejoin="round"/>
<path d="M1217,1187 L1220,1159 L1197,1143 L1172,1130 L1196,1116" fill="none" stroke="#000" stroke-width="10" stroke-opacity="0.07" stroke-linecap="round" stroke-linejoin="round"/>
<path d="M873,1091 L900,1099 L919,1120 L930,1145 L957,1153 L985,1156" fill="none" stroke="#000" stroke-width="10" stroke-opacity="0.07" stroke-linecap="round" stroke-linejoin="round"/>
<path d="M1000,1291 L993,1318 L966,1310 L940,1322 L915,1335" fill="none" stroke="#000" stroke-width="10" stroke-opacity="0.07" stroke-linecap="round" stroke-linejoin="round"/>
<path d="M1180,775 L1170,802 L1147,817 L1150,845 L1171,864" fill="none" stroke="#000" stroke-width="10" stroke-opacity="0.07" stroke-linecap="round" stroke-linejoin="round"/>
<path d="M1038,72 L1045,100 L1040,127 L1012,129 L986,118 L975,92" fill="none" stroke="#000" stroke-width="10" stroke-opacity="0.07" stroke-linecap="round" stroke-linejoin="round"/>
<path d="M957,257 L933,243 L905,245 L881,231 L867,207 L876,180" fill="none" stroke="#000" stroke-width="10" stroke-opacity="0.07" stroke-linecap="round" stroke-linejoin="round"/>
<path d="M1255,1201 L1278,1185 L1275,1157 L1285,1131" fill="none" stroke="#000" stroke-width="10" stroke-opacity="0.07" stroke-linecap="round" stroke-linejoin="round"/>
<path d="M1214,996 L1241,1003 L1269,1002 L1296,1007" fill="none" stroke="#000" stroke-width="10" stroke-opacity="0.07" stroke-linecap="round" stroke-linejoin="round"/>
<path d="M1202,1146 L1220,1167 L1245,1179 L1248,1207 L1249,1235" fill="none" stroke="#000" stroke-width="10" stroke-opacity="0.07" stroke-linecap="round" stroke-linejoin="round"/>
<path d="M896,469 L924,469 L949,456 L975,444" fill="none" stroke="#000" stroke-width="10" stroke-opacity="0.07" stroke-linecap="round" stroke-linejoin="round"/>
<path d="M835,323 L807,321 L807,293 L779,296" fill="none" stroke="#000" stroke-width="10" stroke-opacity="0.07" stroke-linecap="round" stroke-linejoin="round"/>
<path d="M994,1231 L1021,1227 L1028,1200 L1055,1191 L1036,1171" fill="none" stroke="#000" stroke-width="10" stroke-opacity="0.07" stroke-linecap="round" stroke-linejoin="round"/>
<path d="M724,1187 L699,1199 L672,1205 L644,1204 L619,1191 L591,1188 L569,1170" fill="none" stroke="#000" stroke-width="10" stroke-opacity="0.07" stroke-linecap="round" stroke-linejoin="round"/>
<path d="M887,774 L866,756 L838,755 L824,779 L797,771 L770,777 L751,798" fill="none" stroke="#000" stroke-width="10" stroke-opacity="0.07" stroke-linecap="round" stroke-linejoin="round"/>
<path d="M1159,531 L1178,551 L1200,568 L1207,595 L1226,616 L1250,631 L1257,604" fill="none" stroke="#000" stroke-width="10" stroke-opacity="0.07" stroke-linecap="round" stroke-linejoin="round"/>
<path d="M1202,1129 L1200,1101 L1187,1077 L1177,1051 L1150,1042" fill="none" stroke="#000" stroke-width="10" stroke-opacity="0.07" stroke-linecap="round" stroke-linejoin="round"/>
<path d="M1169,583 L1141,583 L1118,598 L1093,586" fill="none" stroke="#000" stroke-width="10" stroke-opacity="0.07" stroke-linecap="round" stroke-linejoin="round"/>
<path d="M928,196 L900,190 L873,196 L846,205 L819,203 L828,177" fill="none" stroke="#000" stroke-width="10" stroke-opacity="0.07" stroke-linecap="round" stroke-linejoin="round"/>
<path d="M1050,375 L1031,354 L1007,341 L979,345 L974,372" fill="none" stroke="#000" stroke-width="10" stroke-opacity="0.07" stroke-linecap="round" stroke-linejoin="round"/>
<path d="M863,595 L846,618 L819,626 L791,624 L781,650 L763,628" fill="none" stroke="#000" stroke-width="10" stroke-opacity="0.07" stroke-linecap="round" stroke-linejoin="round"/>
<path d="M867,1142 L852,1118 L858,1091 L867,1065 L871,1037 L849,1020 L828,1001" fill="none" stroke="#000" stroke-width="10" stroke-opacity="0.07" stroke-linecap="round" stroke-linejoin="round"/>
<path d="M761,796 L733,796 L706,804 L696,831 L697,859 L710,883 L732,901" fill="none" stroke="#000" stroke-width="10" stroke-opacity="0.07" stroke-linecap="round" stroke-linejoin="round"/>
<path d="M1136,1307 L1162,1319 L1158,1346 L1170,1372 L1172,1400" fill="none" stroke="#000" stroke-width="10" stroke-opacity="0.07" stroke-linecap="round" stroke-linejoin="round"/>
<path d="M1060,880 L1050,907 L1040,881 L1066,891 L1060,864" fill="none" stroke="#000" stroke-width="10" stroke-opacity="0.07" stroke-linecap="round" stroke-linejoin="round"/>
<path d="M1156,141 L1128,142 L1100,141 L1093,114 L1092,86 L1119,93" fill="none" stroke="#000" stroke-width="10" stroke-opacity="0.07" stroke-linecap="round" stroke-linejoin="round"/>
<path d="M1209,591 L1182,583 L1163,562 L1186,546 L1211,534" fill="none" stroke="#000" stroke-width="10" stroke-opacity="0.07" stroke-linecap="round" stroke-linejoin="round"/>
<path d="M1123,69 L1098,82 L1084,58 L1081,30" fill="none" stroke="#000" stroke-width="10" stroke-opacity="0.07" stroke-linecap="round" stroke-linejoin="round"/>
<path d="M831,684 L814,706 L827,730 L850,746" fill="none" stroke="#000" stroke-width="10" stroke-opacity="0.07" stroke-linecap="round" stroke-linejoin="round"/>
<path d="M920,645 L916,673 L895,692 L896,720" fill="none" stroke="#000" stroke-width="10" stroke-opacity="0.07" stroke-linecap="round" stroke-linejoin="round"/>
<path d="M894,514 L922,510 L948,500 L976,499 L990,523 L995,551" fill="none" stroke="#000" stroke-width="10" stroke-opacity="0.07" stroke-linecap="round" stroke-linejoin="round"/>
<path d="M1095,288 L1123,284 L1150,275 L1170,256 L1198,260 L1194,232 L1177,209" fill="none" stroke="#000" stroke-width="10" stroke-opacity="0.07" stroke-linecap="round" stroke-linejoin="round"/>
<path d="M1029,448 L1007,430 L997,457 L1011,481 L984,485 L992,512" fill="none" stroke="#000" stroke-width="10" stroke-opacity="0.07" stroke-linecap="round" stroke-linejoin="round"/>
<path d="M1216,814 L1188,811 L1161,805 L1146,781 L1124,763" fill="none" stroke="#000" stroke-width="10" stroke-opacity="0.07" stroke-linecap="round" stroke-linejoin="round"/>
<path d="M886,100 L858,105 L841,82 L815,72 L801,48 L786,71" fill="none" stroke="#000" stroke-width="10" stroke-opacity="0.07" stroke-linecap="round" stroke-linejoin="round"/>
<path d="M1152,1543 L1164,1517 L1149,1493 L1166,1470" fill="none" stroke="#000" stroke-width="10" stroke-opacity="0.07" stroke-linecap="round" stroke-linejoin="round"/>
<path d="M1189,527 L1178,501 L1155,485 L1160,513 L1185,525 L1201,548 L1210,574" fill="none" stroke="#000" stroke-width="10" stroke-opacity="0.07" stroke-linecap="round" stroke-linejoin="round"/>
<path d="M910,595 L885,608 L874,634 L858,657 L879,675 L899,655" fill="none" stroke="#000" stroke-width="10" stroke-opacity="0.07" stroke-linecap="round" stroke-linejoin="round"/>
<path d="M769,1368 L746,1384 L732,1409 L713,1429 L692,1447 L664,1447 L677,1422" fill="none" stroke="#000" stroke-width="10" stroke-opacity="0.07" stroke-linecap="round" stroke-linejoin="round"/>
<path d="M763,606 L744,586 L738,558 L710,558 L691,579" fill="none" stroke="#000" stroke-width="10" stroke-opacity="0.07" stroke-linecap="round" stroke-linejoin="round"/>
<path d="M1117,1131 L1090,1123 L1078,1097 L1077,1069 L1090,1044 L1099,1018 L1115,994" fill="none" stroke="#000" stroke-width="10" stroke-opacity="0.07" stroke-linecap="round" stroke-linejoin="round"/>
<path d="M690,153 L711,134 L728,157 L717,183 L705,158 L698,131 L696,103" fill="none" stroke="#000" stroke-width="10" stroke-opacity="0.07" stroke-linecap="round" stroke-linejoin="round"/>
<path d="M844,1084 L868,1069 L851,1047 L825,1036 L834,1009 L855,991 L877,1008" fill="none" stroke="#000" stroke-width="10" stroke-opacity="0.07" stroke-linecap="round" stroke-linejoin="round"/>
<path d="M676.0,80.0 C696.7,76.7 746.0,48.3 800.0,60.0 C854.0,71.7 941.7,105.0 1000.0,150.0 C1058.3,195.0 1108.3,255.0 1150.0,330.0 C1191.7,405.0 1231.7,505.0 1250.0,600.0 C1268.3,695.0 1268.3,808.3 1260.0,900.0 C1251.7,991.7 1226.7,1070.0 1200.0,1150.0 C1173.3,1230.0 1150.0,1315.0 1100.0,1380.0 C1050.0,1445.0 966.7,1510.0 900.0,1540.0 C833.3,1570.0 737.3,1560.0 700.0,1560.0 C662.7,1560.0 680.0,1543.3 676.0,1540.0 Z" fill="none" stroke="#555" stroke-width="60" stroke-opacity="0.10"/>
<path d="M676.0,80.0 C696.7,76.7 746.0,48.3 800.0,60.0 C854.0,71.7 941.7,105.0 1000.0,150.0 C1058.3,195.0 1108.3,255.0 1150.0,330.0 C1191.7,405.0 1231.7,505.0 1250.0,600.0 C1268.3,695.0 1268.3,808.3 1260.0,900.0 C1251.7,991.7 1226.7,1070.0 1200.0,1150.0 C1173.3,1230.0 1150.0,1315.0 1100.0,1380.0 C1050.0,1445.0 966.7,1510.0 900.0,1540.0 C833.3,1570.0 737.3,1560.0 700.0,1560.0 C662.7,1560.0 680.0,1543.3 676.0,1540.0 Z" fill="none" stroke="#555" stroke-width="24" stroke-opacity="0.10"/>
</g>
</g>
<text x="0.0" y="22.0" font-size="31" font-weight="bold">a</text>
<text x="1413.0" y="24.0" font-size="31" font-weight="bold">b</text>
<text x="0.0" y="429.7" font-size="31" font-weight="bold">c</text>
<text x="746.5" y="446.5" font-size="31" font-weight="bold">d</text>
<text x="1419.0" y="442.8" font-size="31" font-weight="bold">e</text>
<text x="2.8" y="875.8" font-size="31" font-weight="bold">f</text>
<text x="746.8" y="876.0" font-size="31" font-weight="bold">g</text>
<text x="1415.4" y="897.2" font-size="31" font-weight="bold">h</text>
<text x="2.6" y="1307.6" font-size="31" font-weight="bold">i</text>
<text x="746.4" y="1302.8" font-size="31" font-weight="bold">j</text>
<text x="1415.0" y="1306.6" font-size="31" font-weight="bold">k</text>
</svg>
</body></html>
